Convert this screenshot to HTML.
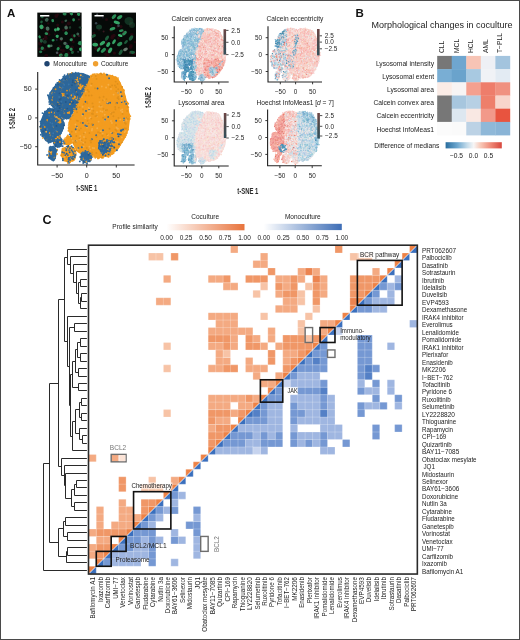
<!DOCTYPE html><html><head><meta charset="utf-8"><style>
html,body{margin:0;padding:0;background:#fff;}body{width:520px;height:640px;overflow:hidden;}
svg{display:block;font-family:"Liberation Sans",sans-serif;filter:blur(0.3px);}
</style></head><body>
<svg width="520" height="640" viewBox="0 0 520 640">
<rect x="0" y="0" width="520" height="640" fill="#fff"/>
<text x="7" y="17" font-size="11.5" font-weight="bold" fill="#111">A</text>
<text x="355.5" y="17.3" font-size="11.5" font-weight="bold" fill="#111">B</text>
<text x="42.5" y="223.8" font-size="12.5" font-weight="bold" fill="#111">C</text>
<rect x="37.3" y="12.6" width="44.3" height="44.3" fill="#060a08"/>
<clipPath id="cp1"><rect x="37.3" y="12.6" width="44.3" height="44.3"/></clipPath><g clip-path="url(#cp1)">
<circle cx="44" cy="49.4" r="1.8" fill="#2a0810" opacity="0.8"/>
<circle cx="49.1" cy="34.6" r="1.4" fill="#2a0810" opacity="0.8"/>
<circle cx="65.9" cy="47" r="1.1" fill="#2a0810" opacity="0.8"/>
<circle cx="39.5" cy="49" r="1.4" fill="#2a0810" opacity="0.8"/>
<circle cx="70.5" cy="13.7" r="1.4" fill="#2a0810" opacity="0.8"/>
<circle cx="68.8" cy="23.3" r="1.9" fill="#2a0810" opacity="0.8"/>
<circle cx="76.4" cy="14.9" r="1" fill="#2a0810" opacity="0.8"/>
<circle cx="61.2" cy="53.3" r="1.4" fill="#2a0810" opacity="0.8"/>
<circle cx="47.5" cy="31.5" r="1" fill="#2a0810" opacity="0.8"/>
<circle cx="47.7" cy="32.1" r="1.5" fill="#2a0810" opacity="0.8"/>
<circle cx="48.2" cy="23.4" r="1.2" fill="#2a0810" opacity="0.8"/>
<circle cx="57.7" cy="25.9" r="1" fill="#2a0810" opacity="0.8"/>
<circle cx="73.7" cy="37.1" r="1.6" fill="#2a0810" opacity="0.8"/>
<circle cx="46.2" cy="55.6" r="1.9" fill="#2a0810" opacity="0.8"/>
<circle cx="43.4" cy="27.7" r="1.7" fill="#2a0810" opacity="0.8"/>
<circle cx="68.4" cy="53.2" r="1.4" fill="#2a0810" opacity="0.8"/>
<circle cx="73.4" cy="42" r="1.3" fill="#2a0810" opacity="0.8"/>
<circle cx="63.2" cy="50.9" r="1.8" fill="#2a0810" opacity="0.8"/>
<circle cx="59.7" cy="38.5" r="1" fill="#2a0810" opacity="0.8"/>
<circle cx="48.6" cy="47.3" r="1.4" fill="#2a0810" opacity="0.8"/>
<circle cx="45.6" cy="36.8" r="1.7" fill="#2a0810" opacity="0.8"/>
<circle cx="66.8" cy="29.4" r="1.4" fill="#2a0810" opacity="0.8"/>
<circle cx="59.8" cy="46.5" r="1.5" fill="#2a0810" opacity="0.8"/>
<circle cx="54.9" cy="34.3" r="1" fill="#2a0810" opacity="0.8"/>
<circle cx="40.1" cy="43.4" r="2" fill="#2a0810" opacity="0.8"/>
<circle cx="63.4" cy="30.2" r="1.2" fill="#2a0810" opacity="0.8"/>
<circle cx="59.5" cy="55.1" r="1.8" fill="#2a0810" opacity="0.8"/>
<circle cx="61.1" cy="50" r="1.2" fill="#2a0810" opacity="0.8"/>
<circle cx="60" cy="53.9" r="1.6" fill="#2a0810" opacity="0.8"/>
<circle cx="57.7" cy="25" r="1.5" fill="#2a0810" opacity="0.8"/>
<circle cx="78.8" cy="13.8" r="1.8" fill="#2a0810" opacity="0.8"/>
<circle cx="73" cy="51.1" r="1.7" fill="#2a0810" opacity="0.8"/>
<circle cx="72.5" cy="35.5" r="1.6" fill="#2a0810" opacity="0.8"/>
<circle cx="56.3" cy="16" r="1.9" fill="#2a0810" opacity="0.8"/>
<circle cx="62.4" cy="22.1" r="1.5" fill="#2a0810" opacity="0.8"/>
<circle cx="58.8" cy="28.7" r="1.3" fill="#2a0810" opacity="0.8"/>
<circle cx="61.1" cy="40" r="1.6" fill="#2a0810" opacity="0.8"/>
<circle cx="57.7" cy="14.8" r="1.2" fill="#2a0810" opacity="0.8"/>
<circle cx="45.8" cy="38.3" r="1.9" fill="#2a0810" opacity="0.8"/>
<circle cx="72.1" cy="47.3" r="1.8" fill="#2a0810" opacity="0.8"/>
<ellipse cx="42.1" cy="16.6" rx="1.6" ry="1.7" fill="#1d5a3a" transform="rotate(117 42.1 16.6)"/>
<ellipse cx="64.6" cy="13.9" rx="2" ry="1.6" fill="#267e4e" transform="rotate(3 64.6 13.9)"/>
<ellipse cx="71.4" cy="13.7" rx="1.8" ry="1.4" fill="#2a9058" transform="rotate(48 71.4 13.7)"/>
<ellipse cx="78.6" cy="14.2" rx="1.6" ry="1.7" fill="#2a9058" transform="rotate(115 78.6 14.2)"/>
<ellipse cx="41.5" cy="21.9" rx="1.5" ry="1.3" fill="#1d5a3a" transform="rotate(111 41.5 21.9)"/>
<ellipse cx="46.7" cy="19.8" rx="2" ry="1.8" fill="#3a5e4e" transform="rotate(140 46.7 19.8)"/>
<ellipse cx="52.7" cy="20.6" rx="1.6" ry="1.4" fill="#2b8c57" transform="rotate(81 52.7 20.6)"/>
<ellipse cx="65.8" cy="20.7" rx="1.4" ry="1.1" fill="#3a5e4e" transform="rotate(152 65.8 20.7)"/>
<ellipse cx="73.6" cy="19.8" rx="1.6" ry="1.4" fill="#2a9058" transform="rotate(81 73.6 19.8)"/>
<ellipse cx="41.5" cy="26.8" rx="2.1" ry="2.3" fill="#36a466" transform="rotate(158 41.5 26.8)"/>
<ellipse cx="47.6" cy="28.6" rx="1.9" ry="2.1" fill="#4a6a5a" transform="rotate(169 47.6 28.6)"/>
<ellipse cx="55.4" cy="29.9" rx="1.6" ry="1.3" fill="#36a466" transform="rotate(63 55.4 29.9)"/>
<ellipse cx="58.1" cy="29.1" rx="1.7" ry="1.7" fill="#3fb271" transform="rotate(23 58.1 29.1)"/>
<ellipse cx="66.1" cy="27.6" rx="1.9" ry="1.8" fill="#4a6a5a" transform="rotate(78 66.1 27.6)"/>
<ellipse cx="70" cy="27.5" rx="1.4" ry="1.2" fill="#1a3a2a" transform="rotate(77 70 27.5)"/>
<ellipse cx="80.2" cy="27.5" rx="1.6" ry="1.2" fill="#1a3a2a" transform="rotate(23 80.2 27.5)"/>
<ellipse cx="39.6" cy="36.9" rx="1.6" ry="1.2" fill="#2a9058" transform="rotate(68 39.6 36.9)"/>
<ellipse cx="46.4" cy="33.6" rx="1.8" ry="1.4" fill="#2b8c57" transform="rotate(2 46.4 33.6)"/>
<ellipse cx="57.2" cy="36.3" rx="1.6" ry="1.6" fill="#36a466" transform="rotate(25 57.2 36.3)"/>
<ellipse cx="66.1" cy="33.2" rx="1.8" ry="1.8" fill="#2b8c57" transform="rotate(44 66.1 33.2)"/>
<ellipse cx="74.4" cy="35.7" rx="1.5" ry="1.2" fill="#267e4e" transform="rotate(78 74.4 35.7)"/>
<ellipse cx="77.8" cy="34" rx="1.5" ry="1.4" fill="#3a5e4e" transform="rotate(32 77.8 34)"/>
<ellipse cx="41.3" cy="40.8" rx="2" ry="1.6" fill="#1d5a3a" transform="rotate(80 41.3 40.8)"/>
<ellipse cx="44.9" cy="41.9" rx="2" ry="1.9" fill="#1a3a2a" transform="rotate(176 44.9 41.9)"/>
<ellipse cx="53.1" cy="40.2" rx="1.5" ry="1.3" fill="#2a9058" transform="rotate(170 53.1 40.2)"/>
<ellipse cx="61.4" cy="38.8" rx="1.6" ry="1.6" fill="#4a6a5a" transform="rotate(110 61.4 38.8)"/>
<ellipse cx="65" cy="43.4" rx="1.8" ry="1.7" fill="#4a6a5a" transform="rotate(2 65 43.4)"/>
<ellipse cx="71.3" cy="39.7" rx="1.7" ry="1.5" fill="#2a9058" transform="rotate(165 71.3 39.7)"/>
<ellipse cx="80.1" cy="43.2" rx="2.1" ry="2.2" fill="#2b8c57" transform="rotate(90 80.1 43.2)"/>
<ellipse cx="42.3" cy="48.3" rx="1.8" ry="1.7" fill="#267e4e" transform="rotate(101 42.3 48.3)"/>
<ellipse cx="49.1" cy="46.1" rx="1.8" ry="1.5" fill="#3fb271" transform="rotate(1 49.1 46.1)"/>
<ellipse cx="51.1" cy="45.8" rx="1.5" ry="1.3" fill="#4a6a5a" transform="rotate(175 51.1 45.8)"/>
<ellipse cx="58.1" cy="48.7" rx="1.8" ry="1.5" fill="#2b8c57" transform="rotate(122 58.1 48.7)"/>
<ellipse cx="67.4" cy="46.8" rx="2.1" ry="2.1" fill="#30995d" transform="rotate(167 67.4 46.8)"/>
<ellipse cx="71.1" cy="49.2" rx="1.6" ry="1.6" fill="#2a9058" transform="rotate(130 71.1 49.2)"/>
<ellipse cx="80.6" cy="49.3" rx="1.9" ry="1.6" fill="#36a466" transform="rotate(79 80.6 49.3)"/>
<ellipse cx="40.7" cy="51.8" rx="1.6" ry="1.4" fill="#24704a" transform="rotate(179 40.7 51.8)"/>
<ellipse cx="60.8" cy="55.3" rx="1.9" ry="1.7" fill="#2a9058" transform="rotate(155 60.8 55.3)"/>
<ellipse cx="66.3" cy="55.1" rx="2.1" ry="2" fill="#267e4e" transform="rotate(109 66.3 55.1)"/>
<ellipse cx="72.4" cy="52.4" rx="1.6" ry="1.5" fill="#1d5a3a" transform="rotate(126 72.4 52.4)"/>
<circle cx="67.1" cy="43.9" r="0.8" fill="#3a2a5a" opacity="0.6"/>
<circle cx="61.3" cy="55.7" r="1" fill="#5a2030" opacity="0.6"/>
<circle cx="72.5" cy="40.2" r="0.8" fill="#5a2030" opacity="0.6"/>
<circle cx="78.9" cy="19.5" r="1.1" fill="#5a2030" opacity="0.6"/>
<circle cx="57.1" cy="52.7" r="1.3" fill="#7a7f8a" opacity="0.6"/>
<circle cx="78.1" cy="51.8" r="0.9" fill="#556b7a" opacity="0.6"/>
<circle cx="56.8" cy="39.9" r="0.9" fill="#3a2a5a" opacity="0.6"/>
<circle cx="43.3" cy="39" r="0.9" fill="#5a2030" opacity="0.6"/>
<circle cx="66.2" cy="25.3" r="0.9" fill="#5a2030" opacity="0.6"/>
<circle cx="78.9" cy="35.9" r="1" fill="#5a2030" opacity="0.6"/>
</g>
<rect x="40.1" y="15" width="9.2" height="1.5" fill="#fff"/>
<rect x="91.7" y="12.6" width="44.3" height="44.3" fill="#060a08"/>
<clipPath id="cp2"><rect x="91.7" y="12.6" width="44.3" height="44.3"/></clipPath><g clip-path="url(#cp2)">
<circle cx="133.1" cy="53.7" r="1.1" fill="#2a0810" opacity="0.8"/>
<circle cx="96.3" cy="48.9" r="1.7" fill="#2a0810" opacity="0.8"/>
<circle cx="121" cy="26.6" r="1.6" fill="#2a0810" opacity="0.8"/>
<circle cx="118.4" cy="38.2" r="1.2" fill="#2a0810" opacity="0.8"/>
<circle cx="110.9" cy="30.2" r="1.7" fill="#2a0810" opacity="0.8"/>
<circle cx="134.8" cy="53.8" r="1.5" fill="#2a0810" opacity="0.8"/>
<circle cx="111.5" cy="24.9" r="1" fill="#2a0810" opacity="0.8"/>
<circle cx="93.9" cy="33.3" r="1.3" fill="#2a0810" opacity="0.8"/>
<circle cx="108.8" cy="51.3" r="1.5" fill="#2a0810" opacity="0.8"/>
<circle cx="116.4" cy="23.6" r="1" fill="#2a0810" opacity="0.8"/>
<circle cx="106.5" cy="19.4" r="1.5" fill="#2a0810" opacity="0.8"/>
<circle cx="134.9" cy="42.1" r="1.2" fill="#2a0810" opacity="0.8"/>
<circle cx="130.5" cy="47.3" r="1.7" fill="#2a0810" opacity="0.8"/>
<circle cx="131" cy="45.9" r="1.8" fill="#2a0810" opacity="0.8"/>
<circle cx="107.7" cy="55.1" r="2" fill="#2a0810" opacity="0.8"/>
<circle cx="99.5" cy="45.5" r="1.7" fill="#2a0810" opacity="0.8"/>
<circle cx="112.2" cy="36" r="1.5" fill="#2a0810" opacity="0.8"/>
<circle cx="131.8" cy="34.8" r="1.8" fill="#2a0810" opacity="0.8"/>
<circle cx="107.7" cy="50.9" r="1.9" fill="#2a0810" opacity="0.8"/>
<circle cx="112.2" cy="37.6" r="1.9" fill="#2a0810" opacity="0.8"/>
<circle cx="123.3" cy="34.2" r="1.2" fill="#2a0810" opacity="0.8"/>
<circle cx="106.4" cy="43.2" r="1.2" fill="#2a0810" opacity="0.8"/>
<circle cx="131.1" cy="24.9" r="1.9" fill="#2a0810" opacity="0.8"/>
<circle cx="105.8" cy="54.1" r="1.7" fill="#2a0810" opacity="0.8"/>
<circle cx="114" cy="35.5" r="1.7" fill="#2a0810" opacity="0.8"/>
<circle cx="117.6" cy="26.8" r="1.2" fill="#2a0810" opacity="0.8"/>
<circle cx="114.4" cy="53.1" r="1.6" fill="#2a0810" opacity="0.8"/>
<circle cx="95.9" cy="48.3" r="1.7" fill="#2a0810" opacity="0.8"/>
<circle cx="131.1" cy="21.7" r="1.7" fill="#2a0810" opacity="0.8"/>
<circle cx="95.2" cy="41.2" r="1.3" fill="#2a0810" opacity="0.8"/>
<ellipse cx="129" cy="21" rx="4.5" ry="4" fill="#1c5236" opacity="0.55"/><ellipse cx="132" cy="25" rx="3" ry="3" fill="#1c5236" opacity="0.5"/>
<ellipse cx="99" cy="27" rx="3" ry="2.5" fill="#17402c" opacity="0.9"/>
<ellipse cx="95.2" cy="44.6" rx="2.9" ry="1.9" fill="#35a466" transform="rotate(6 95.2 44.6)"/>
<ellipse cx="102.4" cy="43.2" rx="3.1" ry="1.7" fill="#35a466" transform="rotate(-34 102.4 43.2)"/>
<ellipse cx="108.2" cy="44.6" rx="2.7" ry="1.7" fill="#35a466" transform="rotate(-56 108.2 44.6)"/>
<ellipse cx="114" cy="41.7" rx="2.7" ry="1.4" fill="#35a466" transform="rotate(-57 114 41.7)"/>
<ellipse cx="98.6" cy="49.4" rx="2.5" ry="1.3" fill="#35a466" transform="rotate(-55 98.6 49.4)"/>
<ellipse cx="103.4" cy="50.4" rx="3.1" ry="1.7" fill="#2a8a55" transform="rotate(-44 103.4 50.4)"/>
<ellipse cx="110.1" cy="50.4" rx="3" ry="1.7" fill="#35a466" transform="rotate(-60 110.1 50.4)"/>
<ellipse cx="119.7" cy="44.1" rx="2.9" ry="1.8" fill="#2a8a55" transform="rotate(-29 119.7 44.1)"/>
<ellipse cx="116.8" cy="22.5" rx="3.2" ry="1.6" fill="#35a466" transform="rotate(18 116.8 22.5)"/>
<ellipse cx="112.5" cy="28.8" rx="3" ry="1.5" fill="#2f9a5e" transform="rotate(-17 112.5 28.8)"/>
<ellipse cx="120.2" cy="35.5" rx="2.4" ry="1.4" fill="#3db070" transform="rotate(17 120.2 35.5)"/>
<ellipse cx="121.2" cy="30.7" rx="2.4" ry="1.3" fill="#2a8a55" transform="rotate(-9 121.2 30.7)"/>
<ellipse cx="119.7" cy="17.2" rx="3" ry="1.7" fill="#2f9a5e" transform="rotate(-32 119.7 17.2)"/>
<ellipse cx="114" cy="16.7" rx="2.9" ry="1.6" fill="#2a8a55" transform="rotate(-47 114 16.7)"/>
<ellipse cx="124.5" cy="33.1" rx="2.8" ry="1.7" fill="#2a8a55" transform="rotate(-44 124.5 33.1)"/>
<ellipse cx="132.2" cy="52.3" rx="2.9" ry="1.6" fill="#1d5a3a" transform="rotate(5 132.2 52.3)"/>
<ellipse cx="125.5" cy="49.4" rx="2.5" ry="1.6" fill="#6a7a70" transform="rotate(-27 125.5 49.4)"/>
<ellipse cx="120.7" cy="52.3" rx="2.9" ry="1.6" fill="#1d5a3a" transform="rotate(-58 120.7 52.3)"/>
<ellipse cx="107" cy="38" rx="2.8" ry="1.5" fill="#1d5a3a" transform="rotate(-53 107 38)"/>
<ellipse cx="126" cy="42" rx="2.4" ry="1.3" fill="#1d5a3a" transform="rotate(-48 126 42)"/>
<ellipse cx="131" cy="38" rx="2.9" ry="1.7" fill="#1d5a3a" transform="rotate(-56 131 38)"/>
<ellipse cx="93.5" cy="36" rx="2.6" ry="1.5" fill="#1d5a3a" transform="rotate(-28 93.5 36)"/>
<circle cx="96.1" cy="23.3" r="1.2" fill="#556b7a" opacity="0.6"/>
<circle cx="103.6" cy="31.5" r="1" fill="#5a2030" opacity="0.6"/>
<circle cx="99.1" cy="29.9" r="0.7" fill="#5a2030" opacity="0.6"/>
<circle cx="102.9" cy="17.8" r="0.7" fill="#3a2a5a" opacity="0.6"/>
<circle cx="97.2" cy="14.6" r="1.1" fill="#7a7f8a" opacity="0.6"/>
<circle cx="105.8" cy="40.7" r="0.7" fill="#3a2a5a" opacity="0.6"/>
<circle cx="123.5" cy="31.9" r="1" fill="#5a2030" opacity="0.6"/>
<circle cx="130" cy="52.9" r="1" fill="#5a2030" opacity="0.6"/>
<circle cx="120.8" cy="33.9" r="0.6" fill="#5a2030" opacity="0.6"/>
<circle cx="118.5" cy="25.8" r="1.3" fill="#556b7a" opacity="0.6"/>
</g>
<rect x="94.5" y="15" width="9.2" height="1.5" fill="#fff"/>
<circle cx="47" cy="63.8" r="2.7" fill="#1f4470"/>
<text x="53.3" y="66.4" font-size="7.2" fill="#222" textLength="33.7" lengthAdjust="spacingAndGlyphs">Monoculture</text>
<circle cx="95.6" cy="63.8" r="2.7" fill="#f0a030"/>
<text x="100.9" y="66.4" font-size="7.2" fill="#222" textLength="27.5" lengthAdjust="spacingAndGlyphs">Coculture</text>
<g opacity="1">
<path d="M90.3 75.9L93.8 74.1L101.5 73.5L110.4 74.7L116.9 77L120.4 82.2L124.6 92L128.1 105.2L130.2 117.9L128.7 129.4L124.6 139.2L118.1 149.6L110.4 155.9L99.7 158.2L91.4 157.1L84.3 155.9L79.6 153.6L76 150.2L73.1 144.4L71.3 137.5L68.3 130.6L68.3 122.5L73.7 112.1L78.4 101.8L83.1 92L86.7 82.2Z" fill="#f39c1f"/>
<path d="M61.8 147.9L68.9 145.5L74.9 147.9L76.6 153.6L74.9 160.5L68.9 162.8L63 161.1L60.7 154.8Z" fill="#f39c1f"/>
<path d="M63 140.9L67.2 135.2L70.7 136.3L72.5 143.2L68.9 145.5L63 144.4Z" fill="#f39c1f"/>
<path d="M70.1 73L77.8 72.4L84.3 73.5L90.3 75.9L87.9 82.2L84.3 92L79.6 100.6L74.9 109.8L70.7 116.2L67.2 119.6L63 118.5L58.3 115L54.1 109.8L50 104.1L48.2 98.9L50 92L54.1 86.2L58.9 81L64.2 76.4Z" fill="#2d679a"/>
<path d="M54.1 109.8L49.4 107.5L44.1 112.1L40.5 120.8L39.9 128.3L41.7 135.2L45.3 140.9L50 143.2L55.3 140.9L60.1 136.3L63 130.6L64.8 123.7L63 119.1Z" fill="#2d679a"/>
<path d="M53 135.8L58.9 134.6L62.4 139.2L61.8 146.7L57.1 147.9L53 143.8Z" fill="#2d679a"/>
<path d="M48.8 146.7L54.1 145.5L57.1 150.2L55.9 158.2L52.4 161.1L48.2 158.2Z" fill="#2d679a"/>
<path d="M80.8 152.5L87.9 150.7L92.6 154.2L91.4 161.1L84.9 163.4L80.2 159.4Z" fill="#2d679a"/>
<path d="M98.5 142.1L104.5 138.6L110.4 140.9L113.9 146.7L110.4 152.5L103.3 154.2L97.9 149.6Z" fill="#2d679a"/>
</g>
<path stroke="#f39c1f" stroke-width="1.9" stroke-linecap="round" fill="none" d="M81.9 113.3h0M126 120.4h0M86.8 109.4h0M80 85.1h0M81.5 137.3h0M69.9 142.4h0M110.6 128.2h0M117.5 127.2h0M90.2 122.9h0M51.7 104.2h0M59.9 137.7h0M118.4 103.9h0M111.6 133h0M67.2 158.3h0M74.9 122h0M93.2 84h0M108.9 77.4h0M122.2 107.9h0M93.9 137.1h0M96 138.7h0M80.8 158.1h0M91.8 151.1h0M103.3 109.3h0M104 73.4h0M83 95.2h0M108.8 80.2h0M108.2 98.3h0M113.7 77.8h0M119.5 108.6h0M96.6 126.5h0M93.1 107.1h0M106.7 126.6h0M80.3 85.2h0M83.8 141.6h0M103.3 118.3h0M96.2 77.3h0M123.4 102.5h0M113.2 77.8h0M121.3 128.3h0M93 134.2h0M116.9 84.4h0M105.9 75.1h0M66.2 148h0M81.2 138.5h0M98.4 121.5h0M97 103.2h0M102.9 144.2h0M95.8 93.3h0M96.8 80.2h0M74 110.5h0M120.7 89.1h0M126.3 121.7h0M106.6 87.5h0M118.4 131h0M90.6 91.5h0M83.5 160.1h0M112 147.6h0M70.2 89.5h0M116.8 99.5h0M127.5 117.6h0M118 111.6h0M118.1 80h0M129.3 114.9h0M93 144.5h0M89.7 116.7h0M130.3 116.3h0M90.9 117.5h0M89.1 124.7h0M115.4 80.5h0M88.4 123h0M74.2 124.4h0M98.3 114.9h0M118.4 106.8h0M118.9 142.6h0M108 89.1h0M123.7 134.1h0M63.3 154.8h0M112.9 151.7h0M102.8 77h0M85.8 93.7h0M85.9 100h0M91.7 149.4h0M81.9 92.9h0M70.3 120.3h0M87 124.5h0M105.5 85.7h0M107.5 126.2h0M121.8 87.7h0M105.9 83.2h0M98.7 126.9h0M94.7 117.2h0M109.2 91.4h0M116.3 127h0M104.8 91.7h0M109.4 125.1h0M71 119.3h0M97.9 106.6h0M100 110.5h0M88.7 127.1h0M104.6 92.7h0M96.2 95.3h0M75.2 156.3h0M90.9 117.3h0M95.1 92.9h0M125.9 126h0M72.8 138.3h0M99.6 111.8h0M64.9 96.4h0M75.5 79.9h0M79.1 121h0M106.3 119.7h0M96.1 153h0M97.9 121.2h0M89.3 152.5h0M81.1 101.3h0M112.9 105.4h0M71.4 139.5h0M103.2 111.2h0M95.3 105.8h0M96.8 154.2h0M91.1 104.8h0M74.1 119.2h0M108.7 85.8h0M114.4 104.6h0M113.7 129.4h0M69.1 113h0M109.2 77.5h0M91.8 119h0M58.2 101.9h0M107.3 99.3h0M71.4 95.2h0M104.8 111h0M113.9 135h0M68.8 125.4h0M71.9 129.5h0M114.3 113.3h0M116.3 112.1h0M89.9 111.3h0M91 89.6h0M109 80.1h0M60.5 92.2h0M88 92.3h0M75.1 132.2h0M85.1 113h0M105.4 98.2h0M124.7 126.2h0M115.2 100.6h0M117.5 90.1h0M116.7 80.8h0M87.8 97.8h0M113.2 125.5h0M78.3 150.1h0M59.1 122.8h0M95.4 78.1h0M93.6 144.2h0M56.2 137.8h0M54.6 93.1h0M67.7 112.8h0M114.1 119h0M113.7 128.4h0M88.2 115.7h0M105.9 107.7h0M69.2 139.8h0M120.8 116.6h0M118 87.3h0M106.3 154.6h0M84.1 119h0M127.8 109.6h0M112.1 124.8h0M115.2 145.2h0M90.4 114.7h0M41 128.4h0M106.1 141.8h0M91.4 121h0M113.5 145.1h0M96.5 136.8h0M73.8 114.9h0M106.8 134.1h0M126.7 111.3h0M106.1 134.1h0M102.1 97.6h0M87.1 104.3h0M110.2 87.5h0M75.4 133.5h0M77.4 98.3h0M100.4 107.4h0M123.3 112.2h0M72.6 117.5h0M52.8 97.5h0M105.5 86.7h0M97.1 144.6h0M93.3 99.7h0M72.4 121.2h0M90.7 139.9h0M115.3 108.1h0M66.4 80.4h0M61.5 109.5h0M116.9 146.1h0M100.9 134.6h0M102.9 94.2h0M58.3 120.3h0M92.9 148.1h0M86.7 139h0M93.4 132.7h0M128.3 107.4h0M83.2 125.7h0M97.1 99.7h0M109.9 94.3h0M77.4 123.2h0M91.8 81.1h0M88.2 114.6h0M107.5 80.5h0M107.3 108h0M109.4 135.3h0M95.3 157.7h0M85.1 128h0M88.3 141.6h0M101.8 83.1h0M91.7 80.8h0M122.1 87.2h0M76 129.9h0M83 145h0M83.6 147.3h0M103.9 77.2h0M59.8 135.8h0M100.9 90.4h0M119.9 108.6h0M126.1 101.8h0M80.6 116h0M95.2 137.7h0M82 93.9h0M85.3 148h0M90.8 103.3h0M112.7 116h0M85.8 85.7h0M102.9 115h0M111.9 149.4h0M96.1 142.1h0M112.3 91.4h0M59.7 118h0M95.6 97.5h0M92.6 81.8h0M57.1 149.8h0M79.3 123.5h0M98 115.3h0M64.4 109.8h0M117.7 89.3h0M74.4 144.4h0M85.4 92.7h0M76.1 135.7h0M110.2 94.8h0M91 141.2h0M73.3 132.1h0M120.9 109.9h0M121.9 119.8h0M59.3 120.2h0M75.3 155.1h0M103.2 130.6h0M56.2 139.9h0M104.9 137.2h0M72.6 150.1h0M111.8 98.1h0M68.6 128h0M90.7 150.4h0M104.8 140.2h0M77.1 127h0M119.2 143.4h0M91.5 88.2h0M102.1 78.1h0M100.6 73.9h0M120.2 142.2h0M98.5 155.9h0M79.7 127.6h0M66.6 148.6h0M77.5 119.9h0M62.4 156h0M71.9 125.1h0M104.4 112.5h0M44.9 126.8h0M93.9 120.5h0M69.6 140.4h0M96.4 75.6h0M96.9 106.3h0M78 125.5h0M122.2 128.5h0M102.8 141.8h0M86.3 104.6h0M91 106.1h0M90.9 86.6h0M104.8 99.9h0M85.1 112.1h0M72.8 137.6h0M107.3 114h0M111 119.7h0M113.2 127.6h0M106 141h0M105.1 133.3h0M117.5 86.5h0M92.9 125.3h0M104.6 106h0M116.8 88.5h0M93.1 75.6h0M103.3 124.3h0M97.8 127.4h0M70 162.2h0M90.2 119h0M75 135.1h0M114.3 85.2h0M98.6 91.4h0M104.9 112.6h0M113.5 151h0M92 151.8h0M96.7 138.4h0M58.7 118.6h0M122.6 135.2h0M84.8 125.6h0M114.9 125.9h0M100 105.1h0M80.1 87.1h0M88.7 88h0M115.5 91.2h0M127.7 127.5h0M92.7 142.1h0M75.5 129.4h0M99.4 88h0M72.6 137.7h0M123.5 135.1h0M108.8 113h0M70.1 123.8h0M77.4 134.7h0M98.7 129.3h0M98.5 145h0M97.2 80.3h0M118.1 105.7h0M103.1 122.5h0M100.7 125.4h0M75.5 142.6h0M94.6 109.6h0M98.8 122.6h0M95.2 107.9h0M107.9 134.5h0M118 102.9h0M120.5 97.9h0M81 113.1h0M120.1 144.9h0M112.4 117.7h0M118.3 91.5h0M89.6 79h0M112.4 149.3h0M120.4 87.2h0M96.8 78.9h0M121.2 97.3h0M97.6 138.6h0M95.7 97.8h0M104.3 121.2h0M51.4 151.9h0M107.5 129.9h0M78.9 88.2h0M75.7 122.1h0M102 121.2h0M109 107.8h0M76.3 138.1h0M101.5 142h0M78.3 151.4h0M122.1 140.4h0M77.5 131.3h0M94.9 113.6h0M74.9 96.6h0M101.4 131.7h0M83.2 130.5h0M82.8 134h0M102.5 107.3h0M107.2 156.4h0M97.5 94.2h0M62.4 88.4h0M107.1 91.1h0M90.3 114.8h0M87.4 137h0M59.9 121.5h0M91.6 122.4h0M129.2 114.4h0M54.1 89h0M109.1 97.1h0M99.6 83.8h0M100.5 81.3h0M108.1 139.7h0M73.9 123.3h0M83.2 130.7h0M89.6 126.4h0M73.6 134.2h0M83.9 141.4h0M107.8 118.3h0M40.4 126.6h0M94.6 75.5h0M73.8 108.5h0M74 136.6h0M96.2 109.4h0M88.6 93.7h0M113.9 124.9h0M119.7 126h0M117.2 133.5h0M112.2 103.2h0M108 125.7h0M112 123.9h0M82 123.6h0M100.7 113h0M68.4 74.2h0M91.1 78.2h0M80.2 128.1h0M102.1 77h0M84.3 100.3h0M76.1 91.4h0M57.3 131.4h0M76.7 110.1h0M118.4 130.7h0M94.3 119.5h0M105 141.7h0M63.3 95.4h0M74.8 97.5h0M79.7 106.7h0M123.3 120h0M86 141.8h0M108.6 153.3h0M69.8 149.8h0M112.7 142.8h0M96.7 151.8h0M109.7 110.3h0M103.3 131h0M105.6 138.9h0M89.7 141.6h0M65.7 140.2h0M51.6 117.5h0M118.2 82.8h0M106.8 114.7h0M101 78.6h0M110.1 139.8h0M60.8 122.5h0M73.8 96.2h0M100.9 156.4h0M118.3 90.8h0M86.6 130.4h0M86.3 144.9h0M105.8 125.8h0M85.1 112.7h0M94.2 98.1h0M94.5 107.2h0M117.3 100.6h0M87.2 110.2h0M110.3 88.6h0M116.4 126.2h0M70.8 130.8h0M87.9 133.3h0M102.4 120.9h0M112.5 113.9h0M73.1 130.6h0M112.7 91.7h0M70.1 90.7h0M74.4 137.2h0M94.7 94.4h0M82.9 88h0M74.6 158.6h0M70.4 77.2h0M121.9 95.8h0M128.1 121.3h0M74.2 153.3h0M89.3 111.5h0M110.6 114.7h0M125.1 117.4h0M93.2 137.6h0M117.9 120.7h0M108.9 126.1h0M86 103.2h0M82.8 146.7h0M96.3 131.2h0M85 105.8h0M68.5 130.7h0M120.6 109.6h0M77.5 114.9h0M83.8 133.4h0M64.3 111.3h0M116.3 89.6h0M63.2 80.7h0M84.6 123.4h0M85.2 118.1h0M115.8 88.4h0M104.6 90.8h0M106.6 88.2h0M113.6 147.7h0M114.6 135.6h0M95.1 79.9h0M120.1 93.2h0M112.8 79.9h0M91.3 76.2h0M98 116.4h0M100.7 93.6h0M104.2 115.7h0M68.5 140.5h0M102.9 76h0M124.2 136.6h0M127.5 107.5h0M70.3 136.7h0M89.8 120.1h0M127 103.7h0M77.8 125.2h0M60.5 119.4h0M78.4 101.2h0M110.2 112.2h0M97.8 76.5h0M87.3 146.4h0M106.6 133.8h0M110 102.8h0M105.4 123.8h0M93 93.5h0M102 105.2h0M84.5 109.5h0M59 82h0M87 125.1h0M105.4 121.5h0M73.6 124.5h0M82.1 134.6h0M97.3 125.7h0M81.8 121h0M120.7 122.7h0M76.9 101.5h0M109.1 135.2h0M106 74.5h0M100.7 102.1h0M80.2 103.6h0M71.4 97.4h0M111.2 139.9h0M96.6 144.3h0M115.7 86.3h0M105.8 92.9h0M109.6 110.1h0M91.4 113.7h0M88.4 118.3h0M76.9 150.4h0M97 121.2h0M92.1 75.3h0M103.1 100h0M115.9 129h0M48.8 155.7h0M113.3 95.4h0M116 82.9h0M104 132.8h0M120.6 142.6h0M84.3 135h0M80.6 88h0M71.1 122.1h0M79.5 88h0M93.9 84.9h0M55.7 138.4h0M102.3 98.4h0M73.2 130.4h0M63.8 152.9h0M118 119.3h0M87.9 134.8h0M121.4 93.6h0M96.1 102.8h0M104.3 117.1h0M77.3 127.5h0M88.4 115.1h0M113.2 81.8h0M67.8 162.9h0M112.9 107h0M108.4 122.2h0M86.1 135.2h0M118.7 116h0M100 153.7h0M91.7 76.9h0M93 111h0M56 120.8h0M58.3 123h0M93.9 104.5h0M100.6 144.4h0M91 155h0M98.8 139.5h0M115.6 97.8h0M70.1 140.5h0M116.4 147.7h0M115.8 140h0M106.2 146.4h0M124.3 101.7h0M97.9 128.6h0M105.3 117.7h0M74.4 114.3h0M93.8 77.6h0M86.7 93h0M91 142.2h0M82.8 85.7h0M97.4 94.7h0M111.2 96.6h0M121.8 128.9h0M118.4 108.2h0M88 128.8h0M86.9 127.3h0M97.3 146.4h0M121.4 109.3h0M76.7 114.6h0M74.5 97.1h0M73.7 98.6h0M109.5 90.9h0M104.2 77.6h0M117.8 92.8h0M108.1 82h0M93.9 81.1h0M91.7 152.5h0M97.7 137.2h0M118.5 147.2h0M91 132.8h0M97.9 158.4h0M105.5 141.6h0M86.2 95.8h0M78.8 134.6h0M76.8 134.8h0M108.7 120h0M77.6 147.6h0M105.9 110.4h0M100.4 74.7h0M115.5 99.7h0M89.9 84h0M73.4 152.3h0M94.6 87.1h0M71.2 152.2h0M101.2 94.4h0M122.3 111.7h0M94.4 83.2h0M98.3 121.4h0M86.2 115.2h0M95.7 100.8h0M86.5 89.1h0M84.6 127.2h0M84 131.6h0M95.9 93.2h0M122.6 119.4h0M121.6 95h0M59.4 122.4h0M126.9 133h0M100.5 120h0M123.6 89.6h0M96.3 121.8h0M127.3 106.8h0M122.9 89.4h0M68.4 148.9h0M108 92.6h0M70.3 124.2h0M116.1 117.2h0M99.1 130.1h0M73.6 148.3h0M94.7 106.5h0M112.4 107.7h0M76.6 104.4h0M75.8 125.8h0M71.2 131.6h0M102 85.9h0M125.9 135.4h0M62.2 93.5h0M57.9 137h0M99.2 88.7h0M113.3 108h0M95.3 132.8h0M78 149h0M110.5 104.5h0M89.1 126.6h0M88 96.8h0M103.9 111.9h0M113.1 86.7h0M79.5 121.3h0M92.4 137.7h0M111 132.5h0M117.2 88.9h0M46.6 139.2h0M110.9 108.1h0M100.1 125.5h0M88.6 145.1h0M83 139.9h0M102.7 153.5h0M87.7 109.7h0M116.8 128.2h0M105.9 90.7h0M80.2 121.5h0M82.9 130.2h0M81.6 99.8h0M104.8 134h0M92.9 149.6h0M72.7 160.7h0M73.5 134.8h0M57 154h0M111.3 96.5h0M71.5 120h0M115.6 77.3h0M113.5 153.2h0M115.3 100.1h0M119.2 117.2h0M127.2 108.6h0M62.4 95.7h0M70 142.8h0M77.6 112.2h0M75.2 111.7h0M102.6 132.3h0M86.4 127.5h0M67.8 136.4h0M85.5 131.6h0M112.5 85.1h0M121.6 95.7h0M103.3 121.1h0M88.5 110.3h0M87 88.2h0M109 106.4h0M94.8 79.5h0M54.1 112.7h0M52.8 92.3h0M83.9 96.1h0M108.6 83.2h0M111.8 138.5h0M125.2 115.4h0M70.8 154.4h0M49.4 133h0M79.5 107.9h0M82.7 102.4h0M95.4 131.5h0M112.9 81.5h0M63 154.6h0M105.6 119.9h0M109.3 93.4h0M86.7 139.6h0M89.1 101.9h0M69.9 104h0M118.3 87.3h0M107.7 86.6h0M102.3 101.9h0M103.4 128.7h0M99.6 157.2h0M122.8 96.2h0M113.2 120.2h0M60.4 121h0M103 112.2h0M77 141.1h0M125.1 100.4h0M94.9 96.3h0M96.6 128.9h0M102 78.7h0M101.4 107.4h0M96.3 104.6h0M118.5 108.1h0M117.2 105.8h0M122.5 126.6h0M76.7 138.2h0M103.8 155.1h0M87.4 138.9h0M89.9 158.8h0M115.1 92h0M104.6 109.3h0M98.4 107.4h0M87.4 139h0M106.3 115.9h0M116.6 118.2h0M104.6 98.2h0M93.6 125.9h0M87.3 138.2h0M95.7 106.1h0M85.7 125h0M104.5 141.6h0M90.7 159.5h0M80.7 106.8h0M100.4 156.7h0M78.9 87.8h0M91.3 114.2h0M105.3 76.6h0M57.3 117.5h0M118.9 81.4h0M95.6 120.3h0M51.1 151.7h0M93.9 103.6h0M113.6 86.8h0M102 88.4h0M117.3 86.2h0M113 143.4h0M110.7 118.9h0M127 116.9h0M115.8 94.5h0M119.6 121.5h0M113.2 111.8h0M78 150.6h0M79.2 151.9h0M115.8 106.4h0M119.6 113h0M117.4 109.6h0M100 105.7h0M78.4 83.8h0M125.8 108.6h0M92.1 124.7h0M123.9 95.1h0M102 80.2h0M92.8 138.8h0M100.6 136h0M95.2 142.2h0M96.9 109.4h0M69.4 128.5h0M92.7 140.6h0M99.8 83.8h0M80.5 84.3h0M90.8 115.8h0M95.5 112.4h0M90.2 142.2h0M98.6 107.8h0M98.2 119.5h0M82.1 100.2h0M97.2 113.1h0M72.7 124.6h0M108.5 97.4h0M106.9 106.3h0M112.1 123h0M108.7 108.5h0M98.3 112.6h0M105.5 124.1h0M128.3 118.4h0M70.9 149.1h0M123.7 122.8h0M98 122.3h0M83.3 112.4h0M111.9 107.3h0M93.5 137.4h0M90.2 81.8h0M85 135.9h0M80.1 125.6h0M94.2 138.5h0M96.8 120h0M113.1 89.3h0M90.4 132.5h0M80 98.4h0M62.6 83h0M82.1 125.8h0M115.8 137.7h0M122.8 101.7h0M126.3 119.1h0M57.3 116.8h0M114.4 137.5h0M94.4 156.2h0M86.4 98.4h0M95.2 93.6h0M86.5 148h0M56.1 138.8h0M110.8 121.6h0M52 100.3h0M80.9 112.4h0M104.4 84.7h0M112.1 154h0M81.2 87.8h0M127.3 121.4h0M110.2 118.9h0M98.7 78.6h0M103.8 135h0M87.7 132.8h0M87.3 150.6h0M94.6 123h0M103.2 124.8h0M112.4 112.6h0M96.5 152.9h0M85.9 89.1h0M96.6 115.2h0M95.2 121.3h0M98.8 112.3h0M99.7 126.3h0M117.5 114.8h0M103.6 111.8h0M62.8 154.5h0M96.8 112.4h0M96.7 125h0M104.1 82.5h0M82.7 123.4h0M97.2 94.5h0M81.4 122.8h0M99.7 134.4h0M115.8 126.1h0M90.7 115.4h0M127.3 102.4h0M116 86.9h0M85.4 86.8h0M52.4 139.9h0M93.6 97.4h0M95.8 75.2h0M125.9 119.4h0M98.1 84.5h0M82.3 121.6h0M89 94.7h0M77.2 79.7h0M97.4 103.1h0M102.2 148.4h0M75.5 127.6h0M69.6 130h0M118 78.1h0M126.6 125.5h0M73.1 132.6h0M77.7 118.4h0M118.3 105.5h0M70.4 140.5h0M89.8 102.1h0M85.8 99.5h0M101.9 154h0M67.6 146.5h0M83.9 134.7h0M112.6 115.6h0M87.3 128.5h0M90.8 96.6h0M95.3 119.3h0M80.7 101.3h0M83.1 137.3h0M112.5 115.2h0M121 113.4h0M127.6 113.7h0M78.4 114.5h0M96.3 96.3h0M74.5 128.2h0M81.9 139.3h0M121 117.4h0M103 157.7h0M101.4 78.4h0M96.4 118.5h0M113.2 115.3h0M116.2 103.3h0M81.6 148h0M78.9 121.5h0M125.1 104.5h0M82.3 94.7h0M109.2 108.4h0M97.2 104.2h0M118.6 104.3h0M116.7 84.2h0M108 103.3h0M98.2 90.4h0M92.9 74.4h0M97.1 74.1h0M90.8 96.4h0M100.5 124.8h0M90.7 134.3h0M108.8 86.5h0M95.4 115.4h0M88.2 136h0M84.1 130h0M94.2 102.1h0M106.4 88.6h0M90 78.7h0M73.3 139.9h0M96.4 151.7h0M100.1 127.8h0M89 132h0M83.2 103.5h0M71.4 101.7h0M110.9 116.6h0M111.2 105.3h0M80.4 137.5h0M93.7 126.4h0M103.5 129.5h0M97.5 144.8h0M89.7 144h0M92.9 135.1h0M116.1 123.6h0M98.5 155h0M90.9 104.2h0M96.4 142.6h0M120.1 89.6h0M118.5 144.6h0M96.7 106.1h0M73.4 134.6h0M85.1 142.6h0M85 88.8h0M111 132.1h0M108.3 131.7h0M114.7 109.9h0M124.9 96.4h0M104.1 95.3h0M103.7 78.5h0M94.8 103.4h0M90.2 113.8h0M68.3 97.5h0M96.2 106.4h0M86.4 116.6h0M79.5 87.9h0M101.6 89.1h0M115.7 78.2h0M59.5 118.4h0M93.4 80.8h0M97 94.3h0M124 90.7h0M97.4 94.7h0M92.9 133.5h0M103.3 88.7h0M89.1 89.2h0M110.1 95.1h0M70.3 118h0M113 111.8h0M106.9 155.6h0M77.1 132.5h0M54.6 157.8h0M99.5 75h0M95.4 105.8h0M105.8 153.6h0M98.2 152.3h0M89.8 104.1h0M126 133.5h0M107.6 130.5h0M76.6 85.5h0M81.1 86.6h0M104.8 155.2h0M118.2 100.7h0M86.4 84.6h0M116.3 84.2h0M70.9 124.9h0M106.4 131.2h0M97.1 143h0M113.1 95.5h0M84.5 115.1h0M66.8 155.5h0M79.2 110.2h0M91.3 94.1h0M62.6 94.1h0M88.9 148.3h0M114.7 80.6h0M113.7 96.6h0M92.2 127.9h0M112.3 75.7h0M112.6 97.9h0M70.7 122.3h0M105.7 98.3h0M97.7 81.1h0M108.5 156.9h0M76.7 117.2h0M73.7 141h0M98.8 124.3h0M104.8 106.5h0M84.9 116.5h0M76.9 79.5h0M113.1 134.9h0M70.7 122.8h0M105.2 131.5h0M107.7 129.9h0M97.9 155.1h0M69.3 112.1h0M96.7 122.2h0M120 137.7h0M61.8 154h0M95.7 83.8h0M117 139.9h0M126.5 103.5h0M100.1 105.8h0M113.6 135.8h0M108.4 108.3h0M73.9 137.8h0M105 120.5h0M59.9 98.8h0M112.6 101.8h0M71 120.6h0M107.9 76.3h0M110.2 89.6h0M105.1 125.9h0M105.8 119.2h0M125.7 122.8h0M114.1 103.7h0M113.8 95.1h0M87.4 94.4h0M115.3 115.6h0M102.1 83.7h0M115.4 144.8h0M118.4 91.8h0M104.6 112.2h0M124.1 123h0M77.2 144.1h0M106.7 76.2h0M108.6 131.5h0M111 100.8h0M78.5 120.1h0M91 98.8h0M76 115.8h0M116.7 101.2h0M86.8 105.3h0M103.3 104.7h0M79.9 100.1h0M110.2 144.4h0M73.4 139.7h0M129.7 119h0M112.3 83.1h0M75.3 121.4h0M88.6 148.2h0M87.7 126.2h0M101.1 107.7h0M96.2 116.3h0M94.3 138.6h0M120.3 112.4h0M95 76.5h0M80.4 130.2h0M107.8 112.2h0M89.2 78.2h0M117.8 87h0M96.5 116.3h0M80.6 86.8h0M93.8 125.3h0M108.7 124.5h0M104.4 117.5h0M97.8 77.3h0M123.5 118.5h0M75.2 97h0M102 155.5h0M87 138.6h0M67.3 139.3h0M118.7 103.6h0M99.5 92.5h0M95.8 112.8h0M89.6 117h0M96.3 91.5h0M99.3 152.7h0M84.5 119.8h0M63.1 105.5h0M79.8 111.1h0M80.6 85.8h0M73.4 114.7h0M74.7 135.2h0M82.9 120.5h0M107.8 121h0M50.1 135.3h0M78 125.3h0M58.9 83.4h0M68.5 112.8h0M96.3 152.8h0M79.5 151.1h0M102.1 129.5h0M117.6 118.1h0M118.3 92.8h0M77.9 97h0M88.7 153h0M85.8 135.4h0M87.2 128h0M109.6 102.1h0M78.9 118.1h0M95.3 109.6h0M108.8 95h0M93 115.6h0M113 136h0M124.2 104.8h0M99 150.1h0M105.9 82.9h0M95.5 82.4h0M90.5 115.9h0M77.7 110h0M124.4 108.7h0M108.4 120.9h0M121.9 93.4h0M87.6 135.6h0M98.7 158.2h0M87.3 124.2h0M95.7 137h0M89.4 122.5h0M125.6 111.8h0M90.3 130.7h0M81.9 139.4h0M68.3 139.7h0M90.4 136.1h0M106.9 136.1h0M103.3 139.6h0M98.9 130.3h0M89.9 103.7h0M117.7 140.4h0M92.5 110.5h0M95.3 115.2h0M101.3 139.2h0M109.6 153.4h0M113.7 149.8h0M89 147.1h0M118.9 114.2h0M122.9 97.6h0M111.4 112.6h0M107.9 152.7h0M111.8 129.3h0M80.7 152.1h0M123.7 130.7h0M101.5 120.8h0M81.8 143.3h0M94.5 94.3h0M109 127h0M91 135.9h0M101.3 124.6h0M112 137h0M71.9 140.5h0M95.8 130.7h0M102.2 97.4h0M86.7 138.2h0M77.1 77.8h0M124.1 122.5h0M114.6 113.3h0M100 128.5h0M101.3 82.9h0M110.3 119.6h0M109.2 149.7h0M82.6 86.1h0M71.3 130.3h0M105.4 110.4h0M66.6 149.1h0M97.3 143.5h0M90.6 119.1h0M120.7 124.9h0M69.8 129.2h0M107.6 131.7h0M112 90.5h0M69.5 143.4h0M89.6 152.5h0M67.8 135.4h0M82.9 76.8h0M107.8 123.4h0M109.7 95.8h0M86.7 95.8h0M109 89.9h0M91.2 78.5h0M90.4 113.4h0M116.8 84.6h0M88.1 125.8h0M92.5 156.3h0M73.8 125.5h0M127.6 112.3h0M60.8 122.5h0M72.1 117.5h0M125.6 105.9h0M89 115.6h0M102.5 129.5h0M115.1 100.6h0M103.9 82.1h0M118 130.5h0M83.8 91.2h0M54.8 116.2h0M125.2 112.6h0M85.9 117.7h0M97.5 97h0M102.8 89.6h0M117.5 124.2h0M115.9 140.3h0M112.9 128.3h0M91.7 101.1h0M85.5 160.7h0M98 150.5h0M64.4 113.3h0M92.5 150.3h0M53.5 105.3h0M60.2 87h0M93.9 146.6h0M52 93.5h0M115.7 105.1h0M116.7 84.5h0M69.2 143.3h0M110.1 110.8h0M113.4 105.7h0M83.8 94.4h0M98.4 139.4h0M98.8 95.9h0M118.7 121.3h0M91.5 103.4h0M55.6 115.8h0M98.1 83.6h0M64 149.3h0M62.6 117.7h0M88 147.5h0M99 110.6h0M96.3 154.7h0M87.2 138.1h0M103.8 103h0M104.3 141h0M71.9 73h0M67.7 139.8h0M90 159h0M115.6 119.3h0M123.2 135.3h0M88.6 106h0M116.1 96.8h0M54.6 130.5h0M71.2 139.4h0M82.5 116.8h0M61.9 89.2h0M109.8 104.9h0M110.5 82.8h0M73 99.1h0M94.3 74.1h0M103.5 156.3h0M118.2 81h0M85.9 129.9h0M120.9 138.8h0M125.3 131.3h0M77.1 112.7h0M99.8 98.2h0M74.9 128.7h0M81.5 112.7h0M117.1 86.5h0M81.8 119.7h0M57.3 136.9h0M89.1 140.1h0M79.3 122.7h0M83.5 121.9h0M105.2 110.4h0M83.7 123.3h0M99.6 74.2h0M94.7 145.8h0M97.2 119.5h0M124.9 119.8h0M107.5 117.4h0M86.5 134.3h0M86.8 161.1h0M75.2 153.2h0M122 122.6h0M107.4 78.1h0M104.4 113.3h0M127 129.6h0M77.4 130.1h0M87.4 101.3h0M103.8 96h0M114.5 141.8h0M97.3 88.2h0M111 84.3h0M103.1 129.9h0M119.3 114.2h0M88.5 144.5h0M90.7 141h0M85.7 111.8h0M99.5 94.2h0M114.3 90.8h0M86.6 111.8h0M108.3 109.6h0M46.6 121.5h0M58.3 120.6h0M101.1 135.6h0M76.4 117.1h0M100.9 112.3h0M79.7 125.6h0M87.6 136.6h0M110.1 98.5h0M122.3 101.2h0M100.3 113.4h0M106.6 112.7h0M114.7 149.7h0M83.3 105.8h0M107.9 97.6h0M98.7 107.7h0M83.4 122.2h0M95.5 131.8h0M113.1 113.4h0M78.6 116.6h0M104.5 84.5h0M114.4 97.6h0M83.6 93.3h0M72.3 118.4h0M63.6 150.8h0M94 153.4h0M84 134h0M110.9 126.5h0M70.2 147.1h0M94.6 122.9h0M122.2 104.6h0M127.8 109.1h0M86.6 123.5h0M57.1 137.3h0M74.4 139.8h0M105 125.1h0M95.2 109.3h0M105.8 77.3h0M91.8 98.8h0M116 114.4h0M122.3 120.8h0M103.9 111.4h0M90.9 143.9h0M64.3 139.4h0M114.3 102.6h0M102.5 95.5h0M99.6 98.1h0M113.1 82.5h0M115.3 86.3h0M116.7 146.9h0M72.8 142h0M106.8 142.8h0M108.8 107h0M91.2 114.6h0M89.1 100.4h0M117.9 125.1h0M85.4 106.2h0M121.1 98.1h0M93.2 114.5h0M97.2 156.4h0M110.2 155.8h0M84.9 91.4h0M112.4 135.7h0M97 113.6h0M84.7 109h0M109.9 104.2h0M86.7 117.9h0M114 79.3h0M75.1 128.4h0M97.5 100.8h0M86.7 120.8h0M97.5 157.1h0M93.5 99.1h0M98.2 114.7h0M114.8 85h0M109.2 126h0M88.5 133.9h0M98 90h0M121.3 87.3h0M73.2 157.7h0M115.3 146.9h0M83.9 109.4h0M116.7 148.6h0M91.7 139.5h0M113.5 122.3h0M107.2 121.5h0M95.3 140.9h0M128.2 103.7h0M113.4 128.6h0M93.2 96.1h0M88.2 94.1h0M53.1 126.8h0M99.4 99.8h0M103.8 97.5h0M96.3 150h0M89.8 137.3h0M110.4 105.5h0M101.2 76.5h0M117.5 110.3h0M82 114.7h0M70.5 122.2h0M119.9 83.2h0M111.8 93.8h0M112.2 143.9h0M101.9 98h0M125.1 137.1h0M120.5 122.8h0M83.6 117.8h0M75.4 120.4h0M128 129.5h0M111.5 90.3h0M93 155.3h0M101.8 110.2h0M85 93.5h0M98.4 80.4h0M87.7 120.8h0M125.6 128.7h0M94.4 75.1h0M92 109.7h0M93.9 80.3h0M88.8 113.4h0M80.9 133.7h0M75.3 143.2h0M117.9 125.6h0M75.1 129h0M127 117.1h0M80.2 109.3h0M119.5 105.1h0M86 112.2h0M88.1 120.9h0M80.2 101.4h0M121.2 139.9h0M72.8 119.8h0M84.7 131.4h0M51.6 112.3h0M116.2 128.3h0M110.8 115.8h0M113 89.1h0M111.3 151.2h0M99.2 80.9h0M88.8 133.4h0M110.8 99.9h0M81 87.6h0M77.3 103.5h0M64.1 150.6h0M90.5 148.7h0M70 74.4h0"/>
<path stroke="#2d679a" stroke-width="1.9" stroke-linecap="round" fill="none" d="M55.6 116.5h0M97.6 88.5h0M48.2 136h0M89.9 158.6h0M56 141.7h0M41.5 122.4h0M85.5 101.7h0M48 133.3h0M50.1 140.4h0M58.5 95.2h0M49.3 125.6h0M69 81.4h0M57.8 127.1h0M60.1 140.1h0M47.8 110.3h0M60.7 107.8h0M55.6 150.5h0M62.4 99.6h0M63 88.2h0M55.8 97.7h0M55.9 129.2h0M73 80.9h0M53.3 160.5h0M46.9 112.3h0M71.6 99.8h0M76.8 89h0M66.5 100.8h0M81.7 81.5h0M57.2 124.4h0M52.5 117h0M58.2 126.7h0M68.3 85.5h0M53.1 159.9h0M105.5 147.5h0M51.2 122.1h0M99.1 145.4h0M68.8 79h0M47 122.3h0M52.4 150h0M59.5 115.4h0M77.5 89.1h0M51.6 123.1h0M57.1 106.1h0M73.2 106.8h0M47.9 95.3h0M50.6 117.4h0M67.9 77.6h0M59.7 96.6h0M76 99.1h0M56.7 145.6h0M56.4 122.2h0M63.5 77.1h0M62.5 127.4h0M61.7 80.7h0M55.2 119.2h0M55.4 118.8h0M54.2 93.7h0M86.9 76.5h0M92.8 124.7h0M109.4 147.7h0M62.8 123.4h0M89.5 157.5h0M58.6 132.1h0M108.9 144.3h0M45.8 135.8h0M66.3 150.3h0M73.6 153.4h0M62.1 130.6h0M56 93h0M52.3 94.3h0M100.1 141.2h0M73 147.6h0M44.5 135.2h0M50.9 103.4h0M46.1 120.5h0M56.4 142.8h0M61.4 96.2h0M100 141h0M75 90.7h0M54.3 149.4h0M63.8 114.7h0M53.1 93h0M47.1 139h0M46.5 135.4h0M72.6 99.9h0M48.2 128.1h0M82.8 74.5h0M116.9 103h0M76.9 102.9h0M52.8 155.7h0M54.2 152.5h0M70.5 102h0M49.1 129.1h0M53.9 91.7h0M47.6 141h0M70.5 78h0M91.1 157.9h0M76.4 109.3h0M52.1 127.8h0M101 150.9h0M70 160h0M50.4 122.6h0M78 89.6h0M60.4 92.8h0M50.1 114.6h0M68.7 158h0M67.7 117h0M66.9 77.6h0M104.8 151.3h0M81.7 156.9h0M104.6 146.3h0M55.9 143.1h0M73.1 102.2h0M66.1 103.7h0M87.9 160.5h0M63.8 89.4h0M46.4 137.6h0M110.4 141.2h0M65.1 112.9h0M75 76.7h0M80.8 91.8h0M60.8 109.9h0M64.1 89.4h0M112.4 141.8h0M53.2 134.8h0M43 133.6h0M56.1 139.9h0M55.4 100.4h0M45.5 126h0M81.6 94.6h0M60.7 142h0M81.6 77.5h0M71 98h0M75.5 84.4h0M74.4 91.8h0M59.8 133.1h0M56.7 113.8h0M54.7 144.9h0M119 144.3h0M75 78.6h0M70.8 90.9h0M86.7 159.1h0M107 102.7h0M65.3 98.2h0M59 100.3h0M45.6 128.2h0M54.9 101.2h0M54.3 109.9h0M75.7 129.2h0M44.6 118.6h0M42.2 132.4h0M62.6 100.4h0M58.6 120.4h0M72.9 109.3h0M52.2 116.2h0M56.9 143.4h0M72.4 82h0M53.8 107h0M61.6 140.8h0M70 148.2h0M49 97.8h0M61.7 115.7h0M70.3 92.5h0M50.7 128.4h0M100.8 142.3h0M66 95.3h0M55.3 154h0M84.3 154.3h0M57.3 82.9h0M45.3 113.1h0M63.3 76.8h0M106.9 148.2h0M50.7 156.5h0M73.4 93.7h0M68.5 116.4h0M77.5 89.3h0M103.7 139.3h0M73.1 104.3h0M48.2 132.4h0M107.4 143.5h0M102.6 147h0M50 151.1h0M58.5 82.8h0M69.3 93h0M80.3 74h0M59 125.9h0M106.2 148.2h0M64.7 101.2h0M56.9 129h0M86 110.9h0M86.3 161.3h0M77 82.5h0M62.5 88.3h0M63.9 105.2h0M46.5 113h0M62.5 89.2h0M73.6 153.9h0M50.5 146.7h0M75.3 84.4h0M58.4 101.4h0M69.7 134.4h0M56.6 150.8h0M53.3 105.3h0M86.8 76.7h0M71.4 99h0M61 109.4h0M64.8 83.8h0M66.3 84.5h0M81.6 157.9h0M67.9 100.1h0M46.1 121.5h0M77.7 102.3h0M58.6 128.4h0M51.9 127.1h0M55.1 102.6h0M50.4 121.7h0M41.3 131.2h0M67.1 115.8h0M50.5 111h0M51.7 154.4h0M111.9 139.9h0M76.5 107.5h0M53 114.1h0M42.8 125.4h0M46.4 138.5h0M85.9 78.5h0M44.1 114h0M68.8 118.4h0M65.1 101.5h0M69.7 87.6h0M49.8 134.9h0M59.3 124.9h0M55.2 109.7h0M53.9 131.5h0M91.9 139.2h0M59.3 114.2h0M66.8 83.9h0M64.5 116.9h0M73.3 89.9h0M89 157.1h0M83.9 157.9h0M52 135.9h0M63.3 109.3h0M60.1 81.8h0M56.2 150.1h0M62 119.7h0M60.1 102.4h0M63.2 115.6h0M63.8 82.6h0M56.8 141.3h0M62 143.8h0M75.1 151.1h0M53.7 97.6h0M51.8 101.2h0M64 76.8h0M71.5 158.2h0M67.9 146.8h0M50.4 115.2h0M67.3 93.3h0M56.3 95.2h0M60.3 89.6h0M66.9 146.8h0M106.5 141.6h0M72.4 111.9h0M86.2 77.4h0M47.5 117.5h0M80.2 157h0M113.7 142.4h0M66.7 86.7h0M57 144h0M70.5 89.7h0M126.2 103.9h0M120.8 134.6h0M55.2 99h0M114.6 142.2h0M57.6 104.1h0M70.8 76.7h0M58.9 109.2h0M52.7 113.4h0M65.4 97.5h0M83.7 74.7h0M45.7 138.8h0M51.5 123h0M76 102h0M51.7 159.4h0M46.9 127.1h0M83.7 153.5h0M49.9 136.9h0M64.5 91.3h0M67.3 92.5h0M75.2 80.8h0M59.5 91.5h0M41.1 125.8h0M62.7 98.4h0M112 132.9h0M107 74.7h0M64.1 111h0M54.7 104.5h0M68.4 88.8h0M46.2 135h0M89.7 161.4h0M75.1 101.9h0M63.9 119.1h0M59.1 98.9h0M55.3 130h0M61.1 130.5h0M60.1 97.4h0M89.2 109.6h0M65.7 111.6h0M68 108.8h0M47.7 141.3h0M52.2 127.7h0M80.4 92.8h0M121.7 102.1h0M70.8 75.4h0M84.2 76.3h0M44.7 119.2h0M71.6 150.3h0M55.9 117.2h0M57.3 95h0M53 148.9h0M49.8 137.1h0M54.5 148h0M83.4 160.9h0M56.5 126.3h0M74.3 106.8h0M69.7 108.8h0M56.9 121.3h0M103.1 150.1h0M57.2 106.1h0M43.5 120.5h0M55 158.2h0M87.5 152h0M65.7 92.3h0M63.3 106.1h0M76.1 78h0M101.8 150.2h0M52.9 124.8h0M50.9 150.4h0M52.6 90.7h0M66.9 78.1h0M58.7 104.3h0M43 117.7h0M53.2 112.3h0M62.7 112.7h0M82.6 152.6h0M51.4 97h0M74.4 103.8h0M74.6 104h0M52.3 105.1h0M59.6 83.5h0M51.1 156.2h0M40.5 121.6h0M42.5 124.5h0M72.7 73.1h0M73.3 78h0M46.7 112.1h0M47.1 154.9h0M102.4 148.7h0M53.5 87.9h0M59.6 79.9h0M123.9 121h0M52.3 130.7h0M61.9 103.6h0M43.3 127.9h0M47 125h0M40.9 134.7h0M52.1 109h0M61.1 96.3h0M56.8 134.9h0M113.3 139h0M62.9 160.2h0M83.2 163h0M120.8 130.5h0M108.2 116.9h0M44.7 120.6h0M73.7 75h0M68.1 82.4h0M42.6 119.9h0M50.8 122.7h0M64.3 102.9h0M60.5 141h0M58.6 95.6h0M61.8 141.5h0M59.3 142.1h0M91.2 158.1h0M84.8 80.5h0M61.5 143.1h0M78.9 99.3h0M77.5 90.5h0M57.6 114.9h0M66.6 81.7h0M66.5 118.5h0M70.9 136.2h0M53.8 111.1h0M69 101.8h0M63.1 87.4h0M89 77.6h0M68.9 92.6h0M66.4 80.9h0M71.7 91.9h0M73 76.3h0M69.6 87.5h0M89.6 153.3h0M106.9 140.8h0M73.6 81.2h0M46.6 136.4h0M72.8 156.7h0M89.9 158.2h0M63.1 126.9h0M103.4 143.5h0M65.5 112.2h0M54.5 96.7h0M51.6 105.1h0M51.8 135.4h0M51.9 118h0M83.4 77.3h0M79.6 83.4h0M64.6 106.6h0M53 111.4h0M45.7 120.4h0M46.6 124.7h0M79.8 161.4h0M51.2 156.8h0M54.8 137.2h0M62.8 158.8h0M61.9 105.5h0M64.8 107.9h0M67.9 93.6h0M62.1 83.3h0M71.5 74.4h0M106.4 142.5h0M41.2 129.8h0M50.3 122.8h0M67.3 110.9h0M56.5 90.9h0M58.7 95.9h0M75.5 154.9h0M55.4 116.6h0M105.5 146.7h0M54.9 130h0M81 82.3h0M50.8 113.7h0M68.1 76.4h0M54.5 142.7h0M64.4 97.3h0M63.2 81.9h0M85.5 85.3h0M69.6 117.3h0M61.5 129.6h0M111.8 141h0M52.4 116.4h0M57.6 110.6h0M64.6 75.2h0M75.5 91.5h0M107 140.4h0M76 141.3h0M48.2 117.9h0M61 92.3h0M109.8 141.9h0M57.2 114.9h0M100.9 141.1h0M112 138.3h0M46 137.2h0M48.8 128.9h0M67.1 101h0M78.7 76.6h0M65.6 111.9h0M72.1 109.6h0M51.8 141h0M65.9 80.9h0M71.2 85.3h0M54.2 126.5h0M78.2 73.3h0M53.6 102.7h0M61.5 106.2h0M77.8 74.4h0M67.7 74.2h0M69.4 95.9h0M109.8 149.9h0M76.1 85.9h0M55.7 104h0M42.8 136.1h0M59.4 116.8h0M105.6 149.2h0M86.9 126.2h0M56.8 116.3h0M49.6 95.2h0M46.7 131h0M108.6 154.3h0M105.3 144.9h0M56.4 134.5h0M54.3 95.7h0M92 157.1h0M82.9 122.9h0M121.1 131h0M109.9 148.9h0M59.8 137.4h0M67.2 87h0M81.2 159.8h0M44.9 111.6h0M66 106.8h0M57.2 107.2h0M55.2 154.4h0M69.2 158h0M89.5 154.5h0M52.6 156.1h0M72.7 151.7h0M46.1 124.1h0M72.3 76.7h0M86.8 157.9h0M51.5 116.9h0M56 137h0M81.8 73.8h0M56.5 146.1h0M68.5 108.5h0M41.1 121.6h0M73.1 93.7h0M55.4 124.3h0M48.6 96.8h0M63 117.5h0M58.8 117h0M57.9 107.2h0M74.7 100.6h0M83.9 153.8h0M65.2 155.1h0M57.5 140.1h0M52.9 156h0M50.2 116.6h0M57.4 120.4h0M59.9 109.3h0M47.8 134.6h0M47.2 111.4h0M62.8 115.7h0M58 144.6h0M63.8 125.3h0M57.9 134.3h0M58.9 134.7h0M55.9 84.5h0M49.3 124.5h0M60.2 139.4h0M42.5 113.1h0M84.3 84.2h0M75.7 84.6h0M55.4 132.2h0M68.5 159.2h0M63.8 91.7h0M50.1 129.8h0M68.7 88h0M45.1 111.6h0M82.3 75.5h0M57 126.8h0M66.4 117.5h0M47.9 113.9h0M71.8 76.1h0M54.3 159.8h0M46.8 113h0M58.2 105.1h0M120.9 92.1h0M75.7 72.7h0M48.3 132.6h0M60.5 104.9h0M73.8 77.4h0M83 88.3h0M57.7 130.5h0M108 144.9h0M87 163.7h0M87.1 161.5h0M52.9 102.6h0M117.8 134.1h0M80.4 82.4h0M59.6 99.8h0M59.5 103.1h0M116.9 150.2h0M54.9 149.7h0M60.4 86.6h0M68.6 109.1h0M53.9 142.3h0M41.9 129.5h0M74.9 84.2h0M46.8 120.3h0M75.6 81.8h0M87.5 75.6h0M56.1 110.2h0M79.9 73.7h0M85.4 150.9h0M74.4 156.2h0M55 100.6h0M43.6 117.7h0M62.2 109.5h0M82.3 93.4h0M49.3 95.6h0M59.1 129.6h0M62.9 79.3h0M103 130.3h0M64.9 110.4h0M99.3 144.5h0M109.1 78.3h0M71.6 146.3h0M116.2 120.7h0M102.5 142.2h0M50.1 98h0M45.6 113.7h0M70 74.6h0M56.8 115h0M49.2 121.1h0M60.8 133.3h0M68.4 161.5h0M48.6 142.7h0M55.2 143.4h0M58.4 111.1h0M63.1 92.3h0M46.6 129.3h0M76.9 126.7h0M68.6 77h0M64 103.7h0M51 141.1h0M73.6 76h0M55.6 112h0M103.6 152.1h0M74.7 157.2h0M41 123.4h0M63.6 123h0M72.3 97h0M77.8 95.4h0M75.6 77.8h0M45.4 119.8h0M71.8 86.4h0M103.6 152.1h0M63.1 81.4h0M55.4 101.7h0M59.3 129.2h0M56.9 105.5h0M69.9 74.9h0M83.2 74.3h0M80.5 75.6h0M70.7 116h0M55.6 97.4h0M47.3 130h0M55.9 93.9h0M46.2 121.6h0M43.6 115.9h0M55.9 135h0M60.4 107.2h0M86.7 158.3h0M51 147.7h0M43.1 118.7h0M67.8 104.4h0M56.7 146h0M52.8 139.7h0M101.6 147.5h0M62.2 91.6h0M54.8 123.9h0M49.6 108.8h0M54.8 150.8h0M108 103.3h0M64.4 101.6h0M55.2 155.2h0M71.9 106h0M63.5 77.4h0M60.5 118h0M58.1 99.9h0M72.3 78.8h0M81.9 147.3h0M53.5 130.9h0M65.5 91.1h0M78.4 148.2h0M103.2 153.4h0M54.5 118.8h0M86.5 154.4h0M58.9 91.7h0M54.3 124.3h0M92 156.9h0M66.1 147.9h0M68.5 100.1h0M118 93h0M59.2 146.5h0M49.2 101.9h0M74.9 90h0M110.1 102.8h0M68.6 90.9h0M54.5 104.4h0M57.7 91.9h0M60.1 97.2h0M77.1 86.1h0M109.5 146h0M70.7 90.8h0M64.1 152.9h0M65.7 88.5h0M83 114.2h0M67.8 85h0M51.1 128.4h0M56.5 86.1h0M83.9 75.5h0M69.4 102.2h0M56.5 146h0M121.6 130.3h0M75.7 102.4h0M56.1 115.7h0M53.2 140.9h0M60.7 94.6h0M62.1 89.2h0M62.4 152.2h0M54.2 143.4h0M69.8 110h0M70.5 115.8h0M58.1 123.6h0M76.4 89.6h0M82.5 78.6h0M53.5 98.5h0M42.4 136.3h0M45.4 111.9h0M50.3 155.5h0M87 157h0M79.9 81.5h0M53.8 137.9h0M60.6 141.9h0M100.7 141.5h0M99.2 142.9h0M104.4 152.3h0M55.1 134.2h0M56.8 114h0M63.1 128.4h0M46.9 136.8h0M49.7 98h0M60.6 112.3h0M71.2 79h0M66.5 148.5h0M85.5 160.8h0M90.9 155.9h0M85.6 75.6h0M79.1 96.2h0M57.8 144.2h0M67.9 155.1h0M54.4 126.8h0M71.9 90.9h0M57.6 106.5h0M100 149.4h0M70.2 108.9h0M107.9 143.7h0M49.5 104.1h0M71.5 106.8h0M123.1 129.5h0M48.7 117.2h0M72.1 112.9h0M47.2 127.9h0M119.4 134.4h0M53 122.9h0M44.6 119.1h0M106.1 146h0M50 155.3h0M109 140.7h0M64.7 90.9h0M69.1 116.3h0M55.8 113.8h0M67.6 79.5h0M69 83.3h0M96.2 135.2h0M57.6 109.5h0M109.2 145.6h0M69.7 152.3h0M78.5 97.2h0M108.7 144h0M60.7 116.4h0M60 104.5h0M59.6 142.1h0M44.5 131.3h0M70.3 93.4h0M59.8 93.9h0M56 128.9h0M46.9 129.1h0M86.8 78.6h0M84.8 155.8h0M61.8 123.4h0M50.3 140.9h0M105.5 155.5h0M58.4 92.5h0M69.1 83.3h0M59.4 140.3h0M63.8 115.9h0M63.1 87.1h0M53.5 110.8h0M66.8 108.6h0M71.3 100h0"/>
<path stroke="#f5ad45" stroke-width="1.9" stroke-linecap="round" fill="none" d="M101.6 106.5h0M123.9 121.4h0M97.1 116.4h0M115.9 141.6h0M83.6 146.6h0M104.8 114.8h0M83.6 134.1h0M102.7 133.6h0M90.3 117.4h0M86.4 161.8h0M88.7 108h0M79.6 139.3h0M77.2 127.5h0M121.9 137.4h0M109.8 147.4h0M124.7 132.1h0M83.3 143h0M82 97.1h0M85.7 91.6h0M88.5 111.1h0M125.6 130.9h0M76.7 140.9h0M68.8 125.5h0M122.3 112.3h0M72.7 140.9h0M113.6 94.6h0M80.8 75.2h0M50.7 152.4h0M91 85.5h0M97 112.3h0M91.9 130.5h0M89.4 146.8h0M107.2 102.5h0M82.6 106.7h0M94.2 148.2h0M87 127.6h0M98.6 121.6h0M90.8 75.6h0M85.2 132.5h0M75.8 131.9h0M89.5 118.3h0M104.8 120.2h0M121.5 100.8h0M99.3 106.5h0M92.1 128.9h0M80.2 136.1h0M75.3 152.8h0M120.8 110.5h0M117.9 128.7h0M96 74.3h0M82.2 115.6h0M111.5 112.6h0M118 93h0M120.2 94.5h0M108.4 84.8h0M101.8 86.5h0M102.3 111.8h0M88.4 122.6h0M100.5 111.1h0M90 110.9h0M126.5 120.2h0M111 88.9h0M56.1 117h0M105.2 110.5h0M121.7 97.8h0M80.3 139h0M90 149.4h0M99.5 102.1h0M107.8 135h0M116.5 92h0M111 121h0M92.7 148h0M81.2 140.9h0M97.2 128.2h0M92.4 76.9h0M100.5 106.6h0M117.8 142.1h0M66.2 147.6h0M75.5 124.5h0M126.9 117.9h0M76.3 99.2h0M121.8 141.7h0M81 140h0M120.3 119.5h0M106.1 87.5h0M77.9 149.3h0M100.9 131.3h0M111 132.6h0M78 81.4h0M103.8 100.1h0M64.3 156.9h0M42.8 138h0M65.3 138.3h0M80.5 89.1h0M122.4 111.8h0M89.2 108.6h0M85.4 118.1h0M111.9 122.9h0M116.6 127.7h0M84 137h0M93.2 156.4h0M122.2 109.4h0M46.2 131.8h0M91.8 108.8h0"/>
<path stroke="#e0901a" stroke-width="1.9" stroke-linecap="round" fill="none" d="M87.3 103.3h0M117.6 98h0M66.6 157.3h0M112 138.9h0M128 119h0M91.7 83.8h0M107.1 109.9h0M105.7 110.3h0M67 90.6h0M99.6 97.5h0M87.8 89.9h0M85.8 95.4h0M96.7 115.8h0M88.6 150h0M58.8 104.6h0M116 125h0M100 133h0M81.7 140.2h0M112 112.6h0M79.2 130.2h0M102.5 135.7h0M124.8 122.8h0M115.4 109.2h0M125.8 123.8h0M115.2 107h0M117.6 83.9h0M80 78.6h0M116.6 130.9h0M106.9 134.2h0M91.9 113.8h0M44.7 126.9h0M75.4 141.7h0M85.2 142.2h0M113.4 116.3h0M127.6 106.9h0M126 128.5h0M114.9 85.5h0M116 103.3h0M127.2 110.9h0M76.4 136h0M80.8 122.7h0M91.7 76.5h0M109.5 128.7h0M95.5 116.1h0M92.7 113.4h0M126.6 117.7h0M92 152.5h0M101.9 157.7h0M113.6 132.6h0M59.6 81.8h0M83.7 104.3h0M96.4 152.9h0M109.1 141.5h0M72.6 115.4h0M121.9 142.1h0M75.4 82.3h0M76.5 107h0M93.2 106.7h0M87.6 120.7h0M122 86.9h0M102.9 100.2h0M77 112.2h0M89.4 133h0M118.7 99h0M101.6 74.2h0M103.6 96.8h0M118.2 89.2h0M70.5 119.3h0M79.4 138.2h0M110.1 87h0M76.8 120.6h0M95.8 76h0M86.8 148h0M96.6 136.7h0M110.4 137.6h0M93 114.1h0M118.8 107.6h0M49.1 112.8h0M116.4 91.7h0M91.1 140.3h0M107.7 149h0M72.6 98.4h0M79.7 107.3h0M91.6 95.4h0M109.9 138.8h0M63.8 93.9h0M108.1 152.9h0M95 88.2h0M91 142.5h0M61.2 155.5h0M59.9 142h0M96.6 78.9h0M83.1 109.5h0M111.2 113.9h0M83.1 158.5h0M104.8 142.2h0M98.1 132.3h0M51.2 153.9h0M118.5 117.9h0M83.8 133.8h0M92.5 103.4h0M113.9 112.2h0M106.5 99.1h0M47.2 120h0M71.8 131.7h0M93.3 110.8h0M88.9 95.5h0M91.8 124.2h0M103.4 108.8h0M115.7 139.2h0M122.6 113.9h0M85.9 138.6h0M88.9 91.7h0M116.1 87.2h0M118.2 96.9h0M103.2 117.8h0M63.8 154.5h0M91.3 118.6h0M73.3 143.1h0M100.9 73.5h0M115.5 129.8h0M54.4 142.6h0M49 151.5h0M88.6 123.3h0M100.8 105.6h0M124.7 128.4h0M116.3 91.4h0M55.6 89.3h0M77.9 121h0M113.8 148.2h0M80.9 128.4h0M76 150.4h0M59.2 138.2h0M90.5 140.6h0M86.9 101.9h0M82.9 144.3h0M112.1 85.5h0M115.7 81.6h0"/>
<path stroke="#24588a" stroke-width="1.9" stroke-linecap="round" fill="none" d="M49.4 157.5h0M114.3 147.5h0M69.9 102.6h0M75.9 90.3h0M67.5 95.5h0M58.5 84.4h0M57.6 142.2h0M58.7 111h0M118.5 136.4h0M56.5 125.9h0M57.5 104.1h0M73.1 102.3h0M68.4 96.5h0M43.3 131.2h0M57.8 105.7h0M83.7 161.8h0M59.5 105.4h0M104.9 142.4h0M57.8 104.5h0M53.4 110h0M103.3 145.8h0M72.9 80.4h0M68.3 145.9h0M50.4 150.2h0M67.3 108.6h0M48 109.1h0M60.8 144h0M73 159h0M62.7 146.1h0M59.7 99.6h0M107.1 148h0M59.5 93.4h0M66.6 153.7h0M50.4 122.8h0M102.9 154.7h0M76.9 102.1h0M72.3 102.9h0M55.5 146.2h0M54 88.9h0M65.3 79.1h0M73 96.1h0M59.6 108h0M121.7 96.2h0M72 85.2h0M60.6 98.9h0M88.5 154.8h0M57.6 111.2h0M72.8 82.2h0M40.2 126.8h0M74.8 83.3h0M60.9 102.9h0M45.4 129.8h0M77.4 94.4h0M64 125.2h0M65.8 102h0M55.8 145.1h0"/>
<path stroke="#3a75a8" stroke-width="1.9" stroke-linecap="round" fill="none" d="M107.3 140h0M63.9 80.2h0M84.9 160.3h0M64.2 84.8h0M87.1 151.9h0M50.3 122.7h0M69.1 162.9h0M47.3 129.2h0M68.8 84.4h0M70.7 97.9h0M53.2 133.2h0M73.2 93.9h0M52.8 136.1h0M124.8 101.5h0M52.7 126.3h0M69.3 97.3h0M83.6 91.4h0M44.1 136.9h0M70.8 157h0M64.5 143.2h0M101.5 152.9h0M62.7 87.5h0M82.6 158.2h0M52.4 93.9h0M82.9 152.5h0M49.9 93.1h0M43.5 125.3h0M52.3 123.5h0M67 93.6h0M118.1 134.3h0M73 95.6h0M85.4 125.5h0M100 148h0M124.1 118.5h0M59.2 97h0M105.1 119.5h0M49.2 115.8h0M69 150.1h0M106.4 145.3h0M56.2 130.6h0M63.5 141.3h0M87.5 160.7h0M103.6 149h0M61.3 101.7h0M55.5 106.9h0M59.9 115.1h0M49.8 95.1h0M76.6 98.4h0M111.6 141.3h0"/>
<path d="M37.7 72V165H134.6" fill="none" stroke="#222" stroke-width="1.1"/>
<path d="M57.1 165v2.5" stroke="#222" stroke-width="0.9"/>
<text x="57.1" y="178.2" font-size="7.1" text-anchor="middle" fill="#222">−50</text>
<path d="M86.7 165v2.5" stroke="#222" stroke-width="0.9"/>
<text x="86.7" y="178.2" font-size="7.1" text-anchor="middle" fill="#222">0</text>
<path d="M116.3 165v2.5" stroke="#222" stroke-width="0.9"/>
<text x="116.3" y="178.2" font-size="7.1" text-anchor="middle" fill="#222">50</text>
<path d="M37.7 89.1h-2.5" stroke="#222" stroke-width="0.9"/>
<text x="31.6" y="91.4" font-size="7.1" text-anchor="end" fill="#222">50</text>
<path d="M37.7 117.9h-2.5" stroke="#222" stroke-width="0.9"/>
<text x="31.6" y="120.2" font-size="7.1" text-anchor="end" fill="#222">0</text>
<path d="M37.7 146.7h-2.5" stroke="#222" stroke-width="0.9"/>
<text x="31.6" y="149" font-size="7.1" text-anchor="end" fill="#222">−50</text>
<text transform="translate(86.85,190.6) scale(0.625,1)" font-size="9.5" font-weight="bold" text-anchor="middle" fill="#2a2a2a">t-SNE 1</text>
<text transform="translate(15.1,118.45) rotate(-90) scale(0.615,1)" font-size="9.5" font-weight="bold" text-anchor="middle" fill="#2a2a2a">t-SNE 2</text>
<path d="M193.3 28.2L197.5 27.9L201.1 28.6L204.3 29.9L203.1 33.6L201.1 39.4L198.5 44.5L195.9 49.9L193.6 53.6L191.7 55.6L189.4 54.9L186.8 52.9L184.5 49.9L182.2 46.5L181.3 43.4L182.2 39.4L184.5 36L187.1 33L190.1 30.3Z" fill="#97c3da"/>
<path d="M184.5 49.9L181.9 48.5L179 51.2L177.1 56.3L176.7 60.7L177.7 64.7L179.7 68.1L182.2 69.5L185.2 68.1L187.8 65.4L189.4 62L190.4 58L189.4 55.3Z" fill="#87bad4"/>
<path d="M183.9 65.1L187.1 64.4L189.1 67.1L188.8 71.5L186.2 72.2L183.9 69.8Z" fill="#5498bb"/>
<path d="M181.6 71.5L184.5 70.8L186.2 73.5L185.5 78.3L183.6 80L181.3 78.3Z" fill="#69a8c8"/>
<path d="M199.2 74.9L203.1 73.9L205.7 75.9L205 80L201.4 81.3L198.8 78.9Z" fill="#8cbdd6"/>
<path d="M204.3 29.9L206.3 28.9L210.5 28.6L215.4 29.2L219 30.6L220.9 33.6L223.2 39.4L225.2 47.2L226.3 54.6L225.5 61.4L223.2 67.1L219.6 73.2L215.4 76.9L209.6 78.3L205 77.6L201.1 76.9L198.5 75.6L196.6 73.5L194.9 70.1L194 66.1L192.3 62L192.3 57.3L195.2 51.2L197.8 45.1L200.5 39.4L202.4 33.6Z" fill="#f5c7bf"/>
<path d="M188.8 72.2L192.7 70.8L195.9 72.2L196.9 75.6L195.9 79.6L192.7 81L189.4 80L188.1 76.2Z" fill="#5c9ec0"/>
<path d="M189.4 68.1L191.7 64.7L193.6 65.4L194.6 69.5L192.7 70.8L189.4 70.1Z" fill="#5b9ec0"/>
<path d="M188.1 56L192.3 56L193 64.7L188.8 65.4Z" fill="#5b9ec0"/>
<path stroke="#f8b8b8" stroke-width="1.3" stroke-linecap="round" fill="none" d="M199.1 50.5h0M202.8 46.1h0M224.7 54.2h0M205.9 34h0M222.1 60.4h0M199.5 66.4h0M221.1 38.3h0M202.5 41.9h0M218.7 43.4h0M220.1 32.4h0M209.3 52.8h0M201.8 43.6h0M215.3 60h0M207.1 40.7h0M214.8 35.8h0M212.9 50.3h0M196.7 60.5h0M214 32.2h0M202.7 39.9h0M212.5 76.2h0M201.2 55.6h0M199.7 42.6h0M215.2 40.7h0M203.6 52.8h0M207.1 77.2h0M201.5 71.4h0M196.5 69.2h0M203.9 74.8h0M196.4 60.7h0M204.5 37.3h0M210 31h0M212 44.4h0M216.3 54.8h0M208.8 60.1h0M211.6 56.8h0M213.5 64.6h0M201.4 68.7h0M221.3 41.7h0M198 66.6h0M201.7 68.8h0M207.2 49.9h0M204.5 30.8h0M215 76.4h0M203.7 66.9h0M210.3 77.8h0M212.5 59.6h0M207.7 48.1h0M214.6 37.8h0M205.1 65.3h0M221.1 39.2h0M205.6 29.6h0M195.4 62.7h0M225.2 47.6h0M197.6 59.3h0M205.4 41.2h0M201.2 49.6h0M212.2 57h0M196.7 60.3h0M197.9 64.1h0M202.1 38.2h0M201.2 60.3h0M209.5 56.3h0M218.3 53.8h0M197.8 66.5h0M207.3 64.2h0M197.8 51.4h0M199 53.4h0M224.7 53.2h0M216.7 33.1h0M220.1 36.5h0M211.5 61.1h0M208.7 77.8h0M222.7 45.3h0M209.9 48.8h0M205.6 59.5h0M207.8 47.4h0M202.3 58.4h0M212.8 29.4h0M207 46h0M225.3 53.8h0M220 56.6h0M197.8 73.7h0M204.3 59.2h0M207 51.3h0M208 65.7h0M222.8 57h0M206.3 40.6h0M211.9 63.9h0M216.5 51.3h0M206.7 53.6h0M217.3 66.5h0M200.2 56h0M196.1 61.3h0M200.9 43.8h0M202 65.5h0M203.6 73.4h0M199.3 45.5h0M223.1 45.8h0M208.1 51.9h0M208.3 76.5h0M207.8 47.6h0M217.6 48.7h0M210.2 37h0M207.7 74.1h0M215.6 52.7h0M218.3 33.3h0M212.6 63h0M211.4 55.4h0M215.6 45.2h0M203.6 72.3h0M201.9 59.8h0M206.5 58.6h0M210.7 62.1h0M209 74.6h0M204.6 58.1h0M214.6 56.2h0M207 66.3h0M204.8 65.8h0M216.8 73.6h0M202.9 66.9h0M197.9 31.8h0M198 33.1h0M215.9 40h0M219.6 35h0M203.7 53.1h0M219.9 57.5h0M217.5 47h0M202.3 66.7h0M218.8 42.2h0M210 42.3h0M221.9 57.5h0M212 51.1h0M197.2 61.6h0M214.3 49.4h0M217.2 73.3h0M217.1 51.2h0M206.9 56.8h0M207.6 49h0M210.5 40.6h0M216.7 33.6h0M218.2 35.4h0M217.8 72.2h0M209.2 52.5h0M201.3 48.8h0M204.2 67.9h0M207.8 67.7h0M206 43h0M215.4 47.7h0M207.8 64.9h0M221.4 35.5h0M222.4 67.1h0M224 61.3h0M205.2 49h0M204.2 56.1h0"/>
<path stroke="#f8b8a8" stroke-width="1.3" stroke-linecap="round" fill="none" d="M223.8 56.1h0M201.7 45.6h0M223.2 55.7h0M211.9 29.1h0M200.6 68.9h0M212.4 50.1h0M218.6 69h0M212.1 53.1h0M203.3 38.5h0M219.6 48.6h0M204.6 53.7h0M206 73.2h0M222.1 37.6h0M204.7 53.6h0M217.9 47.5h0M211 65.2h0M213 42.7h0M224.9 51.2h0M210.2 48.1h0M221.6 49.2h0M205.5 33.4h0M201.6 40.2h0M220.7 48.9h0M220.9 68.6h0M208.8 76.3h0M198 60.1h0M207.7 28.3h0M196.5 68.6h0M201.4 51.1h0M206.7 48.7h0M220.4 36.7h0M197.7 37.6h0M204.6 56.2h0M207 29.5h0M204.9 31.4h0M211.2 30.6h0M206.2 68.4h0M198.6 47.5h0M203.1 62.4h0M219.3 59.3h0M219.8 56.1h0M206.4 72.4h0M207.7 74.8h0M222.2 68.4h0M215.8 45.8h0M211.6 48.2h0M199.7 64.1h0M218.3 67.8h0M195.4 42.8h0M212.1 30.8h0M209.8 29.1h0M219.6 71h0M196.1 64.6h0M207.5 39.9h0M222 40.2h0M224.4 47.3h0M197.5 72.8h0M216 63.4h0M212.5 64.3h0M217.8 30.6h0M200.5 61.6h0M216.7 36h0M222.4 41.3h0M216 66.2h0M217.5 56.8h0M210.6 51.9h0M207.4 62.4h0M208.3 49.2h0M213 52.6h0M209.7 46.7h0M208.2 49.1h0M205.7 68.2h0M201.3 66.2h0M223.2 44.1h0M199 52.5h0M202.1 37.9h0M209.6 50.3h0M219.1 52.7h0M207.3 58.1h0M211.9 32.9h0M201.7 36.6h0M208 34.6h0M203.7 45.1h0M196.4 60.3h0M220.5 53.7h0M214.6 64.3h0M219.4 46.8h0M218.5 40.7h0M208.8 38.4h0M201.5 61.1h0M210.1 60.6h0M203.2 62.9h0M219.5 56.9h0M208.1 68.5h0M218.1 31.7h0M209.2 29.6h0M208.7 31.3h0M214.1 62.4h0M205.7 60.4h0M214.8 76.2h0M213.7 63h0M210.3 47.5h0M197.7 56.6h0M206.3 67.4h0M200 63.8h0M205.9 29.7h0M198.6 60.8h0M214.7 57.1h0M210 61.9h0M198.7 54.4h0M214.1 40.8h0M216.6 64.4h0M209.3 74.5h0M208.9 78.5h0M199.8 66.7h0M197 58.7h0M221.4 42.4h0M215.6 51.1h0M209.8 56.3h0M208.2 69.1h0M214.4 62.1h0M213.8 58.5h0M213.6 37.1h0M224.8 51.1h0M205.6 70.8h0M218.8 39.8h0M219.2 55.7h0M219.3 32.8h0M199.5 55.4h0M214 55.1h0M202.1 64.6h0M198.9 37.4h0M221.1 53h0M221.7 51.2h0M215.3 43.1h0M210.4 52.1h0M198.4 53.6h0M216 57.4h0M221.7 56.6h0M214.4 48.6h0M216.9 35.5h0M220 49.6h0M210.3 44.4h0M199.7 54.7h0M216.7 37.6h0M221.4 68h0M209 32.6h0M204.1 63.6h0M197.7 46.3h0"/>
<path stroke="#f8c8b8" stroke-width="1.3" stroke-linecap="round" fill="none" d="M202.4 49.3h0M209.7 47.6h0M219.9 46.9h0M213.6 29.8h0M208 32.2h0M224.6 56.5h0M204.7 40.1h0M209.7 50.8h0M213 39.9h0M207.7 41.4h0M224.3 58.2h0M196 32.8h0M216.1 52.4h0M216.7 47.6h0M201.5 51.9h0M218.7 45h0M221.3 52.8h0M205.8 43.4h0M205.8 72.4h0M210.4 34.2h0M222.2 37.7h0M199.9 70.1h0M209.7 38.4h0M204.6 46.9h0M213.6 67.1h0M213.3 45.6h0M212.5 51.6h0M201.5 45.9h0M204.4 47.4h0M213.1 63.2h0M212.2 47.5h0M208.6 39.4h0M211.7 52h0M208.4 66.7h0M217.3 42.2h0M207.8 32.7h0M219 45.6h0M217 54.1h0M211.1 48.2h0M218.6 46.2h0M213.6 39.6h0M216.3 47.4h0M214.2 58.9h0M216.6 57.5h0M201.3 69.1h0M205.7 51.3h0M204.2 62h0M203.9 71.3h0M211.2 56.5h0M221.2 42.3h0M203.5 50.8h0M208.5 61.2h0M222 50.1h0M199.2 63.3h0M219.2 37.6h0M216.8 71.4h0M223.6 46.5h0M208.8 55.5h0M215.5 51.8h0M208.3 59.6h0M215.5 67.4h0M196.4 49.5h0M214.4 49.7h0M203.5 54.8h0M198.2 73.8h0M198.7 36.6h0M222.8 44.2h0M219.7 56.3h0M205.5 29.3h0M196.3 52.8h0M214.2 56.1h0M202.1 54.5h0M208 43.9h0M222.5 37.7h0M207.3 47.8h0M202.2 42h0M216.8 36.7h0M211.3 75.7h0M200.5 61.5h0M198.9 43.3h0M205.4 73.9h0M219.6 60.9h0M206.8 28.7h0M211.2 62.7h0M215 47.6h0M214.3 39.7h0M202.3 66.9h0M207.4 41.6h0M203.5 66.1h0M217.3 36.5h0M210.8 37.5h0M216.9 50.9h0M219 47.6h0M211.2 33.1h0M207.2 30.2h0M208.6 34.4h0M209.1 49.1h0M208.8 55h0M216.8 58.1h0M205.7 53.2h0M204.6 50.4h0M215.1 57.4h0M208.3 74.7h0M199.1 57.4h0M204.1 41.4h0M206.8 56.2h0M199.3 56.9h0M210 57.3h0M214.9 35.5h0M202.7 64.8h0M208.7 75.1h0M216.1 57h0M207.3 48.4h0M198.6 36.9h0M201.2 49.7h0M219.1 43.7h0M202.2 36.2h0M201.3 53.1h0M198.4 50h0M215.9 29.8h0M197.6 31.9h0M224.7 46.7h0M217.1 66.2h0M217.5 45.6h0M211 35h0M210.2 47.5h0M202.9 59.7h0M198.9 49.8h0M198.7 35.8h0M196.6 43.4h0M218.4 54.4h0M203.3 38.6h0M206.9 53.2h0M214.8 62.2h0M200.1 36.1h0M204.8 55.9h0M208.8 42.4h0M205.8 45h0M208.8 34.5h0M211.7 45.9h0M200.3 53.8h0M215.3 46.9h0M199 51.2h0M208.9 28.7h0M223.6 61.3h0M221.6 43.8h0M205.1 44.3h0M217.5 45h0M218.2 71.2h0M203.8 45.6h0M201.8 47.6h0M202.4 53.9h0M208.3 43.5h0M206.2 44.4h0M196.4 73.3h0M222.2 36.5h0M219 72.4h0M216.6 57.3h0M224.8 62.2h0M211.2 49.9h0M201 38.9h0M201.1 70.1h0M202.5 50.4h0M216.9 37.2h0"/>
<path stroke="#68a8c8" stroke-width="1.3" stroke-linecap="round" fill="none" d="M185.8 53.1h0M181.9 65h0M203.2 77.8h0M186.1 67.8h0M195.2 56.5h0M188.2 43.6h0M184.9 42.3h0M198 38.4h0M183.5 54.2h0M187.7 59.1h0M186.1 69h0M181.7 41.3h0M186.6 47.4h0M192.6 30.9h0M190 76.3h0M214.7 69.9h0M185.3 39.9h0M188.3 40.4h0M185.7 66.2h0M219.9 64.5h0M193.1 46h0M183.7 42.3h0M193.4 31h0M187.1 47.4h0M203.3 79.5h0M199.2 39.3h0M185.5 73.3h0M216.7 68.6h0M184.4 70.6h0M192.9 61.7h0M184.9 44.9h0M179.7 59.3h0M193 68h0M190.9 36.7h0M194.5 33.3h0M191.8 42.6h0M202.5 74.6h0M182.1 73h0M194.7 58h0M187.1 59.1h0M185.9 62.6h0M189.7 37.5h0M189.1 37.9h0M182.8 71.7h0M193.9 43.2h0M210.5 68h0M187.1 61.4h0M182.3 74.9h0M186.3 51.7h0M189.9 54h0M188.2 57h0M203 78h0M201.4 77.7h0M193.4 38.6h0M183.7 43.1h0M191.3 73.2h0M189.6 50.1h0M189.3 32.3h0M216.8 69.6h0M195.1 58.1h0M185.6 66.1h0M180.1 67.7h0M213.2 71.6h0M183.4 51h0M184 39h0M187.9 51.2h0M199.7 74.8h0M195.9 75.5h0M184.3 46.3h0M179.7 67.4h0M180.7 58.7h0M178.1 64.8h0M217 67.1h0M183.8 40.5h0M194.4 76.1h0M188.5 68.1h0M197.8 37.7h0M180.9 49.7h0M211.4 75.5h0M194.5 39.6h0M188.6 70.1h0M186.3 55.6h0M185 42.3h0M182.9 47.2h0M184.3 50.5h0M189.8 34.2h0M194.7 30.1h0M195.1 58h0M198.8 34.2h0M184.8 68.8h0M187.4 43.5h0M216.4 68.2h0M183 54.7h0M185.9 52.6h0M193.6 42.7h0M198.2 28.8h0M194.8 63.7h0M192.5 71.8h0M211.6 75.8h0M205.8 77h0M191.3 36.4h0M185.8 75.9h0M194.3 40.2h0M187.3 48.2h0M185.3 78.2h0M197.2 35.2h0M200.2 29.3h0M219.3 63.6h0M186.6 36.8h0M177.6 61h0M196 67.1h0M181.6 68.3h0M192.9 31.2h0M184.9 50.9h0M186.1 45.3h0M191.9 53.2h0M188.1 57.3h0M185.9 64.5h0M212.7 70.9h0M185.5 73.7h0M190.6 51.7h0M187.5 36h0M212 67.6h0M192 73h0M194.8 43.1h0M202.6 80.7h0M197.3 45.3h0M188.7 37.4h0M202.1 77h0M187 53.3h0M191.2 72h0M185.1 60.5h0M180.8 61.3h0M213.6 70.4h0M197.1 40.4h0M185.6 52.2h0M192.7 35.8h0M186 50.3h0M185.4 61.1h0M201.6 76.8h0M187.4 67.8h0M189.9 53.7h0M179.6 62.4h0M190 74h0M190.2 60.8h0M188.7 58.7h0M191.1 63.7h0M192.1 63.8h0M191.8 60.8h0M188.4 62h0M190.4 57.4h0M190.5 60.4h0M190.6 63.5h0M190.5 57.9h0M188.4 62.8h0"/>
<path stroke="#f8c8c8" stroke-width="1.3" stroke-linecap="round" fill="none" d="M209 37.8h0M199.6 65.5h0M216.3 66.3h0M205.2 35.3h0M207.3 31.2h0M219.8 35.6h0M207.9 54.6h0M203.8 54.2h0M225.8 53.4h0M217.7 32.2h0M200.5 64.6h0M211.4 31.6h0M212.5 35.6h0M208 58.6h0M218.6 59.6h0M203 60.7h0M198.8 55.8h0M199.4 67.5h0M206.4 46.6h0M198.4 61.5h0M204.5 55.2h0M212.9 43.4h0M204.2 38.8h0M219.8 37.8h0M197.5 74h0M200.8 69.6h0M219.4 36.4h0M225.9 48.9h0M213.2 63.6h0M218.9 48.9h0M213.2 35.8h0M204.1 50.4h0M210.5 41h0M208.5 44h0M219 35.1h0M214 49.2h0M201.6 60h0M198.9 53.1h0M199.7 40.6h0M216.3 52.9h0M207.6 68.8h0M216.2 38h0M207.4 42.5h0M199.2 57.2h0M218.6 38.6h0M214.9 41.9h0M196 77.8h0M215.2 41.9h0M205.4 55.8h0M205.1 36h0M219.6 36.1h0M204.1 55.6h0M221.5 64.2h0M200.7 59.2h0M199.6 35.7h0M203.2 37.4h0M225.6 60h0M210.1 37.6h0M214.2 51.8h0M195.5 69.2h0M207.9 56.8h0M204.2 32.3h0M207.8 32.3h0M207.3 43.1h0M197.6 74.3h0M200.4 62.4h0M204 35.8h0M196.4 50.6h0M220.7 34.9h0M201.6 70.4h0M207 43.9h0M202.7 50.2h0M202.5 63.7h0M216.5 52.1h0M195.9 74.1h0M200.4 49h0M201.6 58.4h0M201.3 55.6h0M211.8 30.2h0M225.5 46.6h0M198.8 44.3h0M211.6 57.3h0M199.8 55.3h0M209.9 45.1h0M218.3 35.7h0M212.8 39.8h0M204.6 52h0M213.5 29.4h0M222.4 45.2h0M198.7 37.8h0M202.3 64.9h0M204.1 52.7h0M220.6 36.2h0M196.8 51h0M202.1 64.2h0M206.3 49.4h0M204.8 61.2h0M206.7 31.4h0M202.3 60.5h0M205.2 32.9h0M214 50.5h0M219.4 44.7h0M204 34.5h0M207.3 36.4h0M222 51.2h0M211.8 41.2h0M215.5 48.2h0M219.6 37.3h0M210.6 35h0M221.3 50.5h0M214.9 46.5h0M203.1 59.1h0M205.1 66.2h0M202.3 70h0M203.8 49.7h0M201.3 62.6h0M203.1 36.2h0M214.9 34h0M212.5 55.5h0M210.9 46.1h0M196.6 68.4h0M220.3 47.4h0M219.4 46.8h0M202.6 67.6h0M211.7 49.9h0M214.2 35.5h0M203 67.8h0M219.8 33h0M207.3 55.2h0M218.7 36h0M215.4 55.2h0M218.7 42h0M204.1 52.9h0M211.2 50.8h0M200.1 43.6h0M214.2 41.9h0M196.4 77.3h0M209.1 56.9h0M216.9 37.7h0M197.1 68.5h0M207.1 57.8h0M225.2 55.7h0M218.2 38.9h0M208.5 40.1h0M218.3 59.6h0M208.3 45.1h0M218.9 46.8h0M199.4 67.2h0M198.8 47.7h0M198.6 53h0M200 66.5h0M217 53.7h0M218.4 46.5h0M209.2 45.5h0M199.2 40.5h0M208.1 46.8h0M204.7 41.6h0M216.3 46.7h0M205 71.4h0M207.3 36.7h0M199.1 36.9h0M210.8 36.6h0M203.4 37.3h0M203.7 45.7h0M224.3 62.5h0M197.2 35.8h0M218.8 34.4h0M202.3 54.2h0M206.7 33.5h0M212.2 57.9h0M223.6 57.6h0M203.6 41.2h0M213 29.2h0M219.2 54.3h0M225.3 54.9h0M196.8 56.5h0M214.5 50.5h0M219.8 37.4h0M207.3 53.9h0M217.3 52.1h0M212.1 53.7h0M201.7 66.1h0M203.5 53.3h0M198.2 74.8h0M224.6 53.7h0M220.2 40.5h0M211.8 33.2h0M207 33.4h0M223.2 49.1h0M204.7 57.4h0M203.3 61.7h0M205.7 50.3h0M219.6 52.6h0M211.2 42.8h0M219.5 42.4h0M210.9 34h0M204.1 73.6h0M204.3 31h0M204 51.6h0M224.3 47.6h0M212.9 33.2h0M200.9 39h0M219.7 46.8h0M205 54.3h0M220 56.5h0M206.4 29.3h0M201.8 61h0M196 61h0M203.7 67.5h0M200.4 52.6h0M210.4 48h0M202.8 65.7h0M208.5 49.5h0M212.3 35.2h0M200.5 39.8h0M200.6 65.8h0M209.6 42.6h0M205.3 53.1h0M220.6 58.8h0M215.1 46.5h0M200.1 49.5h0M213.6 56.1h0M200.6 52.3h0M196.4 56.4h0M208.4 32.8h0M216.3 44.2h0"/>
<path stroke="#a8c8e8" stroke-width="1.3" stroke-linecap="round" fill="none" d="M177.4 56.7h0M182.7 68.2h0M181.1 49.6h0M184.4 55.6h0M203.6 75.1h0M195.5 75h0M182.1 46.9h0M186.3 56.7h0M182.6 57.2h0M190.7 46.7h0M194.6 63.1h0M196.2 35.3h0M187.8 44.2h0M194.3 66.4h0M178 62.8h0M183.8 46.3h0M189.5 37.1h0M187.4 57.5h0M181 67.7h0M201.5 32.2h0M189.5 41.9h0M191.5 34.3h0M183.1 44.8h0M191.8 39.9h0M182.5 78.6h0M200.7 75.9h0M188.2 33.4h0M188.4 47.5h0M212.1 74h0M196.1 31.1h0M184.3 58.4h0M195.5 45.9h0M188 46.4h0M220.9 62.2h0M182.7 62.9h0M191.7 32.2h0M184.3 50.2h0M200.5 32h0M179.7 56.4h0M189.1 47.9h0M192.8 54.6h0M190.8 30.1h0M191 31.6h0M193.6 35.4h0M193.9 68.7h0M197.9 46h0M195.1 41.5h0M203.4 76.5h0M194 30.5h0M189.8 58.9h0M181.1 50.5h0M192.8 50.7h0M180.9 63.2h0M183 75.2h0M192.6 49.3h0M188.2 49.4h0M181.9 41.4h0M179.6 52.5h0M194.6 68.8h0M193.8 41.8h0M189.3 32.4h0M185 40.4h0M188.3 48.3h0M190.6 39.2h0M184.9 59h0M182.1 44.5h0M195.6 38h0M193.1 38.6h0M192.8 45.2h0M193 49.9h0M209.9 68.9h0M185 37.2h0M197.9 41.6h0M197.7 44h0M212.8 69.9h0M193.2 48.8h0M192.9 53.3h0M178.2 62.4h0M190.8 58.8h0M191.6 56.5h0"/>
<path stroke="#e89888" stroke-width="1.3" stroke-linecap="round" fill="none" d="M199.2 34.9h0M215.5 63.2h0M208.9 42h0M220.8 63h0M205.6 70.7h0M204.3 59.2h0M209.9 51.4h0M196.3 63.3h0M213.7 63.1h0M211.5 42.8h0M223.2 51.1h0M206.7 66.5h0M211.8 61.8h0M220.6 69.5h0M222.7 63.9h0M199.3 57.9h0M218.9 62.1h0M216.9 33.3h0M207.9 69.6h0M216.2 64.4h0M223.8 65h0M217.3 74.5h0M222.3 59.8h0M199 37h0M217.5 70.2h0M204.7 68.8h0M215.7 65.9h0M216.9 67.1h0M213.3 50.6h0M214.9 75.2h0M206.7 60.2h0M215.4 61.8h0M202.4 53.2h0M205.7 63.6h0M214 62.2h0M207.9 74.7h0M222.1 68.6h0M218.8 68.1h0M223.2 62.7h0M211.5 43.6h0M218 44.2h0M216.9 60.6h0M208.8 68.4h0M221.4 67.3h0M212.8 51.1h0M214.7 76.7h0M208.4 77h0M205.2 67.5h0M202.7 45.2h0M204.1 66.3h0M205.6 76.5h0M219.5 46.7h0M205.4 49.9h0"/>
<path stroke="#f8d8c8" stroke-width="1.3" stroke-linecap="round" fill="none" d="M218.9 42.8h0M214.3 32.2h0M206.7 47.9h0M208.7 45.7h0M212.7 36.7h0M219 51.1h0M225.9 52.8h0M212 34.3h0M207.5 54.2h0M214.6 39.5h0M203.8 46.8h0M214.6 31.1h0M204 50.6h0M206.4 32.5h0M218.4 55.7h0M216.4 59.3h0M205.4 56.4h0M223.1 58.1h0M195.7 63.1h0M211.5 53.4h0M197.9 55.2h0M207.8 46.8h0M218.7 37.9h0M206.5 30.1h0M204.9 73.7h0M210.6 58.5h0M220 40h0M210.7 56.8h0M197.2 65.3h0M201.9 43.9h0M206.2 55.9h0M224 53.9h0M218.9 43.9h0M206.1 41.1h0M215.5 52.5h0M201.8 46.2h0M208.7 56.8h0M200.5 46.9h0M209 30.3h0M204.8 29.5h0M206.5 34.6h0M202.4 55.7h0M213.8 57.2h0M220.6 53.5h0M199.6 65.2h0M221.9 38.1h0M211.5 50.7h0M219.3 37.2h0M199.5 67.5h0M219.4 61.3h0M214.8 40.9h0M211.2 56.1h0M203.7 45.2h0M197.1 66.7h0M220 40.8h0M218 54.6h0M213 42.6h0M198.6 48.4h0M204.7 34h0M220.6 49.7h0M215.4 54.6h0M203 62.4h0M224.6 55.6h0M221.4 43.5h0M203 61.1h0M201.3 65.8h0M207.7 41.1h0M213.8 46h0M202 37.3h0M208.7 40.8h0M211.2 48.3h0M218.9 73.4h0M223.3 57.2h0M196.8 68.9h0M204.7 43.7h0M199 44.1h0M210.2 50.2h0M207.9 53.6h0M220.9 51.8h0M198.9 35.8h0M221.8 55.2h0M215.7 31h0M207.1 52.9h0M203.9 41.6h0M197.4 43.1h0M201.9 60.8h0M221.8 39.9h0M203.1 58.5h0M200.6 69.5h0M212.5 55.9h0M202.3 42.5h0M205.6 74.3h0M218.6 34.6h0M212.5 50.7h0M209.6 40.8h0M198.1 58.8h0M223.1 46.1h0M224.6 50.4h0M221.2 42.5h0M200.9 39.5h0M195.8 60h0M203.8 40.5h0M222.6 49h0M206.4 29.1h0M199.5 63.1h0"/>
<path stroke="#78a8c8" stroke-width="1.3" stroke-linecap="round" fill="none" d="M192.3 69.1h0M189.3 37.1h0M198.6 78.3h0M211.1 71.6h0M193.4 32.2h0M180.9 58.3h0M195.3 59.3h0M186.2 57.2h0M184.9 40.5h0M213.2 68.7h0M186.4 50.9h0M199.7 28.8h0M188.7 55h0M190.2 49h0M194.6 70h0M186.2 62.7h0M185.7 51.4h0M193.7 63.9h0M197.5 45.7h0M184.2 36.2h0M194.6 38.2h0M201 29.2h0M183.3 58.5h0M177.4 56.2h0M182.9 48.7h0M192.9 47h0M202.9 30.9h0M213.8 67.9h0M180.2 65.4h0M203.7 78.3h0M182.9 64.5h0M177.7 61.6h0M213.7 73.7h0M183.8 44.8h0M186.5 72.3h0M181.2 64.2h0M184.9 35.8h0M192.6 79.5h0M195.7 68.1h0M183.9 46.5h0M187.9 43.4h0M185.1 72.9h0M202 29h0M190.4 31h0M194.6 63h0M211.8 74.4h0M197 41.4h0M205 77.2h0M214.3 69h0M180.8 61.2h0M190.4 38.8h0M190.4 60.1h0M190.4 62.5h0"/>
<path stroke="#5898b8" stroke-width="1.3" stroke-linecap="round" fill="none" d="M190.9 78.4h0M187.7 60.2h0M185.4 61.4h0M184.4 80.3h0M191.2 41.5h0M185.1 70.3h0M189.8 59.7h0M190.5 74.2h0M183.4 73.3h0M192.8 67.9h0M212.7 75h0M187.9 64.5h0M188 67.6h0M194.6 72.7h0M193.2 71.7h0M185.2 75.6h0M186.9 62.7h0M188.6 69.8h0M186 70.2h0M188.3 42.3h0M192.2 79.9h0M193.3 73h0M185.7 60.3h0M193.7 58.9h0M190.3 78.9h0M191.5 65.1h0M186.8 41.6h0M187.8 69.5h0M192.6 60.2h0M184.9 53.7h0M188.6 60.9h0M184.3 67.5h0M187.5 67h0M183.5 76.5h0M185.6 65.7h0M188.4 76.8h0M187.1 68.8h0M185.1 67.3h0M182.8 53.1h0M186.1 64.7h0M188 67.9h0M191.2 76.4h0M191.3 54.5h0M193.8 30h0M185.8 62.6h0M196.1 33.4h0M193.5 61.4h0M192.2 65.5h0M192.2 73.3h0M188.8 39.4h0M201.9 79.7h0M184.8 61.8h0M190.7 77.6h0M191.5 66.5h0M184.5 68.6h0M189.9 75.4h0M191.1 66.5h0M183.1 68.5h0M184.2 68.7h0M190.4 74.1h0M188.3 70.9h0M186.5 66.3h0M184.4 59.9h0M191.3 60.7h0M189.1 62.2h0M189.7 65h0M190.8 62.6h0M189.2 61.6h0M192.5 63.1h0M191.3 63.3h0M192.6 63.1h0"/>
<path stroke="#e89898" stroke-width="1.3" stroke-linecap="round" fill="none" d="M215.3 59.4h0M206.1 74.8h0M211.9 63.8h0M216.6 61.2h0M202.2 38.9h0M209.9 65.7h0M204.1 68.4h0M221.2 61.4h0M212 56h0M214 61.7h0M224.2 60.8h0M222.1 67.5h0M211.6 61.6h0M210 77.8h0M208.9 66.7h0M208.9 61h0M205.4 74.1h0M214.4 40.1h0M199.6 46.6h0M205.2 52.2h0M223.3 40.5h0M218.4 66.7h0M202.4 44.1h0M215.8 76.1h0M211.7 58.4h0M219.5 32.1h0M212.1 77.5h0M214.8 48.8h0M201.2 46.2h0M208.8 69.4h0M212.9 43.1h0M219.2 66.3h0M211 46.7h0M196.6 57.8h0M222.3 46.4h0M211.5 61.6h0M218.9 66.7h0M199.7 72h0M215 34.5h0M214.3 31h0M204.5 69.7h0M218.7 59.5h0M216.3 65.2h0M204.2 64.4h0M196.3 70.2h0"/>
<path stroke="#f8a898" stroke-width="1.3" stroke-linecap="round" fill="none" d="M219.3 60.3h0M207 65.7h0M205.9 64.1h0M208.3 39.7h0M217.6 72.5h0M222.6 64.5h0M218.9 59.2h0M210.1 62.6h0M208.3 56.9h0M206.7 58.8h0M217.6 61.5h0M218.3 45.3h0M216.7 70.2h0M207.6 66.1h0M218 48.5h0M214.8 64.7h0M218.4 62.6h0M217.4 36h0M217.2 73.2h0M218.4 39.8h0M209 60.4h0M217.1 73h0M223.7 47.7h0M199.7 64.6h0M209.6 35h0M219.2 62.8h0M214.5 61h0M207.5 74.8h0M216.5 63.3h0M223.4 54.1h0M200.2 46.6h0M204.7 30.4h0M209.8 39.2h0M214.3 65.7h0M218.4 34.1h0M221.2 69.4h0M209.4 75.7h0M215.3 41.6h0M221 60.7h0M203.7 60.8h0M204.9 62.7h0M209.4 78.2h0M201.7 41.7h0M221.9 55.1h0M224.1 63.1h0M198.9 56h0M215.4 49.3h0M220.6 53.4h0M196.3 49.6h0M216.3 51.2h0M203.7 49.3h0M212 76.8h0M210 76.3h0M219.2 49.7h0M224.4 49.2h0M206.2 68h0M207.1 66.5h0M199.1 58.7h0M204.4 63h0M206.3 76.7h0M204.7 53.2h0M218.5 36.2h0M208 71h0M220.4 69.9h0M214 77.2h0M204.9 40.9h0M217 64.2h0M208.5 76.2h0M213.7 49h0M215.3 39.2h0M219.5 68.4h0M213.8 62.1h0M215.7 34.9h0M221.7 52h0M213.6 65.3h0M209.7 61.7h0M217.5 61.6h0M207.1 40.5h0M209.6 60.7h0M211.2 37.9h0M208.4 72.9h0M222 64.3h0M203.6 69.6h0M222.6 60.4h0M204.2 48.9h0M200.9 47h0M217.6 43.3h0M205.7 75.8h0M197.5 55.8h0M217.6 72.1h0M217.9 61.5h0M206.1 75.8h0M220.5 60.9h0M216.2 54.2h0M215.9 75h0"/>
<path stroke="#58a8c8" stroke-width="1.3" stroke-linecap="round" fill="none" d="M180.5 62.6h0M191.4 33h0M178.4 59.5h0M190.6 72.6h0M196.4 34.5h0M180 51.2h0M216.5 67.7h0M192.6 67.4h0M194.4 47.7h0M213.2 72.7h0M187.9 77.1h0M191.8 67.9h0"/>
<path stroke="#e8e8e8" stroke-width="1.3" stroke-linecap="round" fill="none" d="M181.9 78.3h0M213.8 29.9h0M219.3 33.1h0M191.6 39.9h0M207.6 56.2h0M196.8 51.8h0M181.1 77h0M193.4 69.1h0M223.4 55.1h0M183 53.6h0M189.5 55.3h0M195.1 35.5h0M186.3 59.8h0M197.5 54.8h0M208.7 31.7h0M220.6 47h0M211.9 75.4h0M201.1 51.9h0"/>
<path stroke="#5898c8" stroke-width="1.3" stroke-linecap="round" fill="none" d="M217.4 72.4h0M190.7 71.7h0M183.6 76.5h0M181.9 61.3h0M185.3 67.6h0M195.7 38.1h0M192.6 62.4h0M183.9 64.1h0M184.1 72.4h0M185.2 78.1h0M187.3 65.7h0M190.8 32.4h0M201 75.7h0M184.6 59.3h0M186.6 49.4h0M199.3 28.7h0M178.9 53.2h0M210.6 72.4h0M190 69.7h0M184.3 65.7h0M188.9 63.8h0M188.2 65.7h0M190 64.7h0M188.4 61.6h0M191.3 61.5h0M189.6 63.9h0"/>
<path stroke="#f8d8d8" stroke-width="1.3" stroke-linecap="round" fill="none" d="M204.7 57h0M221 48.1h0M219.9 50h0M214.6 49h0M217.4 31.8h0M204.4 54.5h0M202.7 39.9h0M202.3 58.6h0M214.3 59.6h0M211.6 39.8h0M211.2 51h0M223.2 57.5h0M202.9 42.7h0M203.1 53.4h0M212.4 47.6h0M203.8 52.8h0M202.3 46.2h0M197.2 43.9h0M202.7 67.4h0M200.5 58.7h0M205.4 31.6h0M213.5 32.4h0M203.3 68.2h0M206 32.1h0M223.6 45h0M202.2 34.9h0M196.7 65.1h0M221.8 56.6h0M196.3 61.3h0M196.7 64h0M202.3 50.2h0M221 43.1h0M199.4 52.2h0M216.4 54.7h0M197.8 57.1h0M217.6 34.6h0M206.9 52.3h0M199.9 62.2h0M203.9 51.8h0M209.9 32.6h0M215.1 55h0M202.3 40.2h0M210.1 51.7h0M198 61.3h0M223.9 56.7h0M215.6 49.6h0M207.5 51.7h0M201.4 51h0M212.6 43.7h0M225.3 56.7h0M212.3 37.1h0M207.3 31.4h0M211.9 57h0M213.1 29.3h0M216.6 41.3h0M204.7 49h0M210.4 43.5h0M211.6 54h0M217.3 47.9h0M211.2 43.5h0M222.3 45h0M218 42.4h0M218.7 71.6h0M208.5 47.8h0M219.4 43.3h0M202.3 39.7h0M200 35.7h0M219 49.1h0M221.9 49.6h0M214.6 34.4h0M211.5 28.9h0M206.5 34.6h0M201 61.9h0M209.2 38.1h0M216.9 48.8h0M209.9 59.6h0M223 56.5h0M213 38.7h0M219 44.8h0M206.9 31.5h0M201.5 41.3h0M197.9 49.2h0M213.3 35.7h0M222.4 42.1h0M207.5 47h0M218.2 39h0M197.2 73.4h0M198.6 35.2h0M203.2 56.5h0M203 72h0M213.9 48.9h0M212.1 57.6h0M225.8 55.1h0M198.2 44.4h0M202.1 71.7h0M211.8 35.8h0M198.5 36.6h0M224.7 56.4h0M210.2 31.3h0M202.9 73.5h0M206.4 57.2h0M209.4 58.9h0M215.9 37h0M224.1 44.5h0M197.5 31.7h0M224.3 59.1h0M216.8 53.7h0M216.5 53.3h0M224.5 52.2h0M210.4 30.7h0M207.7 55.1h0M202.4 59.3h0M206 29.3h0M206.6 44.6h0M214.4 37.9h0M203.2 31.4h0M203.5 69.7h0M201.6 69.3h0M211.9 41.4h0M206.4 45.7h0M216.9 50.5h0M197.6 62.7h0M206.9 48.1h0M200 67.8h0M204.6 71.8h0M216.3 42.9h0M208.9 58h0M216 45.1h0M218.8 53.1h0M219.6 40.7h0M212.5 51.4h0M197.2 53.2h0M218.4 44.3h0M201.3 46.6h0M205.6 46.3h0M204.1 30.9h0M214.2 58.8h0M211 77.1h0M210 40.3h0M204.9 50.7h0M197.6 59.3h0M201.8 65.1h0M206.4 49.7h0M206 52.2h0M204.2 46.1h0M220.5 55.4h0M213.2 35.9h0M218 37h0M199.5 74.8h0M214.5 59.6h0M204.6 64.7h0M217.5 52.5h0M213.3 53.7h0M216 41.9h0M202.3 54.3h0M209.1 42.9h0M213.7 45.7h0M198.3 72.9h0M202.8 72h0M209.5 50.4h0M196.3 51.2h0M198.3 56.5h0M207.5 55h0M223.5 55.7h0M204 57.7h0M203.3 44.6h0M212 42.2h0M215.8 34.6h0M204.4 68h0M196.3 54.6h0M214.7 42.1h0M200.6 57.4h0M218.3 39.8h0M213.3 58.7h0M212.8 30.1h0M206.5 52.8h0M199.6 61.1h0M216.7 31.7h0M209.4 52.1h0M208.7 38.4h0M224.1 46.6h0M210.1 44.4h0M211.7 42.3h0M210.2 30.8h0M216.6 41.1h0M202.9 56.7h0M206.9 32.2h0M198.6 49.5h0M199.2 44.5h0M201.3 62.4h0"/>
<path stroke="#98c8d8" stroke-width="1.3" stroke-linecap="round" fill="none" d="M186.2 41.7h0M193 45.2h0M192.5 35.9h0M196.6 39h0M185.7 47.8h0M197.1 44.3h0M190.9 42.1h0M194.9 66.4h0M195.1 55.3h0M180.2 65.6h0M195.3 60.9h0M179.3 65h0M216.3 71.9h0M185.8 40.6h0M195.1 38h0M180.6 67.5h0M184.6 39.5h0M181.2 66.3h0M190.3 51.6h0M194.7 46.2h0M216.3 72.6h0M179.7 59.9h0M198.9 40.9h0M195.6 31.4h0M179.2 60.3h0M186 55.9h0M194.7 50h0M212.5 68h0M193.3 40.1h0M210.3 68.9h0M195.4 67.3h0M190.4 30.7h0M194.8 40.3h0M190.6 46.8h0M199.1 29.3h0M180.8 61.8h0M191.9 53.9h0M184.4 52.1h0M194.7 58h0M176.2 59.7h0M192.7 54.4h0M190.8 44.1h0M195.8 41.7h0M195.8 66.5h0M195.6 77.9h0M186.8 33.3h0M189.7 30.1h0M185.8 41.3h0M187.2 38.5h0M181.3 54.6h0M185.7 43.2h0M194 52.8h0M188.3 55.9h0M189.9 42h0M193.5 42.7h0M177.1 58.6h0M194.9 39.9h0M194.4 62.2h0M200.4 28.9h0M192.6 67h0M195.6 42.9h0M193.3 48.2h0M186.8 48.2h0M191.4 39.3h0M187.2 46.6h0M193 41.5h0M179.1 53.7h0M183.4 51.8h0M195.8 46.4h0M187.7 33.4h0M200.9 39.3h0M194.8 55.7h0M201.1 80.5h0M179.3 56h0M184.9 50.9h0M191.7 32.9h0M182.2 57.5h0M186.1 56.9h0M197.1 43.4h0M192.8 45.3h0M188.9 36.8h0M193 39.2h0M195.8 29.6h0M192.4 36h0M203.2 76.2h0M194.3 78.6h0M182 77.3h0M190.3 47.7h0M183.7 40.3h0M194.2 72.4h0M180.6 51.5h0M180.1 65.4h0M191.4 51.1h0M187 39.4h0M188.5 47.9h0M192.3 29.3h0M192.7 42h0M182 58.2h0M184.8 38.3h0M190.6 33.2h0M189.7 40.9h0M187.1 48.6h0M195.1 64.6h0M177.3 57h0M182 42.4h0M186.7 53.6h0M192.3 42.2h0M188.5 55.1h0M189.9 53.7h0M194 58.4h0M201.2 33.4h0M189.4 39.9h0M193.9 58h0M180.4 52.3h0M191.1 39.5h0M195.7 28.3h0M194.9 32.1h0M214.2 70.1h0M202.5 81.2h0M203.5 79.6h0M185.8 50.4h0M201.7 74.8h0M186 44.4h0M194.8 52.8h0M196.2 65.4h0M187 34.5h0M202.6 75.5h0M187 41.7h0M214 74.1h0M182.4 53.2h0M204.3 77.5h0M194.6 66.8h0M187.5 37.7h0M185.1 46.4h0M197 35.9h0M181.9 74.3h0M191 37.6h0M191.6 35.3h0M182.5 60.9h0M186.2 53.3h0M182.4 40.3h0M196.3 37.8h0M182.6 76.3h0M199.2 34h0M202.5 79.8h0M186.4 47.3h0M197.6 42.3h0M191 56.3h0M190.4 57.8h0"/>
<path stroke="#88b8d8" stroke-width="1.3" stroke-linecap="round" fill="none" d="M183.2 46.6h0M181.7 58.9h0M188.8 49.1h0M180.9 52h0M194.5 43.9h0M191.8 44.9h0M212.8 71.7h0M183.7 57.3h0M209.5 70.1h0M187 35.3h0M194.1 55.9h0M187.4 62.5h0M187.1 45.9h0M183.6 41.3h0M186.3 69.9h0M189.4 33.1h0M190.1 52.7h0M177.4 61h0M212.3 68.5h0M194.3 54.1h0M180.9 68.8h0M191.7 53.5h0M191.6 30.8h0M194.7 45h0M215.3 68.6h0M201.6 80.5h0M190 38h0M178.3 63.6h0M193.9 43.3h0M187.4 56.2h0M202.5 78.5h0M183.8 50.2h0M179.3 53.9h0M177.4 62.4h0M184.1 47.5h0M181.6 43.1h0M182.6 61.6h0M191.2 41.4h0M201.2 74.7h0M187.9 55h0M186.7 34.5h0M179.3 51h0M192.5 54h0M211.3 71.4h0M192.2 40h0M190.4 44.5h0M203 80.1h0M194.8 76.4h0M190.5 33.8h0M191 34.7h0M199 78.5h0M191.1 43.9h0M191.5 37.4h0M191.9 29h0M187.2 58.9h0M200.8 80.1h0M196.2 39.6h0M184.6 49.7h0M212.1 68.3h0M195.9 42.3h0M182.7 55.4h0M215.9 67.1h0M189.1 56.1h0M189.7 53.1h0M189.5 34.4h0M195.8 62.2h0M200.5 36.2h0M202.1 30.7h0M199.2 76.8h0M217.6 68.9h0M191.3 35.4h0M186.6 49.4h0M184 51.7h0M180 66.6h0M189.7 38.5h0M191.7 37.6h0M181 65.4h0M203.6 79.9h0M193.4 57.8h0M192.3 49h0M185.5 72.3h0M200.8 79.5h0M211.9 70.9h0M213 69.5h0M177.9 57h0M194.9 75.2h0M194.8 33h0M187.4 57.2h0M195.1 72.1h0M195.5 58.7h0M194.5 62.1h0M189.6 39.7h0M194.7 55.6h0M182.6 72.9h0M178.9 60.7h0M194.4 79.7h0M179 66.2h0M188.8 42.1h0M205.3 77h0M201.3 33.1h0M192.9 77.9h0M185.6 52.6h0M189.9 36.4h0M183.7 54.7h0M179.7 58.7h0M191 39.8h0M182.3 57.6h0M187.5 41.7h0M213.2 73.2h0M182.7 52h0M189.6 43.2h0M213.7 68.1h0M210.4 68.5h0M194.6 50.2h0M211.4 71.8h0M215.4 72.7h0M185.1 45.9h0M212.9 70h0M184.8 41.9h0M202.6 77.3h0M196.8 43.9h0M200.4 75.6h0M193.6 54.4h0M185.8 56.1h0M179.1 52.1h0M185.8 62.8h0M190.5 39.1h0M193.5 58.4h0M187.3 47.8h0M194 55.5h0M210 72.7h0M185.7 53.5h0M192.7 51.2h0M190 46h0M195.4 32.8h0M186.2 46.9h0M193.4 30.1h0M183.3 67h0M189.9 75.5h0M190.3 30.8h0M187.5 54.6h0M189.9 54.6h0M193.4 29.5h0M192.5 43.5h0M194.4 69.1h0M188.1 45.7h0M186.4 38.7h0M186.7 58.6h0M184.1 42.8h0M212.1 74.5h0M180.7 65.7h0M202.6 30h0M182.8 45.8h0M182 54.9h0M220.3 65h0M184.2 57.3h0M181.6 76.1h0M194.8 78.6h0M191.8 31.9h0M188.9 47h0M192.5 34.8h0M194 29.3h0M189.1 62.6h0M191.5 58.3h0M189.6 58.7h0M189.1 58.7h0M189.1 58.3h0"/>
<path stroke="#4898b8" stroke-width="1.3" stroke-linecap="round" fill="none" d="M186.7 67.1h0M185.2 72.7h0M184.3 79.2h0M183.7 74h0M184.1 39.2h0M192 77.9h0M185.2 69.2h0M188.9 75.9h0M186.4 69.2h0M185.3 73h0M184.4 63h0M187.8 62h0M189.5 75.5h0M184.5 59.6h0M193.1 72.4h0M189.1 60.2h0M184.7 66.3h0M189.6 79.1h0M188.3 71.6h0M192.7 78.9h0M184.4 78.9h0M184.7 68.9h0M186.2 60.3h0M191 72.6h0M193.4 71.9h0M188.5 64.1h0M191 73.6h0M192.6 70h0M185.6 62.4h0M186.4 76.7h0M192.8 69.7h0M189.9 71.5h0M187.2 71.5h0M189 74.9h0M193 71.9h0M188.7 69.1h0M185.9 70.3h0M189.7 62.9h0M191.1 64.4h0M189.2 63.2h0M189.9 58.2h0M190 62.1h0M191.7 63.8h0M189.6 64.9h0M191.1 62.5h0M190 62.3h0"/>
<path stroke="#b8d8e8" stroke-width="1.3" stroke-linecap="round" fill="none" d="M192 32.9h0M186.3 57.5h0M191.8 38.3h0M188.5 52.7h0M197.1 37.9h0M182.6 53.5h0M199.7 39.9h0M201.8 80.8h0M194.8 76.2h0M195 66h0M202.9 30h0M214.7 70.6h0M189.8 58.6h0M196.3 45.1h0M194.6 56.3h0M196.6 49.4h0M197.9 37.5h0M182.4 52.4h0M189.3 37.4h0M187.2 49.7h0M184.8 43.4h0M210.8 69.4h0M182.6 77.9h0M196.7 37.6h0M212.6 68.3h0M186.5 47h0M178.9 59.3h0M179.9 52.2h0M195.5 63.8h0M194.9 64.6h0M181.9 64.3h0M183.1 64.9h0M193.7 38.4h0M220.4 64.9h0M196.8 46.2h0M179.6 60.6h0M182.8 65.4h0M195.9 32.4h0M196.6 45.3h0M188.2 39.3h0M193.6 28.6h0M186.9 46.7h0M178.4 57.9h0M181 51.6h0M184.6 36.6h0M182.8 62.1h0M194.7 64h0M195.6 29.5h0M178.4 56h0M191.9 48.3h0M198.4 35.1h0M182.2 55.2h0M214.1 72.9h0M214.6 69.2h0M198 29.4h0M182 39.8h0M185.4 54.1h0M181.9 40.6h0M180.9 61.4h0M178.9 58.9h0M221.1 62.9h0M214.8 72.7h0M199.2 79.3h0M190.1 48.5h0M194.6 73.8h0M179.3 57.9h0M184.6 58.5h0M203.5 76.5h0M186.1 49.9h0M182.2 57.4h0M192.5 37h0M179.8 50.2h0M195.5 65.9h0M187.2 43.4h0M199.7 34h0M219.4 64.8h0M216.2 69.8h0M190.5 50.3h0M180.7 56.8h0M181.6 44.1h0M192.8 29.3h0M187.4 51h0M211 66.8h0M184 58.9h0M184.4 47.4h0M182.8 41h0M187 43.8h0M187.1 39h0M202.9 79.5h0M192.5 39.1h0M215.5 71.5h0M200.4 30h0M222.4 62.4h0M178.3 66.4h0M194.5 52.5h0M214.8 70.9h0M189.4 59.1h0M188.4 57.7h0M182.8 67.4h0M195.5 61.3h0M189.8 55.5h0"/>
<path stroke="#3888a8" stroke-width="1.3" stroke-linecap="round" fill="none" d="M187.3 67.6h0M189.9 61.4h0M183.7 65.1h0M185.4 66.9h0M188.7 67.8h0M194 80.1h0M193.2 80.3h0M184.7 62.7h0M191.3 68.2h0M185.9 69.1h0M191.6 71.6h0M193.5 72.2h0M189.4 70h0M184.2 62.1h0M186.5 67.5h0M191.3 75.3h0M185.3 64.5h0M186.9 64.7h0M192.5 80.6h0M186.9 61h0M184.8 61.1h0M185.9 72h0M187.7 68.6h0M185.6 64.6h0M188.7 60h0M193.3 74.7h0M191.5 61.3h0M190.4 60.7h0M188.8 64.1h0"/>
<path stroke="#78b8c8" stroke-width="1.3" stroke-linecap="round" fill="none" d="M191.2 77.2h0M195.1 33.3h0M194.9 47.3h0M195.3 72.7h0M181.3 60h0M210.5 73.5h0M187.8 40.2h0M212.7 71.1h0M195.4 31.1h0M194.2 58.3h0M195.6 66.2h0M213.1 71.2h0M188.1 49.9h0M194.3 48.9h0M190 48.9h0M193.8 31.2h0M190 54.9h0M211.8 69.4h0M179.3 55.3h0M182.2 65.9h0M185.3 76.1h0M198.7 78.9h0M213.1 69.4h0M183.9 43.8h0M197.7 30.8h0M193 45.1h0M187.6 42.9h0M182.9 61.1h0M212.5 69.6h0M187.4 45.8h0M179.9 56.1h0M195.2 41h0M195.7 77h0M210.1 70.8h0M181.8 56.7h0M195.9 30.8h0M177.6 58.7h0M185.2 43h0M191 44.9h0M194.9 47.2h0M212.4 72.5h0M187.9 42.3h0M185.8 56h0M193.8 54h0M180.6 51.3h0M210.3 68.1h0M204.1 77.9h0M194.2 68.1h0M215.2 67.4h0M203.4 31.4h0M182.5 51.3h0M191.3 48.5h0M194 44.6h0M189.7 55.5h0"/>
<path stroke="#e88878" stroke-width="1.3" stroke-linecap="round" fill="none" d="M207.6 66.6h0M216.8 74.6h0M207.6 75.4h0M218.6 71.9h0M218.1 60.2h0M214.3 66.8h0M215.2 59.1h0M223.1 65.8h0M218.6 60.8h0M211.7 63.2h0M207.7 66.6h0M207 51.3h0M220.2 66.3h0M209.1 62.3h0M215.8 65.7h0M205.2 76.8h0M219.8 61.8h0M217.8 69.4h0M211.6 62.2h0M207.7 73.1h0"/>
<path stroke="#f8e8e8" stroke-width="1.3" stroke-linecap="round" fill="none" d="M211.6 49.9h0M201 41.5h0M216.8 31.1h0M199.3 35.1h0M200.3 72h0M225 55h0M209 53.4h0M203.5 57.7h0M209.3 47.3h0M212.6 56.1h0M199.2 44.9h0M219.2 51h0M215.3 36.7h0M197.5 58h0M198.6 32.2h0M208.6 52.1h0M221.8 51.2h0M209.7 47.7h0M207 50.5h0M197.8 63.3h0M225.8 53h0M209.6 31.8h0M220.4 38.6h0M202.6 60.8h0M201.8 62.8h0M211.9 53.2h0M202.5 58.8h0M200.3 64.9h0M206.1 47.7h0M223.2 44.6h0M220.3 39.8h0M197.2 71.6h0M208.9 55.8h0M207.3 55.1h0M215 36.9h0M211 31.7h0M219.7 39.7h0M203.7 77.8h0M211.2 36.4h0M220.9 51.4h0M199.1 35h0M207.6 51.6h0M213 48.7h0M210.9 50.9h0M216.4 49.6h0M211.1 50.9h0M199.3 58.3h0M197.7 55.2h0M197.7 56.8h0M208.2 29.3h0M197.9 66h0M220.5 37.5h0M222 42h0M203.9 52.4h0M207.8 39.7h0M217.2 41.2h0M207.2 56.4h0M213.8 30h0M213.9 42.7h0M218.9 56h0M201.7 55.9h0M197.1 50.7h0M202.6 65.1h0M197.3 73.4h0M215.7 54.7h0M221.1 59.5h0M223.3 50.8h0M205.5 44.2h0M210.5 28.7h0M215.8 46.7h0M200.8 56.4h0M196.8 75.5h0M217.7 38.9h0M210.5 50.9h0M201.4 55.6h0M200.7 66.6h0M203 51.2h0M219.5 59.6h0M219.2 32.3h0M199.2 36.8h0"/>
<path stroke="#f8a8a8" stroke-width="1.3" stroke-linecap="round" fill="none" d="M214.1 43.2h0M208.8 60.8h0M213.4 60.4h0M211.9 54.5h0M222.8 45.4h0M203.7 72.9h0M215.2 38h0M197.8 68h0M217.3 52h0M220.8 66.2h0M222.9 59.6h0M216.8 58.4h0M206.7 70.1h0M223 62.9h0M218.8 70.3h0M218.3 49.1h0M208.5 71h0M205.4 66.9h0M205.6 62.9h0M196.2 62.5h0M214.2 64.9h0M211.7 30.2h0M205.5 51.7h0M224.4 61.9h0M210.5 29.3h0M214.6 52.6h0M216.6 59.9h0M205.2 58.6h0M211.5 58.8h0M220.7 70.6h0M214.8 48.5h0M210.7 62.4h0M214 77h0M214 43.1h0M206.6 53.3h0M204.9 75h0M217.1 38.8h0M199.7 71.3h0M219 37.3h0M211.2 37.9h0M202.7 55.1h0M203.2 71.1h0M213.7 63.9h0M221.8 56.6h0M198.8 45.9h0M211.8 44h0M205.7 47.5h0M215.5 32.4h0M213 54.9h0M208 40.9h0M208.6 71h0M208.4 66.7h0M210.3 41.5h0M209.6 61.5h0M198.6 56.4h0M224.2 49.1h0M213.7 54.7h0M207.2 62.7h0M209.1 64.8h0M207.6 68h0M200.2 51.5h0M208.1 56h0M198.7 59.5h0M209.5 64.5h0M206.1 42.2h0M207.3 29.7h0M204 67.3h0M210.7 76.8h0M221.3 51.7h0M204.6 41.2h0M215.5 66.7h0M212 61.2h0M206 64.8h0M204.5 45.8h0M214.3 62.2h0M207.9 62.7h0M212.7 55.6h0M217.5 41h0M208.1 39.4h0M211.3 49.8h0M205 54.3h0M223.8 50.9h0M210 67.6h0M214.8 75.9h0M203.8 70.4h0M209.5 57.8h0M211.9 50.5h0M214.8 51h0M208.7 76.9h0M222.6 62.6h0M218.5 62.1h0M218.9 35.3h0M200.6 50.7h0M213.5 51.6h0M207.5 63.7h0M203.3 57.7h0M218.5 52.9h0M208.8 77.5h0M216.7 70.5h0M224.9 54h0M215.9 35h0"/>
<path stroke="#a8c8d8" stroke-width="1.3" stroke-linecap="round" fill="none" d="M199.1 32.1h0M204.4 77.7h0M186.5 58.3h0M192.4 51.2h0M195.4 52.1h0M204.5 77.3h0M212 67.4h0M182.8 53.8h0M189.3 54.4h0M181.2 63.4h0M186.7 33.4h0M202.3 30.1h0M182.3 55.6h0M183.3 50.6h0M193.1 73.4h0M193.8 62.7h0M182.6 53h0M193 65.9h0M214.4 68.2h0M193.9 75.2h0M189.8 48.7h0M211.4 73h0M182.9 77.4h0M194.7 31.4h0M211.6 69.8h0M189.8 34.8h0M196.3 40.3h0M194.7 45.9h0M180.5 51.2h0M194.5 66.8h0M183.1 56.9h0M200.2 38h0M189.6 47.4h0M182.4 68.2h0M180.7 61.3h0M194.9 55.6h0M180 57.2h0M182.6 71.4h0M194.8 31.8h0M185.6 52.8h0M202.6 76.1h0M185.9 36.2h0M187.7 52.6h0M180.3 56.2h0M182.5 43.2h0M187.7 50.8h0M178 56.1h0M213.6 69.4h0M187.6 53.9h0M216.1 67.8h0M189.2 56.4h0"/>
<path stroke="#f8e8d8" stroke-width="1.3" stroke-linecap="round" fill="none" d="M209 57.5h0M202.9 48.8h0M200.6 72.1h0M196.3 61.6h0M220.2 47.7h0M207.9 41.1h0M202.4 66.2h0M224.4 50.5h0M198.6 56.5h0M220.6 59.6h0M213.8 52.4h0M197.5 52.2h0M203.3 56h0M197.1 33.3h0M208.1 45.8h0M197 56.1h0M208.6 51.5h0M203.3 41.4h0M219.7 34.9h0M216.6 53.4h0M211.6 31.8h0M221.1 42h0M206.8 33.2h0M222.9 38.4h0M216.4 41h0M205.2 30.9h0M196.2 42.4h0M215.3 45.8h0M198.8 66.8h0M223.3 56.8h0M203.4 59.2h0M199.9 40.4h0M220 57.9h0"/>
<path stroke="#a8d8e8" stroke-width="1.3" stroke-linecap="round" fill="none" d="M195.8 50.6h0M189.3 32h0M178.8 56.3h0M187.8 42.1h0M193.1 39.5h0M192.2 58.4h0M191 42.7h0M213.6 71.7h0M195.8 42.5h0M182.6 76.9h0M191.5 50.9h0M185.5 56.3h0M194 66.4h0M188.4 38.9h0M178.9 66h0M189.4 39.1h0M195 58.9h0M185.4 54.2h0M185.7 47.4h0M199.7 30.3h0M195.9 68.2h0M192.3 49.1h0M180.5 61.7h0M190.9 59.2h0"/>
<path stroke="#78b8d8" stroke-width="1.3" stroke-linecap="round" fill="none" d="M200.9 80h0M194.2 38.4h0M209.7 68.2h0M180.2 65.3h0M189 50.1h0M180.1 55.8h0M194 78.7h0M187.9 42.6h0M198.4 39.7h0M209.8 70h0M185.9 57.3h0M182.8 43h0M197.6 46.5h0M187 69h0M212 69.2h0M194 77.2h0M191.3 50.4h0M193.3 29.6h0M190.5 34.6h0M186.5 54.3h0M191.5 45.5h0M187.5 55h0M214.2 75.3h0M200 28.3h0M180.7 51.3h0M182.4 65.2h0M196 77.3h0M194.5 61.7h0M196.4 31.6h0M179.8 56h0M199.2 29.4h0M179.1 55.3h0M187.2 46.8h0M195.2 55.4h0M222.3 61.4h0M187.7 40.4h0M190.1 44.9h0M190.6 58.2h0"/>
<path stroke="#c8d8e8" stroke-width="1.3" stroke-linecap="round" fill="none" d="M182.6 57.8h0M188.6 41.3h0M193.1 56.5h0M193 51.8h0M209.2 68.2h0M194.9 44.1h0M199.3 77.2h0M199.7 30.4h0M189.7 45.5h0M181.7 56.3h0M195.1 64.6h0M195.5 46.7h0M209.1 69.8h0M195.8 35h0M182.3 75.7h0M184.8 46.3h0M177.8 62.5h0M197.6 48.4h0M188.1 45h0M195.3 74.6h0M212.9 68.9h0M185.4 46.1h0M192.8 30.9h0M184.2 47.8h0M205.2 76.4h0M185.5 53.8h0M186.6 42.1h0M191.5 31.7h0M194.4 28.2h0M188.1 32.2h0M187.9 42.4h0M190.1 45.1h0M195.4 31.6h0M190.1 51.7h0M201.8 35.9h0M186.7 50.6h0M181.6 60.6h0M193.6 61.9h0M196.6 36.5h0M212.3 75.5h0M201.5 79h0M195.9 35.6h0M179.4 54.1h0M194.1 33.1h0M180.4 61.8h0M176.9 59.6h0M194.5 36.4h0M182.2 49.5h0M185.4 55.7h0M178.5 65.5h0M193.5 31.6h0M193.7 57.5h0M213 75.9h0M187 39.2h0M194.5 56h0M189.8 37.1h0M184 50.8h0M191.7 58h0"/>
<path stroke="#e86868" stroke-width="1.3" stroke-linecap="round" fill="none" d="M219.5 69.5h0"/>
<path stroke="#d8e8e8" stroke-width="1.3" stroke-linecap="round" fill="none" d="M189.7 32.4h0M194.6 42.8h0M224.8 48.2h0M213.9 70.6h0M198.2 28.5h0M187.2 45.7h0M194 50.6h0M190.5 50.1h0M187 57.5h0M214.2 38.9h0M203 74h0M210.3 73.4h0M204.3 78.8h0M190.6 48h0M184.9 38.8h0M185.4 53.9h0M199.9 72.6h0M186.4 49.3h0M208.7 32.9h0M222.9 55h0M202.1 66.3h0M214.9 72.8h0M211.3 74.6h0M191.8 47h0M194.6 38.3h0M193.2 40.5h0M190.4 56.8h0"/>
<path stroke="#98b8d8" stroke-width="1.3" stroke-linecap="round" fill="none" d="M185 54.3h0M191.3 34.3h0M193.3 43.2h0M188.8 43.2h0M195.2 45.6h0M182 76.1h0M182.6 74.4h0M191.3 55.3h0M183.5 74.3h0M199.9 77.8h0M188 46.7h0M199.8 39.5h0M211.5 69.3h0M200.7 29.8h0M201.7 78.7h0M188 41.3h0M209.9 72.4h0"/>
<path stroke="#e88888" stroke-width="1.3" stroke-linecap="round" fill="none" d="M208.5 75.9h0M208.6 66.3h0M216 68.9h0M218.5 64.4h0M205.3 68.6h0M204.2 64h0M213.2 77.1h0M219.8 67.6h0M203.6 47.2h0M206.8 70.5h0M201.6 56.8h0"/>
<path stroke="#e87878" stroke-width="1.3" stroke-linecap="round" fill="none" d="M217.2 65.1h0M197.4 58.9h0M205.7 69.5h0M217.7 71.6h0M200.8 58.8h0M216.1 59.6h0"/>
<path stroke="#4888b8" stroke-width="1.3" stroke-linecap="round" fill="none" d="M192.7 59.3h0M185.4 59.2h0M184.7 74.5h0M184.1 60.6h0M192.7 78.3h0M185.8 74.1h0M183.1 59.4h0M185.1 61.9h0M184.1 59.9h0M186.1 64.1h0M188.4 68.2h0M189.8 75.6h0M189.4 76h0M183.9 67.4h0M185 70.7h0M190.1 75.9h0M183.8 76.9h0M186.6 71.2h0M184.9 69h0M193.1 66.7h0M186.4 70.8h0M185.6 65.8h0M186.9 64.8h0M190.9 67.8h0M192.5 76.3h0M192 62.2h0M192.4 61.2h0M191.9 62.9h0M189.2 63.9h0M189.8 65.2h0"/>
<path stroke="#e87868" stroke-width="1.3" stroke-linecap="round" fill="none" d="M219.8 70.6h0M214 67.2h0M204.1 63.1h0M208.1 60.2h0M212.5 77.7h0M214.9 59.9h0M204.7 72.4h0"/>
<path stroke="#f89898" stroke-width="1.3" stroke-linecap="round" fill="none" d="M204.6 60h0M217.5 58.5h0M222 39.8h0M205 68.3h0M216 42.1h0M221.2 39.3h0M200.4 55.8h0M208.3 62.2h0M208 36.9h0M209.9 64.5h0"/>
<path stroke="#d8d8e8" stroke-width="1.3" stroke-linecap="round" fill="none" d="M188.3 33.2h0M191.9 48.6h0M189.2 58.8h0M200.3 30.2h0"/>
<path d="M174.2 26.2V82H228.7" fill="none" stroke="#222" stroke-width="1.1"/>
<path d="M186.5 82v2.3" stroke="#222" stroke-width="0.9"/>
<text x="186.5" y="94.1" font-size="6.4" text-anchor="middle" fill="#222">−50</text>
<path d="M201.8 82v2.3" stroke="#222" stroke-width="0.9"/>
<text x="201.8" y="94.1" font-size="6.4" text-anchor="middle" fill="#222">0</text>
<path d="M218.8 82v2.3" stroke="#222" stroke-width="0.9"/>
<text x="218.8" y="94.1" font-size="6.4" text-anchor="middle" fill="#222">50</text>
<path d="M174.2 37.7h-2.3" stroke="#222" stroke-width="0.9"/>
<text x="168.3" y="40" font-size="6.4" text-anchor="end" fill="#222">50</text>
<path d="M174.2 54.6h-2.3" stroke="#222" stroke-width="0.9"/>
<text x="168.3" y="56.9" font-size="6.4" text-anchor="end" fill="#222">0</text>
<path d="M174.2 71.5h-2.3" stroke="#222" stroke-width="0.9"/>
<text x="168.3" y="73.8" font-size="6.4" text-anchor="end" fill="#222">−50</text>
<text x="201.4" y="20.8" font-size="6.6" text-anchor="middle" fill="#222">Calcein convex area</text>
<defs><linearGradient id="cb0" x1="0" x2="0" y1="0" y2="1"><stop offset="0" stop-color="#6e4646"/><stop offset="0.5" stop-color="#4a4a4a"/><stop offset="1" stop-color="#34505c"/></linearGradient></defs>
<rect x="223.5" y="29.2" width="2.6" height="25.4" fill="url(#cb0)"/>
<path d="M226.1 30.4h2.4" stroke="#222" stroke-width="0.8"/>
<text x="231.3" y="32.7" font-size="6.4" fill="#222">2.5</text>
<path d="M226.1 42.3h2.4" stroke="#222" stroke-width="0.8"/>
<text x="231.3" y="44.6" font-size="6.4" fill="#222">0.0</text>
<path d="M226.1 54.6h2.4" stroke="#222" stroke-width="0.8"/>
<text x="231.3" y="56.9" font-size="6.4" fill="#222">−2.5</text>
<path d="M287.1 28.2L291.3 27.9L294.9 28.6L298.1 29.9L296.8 33.6L294.9 39.4L292.3 44.5L289.7 49.9L287.4 53.6L285.5 55.6L283.2 54.9L280.6 52.9L278.3 49.9L276.1 46.5L275.1 43.4L276.1 39.4L278.3 36L280.9 33L283.8 30.3Z" fill="#f4e2e0"/>
<path d="M278.3 49.9L275.7 48.5L272.8 51.2L270.8 56.3L270.5 60.7L271.5 64.7L273.4 68.1L276.1 69.5L279 68.1L281.6 65.4L283.2 62L284.2 58L283.2 55.3Z" fill="#ecebed"/>
<path d="M277.7 65.1L280.9 64.4L282.9 67.1L282.6 71.5L279.9 72.2L277.7 69.8Z" fill="#f3eae9"/>
<path d="M275.4 71.5L278.3 70.8L279.9 73.5L279.3 78.3L277.3 80L275.1 78.3Z" fill="#e0e6eb"/>
<path d="M292.9 74.9L296.8 73.9L299.4 75.9L298.8 80L295.2 81.3L292.6 78.9Z" fill="#f6cdc7"/>
<path d="M298.1 29.9L300.1 28.9L304.3 28.6L309.2 29.2L312.8 30.6L314.7 33.6L317 39.4L318.9 47.2L320.1 54.6L319.3 61.4L317 67.1L313.4 73.2L309.2 76.9L303.3 78.3L298.8 77.6L294.9 76.9L292.3 75.6L290.3 73.5L288.7 70.1L287.8 66.1L286.1 62L286.1 57.3L289.1 51.2L291.6 45.1L294.2 39.4L296.2 33.6Z" fill="#f6d0ca"/>
<path d="M282.6 72.2L286.4 70.8L289.7 72.2L290.7 75.6L289.7 79.6L286.4 81L283.2 80L281.9 76.2Z" fill="#f4e6e4"/>
<path d="M283.2 68.1L285.5 64.7L287.4 65.4L288.4 69.5L286.4 70.8L283.2 70.1Z" fill="#f4e3e1"/>
<path d="M281.9 56L286.1 56L286.8 64.7L282.6 65.4Z" fill="#cfdfe9"/>
<path stroke="#f8d8d8" stroke-width="1.3" stroke-linecap="round" fill="none" d="M293.5 50.6h0M317.5 55.9h0M303.7 47.5h0M280.5 68.6h0M313.5 42.8h0M311 72.5h0M282 42.9h0M288.1 32.5h0M305.4 49.5h0M306.9 60h0M295.3 68.8h0M305.4 53.9h0M292.7 33.2h0M301.9 57h0M294.6 71.9h0M301.3 39.9h0M303.9 70.4h0M302.8 43.1h0M294.9 80.1h0M287.4 38.4h0M297.2 72.7h0M313.7 47.9h0M290.7 44.2h0M305.9 35.5h0M314.9 37.6h0M304.5 63.3h0M289 65.9h0M306.7 56.2h0M301.9 56.6h0M299.3 58.5h0M310.7 53h0M310.7 48.2h0M288.5 66.4h0M300.4 46.6h0M299 55.6h0M315.5 66h0M297.8 49.8h0M295.1 52.1h0M290.8 73.3h0M300.6 69.3h0M311.7 55.5h0M296.9 53.8h0M310.2 58.6h0M312.7 69.8h0M289.1 43.9h0M293.5 28.8h0M312.2 45.8h0M298.5 56.5h0M303.7 47.7h0M288.5 54.2h0M311.7 48.3h0M312.7 71.7h0M304 40.9h0M299 72.3h0M299.5 63.5h0M308.4 40.5h0M312.8 34.6h0M304.4 33.8h0M312.9 62h0M306.5 70.8h0M315.7 49.4h0M285.2 46.1h0M310.6 53.4h0M293.2 39.7h0M300.7 42.3h0M283.5 50.1h0M288.6 69.6h0M293.6 40.5h0M309.2 41.2h0M293.5 31.2h0M290 34.8h0M281.6 62.6h0M277.9 70.3h0M279.3 67.1h0M286 58.2h0M306 67.9h0M299.9 37.1h0M290.9 59.5h0M314.9 60.2h0M287.4 33.1h0M296.1 75h0M304.4 68.7h0M310.9 35.5h0M316 64.5h0M273.7 51.2h0M306 67.7h0M299.6 68.8h0M316 63.9h0M303.1 60.8h0M301.3 33.1h0M300.6 50.8h0M302.5 57.5h0M290.4 33.8h0M310.9 55.3h0M315.2 36h0M276.4 71.7h0M315 41.9h0M279.8 44.4h0M282 49.6h0M291.2 73.9h0M300.2 51.6h0M281.1 61.5h0M307.3 39.4h0M298.4 56.5h0M297.7 59.9h0M289.3 64.2h0M308.9 55.2h0M281.7 59h0M305.1 30.8h0M306.5 68.9h0M297.1 67.6h0M318.3 53.3h0M299.5 62.3h0M296.7 72h0M297.2 63h0M301.2 48.2h0M283.6 52.6h0M310.4 38.8h0M289.4 65.6h0M300.5 41.3h0M294.9 36.4h0M287.5 30.7h0M288.2 79.1h0M297.5 50.8h0M317 53.7h0M294 48.5h0M315.2 49.8h0M299.9 73.6h0M311.3 65.2h0M317.7 46h0M314.5 39.1h0M302.3 55.4h0M297.9 55.6h0M288.4 52.3h0M294.6 29.3h0M306 57.7h0M305.1 48.2h0M276.4 78.2h0M289.4 32.1h0M287.2 43h0M291.6 74.1h0M299.8 29.7h0M293.1 37.2h0M304.9 43.5h0M283.5 75.5h0M305.4 54.6h0M314.8 36.2h0M290.7 52.2h0M296.5 64.4h0M302.7 67.5h0M311.4 41.8h0M290 52.7h0M309 42.4h0M295.6 60.3h0M289 42.8h0M309.2 39h0M306.6 31.7h0M299.5 32.7h0M303.1 28.5h0M306.3 68.7h0M291.2 72h0M304.5 28.4h0M301.4 44.6h0M296.3 37.5h0M305 73.8h0M289.6 32.5h0M315.5 54.9h0M317.7 63.3h0M316.4 38.2h0M289.1 72.6h0M283.4 39.9h0M287.9 28.4h0M274.8 51.1h0M309.3 46.2h0M276.9 72.6h0M294 61.1h0M306.7 63.9h0M280.5 64.6h0M313 43.9h0M287.6 69.7h0M295 79.9h0M315.2 41.9h0M297.7 50.2h0M271.8 55.3h0M281.5 68.7h0M313.5 36.3h0M294.9 32.9h0M305.4 45.4h0M316.6 44.4h0M314.2 47.8h0M313 47.3h0M313.5 39.4h0M285.1 54.8h0M296.2 67.1h0M311.7 54.8h0M297.9 79h0M303.7 76.8h0M297 78.5h0M279.4 41.6h0M277 51h0M311.9 40.9h0M293.6 78.1h0M314.8 51.7h0M298.5 58.8h0M316.5 40.8h0M284.5 47.9h0M302.9 64.3h0M306.9 68.7h0M304.3 50.6h0M293.6 44.3h0M302.1 52.1h0M309.2 65.8h0M305.6 73.1h0M317 56.8h0M310.9 49.4h0M298.2 34.2h0M292.7 58.8h0M299.2 52.5h0M314.4 49.3h0M316.4 43.9h0M280 54.2h0M296.4 61.5h0M290.2 39h0M296.8 73.8h0M307.6 68h0M300.7 57.4h0M313.2 52.9h0M293.1 57.6h0M302.1 39.7h0M317.1 44.8h0M312.7 36.7h0M300.2 42.7h0M301.3 46.1h0M291.8 28.1h0M314.8 43.2h0M312.7 47.4h0M288.1 68.5h0M287.1 41.9h0M295 64.9h0M296.3 61.3h0M290.8 36.1h0M275.7 57.4h0M298 41.2h0M271.9 65.2h0M315.1 51.9h0M312.5 46.1h0M279.5 54.5h0M292.6 57.4h0M294.2 40.7h0M308.7 48.7h0M272.4 58.7h0M309 66.8h0M312.1 40.6h0M273.9 50.3h0M294.4 61.2h0M307.7 37.7h0M296.9 63.4h0M309.3 75.6h0M297.1 69.7h0M312.9 56.1h0M294.4 68.9h0M308.9 63h0M305.5 31.3h0M315.6 38.1h0M277.9 77.1h0M302.1 74.4h0M317.9 63.4h0M294.1 49.2h0M312.5 44.1h0M312.6 35h0M302.7 69.2h0M298 40.7h0M310.3 41.9h0M298.8 60.6h0M310.4 29.9h0M309.8 42.6h0M294.2 29.7h0M301.9 33.7h0M291.4 32.3h0M301 56.6h0M313.1 66.8h0M290.5 27.9h0M304.3 47.1h0M289.7 66.6h0M296.6 80.6h0M288.1 56.3h0M309.2 39h0M306 55.9h0M303.9 47.3h0M313.1 63.5h0M309.9 45.4h0M273.9 55.8h0M305.1 46.9h0M319.7 54.2h0M292.6 39.5h0M301.1 53.5h0M300.4 67.3h0M292.3 61.1h0M297.5 31.5h0M314.1 36.5h0M285.6 67.5h0M302.3 39.4h0M288.2 72.1h0M312 55.9h0M273.5 52.1h0M286.9 29.4h0M299.4 50.1h0M290.5 43.6h0M296.2 60.7h0M298 58.3h0M309 46.1h0M292.4 54.4h0M300.6 49.6h0M276.1 68.8h0M299.2 52.6h0M305.6 34.1h0M290.7 50.5h0M301.1 66.1h0M316.2 55.1h0M312.8 67.6h0M316 51.7h0M303.8 61.8h0M297.5 46.7h0M299.3 50.3h0M303.5 67.1h0M289.4 30.5h0M303.3 62.9h0M300.5 41.3h0M298.4 64.7h0M289.5 77h0M314 42.1h0M309.5 55.1h0M276.3 52.8h0M305.8 44.4h0M304.9 75.2h0M309.2 39.9h0M317.4 47.1h0M297.1 53.2h0M312 44.4h0M318.1 50.2h0M296 54h0M276 50.2h0M301.8 73.3h0M284.2 52.1h0M288.8 46.7h0M298.4 54.6h0M284.3 69.4h0M305.6 68.3h0M312.5 39.6h0M304.2 29h0M316.5 63.7h0M305.8 72.6h0M310.1 47.4h0M308.5 71.4h0M290.3 60.6h0M287.5 38.4h0M293.8 55.6h0M297.8 67.7h0M292.4 56.7h0M296.5 64.7h0M294.4 52.7h0M276.4 60.8h0M277.8 68.7h0M298.2 68.2h0M278.6 69h0M274.4 56h0M293.3 31.7h0M309 43.7h0M307.6 42.3h0M301.1 62.3h0M281.1 68h0M300.9 57.2h0M315.9 46h0M312.4 39.8h0M280.4 52.1h0M306.1 30.9h0M299 77.2h0M310.5 33.7h0M311.1 71.3h0M306.8 68.9h0M315.3 42.8h0M308.8 76.9h0M302.7 51.5h0M311.4 35.6h0M301.8 37.9h0M311.6 71.4h0M310.4 57.3h0M305.3 41.6h0M300.4 77.4h0M281.8 47h0M287.2 41.2h0M297.6 55.6h0M276.3 67.9h0M292.5 49.3h0M313.9 47.5h0M292.9 44.3h0M285.5 48.9h0M284 45.7h0M303.1 32.3h0M297 64h0M309.5 44.2h0M292.9 36.9h0M284.8 62.6h0M285.2 63.6h0M285 62.9h0M284.1 62.8h0"/>
<path stroke="#88b8d8" stroke-width="1.3" stroke-linecap="round" fill="none" d="M295.9 49.5h0M276.5 67.8h0M277.3 79.5h0M297.2 40h0M295.6 35.6h0M289.8 66h0M297 38h0M279.5 74.5h0M291.7 62.8h0M297.1 40.7h0M293.2 58.3h0M292.4 61.5h0M282.3 54.8h0M285.7 71.3h0M290.2 62.7h0M291.6 59.3h0M279.5 60.1h0M277.3 51.5h0M288.9 59.1h0M274.2 66.8h0M287.9 67.5h0M280.3 71h0M295.4 52.7h0M285.4 76.9h0M280 59.4h0M274.1 52.3h0M275.3 51.7h0M291.1 59.5h0M288 67.6h0M287.1 61.7h0M285.7 65.5h0M289.3 55.2h0M273.9 56.9h0M286.1 73.2h0M283.8 76.2h0M293.8 47.5h0M288.1 54.9h0M294.3 50.1h0M293.9 52.8h0M288.3 56.3h0M285.8 55.4h0M284.5 62.3h0"/>
<path stroke="#b8d8e8" stroke-width="1.3" stroke-linecap="round" fill="none" d="M279.1 54h0M283.2 36.8h0M274.6 57.6h0M280 70.8h0M277.2 60.2h0M281.4 50.1h0M286.6 39.6h0M305.6 59.1h0M274.8 63.4h0M273.4 56.7h0M276.6 64h0M289.1 62.1h0M281.8 38.1h0M286.1 66.7h0M283.3 38h0M286.2 49h0M287.1 73.2h0M282.4 51.5h0M292.2 55.9h0M271.9 64.4h0M276.3 63.7h0M277 67.5h0M279.5 71.3h0M280.4 49.7h0M284.8 54h0M279.3 62h0M285.4 72.3h0M284.2 50.7h0M280.4 51.5h0M288.2 61.3h0M281 61.2h0M281.8 56.9h0M286 38.5h0M273.2 66.5h0M287.1 53.7h0M278.4 65.6h0M289.7 67.4h0M278 57h0M283.5 39h0M281.9 39.6h0M281.5 57.8h0M284.1 61.2h0M282.4 60.9h0M285.1 63.9h0M284.6 58h0M284.7 55.9h0M285.7 64h0M283.9 58.8h0"/>
<path stroke="#f8c8c8" stroke-width="1.3" stroke-linecap="round" fill="none" d="M302.7 38.4h0M317.4 55.4h0M309.9 64h0M315 48.2h0M300.8 66h0M299.3 74.5h0M316.6 45.4h0M311.3 31.3h0M306.3 29.9h0M306.4 50.8h0M289.2 50h0M320.1 52.8h0M289.4 57.9h0M280.4 47.1h0M313.2 68.9h0M307.7 37.6h0M283.1 76.5h0M293.3 39.9h0M305.5 34.3h0M302.4 58.8h0M287.8 56.1h0M302.7 47.4h0M301.8 41.2h0M297.3 48.7h0M297.4 30.4h0M301.3 74.7h0M293.2 67.3h0M310.9 47.4h0M311.6 61.8h0M304.7 64.5h0M317.1 57.2h0M307.2 43.3h0M316.8 59.3h0M312.1 45h0M289.5 72.8h0M283.2 33.1h0M294.9 69.6h0M310.9 60.7h0M289.6 37.7h0M306.3 48.3h0M286.1 67.6h0M313.6 37.1h0M274.6 66.2h0M307.1 76.9h0M294.6 56.2h0M313.6 65.4h0M279.5 59.6h0M289.8 63.6h0M291.1 43.4h0M287.9 55.7h0M297.8 50.9h0M298 77h0M303.8 64.3h0M291.6 56.9h0M297.4 53h0M300.3 78.1h0M276.9 52.1h0M289.8 62.3h0M292.6 77.5h0M292.7 52.4h0M297.6 80.1h0M300.6 66.3h0M293.2 40.5h0M300.9 68.5h0M310.8 38.3h0M295.9 79.9h0M289.5 38.6h0M314.7 70.1h0M306.6 67.5h0M295.9 78.8h0M314.2 69.1h0M304.7 31.7h0M302.8 76.9h0M288.8 50.8h0M302.1 47.9h0M305.4 68.6h0M286.2 42h0M305.8 67.9h0M298.8 58.5h0M302.2 59.6h0M297.9 55.6h0M298.2 73.5h0M284.6 29.9h0M288.1 40.6h0M310.5 41.4h0M318.2 59.4h0M287.3 58.4h0M303.2 70.2h0M300.8 48.7h0M313.8 45.8h0M310.5 53.5h0M282.6 37.8h0M288.6 76h0M318.5 48.4h0M307.9 61.3h0M291 56.6h0M296.2 29.9h0M292.9 78.6h0M291.4 65.5h0M290.9 45.3h0M295.8 65.5h0M302.9 35.1h0M318.9 50.5h0M289 58.4h0M300 28.4h0M311.1 58.1h0M314.7 59.7h0M299 31h0M308.1 58.5h0M294.2 79.8h0M300.5 55.6h0M309.5 75.9h0M307.8 52.8h0M304 32h0M288.9 42h0M295.5 77.5h0M286.4 43.2h0M278.7 73.2h0M279.1 68.8h0M307 44.9h0M289.7 74.6h0M288.1 38.7h0M289.7 77.9h0M295.7 30.7h0M296.1 61.3h0M295.6 63.2h0M306.4 37.2h0M279.9 45.7h0M297 55.4h0M318.7 46.7h0M282.1 55.3h0M309.6 46.7h0M299.4 40.7h0M293.8 75.3h0M296.1 59h0M303.8 44.7h0M309.7 67.1h0M290.6 49h0M296.8 54.6h0M301 55.7h0M312.7 60.2h0M289.4 46.1h0M310.9 47.6h0M305.1 44.4h0M274.1 68h0M294.7 29.8h0M293.4 35.6h0M280.2 46.4h0M277.1 59.5h0M298.4 63.5h0M302.9 77.7h0M313.1 44h0M285.5 39.5h0M277.9 58.8h0M316.3 40.5h0M301 55.1h0M290 46.2h0M300.5 64.1h0M271.4 58h0M288.8 31.2h0M310.4 36.5h0M313.5 37.6h0M304.5 75.6h0M312.7 60.3h0M282.9 45.3h0M292.9 56.2h0M287.9 79.8h0M309.4 41.1h0M295.7 63.3h0M297.3 36.7h0M308.9 48.6h0M300.7 31.9h0M307.2 33.7h0M296.9 45.5h0M316.8 41.7h0M304.6 51.8h0M312.1 39.1h0M308.3 34.9h0M278.2 51.1h0M286.8 45.3h0M306.7 43h0M297 67h0M289.5 31.6h0M273.4 65.7h0M307.1 30.1h0M277.1 54.4h0M304.7 37.7h0M312.6 36.2h0M310.9 70h0M309.1 55.6h0M313.3 47.9h0M301.5 49.2h0M292.5 34.9h0M297.6 53.5h0M298.3 68.8h0M302.1 55.2h0M320.5 55.2h0M292.7 34.2h0M295.8 66.5h0M311.1 37.5h0M298.2 51h0M294.9 76.2h0M318.4 55.7h0M310.5 68.4h0M291.1 68.6h0M318.7 55h0M296.5 38.2h0M301 52.9h0M279.8 53.7h0M302.5 50.3h0M310 37.4h0M303.6 63.8h0M298.9 53h0M310.1 65.8h0M307 50.5h0M287.6 35.6h0M304.9 72.4h0M291.8 55.2h0M310.1 54.2h0M279.1 46.7h0M292.9 44.7h0M305.3 76.3h0M292.1 53h0M289.8 59.8h0M293.9 67.6h0M300.9 54.7h0M317.4 45.9h0M273.8 61.9h0M279.3 64.5h0M304.3 57.6h0M288.9 41h0M300.1 44.6h0M284.2 49h0M302.2 75.1h0M294.3 46.7h0M310.2 53.9h0M298.7 72.2h0M299.9 59.4h0M300.6 36.9h0M301.9 71.1h0M302 76.7h0M293.9 28.6h0M314.7 37.1h0M301.1 47.2h0M295.2 37.9h0M278.6 58.3h0M317.2 41.8h0M292.3 37.7h0M281.2 68.6h0M312.8 31.4h0M305 37.1h0M283.9 53.1h0M298.2 45.1h0M310.6 41.6h0M292.5 51h0M311 63.9h0M310 45.2h0M313.5 63.9h0M318.2 58.1h0M313.9 73.2h0M312.1 71.2h0M289.9 35.2h0M309.5 34.4h0M303.9 49.2h0M300 45.7h0M292.9 36.3h0M290 42.5h0M290.8 58.4h0M302.6 75.2h0M301.4 74.8h0M315.8 69.3h0M305.6 50.4h0M300.3 33.7h0M295.9 65.1h0M302.4 77.6h0M297.4 58.1h0M292.9 66.6h0M296.5 67.3h0M287.3 30.6h0M310.5 73.9h0M291.1 73h0M317 62.9h0M308.1 60.2h0M310.2 65h0M290.4 31.5h0M316.4 57h0M288.3 42h0M303.2 61.4h0M306.2 50.1h0M279.7 45.1h0M309.9 42h0M318.8 51.6h0M276.9 72.2h0M294.8 38.7h0M313.4 58h0M307.5 69.9h0M304.3 72.5h0M301.6 67.5h0M299.5 45.8h0M297.1 72.1h0M302.1 76.9h0M296.8 75.1h0M287.8 28.3h0M298 77.9h0M313.3 56h0M309.8 46.1h0M312.6 42.5h0M287.7 66.7h0M300.3 29.8h0M313.8 33.1h0M290.5 50.7h0M303.1 42.1h0M294.9 56.7h0M303.6 29h0M301.6 36.9h0M315.6 62.3h0M304.8 61.8h0M314.4 52.2h0M290.8 55h0M307.3 51.8h0M292.3 53.4h0M306.3 36h0M303.8 69.4h0M294.5 65.8h0M306.7 74.6h0M299 43.9h0M313 52.7h0M296.4 29.9h0M311.9 44.8h0M286.1 75.8h0M303.3 72.9h0M307.5 69.1h0M310.6 66.3h0M302.3 43.8h0M316 61.7h0M299.8 44.1h0M313.4 64.1h0M312.9 72.8h0M298.1 67.7h0M311.2 61.4h0M299.8 42.6h0M304.2 43.5h0M300.9 73.6h0M304.2 30.6h0M301.9 64.5h0M316.1 67.4h0M314.3 57.5h0M302.4 32.5h0M300.5 29.5h0M296.4 52.2h0M307.2 76.2h0M297.9 56.2h0M309.9 53.3h0M299.1 50.3h0M287.9 29.8h0M285.8 62.1h0M282.9 61.7h0M284.2 61.4h0M283.8 55.6h0"/>
<path stroke="#f8d8c8" stroke-width="1.3" stroke-linecap="round" fill="none" d="M275 65.3h0M314 60.6h0M300.5 65.2h0M274 52.4h0M307.9 43.2h0M286.5 45.5h0M313.3 34.9h0M298.3 39.5h0M311 72.3h0M318.6 54.3h0M290.1 37.8h0M305.1 64h0M288.2 47.3h0M312 59.3h0M309.2 59.4h0M306.1 40.4h0M318.9 58.8h0M297.2 74.8h0M292.6 46h0M308.3 35.5h0M310.1 70.3h0M308.3 31.3h0M288.7 75.4h0M310.8 52.1h0M313.1 50.4h0M308.1 32.1h0M300.4 32.1h0M304.2 69h0M301.7 65.3h0M304.6 43.1h0M296.1 46.1h0M298.2 67.4h0M294.4 58.9h0M301.7 43.7h0M292.3 32.4h0M307.9 48.7h0M291 37.5h0M284.3 51.5h0M305.7 53.1h0M299.6 33.5h0M292.7 57.7h0M294.9 40h0M282 68.5h0M310.1 42h0M297.7 74.3h0M301.6 29.4h0M276.1 61.3h0M289.3 64.9h0M302.7 67.4h0M290.7 37.7h0M303 38.1h0M308.1 52h0M298.1 32.4h0M302.2 66.5h0M284.4 33.9h0M304 68h0M312.5 34.9h0M293.4 64.5h0M276.4 51h0M319.9 52.9h0M296.2 32.3h0M286.2 54.5h0M310.3 46.2h0M310.3 57.7h0M308.6 61h0M278.4 62.6h0M299.3 67.5h0M289.4 42.8h0M285.6 34.8h0M307.3 67.2h0M304.1 77.5h0M312.4 44h0M289 75.1h0M276.7 52.8h0M298.8 66.1h0M293.8 71.9h0M307 68.6h0M312.2 37.7h0M295.5 58.9h0M301.4 31.6h0M305.9 56.8h0M306.1 56.9h0M291.4 44.3h0M307 28.9h0M281.9 40.1h0M302 69.1h0M306.9 39.5h0M307.4 30.3h0M315.4 69.7h0M297.7 49.5h0M300.4 34.3h0M296.3 64.2h0M301.5 44.8h0M296.5 55.9h0M300.2 47.1h0M302.6 48h0M306.9 71.6h0M294.2 80h0M301.9 70.7h0M315.9 49.5h0M291.9 64h0M287.6 74.7h0M295.1 60.2h0M294 62.4h0M303.4 55.8h0M286.7 58.6h0M290.7 46.1h0M310 48.6h0M309.8 64h0M299.7 73.4h0M304.7 63.3h0M295.5 61h0M314.8 62.3h0M308.7 53.2h0M308.5 39.8h0M296.6 66.8h0M305.2 31.3h0M292.1 37.3h0M285.8 32.8h0M287.5 39.3h0M297.2 75.8h0M307.5 68.4h0M293.1 37.8h0M318.5 54.1h0M291.9 74.5h0M318.5 50.1h0M283.1 78.9h0M301.7 51.4h0M302.1 56.6h0M300.2 66.6h0M299.7 40.3h0M310.2 75.8h0M304.8 64.4h0M282.6 75.7h0M291 30.1h0M278.3 59.8h0M294.6 66.3h0M292.1 47.7h0M298.7 41.8h0M301.6 47.2h0M313.4 35h0M305.6 69.5h0M298.5 64.2h0M309.9 46.5h0M288.5 73.7h0M313.8 70h0M288.9 40.3h0M305.2 41.6h0M298.4 52.9h0M287.9 58.6h0M275.7 57.3h0M309.5 52.1h0M307.3 63h0M289.1 31h0M293.9 38.3h0M306.1 55.2h0M311.4 45.9h0M312 52.9h0M316.6 57.4h0M307.5 30.5h0M313.7 68.1h0M296.8 59.3h0M294.2 63.6h0M302.9 72h0M302 39.2h0M283 46.5h0M292.6 50.1h0M285.9 51.4h0M313.1 54.5h0M310.7 64.7h0M315.7 47.1h0M318.1 50.4h0M293.5 67.1h0M286.1 66.9h0M297.6 71.4h0M283.6 46.4h0M310.6 61.8h0M294.2 69.6h0M305.5 42.7h0M309.6 62.9h0M306.3 54h0M284.8 73h0M290.8 31h0M298.5 55.7h0M308.3 62.4h0M294.5 30.3h0M299.6 74.4h0M309.2 50.9h0M283.7 72.6h0M304.8 45.6h0M291.7 36.2h0M312.9 35.2h0M300.7 70.6h0M289.8 75.3h0M306.1 51.2h0M298.1 57.4h0M305.8 41.3h0M308.8 49.3h0M292.4 59h0M290.5 37.3h0M311.6 43.1h0M292.5 34h0M299.7 75.7h0M310.1 59.3h0M295.3 79.7h0M303.5 42.6h0M279.2 59.9h0M301.9 77.8h0M287.4 48.8h0M297.8 64.4h0M287.5 57.5h0M310.4 40.8h0M309.2 71.5h0M299.5 76.1h0M295.4 76.1h0M294.1 70.3h0M310 67.9h0M316.1 67.4h0M291.3 45.9h0M283.4 74h0M282.3 62.8h0"/>
<path stroke="#f8b8a8" stroke-width="1.3" stroke-linecap="round" fill="none" d="M297.3 78h0M313.8 46.6h0M319.5 54.9h0M306.6 71.8h0M311.9 32.9h0M279.5 47.4h0M302.4 53.1h0M313.5 58.3h0M287.7 56.3h0M300.9 54.1h0M307.7 39.4h0M303.8 50.8h0M298.3 53.9h0M305.1 51h0M302.4 75.7h0M298.1 46.9h0M310.5 70.6h0M317.9 51.3h0M316.2 51.3h0M285.4 32.3h0M308.7 68.8h0M289.4 31.3h0M310.3 73h0M310.2 68.7h0M298.5 68.5h0M286.5 60.8h0M307.1 45.5h0M292.4 60.2h0M288 58h0M306.8 63.2h0M304.6 72.3h0M313.9 46.9h0M304.5 58.6h0M276.3 75.9h0M287.7 42.8h0M307.5 48.9h0M289.3 42.4h0M290.8 48.2h0M307.8 67.4h0M278.3 49.3h0M316.6 56.5h0M298.7 51.3h0M310.3 69.4h0M288.6 38.4h0M297.1 50.1h0M294.8 47.4h0M291.2 52h0M303.4 39.4h0M309.7 51.2h0M290.3 45.9h0M290 32.6h0M305.5 44h0M311.9 34.4h0M285 51.4h0M315.8 40.3h0M316.7 44.5h0M297.7 61.4h0M286.5 49.1h0M305.4 41.5h0M312.8 53.7h0M303.3 59.6h0M289.5 64.1h0M313.2 60.8h0M310.9 74.9h0M290.7 51.2h0M304.5 55.9h0M288.9 29.7h0M301.7 41.2h0M301.7 62.3h0M280.1 53.2h0M288.5 65.9h0M282 69.3h0M299.8 46.7h0M312.7 49h0M305.6 58.4h0M304.4 31.3h0M287.5 61.5h0M282.3 48.3h0M290.5 28.7h0M301.3 56h0M306 72.8h0M304.4 31.4h0M293.5 73h0M308 64.9h0M298.9 77h0M293.2 78.5h0M305.7 61.7h0M288.5 64.5h0M311.7 49h0M300.3 45.5h0M279 77.6h0M277.3 58.2h0M297.1 77h0M307.6 62.1h0M294.9 34.4h0M302.1 58.1h0M310.6 65.7h0M302.2 60.9h0M312.9 54.6h0M297.2 72.7h0M307.9 51.5h0M300.8 53.1h0M308.3 31.2h0M307 42.9h0M296.3 75.4h0M315.8 39.4h0M298.3 66h0M293.5 75h0M312 51.7h0M306.5 55.8h0M302.2 42.7h0M303.9 50.6h0M296.3 67.1h0M305.7 50h0M294.2 29.9h0M304.7 47.6h0M303.7 41.4h0M280.3 57.7h0M303.3 48.7h0M294 57.5h0M295.4 55.6h0M291.1 43.6h0M299.2 52.8h0M298 45.6h0M310 31.8h0M308.7 59.6h0M315.4 36.9h0M314 49h0M315.8 49h0M308.1 69h0M301 32.3h0M284.8 64.2h0M285.3 60.8h0M283.7 55.9h0"/>
<path stroke="#d86858" stroke-width="1.3" stroke-linecap="round" fill="none" d="M271.3 55.7h0M285.4 80.5h0"/>
<path stroke="#f8c8b8" stroke-width="1.3" stroke-linecap="round" fill="none" d="M292.1 36.3h0M309.4 66.5h0M298.3 57h0M305.3 28.2h0M292 38.2h0M299.6 47.9h0M293.1 35.8h0M302 31.6h0M315.3 60.6h0M312.8 68.5h0M305.9 53.1h0M290.8 38.8h0M302 32h0M315.1 38.1h0M318.5 56.1h0M307.3 36.9h0M313.3 32.8h0M297.3 54h0M297.1 58.8h0M316.1 64.2h0M298.1 77.2h0M288.8 55.8h0M291.9 61.3h0M297.6 38.2h0M309.6 71.7h0M318.7 50h0M289.5 52h0M312.6 49h0M299.8 43.9h0M296.6 67.3h0M319.1 48.8h0M308.8 64.3h0M296.6 60.3h0M315.8 36.6h0M294 70.4h0M307.2 64.7h0M304.3 38.3h0M283.3 38.2h0M287.7 43.3h0M315.6 56.4h0M284.3 73.2h0M309.4 55.3h0M311 60.3h0M306.5 47.1h0M311 73.6h0M311.4 60h0M292.9 35.6h0M290.7 61.3h0M288.6 65.5h0M307.6 70.5h0M289.7 34.7h0M302.1 33.1h0M281.2 47h0M292.5 36.8h0M288.8 49h0M300.8 49.8h0M312.8 63.7h0M303.6 52h0M300.4 53.2h0M290.6 49.7h0M287.7 73.2h0M299.2 74.9h0M276.8 65.5h0M304 56.4h0M313.2 55.8h0M309.8 60h0M301.7 61.3h0M288.3 50.9h0M312.7 37.6h0M314.6 64.6h0M319.2 47.8h0M292.6 43.9h0M303.6 30.2h0M288.8 57.5h0M299.2 51.8h0M310.6 64.1h0M294.9 64.4h0M287.5 58.1h0M316.9 44.1h0M305.5 69.9h0M292 60.3h0M303.1 75.8h0M313.2 70.9h0M299 60.7h0M299.3 68.4h0M290.4 42.4h0M299.3 74.4h0M301.7 66.8h0M308.2 56.2h0M301.2 36.8h0M314.8 51.6h0M296.4 54h0M318.5 48h0M308.3 40.9h0M293.8 75.1h0M299.4 66.1h0M297.4 50h0M293 44.4h0M311.2 31.6h0M314.2 53.9h0M310.1 66.6h0M318 53.3h0M292.7 48.4h0M300.9 62.6h0M302.8 77.7h0M304.9 48.3h0M305.1 75.9h0M296.9 66.9h0M306.1 48.8h0M302.1 48.6h0M296.3 31.1h0M304.6 75.7h0M299.3 58.8h0M279.7 55.8h0M311.2 35.5h0M287.6 78.9h0M292.3 33.9h0M310.2 50.4h0M305.1 32.2h0M298.9 68h0M310.5 57.8h0M300.9 67.2h0M274.1 51.7h0M309.7 57.4h0M309.7 54.6h0M310 68.4h0M303 58.9h0M305.3 51.3h0M301.2 52.3h0M302.1 35.4h0M290.2 32h0M307.8 72.6h0M304.5 76.9h0M309.7 53.5h0M301.4 41.7h0M313.6 53.9h0M303.4 44.9h0M308.1 46h0M302.7 38h0M301.1 52.4h0M303.9 60.3h0M287.2 44.4h0M273.8 58.8h0M296.6 77.7h0M301.1 68h0M298.7 68.6h0M310.4 62.2h0M295.3 54.2h0M302.4 40.8h0M303.1 29.3h0M288.9 35.2h0M306.9 76.5h0M307.4 62.2h0M297.6 71.5h0M307.2 42.7h0M289.6 68.4h0M278.7 79h0M305.4 48.1h0M314.4 67.3h0M300.3 33.6h0M302 63h0M308 70.1h0M306.8 30.3h0M299.9 30.9h0M293 33.8h0M298.6 44h0M312.8 43.8h0M290.1 33.6h0M309.8 70.3h0M289.7 77.8h0M290.7 56.7h0M300.3 30.1h0M311.1 51.5h0M304.8 61.2h0M304 76.4h0M292.6 35.6h0M288.4 53.1h0M303.9 60.7h0M291.5 43.1h0M296.2 64.6h0M282.9 64h0M308 42.1h0M288.8 32.9h0M278.3 69.2h0M308.1 56.2h0M298.4 57.4h0M307.3 65.3h0M291.1 58.9h0M315.4 42.4h0M308.6 50.7h0M312.1 36.1h0M304.1 55.6h0M304.2 33.9h0M293.3 29.9h0M313.5 35.7h0M278.2 58.5h0M312.7 46.4h0M288.5 30.7h0M294.3 40.9h0M303.2 42h0M291.7 72.7h0M299 77.9h0M288.9 42.8h0M305.7 76.9h0M294.3 58.7h0M308.1 30h0M316.8 61.2h0M304.1 64.8h0M304.7 51.8h0M273.8 51.4h0M294 40.4h0M303.8 67.7h0M287.8 32.1h0M306.3 59h0M298 70.2h0M312.7 59.2h0M295.6 54.9h0M295.4 57.5h0M290.8 73.2h0M295.4 65.7h0M291.1 40.1h0M308.5 47.4h0M315 34.8h0M289.6 56.1h0M271.6 62.3h0M304.5 49.4h0M299 49h0M310.4 35.3h0M297.1 50.1h0M312.9 33.3h0M278.1 51.1h0M283 57.3h0M282.5 61.2h0"/>
<path stroke="#78a8c8" stroke-width="1.3" stroke-linecap="round" fill="none" d="M297.3 46.8h0M281 59.4h0M284.7 42.1h0M272.6 59h0M273.9 67.4h0M280.4 49.8h0M282.9 42.7h0M285.4 31.4h0M276.7 43.7h0M287.8 55.6h0M296.2 42.5h0M280.7 57h0M273.5 64.9h0M293.1 67h0M298 37.5h0M281 36h0M271.6 61.5h0M295.8 51.7h0M292.9 61.4h0M283.3 58.5h0"/>
<path stroke="#68a8c8" stroke-width="1.3" stroke-linecap="round" fill="none" d="M295.6 44.8h0M293.2 66.3h0M275 62.8h0M276.7 73.5h0M296.3 41.8h0M286.4 31.5h0M282.4 41.2h0M283.3 32.2h0M281.6 45.1h0M278.2 73.2h0M296.2 38.1h0M277.7 40.1h0M287.7 30.4h0M282 50.3h0M285.5 30.6h0M272.3 64h0M290.7 55.6h0M283.6 44.7h0M290.4 68.1h0M295.6 45.8h0M279.7 62.1h0M271.8 62.5h0M278.2 47.3h0M271.1 62h0M280.7 57h0M289 65.4h0M294.9 43.6h0M277.6 44.2h0M286.6 62.2h0M284.9 35.5h0M284.3 43h0M276.6 58.7h0M295.3 49.8h0M284.4 51h0M285.2 37.4h0M295.6 39.4h0M278.6 41.7h0M280.7 48.1h0M277.1 48.8h0M272.5 55.2h0M290 66.5h0M277 65.2h0M283.1 47.9h0M277.6 40.6h0M276.2 58.2h0M295 35.4h0M292.7 51.8h0M293.4 57.7h0M285.1 51.6h0M280.2 40.1h0M277.4 67.8h0M275.3 39.6h0M286.4 43.3h0M281.6 43.1h0M278.9 35.1h0M282.9 40.2h0M295.6 53.8h0M280.7 47.6h0M289.1 62.3h0M279.2 54h0M285.9 47.1h0M283.5 39h0M282.2 36.3h0M276.6 40.7h0M284.4 31.1h0M286.8 70.1h0M276.4 45h0M293.8 54.2h0M293.5 50.7h0M285.5 35h0M296.7 44h0M275.8 40.9h0M275.9 77.1h0M281.3 69.9h0M295.3 47.8h0M281.7 39h0M283.3 55.8h0M285.1 57.5h0"/>
<path stroke="#a8c8d8" stroke-width="1.3" stroke-linecap="round" fill="none" d="M286 68.9h0M279.5 73.1h0M284.7 42.4h0M289.5 66.3h0M277 76.2h0M282.9 33.6h0M270.5 56.3h0M283.7 45.7h0M286.1 48.6h0M289.6 58h0M283.4 34.3h0M283.2 40.8h0M283.1 59.5h0M283.4 50h0M275.4 64.5h0M284.4 62.7h0"/>
<path stroke="#f8e8e8" stroke-width="1.3" stroke-linecap="round" fill="none" d="M284.6 77.5h0M280.9 66.8h0M281.2 59.5h0M285.1 77.7h0M274.2 49.7h0M282.4 49.6h0M307.6 30.4h0M285.3 44.4h0M301.7 54.9h0M302.9 45.7h0M276.8 56.9h0M281.2 52.5h0M312.8 50.5h0M279.8 69h0M310.4 74.8h0M300.9 40.2h0M308 68.7h0M281.1 63.3h0M289.1 41.1h0M311.2 65h0M282.5 61.7h0M317.7 58.4h0M275.3 60.8h0M290.4 49.6h0M286.9 78.7h0M306.9 31.9h0M281.9 41.3h0M298.6 31.2h0M293.7 72.3h0M281.8 64.5h0M298.9 46.3h0M281.8 54.4h0M312.3 38.9h0M272.4 59.6h0M289.5 77.8h0M305.9 62.3h0M290.1 31.8h0M319 61.6h0M314.6 68.7h0M282.1 76.8h0M306.6 51.8h0M290.5 61.9h0M273.8 60.5h0M273 54.5h0M314.9 50.7h0M295.2 50.5h0M286.9 71.4h0M312.4 37.4h0M300.1 29.8h0M306 51.4h0M288.9 67.5h0M312.8 39.4h0M288.9 46.6h0M280.9 60h0M283.6 37.2h0M313.9 70.9h0M287.8 64.2h0M300.7 43.7h0M293.3 29.9h0M313.6 45.7h0M277.9 59.6h0M307.7 77.4h0M283.4 37h0M273.9 52.9h0M284.7 44.6h0M298.9 30.9h0M289.4 39.1h0M280.6 62.8h0M312.9 61.3h0M292.3 47.6h0M295.7 68.8h0M301.7 75h0M285.6 67.7h0M284.7 54h0M314.2 35h0M310 67.2h0M313.3 38.7h0M297 78.3h0M295.4 70.7h0M300.3 44.1h0M312.9 59.8h0M310.7 62.9h0M315.7 43h0M274.4 54h0M311.1 68.7h0M305.6 38.1h0M311.2 71.8h0M287.9 39h0M302.1 74.2h0M309.9 34.1h0M298.7 29.8h0M305.8 53.5h0M308.3 67.5h0M316.1 67.6h0M277.6 51.8h0M307.2 63.9h0M302.2 59.3h0M308.7 65.4h0M292.8 45.6h0M312.2 36.3h0M278.3 47.6h0M280.7 43.5h0M281 48h0M278.9 66.2h0M313.7 56h0M298.9 30.5h0M300.8 31.2h0M313.9 39.6h0M294.7 42.5h0M308.4 49.9h0M272.1 56.3h0M297 74.4h0M283.7 49.2h0M314.3 38h0M281.8 33.6h0M304.1 73.3h0M296.7 59.4h0M308.7 36.6h0M307.6 39.2h0M272.3 60.5h0M310.6 66.9h0M284.1 78.5h0M287 76.2h0M293.9 46.6h0M286.5 46.8h0M307.8 35.5h0M305.8 61.6h0M311.9 56h0M298.2 78.1h0M283.9 70h0M289.1 29.7h0M298.5 52.4h0M306.1 69.6h0M284.4 51.1h0M284 47.5h0M274.4 58.6h0M292.6 78.7h0M304 46.7h0M285.2 40.3h0M299.4 66.8h0M303.5 34.2h0M307.6 41.9h0M302.7 51.4h0M304 50.8h0M287 29.1h0M292.5 58.7h0M302.3 55.5h0M298 62.6h0M311.9 66.5h0M283 61.9h0M300 77.1h0M284.4 29.9h0M310.1 51.9h0M300.8 56.9h0M294.4 56.1h0M318.4 51.9h0M310.9 52.9h0M306.5 75.8h0M293.9 57.1h0M297 65.2h0M287.7 31h0M277 53.6h0M300.1 64.8h0M290.5 44.1h0M304.3 37.6h0M299.4 63.3h0M276 54h0M309.9 41.5h0M309.6 50.8h0M307.3 76.2h0M302.8 30.8h0M285.8 78.9h0M276.3 60.9h0M312.1 33.1h0M286.2 37.1h0M314.8 39.9h0M282.4 43.5h0M296.4 80h0M306.6 58.3h0M292.5 44.4h0M295.9 59.2h0M313.8 51.7h0M307.6 58.1h0M305.5 53.9h0M303.1 70.5h0M297.6 41.6h0M314.1 39.3h0M284 39.3h0M316.6 49.4h0M312.9 68.3h0M279.2 51.7h0M296.7 66.1h0M291.1 41.5h0M302.3 69h0M288 36.9h0M314.7 60.1h0M286.4 69.8h0M297.5 74.7h0M279.8 47.2h0M308.5 38h0M297.3 31.6h0M307 32.8h0M299.2 71.8h0M312.3 35.1h0M302.4 35.1h0M281.5 39.4h0M278.3 58.7h0M297.6 47h0M277.7 68.2h0M317.1 55.5h0M311.9 69.9h0M290.7 45.3h0M282.2 41.2h0M295 50.3h0M315 51.5h0M298.1 49.5h0M315.4 43.8h0M310.2 51.5h0M295.4 76.9h0M296.9 57.3h0M274.1 66.2h0M306.2 50.8h0M285.1 67.9h0M312.2 35.5h0M288.1 68.2h0M279.9 47.2h0M300.3 52.2h0M301.8 76.9h0M287.3 52.1h0M302.4 52.1h0M273.7 61.5h0M306.4 70.1h0M288.7 77.7h0M308.5 68.1h0M295.9 46.7h0M286.8 53.3h0M297.5 66.2h0M285.7 31.9h0M280.7 52.7h0M317.7 60.3h0M313.6 58.6h0M288.6 61.9h0M318.7 54.5h0M280.7 67.3h0M276.2 51.8h0M313.7 60.5h0M298.6 72.6h0M285 60.4h0M283.3 65.6h0M282.6 64.1h0M283.7 58.2h0M285.1 62.1h0"/>
<path stroke="#f8b8b8" stroke-width="1.3" stroke-linecap="round" fill="none" d="M309.2 59.6h0M289.5 56.7h0M279.9 73.2h0M298.5 35.4h0M308.2 49.9h0M313.7 62.5h0M314.1 43.3h0M303.1 53.3h0M294.7 64.4h0M304.6 32.1h0M298.6 53.2h0M299.2 73.4h0M296.3 58.6h0M305.6 39.9h0M297.1 59.6h0M306.4 49.5h0M290.4 59.8h0M303 68.4h0M290.1 63.2h0M312.7 32.9h0M317.1 63h0M314 53.1h0M270.4 61.3h0M309.4 36.3h0M312.5 48h0M286.9 77.8h0M305.5 30.3h0M317.1 44.8h0M295.2 71.5h0M288.7 45.3h0M314.1 49.2h0M288.6 72.9h0M290.3 68.8h0M273.2 60.6h0M280 55.5h0M298.5 47.6h0M298.8 36h0M305.7 44h0M304.1 47.2h0M307.2 72.3h0M305.3 56.5h0M294.9 68.6h0M315.2 43.2h0M293.7 52.4h0M314.3 39.2h0M311.3 73h0M318 60.5h0M304.5 48.3h0M307.8 42.5h0M295.1 68.9h0M280.4 52.2h0M309.2 49.8h0M305.4 61.8h0M310.4 52.7h0M309.2 51.9h0M278.5 40.8h0M293.6 63.6h0M302.3 56.2h0M293.4 76.6h0M298.7 29.6h0M295.6 55.5h0M317 66.1h0M273.6 66.8h0M315.2 56.8h0M309 49.6h0M288.3 62.2h0M297.4 52.1h0M310.2 32.8h0M292.4 40.2h0M300.9 50h0M316.2 44.7h0M297.7 63.4h0M312.2 68.2h0M313 43.3h0M277.7 72.9h0M313.2 48.7h0M308.3 33.7h0M306.3 71.2h0M313 70.6h0M305.6 73.2h0M289.4 75.7h0M304.7 41.6h0M299.8 34.1h0M302.9 56.2h0M290.5 30.9h0M280 57.5h0M316.7 38.4h0M303 61.2h0M300.2 48.3h0M309.4 48.3h0M288.6 63h0M304.4 35.5h0M317.1 64.9h0M291 72.8h0M309.4 49.1h0M293.6 67h0M316.7 55.9h0M300.9 28.6h0M287.6 77.8h0M315.6 60h0M314.3 40.9h0M307.1 52.3h0M305.3 36.2h0M288.2 77.1h0M300.5 55.2h0M295.2 31.4h0M296.8 71.2h0M303.2 49.1h0M278.8 69.2h0M279.3 50.9h0M306.4 33.4h0M300.8 29.3h0M297.8 67.7h0M288.1 50.3h0M288.7 42.4h0M317.9 58.4h0M288.7 63.4h0M285.7 72.1h0M297.7 73.3h0M295.9 59.2h0M313.7 46.8h0M300.5 30h0M283.7 32.9h0M301.1 28.6h0M309.9 56.6h0M279.4 54.2h0M315.2 42.4h0M300.4 33h0M301.3 40.3h0M287.8 54.6h0M290.1 35.1h0M294.8 78.2h0M284 39.2h0M301.9 76.6h0M319 46.4h0M307.8 48.5h0M304.3 34.3h0M306.5 51h0M296.4 29.4h0M296 74.9h0M300.4 58.5h0M302.8 31.9h0M313.6 46.7h0M295.2 56h0M294.8 55.9h0M308.2 56.3h0M318.3 54.7h0M296.9 62h0M307.3 36.2h0M308.5 76.2h0M306.7 75.3h0M271.3 58.2h0M290.2 32.6h0M301.8 61.8h0M308.2 72.6h0M308 57.3h0M299.1 77.3h0M305.8 61.7h0M305.2 37.7h0M310.5 61.3h0M295.8 79.8h0M288.2 69.1h0M289.7 38.8h0M308.3 34.5h0M295.3 61.8h0M312.2 61.7h0M307.9 54.9h0M296.5 80.3h0M310.4 34.6h0M298.2 69.7h0M316 60.1h0M304.2 51.7h0M318.2 50.8h0M301.4 49.6h0M304.2 40.4h0M311.9 69.9h0M287.8 39.2h0M290.3 60.5h0M281.1 66.5h0M298.6 67.4h0M307.8 56.9h0M286.7 34.8h0M310.3 70.1h0M304.3 43.4h0M291.8 41.7h0M310 38.1h0M289.3 69.8h0M287.8 45h0"/>
<path stroke="#5898b8" stroke-width="1.3" stroke-linecap="round" fill="none" d="M275.3 78.7h0M279.5 42.2h0M298.5 38.7h0M284 31.7h0M296.6 42.4h0M277.8 43.4h0M281.2 56.5h0M279.1 44.8h0M278.2 50h0M287.1 67.9h0M278 47.4h0M275.8 43.1h0M281.3 33.7h0M278.8 46h0M270.6 59.3h0M297.6 35.6h0M284.4 30.1h0M285.2 72.8h0M280.6 69.6h0M277.3 59.9h0M278.1 50.4h0M277.4 39.6h0M282.2 32.1h0M293.1 52.7h0M277.9 40.1h0M281.6 67.9h0M273.7 56.2h0M279.4 39.1h0M294.3 50.8h0M284.2 33.4h0M295.9 37.2h0M297.6 41.3h0M278.9 44.3h0M278.7 41.9h0M282.2 75.6h0M297.1 39.2h0M277.8 47h0M279 76.6h0M282 37.3h0M278.6 43.2h0M272 65.8h0M283.6 36.2h0M286.6 63.3h0M283.6 58.1h0"/>
<path stroke="#4888b8" stroke-width="1.3" stroke-linecap="round" fill="none" d="M279.6 42.2h0M275.8 41.4h0M278.4 54.1h0M286 60.1h0M279.2 40.7h0M280.3 58.8h0M285.8 35h0M277.7 42.3h0M281.5 34.5h0M276.3 46.6h0M283.4 34h0M286.6 60.7h0M281.2 42.8h0M297.6 41.5h0M295.5 42.3h0M281.2 37.9h0M275.8 43.4h0"/>
<path stroke="#5898c8" stroke-width="1.3" stroke-linecap="round" fill="none" d="M276.7 46.6h0M278.3 40.2h0M288.5 61.7h0M276.1 46.1h0M279.7 33.9h0M278.2 36.7h0M279.9 43.6h0M277.8 47.2h0M281.7 43.9h0M275.6 54.2h0M295.8 43.3h0M276 41.9h0M277.2 45.9h0M279.6 44.6h0M280.1 39.2h0M278.9 37.3h0M294.9 39.5h0M295.7 49.6h0M293.8 55h0"/>
<path stroke="#78b8d8" stroke-width="1.3" stroke-linecap="round" fill="none" d="M276.9 58.7h0M284.5 72.2h0M279.6 69.6h0M274.2 68.4h0M294.9 46.3h0M275.9 77.4h0M281.7 41.8h0M285.9 29.4h0M282.8 77.3h0M284.7 75.9h0M292 56.3h0"/>
<path stroke="#d8e8e8" stroke-width="1.3" stroke-linecap="round" fill="none" d="M285.4 34h0M276.8 54.5h0M281 34.7h0M276.6 58.2h0M297.6 57.8h0M284.5 58.2h0M284.5 73.6h0M278.9 68h0M273.6 59.8h0M277.1 53.4h0M275.8 57.3h0M294.9 59.1h0M292.1 28.8h0M307.8 64.3h0M285.1 35.1h0M285.5 53.4h0M291.4 57.6h0M282.4 56.5h0M282.9 69.5h0M278 63.7h0M281.9 61.8h0M308 56.6h0M302.4 61h0M278.6 72.7h0M280.5 66.2h0M310.7 36.3h0M277.9 66.2h0M276.8 54.2h0M284.6 32.9h0M290.7 46.5h0M281.7 66.6h0M309.1 35.6h0M281.2 49.6h0M281.1 68.4h0M286.2 51.1h0M307.7 62.4h0M292.5 74.4h0M273.6 55.9h0M294.3 29.6h0M297.1 59.9h0M279.2 65.4h0M277.2 66.9h0M278.9 55.1h0M279.9 66.6h0M280.5 71.1h0M280.2 55.8h0M286.5 72.4h0M278.7 64.8h0M285.6 63.3h0M282.5 63h0"/>
<path stroke="#e8e8e8" stroke-width="1.3" stroke-linecap="round" fill="none" d="M280.9 67h0M310.6 31.3h0M288.5 44.3h0M285.5 37.7h0M278 56h0M280.3 50.8h0M313.2 37.3h0M273.2 56.4h0M285.8 51.5h0M298 52.5h0M273.8 64.6h0M277.3 76.6h0M287.8 45.8h0M279.8 56.5h0M280.4 47.2h0M299.2 52.1h0M289.3 63.3h0M301.4 40.2h0M278.8 75.8h0M287.2 80.3h0M276.7 77.7h0M286.3 53.8h0M305.5 71.7h0M290.3 68.7h0M283.9 46.2h0M305.8 56.1h0M304.9 57.4h0M316.1 67.5h0M297 51.8h0M310.1 68.9h0M277.8 52.4h0M283.3 41.1h0M287.2 62.4h0M297.1 63.6h0M276.4 65.2h0M271.2 59h0M279.1 62.4h0M287.8 29.3h0M286.6 68h0M290.1 52.9h0M280.1 56.2h0M277.8 78h0M272.1 54.4h0M286 72.7h0M289.8 74.9h0M302.7 37.6h0M278 36.6h0M274.5 58.2h0M281.7 41.9h0M318.3 49h0M306.3 55.7h0M282.8 59.8h0M290.2 73.8h0M292.5 35.3h0M301.2 67.8h0M301.5 65.4h0M288.6 72.4h0M305.8 58h0M307.3 73.4h0M312.6 39h0M313.1 31.5h0M297.3 44.7h0M285 75.6h0M298.2 42.2h0M280.8 49.3h0M281.6 48.8h0M281.4 54.4h0M291.3 55h0M281.3 47.7h0M278.9 73.3h0M289.3 67.1h0M300.5 52.7h0M279.5 53.9h0M314.5 52.5h0M270.8 59.6h0M298.8 51h0M281.9 48.6h0M313.5 62.6h0M272 55.3h0M279.7 71h0M299 44.7h0M284.1 45.6h0M278.5 62.1h0M283.2 55.2h0M284.2 77.6h0M278.3 62h0M314.7 67.5h0M284.3 75.5h0M292.7 37.8h0M278.9 53.6h0M286.7 49.1h0M281.4 46.8h0M285.4 73h0M309.8 57.5h0M315.9 56.3h0M318.4 46.8h0M319 61.6h0M310.5 38h0M282.4 59h0M284 65.2h0M283.9 57.1h0"/>
<path stroke="#f8e8d8" stroke-width="1.3" stroke-linecap="round" fill="none" d="M299.5 33.6h0M298.5 54.6h0M307.9 59.3h0M295.9 80.8h0M289.5 76.1h0M292 55.3h0M306.2 67.8h0M308.2 63.6h0M307 35.5h0M304.3 73.4h0M299.4 32.2h0M303.9 29.1h0M313.2 36.5h0M296.7 80h0M302.5 41.5h0M309.2 37.2h0M283.2 49.2h0M310.2 68.7h0M296.7 71.9h0M286.1 39.9h0M297.5 80.2h0M310.9 41.5h0M305.9 63.1h0M315.2 60.7h0M275.8 66.1h0M288.7 48.2h0M288.6 46h0M291.2 51.2h0M295 42.2h0M310.2 32.1h0M291.1 68h0M291.3 44.1h0M301.5 46.1h0M295.4 58.1h0M306 68.7h0M312.7 33.7h0M301.4 30h0M289.8 77.3h0M308.3 48.5h0M292.5 44h0M311.1 66.3h0M296.5 72.2h0M305.6 35.1h0M319 57.1h0M282.1 39.2h0M312.7 59.2h0M308.7 72.8h0M297.6 77.4h0M291.3 63.2h0M306.8 75.4h0M290.9 36h0M292.3 37.3h0M287.3 30.1h0M311.1 41.4h0M289.1 40.9h0M315.1 55.2h0M296.2 66.1h0M297.8 53.8h0M305.1 69.4h0M303.5 74h0M305.7 67.3h0M304.7 74.3h0M303.5 57.9h0M282.7 58.5h0M274.8 61.1h0M279.1 40.7h0M312.1 67.3h0M292.9 71.9h0M310.9 47.3h0M314.4 56.8h0M305 75.7h0M297.3 78.7h0M290.2 61.5h0M296.5 66.2h0M308 49.1h0M301.2 68.1h0M296.9 39.5h0M296.5 31.5h0M309.5 74.7h0M285.1 61h0M286 61.3h0"/>
<path stroke="#f8a898" stroke-width="1.3" stroke-linecap="round" fill="none" d="M292.4 78.2h0M301.6 61.1h0M299.9 63.9h0M305.4 70.6h0M283.2 60.3h0M303.7 51h0M308.8 70.8h0M273.6 65h0M284 52.3h0M294.4 42.2h0M275.2 60.2h0M307.2 62.6h0M278.2 74.1h0M288.8 46h0M283.2 37.7h0M300.3 55.8h0M287 40.3h0M294.8 75.1h0M304.7 63.3h0M304 33.6h0M282.8 46.4h0M286.6 66.4h0M299.4 48.2h0M313.3 53.1h0M298.7 76.1h0M279.7 54.3h0M292.1 66.4h0M314.5 50.4h0M279.2 75.9h0M300.8 48.1h0M313.2 56.1h0M276.2 77h0M271 61.1h0M307.2 47.4h0M280 67.6h0M314.9 63h0M285.2 36.9h0M271.3 57.2h0M293.9 74.9h0M301.8 47.4h0M278.9 67.2h0M301.2 48.5h0M306.6 69.5h0M287.1 58.6h0M306.4 62.9h0M292.3 29.1h0M293.8 35.4h0M278.8 73.4h0M291.4 56.3h0M292.7 40.7h0M309.3 46.5h0M276.4 54.2h0"/>
<path stroke="#a8d8e8" stroke-width="1.3" stroke-linecap="round" fill="none" d="M279.1 61.8h0M284.9 33.1h0M287.2 49.5h0M282.4 45.2h0M285 66.7h0"/>
<path stroke="#58a8c8" stroke-width="1.3" stroke-linecap="round" fill="none" d="M277.2 79.9h0M293.5 66.4h0M296.6 40.2h0M277.3 40.9h0M277.8 39.4h0M296.1 50.7h0M283.3 36.5h0M283.7 42.5h0M276.3 40.8h0M276 41.7h0M279.2 47h0M279.9 35.8h0M283.6 74.6h0"/>
<path stroke="#4898b8" stroke-width="1.3" stroke-linecap="round" fill="none" d="M294.7 41.6h0M283.7 54.5h0M282.9 41.7h0M274.6 50h0M283.6 37.3h0M296 43.4h0M277.4 44.3h0M281 33.9h0M279.8 43.4h0M280.3 53.7h0M276.1 76.5h0M282 65h0"/>
<path stroke="#f8a8a8" stroke-width="1.3" stroke-linecap="round" fill="none" d="M307.7 32.2h0M314.1 50.3h0M319.5 53.1h0M289.6 32.9h0M311 59.1h0M302.6 71.3h0M308 52.3h0M281.7 56h0M294.7 62.2h0M301.3 51.6h0M306.5 58.2h0M305.3 29.7h0M287.5 30.5h0M315.9 45.4h0M306.4 53.9h0M302 40.6h0M290.7 64.9h0M301 39.4h0M305.6 50.7h0M297 70.7h0M284.5 65.5h0M310.5 51.4h0M282.1 69.3h0M292.5 48.3h0M287.8 29.3h0M292.1 36.9h0M302.2 75.1h0M300.8 58.5h0M318.5 55.7h0M287.7 46.3h0M305.2 77.5h0M309.1 72.3h0M297.6 31.1h0M278 77.5h0M287.9 58.3h0M307.7 77.1h0M314.2 40h0M290.5 68.5h0M278.4 68.5h0M290.6 52.9h0M279.3 50.4h0M298.1 54.4h0M315.1 55.2h0M301 53.9h0M292 32.8h0M286.9 30h0M308 45.2h0M301 54.4h0M311.8 38.4h0M311.7 73.2h0M314.3 58.4h0M283 63.5h0M282.9 62.1h0M283.5 60.1h0"/>
<path stroke="#c8d8e8" stroke-width="1.3" stroke-linecap="round" fill="none" d="M280.2 57.8h0M275.1 65.1h0M285.3 54.3h0M279.6 68.6h0M274.7 65.7h0M271.9 62.7h0M287.2 80.1h0M275.4 73.7h0M286.4 40.9h0M275.6 61.3h0M293.9 61.4h0M286.4 36.8h0M286 30.1h0M274.5 60.5h0M281.9 42.2h0M278.5 56.3h0M273.4 55.1h0M276.9 74h0M272.8 65.9h0M278.5 50.9h0M285.9 33.6h0M286.2 36.5h0M277.4 74.4h0M275.6 51.9h0M278.7 65.8h0M281 48.3h0M279.8 55.8h0M279.9 64h0M278.6 62.4h0M296.1 46.9h0M274.1 61.4h0M281.7 41.4h0M285.6 53.4h0M288.7 59.2h0M279.5 62h0M286.4 44.5h0M280.6 42.7h0M275.8 74.3h0M283.2 74.3h0M281.9 60.7h0M281.4 51.1h0M294.9 62.4h0M285.6 60.8h0M282.7 63h0M285.7 58.7h0M285 63.8h0M284.2 60.2h0M283.8 61.7h0M284.3 58.3h0M282.5 64.3h0"/>
<path stroke="#78b8c8" stroke-width="1.3" stroke-linecap="round" fill="none" d="M286.6 36.4h0M295.8 44.1h0M278 64.2h0M278.7 52.1h0M282.1 68.1h0M294.6 50.9h0M286 39.5h0M295.1 46.7h0M294.2 55.1h0M278.2 64.3h0M290.1 61.2h0M280.6 64h0M274.6 57.1h0M289.3 64.8h0M285.5 81h0M280.9 44.4h0M286.4 45h0M272.9 56.4h0M294.9 39.5h0"/>
<path stroke="#98c8d8" stroke-width="1.3" stroke-linecap="round" fill="none" d="M286.6 31.6h0M281.8 39.3h0M280.9 43.6h0M283.5 53.6h0M290.6 65.1h0M284 50.4h0M293.8 64.6h0M275.6 76.7h0M297.3 34.4h0M286.8 71.7h0M282.6 68.4h0M285.2 50.3h0M279.4 53.4h0M280.9 55.4h0M286.7 78.6h0M292.3 65.7h0M286.1 48.6h0M293 67.8h0M285.3 40.6h0M274.7 63.2h0M284.3 39.8h0M285.3 72.4h0M284.3 37.9h0M280.1 65.2h0M286.3 49.2h0M279.9 51.5h0M279.8 50.6h0M286.2 75.2h0M282.4 68.9h0M286.7 34.6h0M283.8 53.5h0M274.4 62.9h0M284.1 59.4h0M284.9 57.9h0M283.3 64.6h0"/>
<path stroke="#d85858" stroke-width="1.3" stroke-linecap="round" fill="none" d="M284.6 42.3h0"/>
<path stroke="#d8d8e8" stroke-width="1.3" stroke-linecap="round" fill="none" d="M298.9 70.4h0M284.1 36.4h0M283.4 76.3h0M280.7 45.9h0M272.5 53.9h0M315.6 57.3h0M274.6 61.2h0M283.9 59.6h0"/>
<path stroke="#98b8d8" stroke-width="1.3" stroke-linecap="round" fill="none" d="M276.6 53.5h0M292 67.9h0M281.3 72.1h0M282.8 61.9h0"/>
<path stroke="#e88888" stroke-width="1.3" stroke-linecap="round" fill="none" d="M279.4 57h0M279.4 66.3h0M274 51.1h0M276.8 55.7h0M274.6 65.1h0M286.6 41.8h0M286.9 39.8h0M273.8 50.7h0M296.1 78.8h0M281.8 51.9h0"/>
<path stroke="#e89888" stroke-width="1.3" stroke-linecap="round" fill="none" d="M285.8 51.1h0M307.3 43.7h0M276.9 56.9h0M280.1 69.1h0M291.2 64.1h0M284.7 43.5h0M276.3 56.5h0M303.1 77.8h0M292.3 36.8h0M281.3 57.2h0M288.6 55.4h0M276.6 57.4h0M296.6 57.2h0M278.7 62.6h0M303.2 68h0M284.6 45.2h0M279.1 38h0M297.3 47.3h0M282.5 54h0M275.9 56.5h0M317 61.6h0M282.7 64.1h0"/>
<path stroke="#a8c8e8" stroke-width="1.3" stroke-linecap="round" fill="none" d="M282.3 42.3h0M290.4 61h0M285.3 41.5h0M293.2 65.1h0M275.3 76.5h0M276.9 62.3h0M291.3 55.9h0M281.3 41.7h0M275 60.4h0M278.7 76.5h0M274.5 64.7h0M273.9 50.8h0M296.1 35.9h0M275.5 68.1h0M279.6 52.8h0M292.8 63.3h0M285 58.5h0"/>
<path stroke="#3888a8" stroke-width="1.3" stroke-linecap="round" fill="none" d="M279.2 40.3h0M277.8 42.5h0M275.3 75h0M282.6 33.6h0M280.4 33.3h0M282.7 31.8h0M280.9 47.1h0M283.5 71.6h0M283.5 31.1h0M276.1 43.6h0M282.9 32.9h0M272.4 53.6h0M278.1 46.4h0M275.2 45.9h0M279.6 60.5h0M286.7 63.2h0"/>
<path stroke="#e89898" stroke-width="1.3" stroke-linecap="round" fill="none" d="M289.8 45h0M296.8 68.4h0M301.8 52.8h0M318.2 56.7h0M288.5 40h0M303.9 69.8h0M298.8 77.4h0M286.2 54.7h0M278.8 53.8h0M279.2 70.6h0M272.8 51.1h0M280.3 60.9h0M285.3 66.7h0M280 70.7h0"/>
<path stroke="#e88878" stroke-width="1.3" stroke-linecap="round" fill="none" d="M306.5 74.3h0"/>
<path stroke="#e87878" stroke-width="1.3" stroke-linecap="round" fill="none" d="M284 44.6h0M277.4 60h0"/>
<path stroke="#f89898" stroke-width="1.3" stroke-linecap="round" fill="none" d="M294.4 39.6h0M274 61h0"/>
<path stroke="#e86868" stroke-width="1.3" stroke-linecap="round" fill="none" d="M276.3 74.9h0"/>
<path d="M268 26.2V82H322" fill="none" stroke="#222" stroke-width="1.1"/>
<path d="M280.3 82v2.3" stroke="#222" stroke-width="0.9"/>
<text x="280.3" y="94.1" font-size="6.4" text-anchor="middle" fill="#222">−50</text>
<path d="M295.6 82v2.3" stroke="#222" stroke-width="0.9"/>
<text x="295.6" y="94.1" font-size="6.4" text-anchor="middle" fill="#222">0</text>
<path d="M312.6 82v2.3" stroke="#222" stroke-width="0.9"/>
<text x="312.6" y="94.1" font-size="6.4" text-anchor="middle" fill="#222">50</text>
<path d="M268 37.7h-2.3" stroke="#222" stroke-width="0.9"/>
<text x="262.1" y="40" font-size="6.4" text-anchor="end" fill="#222">50</text>
<path d="M268 54.6h-2.3" stroke="#222" stroke-width="0.9"/>
<text x="262.1" y="56.9" font-size="6.4" text-anchor="end" fill="#222">0</text>
<path d="M268 71.5h-2.3" stroke="#222" stroke-width="0.9"/>
<text x="262.1" y="73.8" font-size="6.4" text-anchor="end" fill="#222">−50</text>
<text x="295" y="20.8" font-size="6.6" text-anchor="middle" fill="#222">Calcein eccentricity</text>
<defs><linearGradient id="cb1" x1="0" x2="0" y1="0" y2="1"><stop offset="0" stop-color="#6e4646"/><stop offset="0.5" stop-color="#4a4a4a"/><stop offset="1" stop-color="#34505c"/></linearGradient></defs>
<rect x="317" y="29" width="2.6" height="26.4" fill="url(#cb1)"/>
<path d="M319.6 35.8h2.4" stroke="#222" stroke-width="0.8"/>
<text x="324.8" y="38.1" font-size="6.4" fill="#222">2.5</text>
<path d="M319.6 42.1h2.4" stroke="#222" stroke-width="0.8"/>
<text x="324.8" y="44.4" font-size="6.4" fill="#222">0.0</text>
<path d="M319.6 48.8h2.4" stroke="#222" stroke-width="0.8"/>
<text x="324.8" y="51.1" font-size="6.4" fill="#222">−2.5</text>
<path d="M193.3 111.3L197.5 111L201.1 111.7L204.3 113L203.1 116.7L201.1 122.5L198.5 127.6L195.9 133L193.6 136.7L191.7 138.7L189.4 138L186.8 136L184.5 133L182.2 129.6L181.3 126.5L182.2 122.5L184.5 119.1L187.1 116.1L190.1 113.4Z" fill="#d6e2ea"/>
<path d="M184.5 133L181.9 131.6L179 134.3L177.1 139.4L176.7 143.8L177.7 147.8L179.7 151.2L182.2 152.6L185.2 151.2L187.8 148.5L189.4 145.1L190.4 141.1L189.4 138.4Z" fill="#cddee8"/>
<path d="M183.9 148.2L187.1 147.5L189.1 150.2L188.8 154.6L186.2 155.3L183.9 152.9Z" fill="#88bad4"/>
<path d="M181.6 154.6L184.5 153.9L186.2 156.6L185.5 161.4L183.6 163L181.3 161.4Z" fill="#7cb3d0"/>
<path d="M199.2 158L203.1 157L205.7 159L205 163L201.4 164.4L198.8 162Z" fill="#d0dfe9"/>
<path d="M204.3 113L206.3 112L210.5 111.7L215.4 112.3L219 113.7L220.9 116.7L223.2 122.5L225.2 130.3L226.3 137.7L225.5 144.5L223.2 150.2L219.6 156.3L215.4 160L209.6 161.4L205 160.7L201.1 160L198.5 158.7L196.6 156.6L194.9 153.2L194 149.2L192.3 145.1L192.3 140.4L195.2 134.3L197.8 128.2L200.5 122.5L202.4 116.7Z" fill="#f5dcd9"/>
<path d="M188.8 155.3L192.7 153.9L195.9 155.3L196.9 158.7L195.9 162.7L192.7 164.1L189.4 163L188.1 159.3Z" fill="#94c2d9"/>
<path d="M189.4 151.2L191.7 147.8L193.6 148.5L194.6 152.6L192.7 153.9L189.4 153.2Z" fill="#8fbed7"/>
<path d="M188.1 139.1L192.3 139.1L193 147.8L188.8 148.5Z" fill="#93c1d9"/>
<path stroke="#f8d8c8" stroke-width="1.3" stroke-linecap="round" fill="none" d="M199.6 133.9h0M223.6 139.5h0M202.2 128.4h0M215.1 142.9h0M205.4 140.4h0M225.3 138h0M205.4 157.4h0M214.4 125.9h0M213.5 143.4h0M221.3 143.4h0M209.1 125h0M204 137.1h0M200.9 147.7h0M203.3 141.3h0M195.4 142.7h0M211.8 114.9h0M201.4 127.2h0M205.5 157.2h0M210.3 146.4h0M209.7 133.2h0M212.9 123.4h0M208.1 139.7h0M211.4 133.3h0M208.5 159.3h0M213.5 126.6h0M216.8 148h0M203.5 133.9h0M214 116h0M196.6 145.9h0M222.4 142.7h0M197.6 156.4h0M195.1 154.9h0M217.1 143.5h0M212.9 159.1h0M203.9 134.8h0M205 115.2h0M214 115.7h0M210.4 117.4h0M221.2 132.5h0M202.2 154.6h0M205.5 130.2h0M207 152.2h0M216.5 122.2h0M204.1 152.4h0M221 131.6h0M212.7 150h0M224.4 145.8h0M220.4 152.5h0M210.7 114.3h0M205.7 141.6h0M206.2 113.5h0M220.6 130.4h0M206.8 132.2h0M199.3 135.1h0M221.3 154.7h0M213.9 144.8h0M197.3 139.1h0M208 124.2h0M206.8 112.1h0M220.1 142.8h0M206.8 138.4h0M207.4 158.3h0M219.5 117.6h0M207.9 135h0M205.2 145.8h0M216.1 121.5h0M214.8 142.2h0M208.9 139.7h0M219.5 120.1h0M207.2 114.4h0M223.2 149h0M224.8 131.1h0M215.2 134.4h0M203.5 153.6h0M213.3 112.6h0M196 132.9h0M204.9 134.9h0M212 127h0M217 123.8h0M222 123.1h0M197.5 143.7h0M220.5 119.1h0M196.1 135.8h0M205.2 151.4h0M221.7 132.9h0M204.4 117.6h0M195.7 158.5h0M207.3 120.3h0M201.9 137h0M200.7 145.3h0M220.6 132.6h0M203.5 142.2h0M211.3 133.5h0M198.9 139.6h0M203.5 153.8h0M210.9 159.2h0M219.6 144h0M219.2 143.6h0M218.8 127.4h0M201.8 144.8h0M210.8 139h0M196.7 151.8h0M220.5 130.8h0M212.6 131.6h0M214.9 119.5h0M208.2 131.3h0M212.8 126.5h0M199.5 120.5h0M212.5 112.9h0M207.2 138.3h0M199.9 127.1h0M214.5 131.3h0M207.9 138.9h0M216.3 120.4h0M204.1 146.1h0M206.2 123.8h0M214.9 140.6h0M198.8 119.7h0M197.6 151.9h0M207.1 139.3h0M218.3 142h0M204.8 136.5h0M224.8 127.5h0M207.4 112.2h0M225.2 138.9h0M197.3 138.6h0M219.4 130.3h0M216.8 137.1h0M209.3 128.1h0M215.7 131.9h0M220 130.7h0M215.5 150.1h0M209.2 121.9h0M208.1 112.7h0M215.5 119.2h0M207.6 135.2h0M200.7 144.9h0M206.4 147.7h0M208.4 158.7h0M217.8 131.6h0M207.1 128.5h0M208.4 124.4h0M208.9 111.8h0M219 127.6h0M215.9 135.2h0M218.2 116h0M197.6 115.1h0M217.1 146.7h0M206.8 116.6h0M208.2 146h0M217.3 129.1h0M218.2 136.4h0M210.6 118h0M219.6 137.7h0M215.1 128.6h0M206.6 150.7h0M206.3 142h0M208.6 114.1h0M202.1 149.4h0M220.4 129.8h0M205.5 133.2h0M210.5 144h0M214.5 128.7h0M205.8 135.3h0M196.9 133.8h0M209.4 145.7h0M220.8 138.4h0M222 125.1h0M199.1 158.1h0M214 142.9h0M211.3 125h0M215.7 137.9h0M197.8 116.8h0M220.7 142.8h0M204.8 160.1h0M225.1 134.4h0M210.7 120.7h0M219.3 141.1h0M218.3 150h0M205.3 154.1h0M220 140.3h0M197 133.5h0M218.5 145.3h0M211.4 134.4h0M201.2 134h0M202.8 149.6h0M200.3 140.8h0M203.3 140.7h0M204.4 128.8h0M221.8 125.8h0M206 135.7h0M208.1 160.3h0M199 143.9h0M209.1 127.7h0M215.3 142.7h0M201.4 149.3h0M204.4 150.7h0M202.9 128.7h0M219.7 132.7h0M220.2 117.9h0M200.2 137.8h0M206.6 159.6h0M201.4 145.9h0M216 127.4h0"/>
<path stroke="#f8d8d8" stroke-width="1.3" stroke-linecap="round" fill="none" d="M202.7 132.3h0M195.6 140.2h0M221.8 131.5h0M207.1 148.9h0M207.9 149.7h0M216.3 114.9h0M220.4 133.6h0M207.9 143.7h0M213.3 132.7h0M200.9 151.7h0M207.8 114.6h0M217.6 114.3h0M206.3 147.3h0M219.1 119.1h0M213.1 112.5h0M199.4 150h0M208.2 137.8h0M218.5 151.2h0M208.2 128.6h0M200.9 154.7h0M207.7 123.7h0M208.3 115h0M194.9 133.5h0M220.8 120.8h0M220.5 145.3h0M224.5 137.8h0M219.2 134.3h0M219.4 115.8h0M205.6 153.7h0M217.8 115.7h0M211.4 147h0M209 135.7h0M220.1 130.6h0M214.2 120.4h0M223 147.4h0M216.4 157.7h0M204.1 136.9h0M202.8 140.5h0M214 142h0M212.3 117.5h0M207.1 136.8h0M217.5 142.2h0M211.8 123.1h0M215.9 142.4h0M208.8 130.1h0M208.1 124.3h0M204.3 137.2h0M207.3 122.9h0M196.4 114.7h0M213.2 139.4h0M199.3 128.3h0M216.5 135.5h0M204.3 130h0M218.2 130.8h0M198.2 150.7h0M218.1 143.8h0M198.6 144.8h0M212.7 133.5h0M196.8 143.8h0M217.1 135.3h0M218.8 134h0M213.4 125.5h0M218.5 128.6h0M217.5 141.1h0M206.4 114.6h0M206.3 151.8h0M220.4 136.5h0M219.3 119.8h0M218.6 153h0M203.8 135.9h0M216.4 153.6h0M196.3 135.4h0M224.9 134h0M211.2 125.9h0M223.6 141.9h0M216.5 119.9h0M201.8 121.6h0M222.3 134.5h0M208.7 153.6h0M206 126.5h0M204.7 150.2h0M218 131.8h0M219 154.4h0M209.7 147.7h0M204.3 155.5h0M205.3 146.5h0M200.5 142.2h0M218.7 118.7h0M197.5 141.3h0M203.4 136.4h0M197.6 144.9h0M219.1 145.3h0M200.8 155.3h0M210.4 121.2h0M216.2 136.5h0M211.9 136.1h0M206.8 125.6h0M198.3 140.7h0M208.5 135.6h0M219 122h0M196.6 148.9h0M195.6 160.8h0M215.6 124.5h0M196.4 151.1h0M204.4 157.2h0M205.5 120.1h0M221.2 152.2h0M208.8 160.3h0M198.4 143.4h0M212.4 134.3h0M207.7 112.5h0M197.2 141.8h0M205 119.4h0M201.4 134.4h0M214.9 135.6h0M215.5 138.3h0M216.9 143.6h0M212.7 146.2h0M219.4 119.3h0M212.8 130.6h0M219 121h0M204.5 138.2h0M217.7 118.8h0M206.2 156.9h0M221.4 147.8h0M201.4 142.4h0M217.1 123.7h0M218.3 122.8h0M195.9 144.3h0M209.8 119.2h0M222.7 146.7h0M197.2 147.3h0M209 144.1h0M207.8 115.8h0M202.3 132.9h0M211.7 140.2h0M196.2 151.8h0M207 133.3h0M218.9 128.6h0M221.2 126.1h0M204.2 115.4h0M216.5 156.6h0M220.7 119.4h0M208.1 149.2h0M210.5 139.9h0M198 149.7h0M222.4 151.1h0M206.7 134.9h0M210.2 145.6h0M219 128.6h0M205.1 139.6h0M226.1 136.2h0M209.1 118.4h0M196.5 148.1h0M204.2 143.1h0M195.7 147.7h0M214.5 138.4h0M202.8 123.3h0M216.5 141.7h0M219.4 146.4h0M213.7 141.5h0M215.1 144.2h0M199 140.6h0M205.4 113.9h0M198.1 143.4h0M207.1 136.3h0M195.7 133.3h0M206 150.8h0M195.8 125.6h0M222.8 139.7h0M201.4 152.2h0M214.8 158.8h0M205.3 134.1h0M213.4 150.2h0M203.8 151h0M213.4 135.1h0M195.8 124.1h0M210.4 160.8h0M209.9 161.4h0M220 122h0M202.8 155.1h0M201.8 133.5h0M206.4 127.2h0M202.8 132.8h0M218.8 143h0M211.2 139.5h0M213.9 128.1h0M195.8 145.2h0M195.9 148.8h0M195.2 161.3h0M221.1 124.9h0M224.7 139.9h0M203.9 134.4h0M205.4 148.6h0M202.5 128.6h0M200 154.2h0M207.7 144.5h0M199.9 130.9h0M199.6 147.4h0M206.7 156.1h0M201.9 144.5h0M201 129.3h0M201.5 141.1h0M202.4 146.1h0M217.3 155h0M218 148.4h0M207.9 157.6h0M220.9 122.3h0M196.3 145.5h0M210 122.3h0M211.3 136.8h0M211.5 113.5h0M204 138.7h0M225 129.8h0M197.7 141.9h0M209.2 113.8h0M222.3 150.9h0M214.9 129.9h0M211.4 131h0M202.5 142.3h0M208.1 142.3h0M199.8 138.6h0M198.6 129.1h0M215.6 150.3h0M207.7 152.7h0M218.6 119.2h0M212.1 123.2h0M215.2 132.9h0M212.6 112.4h0M221.6 128.7h0M205.3 113.3h0M217.6 118.2h0M221.2 152.6h0M197.7 119.5h0M204.2 132.7h0M210.7 126.4h0M202.7 148.2h0M211 137.6h0M201.9 138.9h0M202.9 135h0M217.2 131h0M214.5 139.6h0M205.4 113.8h0M207.5 133h0M222.3 127.6h0M205.2 130.8h0M208.4 150.3h0M217.5 124.9h0M218.6 154.6h0M218.1 151.2h0M223.1 127.7h0M201.3 122.4h0M207.9 123.9h0M215.4 125.1h0M221 144.1h0M219.5 131.9h0M203.8 145h0M202.1 143.5h0M196.2 125.8h0M211.9 114.1h0M208.4 148.9h0M198.2 147.6h0M197 148.1h0M214.3 139.6h0M196.8 154.9h0M214.1 133.7h0M219 127.7h0M221.7 134.5h0M206 117.6h0M209.7 139h0M208 127.4h0M200.7 142.8h0M206.8 123.4h0M221.7 138.2h0M222.1 124h0M224.1 146.5h0M209.6 139.1h0M222.5 121.4h0M224.9 131.2h0M214.1 123.1h0M218.7 137.7h0M209.6 145h0M206.9 130.7h0M195.7 142.5h0M195.5 158.1h0M216.6 131.6h0M197.9 156.2h0M215.1 129h0M202.5 125.4h0M205.2 149.2h0M216.2 146.6h0M199.8 150.6h0M203.8 133h0M215.3 119.9h0M223.2 138.6h0M213.1 122.9h0M212.9 146.7h0M215.2 124.4h0M217.7 114.3h0M207 111.8h0M217.6 158.4h0M199 135.7h0M222.3 125.3h0M201.3 124.6h0M214.1 116.5h0M216.2 149.6h0M224.2 136.4h0M197.4 139.6h0M216.9 115.7h0M213.2 138.5h0M214.1 122.6h0M219.8 119.7h0M222.5 125.3h0M217 139.5h0M222.8 127.3h0M207.4 125h0M211.2 114.3h0M208 130h0M220.2 122.5h0M196.4 149.7h0M203.6 150.5h0M217.4 122h0M220.9 124.2h0M218.2 137.4h0M201.8 141.6h0M211.3 119.3h0M210.7 159.6h0M217.9 119.3h0M218.9 119.6h0M215.7 138.7h0M224.7 137.3h0M218.3 124.3h0M220.1 139.7h0M197.4 156.4h0M218.6 131.2h0M221.3 134.4h0M209.1 130h0M198.2 118.5h0M210.6 116h0M209.6 148.2h0M207.1 151.6h0M207.5 113.6h0M205.1 150.9h0M208.1 134.7h0M204.8 151.5h0M207.9 138.5h0M208.4 135.2h0M195.5 141.3h0M213.2 125.4h0M195.9 160.3h0M212.4 131.8h0M209.2 134.1h0M210.1 134h0M222.7 139.7h0M209.1 139h0M216.6 132.2h0M200.7 148.8h0M206.3 149.9h0M198.6 143.1h0M206.6 136.3h0M203.9 134.5h0M218.3 149.8h0M223.6 138.8h0M202.3 155.7h0M216 158.9h0M224.8 140.1h0M211.5 146.4h0M202.9 145h0M211.8 141.8h0M217.1 135h0M208.5 133.5h0M209.4 143h0M219.4 136h0M219.3 122.7h0M207.5 141h0M211.8 116h0M208.4 123.1h0M215.3 120.9h0M209.2 147.6h0M218.3 118.8h0M201.5 120.3h0M208.7 118h0M200.2 139.7h0M196.4 143.3h0M223.3 142.7h0M200.9 148.7h0M204.3 156.4h0M203.7 124.9h0M206.7 139.2h0M201 149.2h0M225 135.4h0M198.3 135.3h0M196 143.9h0M204.6 125h0M220.1 137.1h0M211.2 160.1h0M209.6 114h0M207.4 137.8h0M217 136.2h0M199.9 154.9h0M223.5 128.7h0M214.2 147.7h0M214 128.6h0M218.8 123.2h0M200.7 140.5h0M206.6 113.3h0M205.1 125.4h0M205.1 147.5h0M207 127.9h0M204.4 114.2h0M208.5 157.9h0M200.3 128.7h0M216.1 136.6h0M204.7 155.6h0M206.6 142.5h0M212.4 144.4h0M203.8 129.3h0M207.7 130.1h0M204.8 151.6h0M200.7 152.3h0M216.2 145.7h0M212 123.8h0M211.6 115h0M207.9 131.3h0M210.1 120.4h0M218.2 114h0M222 125.4h0M207.5 123.4h0M205.1 146.9h0M216.2 124.2h0M215.8 134.2h0M213.6 160h0M197.7 146.4h0M207.6 158h0M204.1 128.9h0M223.4 146.6h0M199.3 119.9h0M201 133.3h0M213.8 160h0M199.5 151h0M204.7 124.5h0M203.9 155.5h0M205.3 143.6h0M216.4 112.9h0M213.7 126h0M208.6 116.3h0M213.8 160.3h0M208.8 140.8h0M211.6 130.8h0M212.7 146.2h0M213.8 144.7h0M208.3 159.3h0M224.3 129.7h0M217.1 148.4h0M213.3 131.9h0M195.7 149.7h0M211.8 138.4h0M214.8 121.3h0M212.6 141.3h0M212.5 138.5h0M224 141.3h0M217.6 124.4h0M203.4 124.2h0M218.7 156.1h0M218 154.5h0M219.4 123.6h0M210 130.2h0M212.4 134.9h0M223.7 140.6h0M197.6 152.1h0M213.6 113h0M220.1 151.9h0M214.5 145h0M204 126.6h0M197.2 136.5h0M219.6 127.2h0M198 127.3h0M226 138.8h0M216.4 117.4h0M195.7 159.7h0M202.9 142.5h0M211 132.1h0M220.5 135.5h0M205.8 128.5h0M199.3 144.3h0M215 134.7h0M203.8 115.7h0M199.1 119.2h0M210.9 144.7h0M211.9 137.3h0M222.1 138h0M210 160h0M209.6 122.8h0M196.5 141h0M214.6 114.6h0M207.6 135.2h0M203.7 136.2h0M207.6 122.3h0M209.1 158.5h0M198.8 118.5h0M200.5 139.5h0M213.9 140.4h0M197.8 142.2h0M207 157.6h0M198.7 157.3h0M204.2 124.8h0M224.6 137.7h0M195.9 126.7h0M198.3 137.3h0M216.6 147.9h0M222.7 130.4h0M212 133.8h0M209.2 157.1h0M212.3 116.6h0M207 116.4h0M204.1 137.2h0M222.6 131.4h0M214.8 139.2h0M202.8 148.3h0M203.5 141.3h0M207 149.4h0M222.9 138.4h0M217.7 150.1h0M203.8 144.4h0M199.1 150.8h0M204 148.2h0M206 133.5h0M203.7 122h0M215.6 159h0M216.7 144.7h0M210.3 139.4h0M200.9 152.7h0M195.9 160.5h0M207.1 145.7h0M215.4 145.8h0M223.1 139.4h0M212.9 139h0M211.5 137.1h0M209.3 153.2h0M204.9 138.4h0M213.9 145.1h0M214.1 141.3h0M202.3 124.8h0M214 120.6h0M204.6 114.3h0M224.3 130.6h0M203.5 135.9h0M220.1 145.3h0M200.7 121.7h0M201.8 138h0M204.8 157.4h0M204.6 137.4h0M215.4 134.3h0M199 155.1h0M200.2 124.3h0M208.5 150.7h0M208.9 117.3h0M202.8 155.9h0M210.4 133.8h0M208.4 160.1h0M204 149.4h0M219 122.5h0M218.7 138.5h0M222.4 147.3h0M204.5 130.6h0M215.5 129h0M218.8 126.4h0M215.7 130.4h0M219.6 116h0M202 144.5h0M221.5 150.2h0M209.9 125.8h0M200.8 139.3h0M212.5 133.3h0M200.4 141.9h0M223.6 138.9h0M196.1 158.8h0M222.6 140.7h0M214.5 114.4h0M199.2 120.3h0M210.5 130.8h0M218.1 153h0M215.8 117h0M211.9 145.2h0M203.8 152.8h0M203.9 151.1h0M217.9 121.9h0M210.2 148.2h0M223.3 142.6h0M210.7 134.2h0M198.2 142h0M221.8 126.8h0M200.8 130.8h0M213.9 125.6h0M206.8 146.3h0M217.5 135.2h0M198.3 135.7h0M217.9 126.1h0M201 123.4h0M206.2 158.1h0M200.9 148h0M207.4 140.1h0M224.9 133h0M195.7 150.5h0M212.3 141.7h0M219.1 136.2h0M215.9 140.6h0M204.6 152.9h0M218.4 127.5h0M217.1 117.4h0M217.4 154.7h0M214.8 131.4h0M220 142.2h0M201.3 122.2h0M201.9 132.1h0M215.4 129.3h0M201.2 137.1h0M196.2 143.4h0M201.9 140.1h0M206.2 127h0M203.7 146.9h0M209.1 121.4h0M221.8 120.3h0M218.1 154.2h0M200.6 133h0M218.7 155.8h0M205.3 150.9h0M216.7 140.3h0M213.8 140.2h0M203.5 122.9h0M210.9 125.6h0M203.8 149.4h0M215.5 131.3h0M210.5 113.2h0M207.8 148.5h0M216.7 152.6h0M196.6 139.1h0M224.5 145.4h0M216.8 121.2h0M210.6 132.5h0M201.1 123.7h0M209 115.4h0M203.2 138.9h0M206.4 112.3h0M207 116.1h0M202.4 134.5h0M201 153h0M196.9 152.8h0M216.6 117.6h0M203.9 139.6h0M198.6 127.9h0M219 115.4h0M216.6 120.9h0M203.5 147.3h0M199.1 119.5h0M197.7 129h0M204.9 132.4h0M204.3 156.3h0"/>
<path stroke="#e8e8e8" stroke-width="1.3" stroke-linecap="round" fill="none" d="M185.8 137.7h0M217 155.5h0M187 143.5h0M204.8 118.3h0M197.9 122h0M186.4 140.8h0M210.8 154.2h0M210.3 153.8h0M192.8 114.8h0M186.7 117.9h0M194.8 131.1h0M200 123.2h0M192.6 139.4h0M202.7 163.8h0M185.1 137.3h0M202.8 131.1h0M190.5 125.7h0M203.2 157h0M192.7 142.3h0M186.5 133.7h0M183.6 123.9h0M215.9 155.1h0M192.2 135.1h0M190 116.2h0M180.5 150.6h0M199.9 112.2h0M213.1 146.8h0M195.9 132.1h0M183.6 143.8h0M194.9 128.5h0M189 120.3h0M216.7 155.5h0M188.3 138.1h0M187.7 133.7h0M217 152.1h0M179.7 142.4h0M187.2 138.7h0M207.3 139h0M190.3 119.4h0M211.3 152h0M193.8 115.9h0M213.2 150.8h0M193.8 122.7h0M210.8 142.1h0M208.1 149.9h0M178.9 134.6h0M191.1 113.6h0M214.3 152.8h0M188.1 143h0M196.2 118.3h0M191.3 126.5h0M210 151.3h0M180.8 145h0M182.1 139h0M192.2 136.7h0M216.1 152h0M197.1 130.7h0M213.7 150.8h0M195 141.7h0M179.9 136.2h0M177.3 142.5h0M190.8 127.4h0M212.2 152.5h0M189.5 124.9h0M193.4 156.8h0M191.4 117.4h0M183 138.4h0M202.1 154h0M193.7 126.4h0M188.6 116.4h0M182.7 135.7h0M213.2 120.1h0M185.5 128.9h0M188.1 138.7h0M200.3 158.8h0M189 121.3h0M187.6 122.3h0M195 123.7h0M180.1 148.4h0M187.5 125.9h0M190.9 133.5h0M194.4 144.8h0M205.1 159.1h0M185.5 143.1h0M178.6 139.9h0M189.3 132h0M211.7 156.1h0M184 122.1h0M192.6 124.5h0M194.4 141.4h0M199.9 158.5h0M223.2 148.1h0M181.1 134.9h0M183.6 119.3h0M188.1 115.9h0M178.5 143.8h0M183.1 132.5h0M183.5 123.5h0M191.6 116.4h0M190.2 127.8h0M186.7 124.5h0M194 122.9h0M192 119h0M211.6 152h0M195 160.3h0M191.1 134.5h0M199.7 161.5h0M189.7 117.4h0M189.6 117.2h0M188.2 126.7h0M183 137.2h0M186.4 122.9h0M202.8 124.4h0M190.6 115.5h0M181.8 141.3h0M182.3 123h0M215.7 136.4h0M194.5 128.5h0M185.8 137h0M180.3 144.6h0M210.6 141.2h0M186.6 131.9h0M180.1 141.3h0M183.4 136.6h0M185.3 133.1h0M202.9 159.5h0M186.6 133.2h0M182.2 140.1h0M196.3 118.4h0M190 122.6h0M212.5 152.2h0M199.6 113h0M193.5 113.6h0M181.7 134.3h0M192.5 133.9h0M200.6 120.6h0M202.2 163.7h0M194.4 138.3h0M184.1 129.3h0M199.2 116.8h0M188.2 126.2h0M187.6 128.9h0M195.2 124.1h0M200.2 123.6h0M195.2 136.5h0M182.5 139.9h0M203.9 129.5h0M192.9 114h0M187.3 125h0M177 143.5h0M194.2 125.8h0M215.5 155.7h0M194.6 145.1h0M185.4 130.2h0M193 112.8h0M200.3 112.1h0M180.9 143.9h0M178.9 136.6h0M184.2 130.1h0M187.8 119.1h0M192.4 126.8h0M204.7 161.6h0M211.5 155.8h0M192.3 121.8h0M189.1 127.7h0M186.8 126.1h0M215.3 155.5h0M178.6 149.6h0M181.7 157.5h0M201.8 147.8h0M192.1 128.2h0M186.5 139.8h0M186.6 141.9h0M196.6 120.5h0M200.1 114.3h0M198.4 117.3h0M187.6 134.5h0M192.9 132.3h0M180.9 144.7h0M184.5 139.4h0M190.6 121.9h0M192.5 136.8h0M193.6 140.2h0M214.3 152.3h0M193.8 123.8h0M188 141.1h0M184.5 134.4h0M190.8 127.7h0M189 142.7h0M190.1 142.3h0M189.6 139.8h0"/>
<path stroke="#f8e8e8" stroke-width="1.3" stroke-linecap="round" fill="none" d="M208.5 120.7h0M209.9 131h0M199 118.2h0M203 129.4h0M199.4 149.7h0M222.5 138.7h0M216.4 149.5h0M220 129h0M216.3 146.4h0M213.9 113.9h0M211.7 132.1h0M212.3 111.9h0M200.7 124.6h0M214 115h0M222 128.4h0M211.6 133h0M211.8 136.1h0M224.8 139.4h0M212.6 120.2h0M216.9 155h0M219 126.6h0M209.2 135.7h0M225 136.2h0M204.3 142.1h0M220 152.2h0M196.5 126.7h0M202.1 122.7h0M214.5 121.9h0M198.1 138.5h0M206.6 157.9h0M199.4 150.3h0M216.5 130.5h0M206.7 129.9h0M214.3 119.3h0M213.6 113.7h0M205.6 138.3h0M223.6 140.9h0M221.4 149.2h0M201.9 135.6h0M219.8 120.8h0M218.7 116.2h0M203.1 126.6h0M217.9 138.8h0M222.7 146.3h0M201.1 152.9h0M204 136.5h0M201 139h0M212.9 151.3h0M214 147.2h0M218.9 132.2h0M195.7 146h0M195.9 126.9h0M209.8 130.9h0M183.7 125.9h0M212.6 118.8h0M211 124h0M225.5 131.7h0M215 123.4h0M197.8 115.2h0M214.6 148.2h0M206.3 161.3h0M203.3 151.8h0M205.4 115.1h0M183.2 135.6h0M221.8 119.6h0M211.9 113.1h0M198.9 135.9h0M190.9 134.9h0M202.2 118.6h0M206.2 117.3h0M205.7 134.5h0M200.9 123.1h0M215.2 124.5h0M221.2 139.8h0M220.5 153.5h0M196.6 143.9h0M186.8 127.3h0M222.2 133.8h0M208.7 130.6h0M220.7 144.1h0M196.9 152h0M201.7 129.6h0M204 130.2h0M212.5 127.2h0M208.7 143h0M195.4 148h0M211.1 134.7h0M216.3 157.2h0M188.2 137.8h0M199.1 119.3h0M203.1 120.4h0M214.1 134.3h0M213.7 147.2h0M201.3 151.5h0M217.3 137.6h0M186.1 128.5h0M206.8 126.3h0M225.1 131.6h0M198 119.9h0M224.1 143.7h0M214.5 131.1h0M197.5 145.8h0M195.5 124.8h0M210.5 131.6h0M204.5 135.2h0M213.6 125.6h0M209.2 116h0M197.6 140.2h0M207.1 132.1h0M216.1 129.7h0M216.1 141h0M210.9 134.8h0M203.5 118.9h0M219.7 145.2h0M198.3 130.4h0M186 136h0M211.4 144.4h0M207.4 131.3h0M218.9 126.9h0M216 146.8h0M189.4 115.8h0M216.7 135.2h0M206.5 124.1h0M183.5 125.4h0M215.4 135.5h0M219.5 138.9h0M197.6 135.9h0M204.7 113.4h0M201.1 138.4h0M216.8 116.9h0M204.8 113.7h0M202.6 137.5h0M186.4 133.4h0M198.5 127h0M212.9 140h0M211.9 140.1h0M201.1 132.6h0M196.5 116.4h0M213.2 140.2h0M195.7 141h0M221.2 139.6h0M209.8 128.5h0M216.1 147h0M203.4 137.8h0M195.1 128.8h0M212.1 146.7h0M201 147h0M205.4 131.9h0M223.2 127.3h0M216.3 116h0M202.7 147.8h0M209.4 158.7h0M204.3 146.5h0M204.8 143.1h0M207.9 143.8h0M179.4 137.5h0M206.4 114.9h0M200.5 118.4h0M207.9 154h0M196.2 135.2h0M195.6 126h0M214.5 121.6h0M214.1 117.6h0M205.9 116.1h0M209.9 112.2h0M203 157h0M196.6 114.7h0M187.3 129.9h0M222.5 121.3h0M211.8 125h0M215.3 130.8h0M211.2 118.9h0M198.3 149.4h0M209.2 120.8h0M219.6 120.7h0M210.6 142.4h0M198.7 139.7h0M199.9 127.1h0M188 125h0M220.8 137.3h0M178.9 149h0M188.9 124.9h0M197.2 133.9h0M211.4 146.3h0M201.5 146h0M217.3 118.9h0M204.1 133.1h0M203.6 120.1h0M215 131.4h0M206.6 114.8h0M198.5 132.1h0M200 129.3h0M207.1 144.8h0M202.3 150.3h0M202.8 128.8h0M205.2 161.1h0M213.3 118.8h0M210.8 128h0M209.4 160.4h0M211 131.7h0M212.1 159.3h0M212.9 135.9h0M203.5 113.9h0M205.7 141.8h0M208.5 130.3h0M186.1 138.5h0M220.2 116.9h0M184 138h0M211.2 120.5h0M216.8 152.3h0M216.5 133.7h0M198.3 157.3h0M204.8 142.4h0M205.5 150.5h0M208.1 132.6h0M204.6 136.5h0M203 154.8h0M217 140.7h0M212.6 141.7h0M226.2 138.2h0M194.6 155.8h0M182.2 135.2h0M201 134.4h0M198.9 127.5h0M199.1 135.5h0M202.7 155.8h0M206.4 141.3h0M208.1 158.2h0M207.6 136.7h0M185.5 136h0M211.2 134.7h0M207.4 134.6h0M199.3 141h0M207 126.5h0M213.7 133.4h0M197.4 115.2h0M199.5 150h0M203.7 127.8h0M203 144.8h0M178.4 148.5h0M221.3 134.5h0M199.1 131.2h0M197.4 128.7h0M208.4 124.3h0M202.4 142.4h0M197.9 139.7h0M199.8 123.7h0M218.8 117.7h0M203.1 148.6h0M209.5 143.9h0M204 146h0M216 139.7h0M216.7 130h0M206.7 120.3h0M208 153.8h0M203.9 153.2h0M219 139.9h0M207.1 152.7h0M220.5 153.1h0M202.6 120.1h0M214.1 145.7h0M182.6 125.2h0M193.2 125.8h0M202.7 137.5h0M222.8 121h0M211.4 120.3h0M203.5 120.1h0M209.3 114h0M213.5 145.3h0M217.6 124.1h0M199 134.2h0M195.7 151.4h0M201.4 137.3h0M190.9 123.1h0M207.9 139.4h0M220.8 149.7h0M219.8 149.5h0M205.9 114h0M180.3 138.5h0M197.9 139.4h0M202 130h0M211.7 130h0M197.4 140h0M204 155.6h0M201.7 142.2h0M199.8 147.1h0M206.2 113h0M219.8 119.8h0M196.2 125.8h0M198.9 133h0M202.3 148.5h0M204.6 141.3h0M213.9 124.9h0M220.9 123.1h0M209.1 160.9h0M211.4 150.1h0M219.6 150.5h0M197.4 142.9h0M203.4 155h0M215.5 134.6h0M197.4 156.3h0M218.3 120h0M204.5 147.8h0M210.2 140.9h0M216.3 148.6h0M195.8 116.8h0M197.3 114.7h0M218.1 135.6h0M209.8 144.3h0M219.8 125.3h0M200 118.9h0M212.7 133.1h0M212.4 127.2h0M204.2 157.2h0M219.4 118.4h0M202.5 142.6h0M212.6 116.3h0M208.7 126.1h0M216.8 144.2h0M205.4 126.9h0M184.9 142.2h0M219.4 118h0M189.7 114.1h0M208.9 125h0M197.9 155.9h0M211.7 128.6h0M200.2 137.9h0M214.4 117h0M206.5 113h0M222.7 145h0M185.4 129.9h0M200.9 139.1h0M204 151.2h0M207.1 154h0M201 135.9h0M223.4 144.6h0M210.7 123.5h0M182.4 124.3h0M201.9 134.9h0M214.3 132.5h0M180.9 139.1h0M221.5 133.9h0M214.8 126.4h0M209.7 134.8h0M213.8 134.4h0M212.6 118.4h0M215.7 142.9h0M207.4 132.3h0M213 113.4h0M205.5 126.3h0M222.2 139.7h0M212.4 134.4h0M210.7 124h0M208.7 125.7h0M218 118.3h0M218.2 143h0M205 135.9h0M201.6 130.6h0M216.9 148.3h0M217.3 114.5h0M208.9 160.6h0M217.2 118.8h0M213.5 153h0M200.6 135.7h0M209.5 126.3h0M219.9 140.9h0M222.4 132.1h0M223.9 143.8h0M205.1 132.6h0M199.8 146.4h0M220 141.7h0M223.7 137.4h0M198.8 132.3h0M220.3 130.2h0M203 134.2h0M219.7 143.5h0M208.7 115.7h0M189.9 141.8h0"/>
<path stroke="#c8d8e8" stroke-width="1.3" stroke-linecap="round" fill="none" d="M181.2 148.2h0M203.3 160.7h0M185.9 124h0M182.9 129.4h0M192 116.4h0M189 132.3h0M188.8 126.2h0M195.3 115.9h0M180.3 135h0M187.5 142.6h0M196.5 121.3h0M182.8 139.8h0M201.2 163.1h0M194 121.1h0M187.5 135.8h0M196.2 121h0M182.2 140.9h0M186.2 131.2h0M193.5 138.5h0M189.3 142.6h0M202.8 113.7h0M193.1 134.7h0M187.2 127.9h0M194.3 124.4h0M194.7 158.6h0M194.5 145h0M182.3 128.9h0M195.7 121.4h0M183.8 123.1h0M195.2 127.4h0M177 144.7h0M193.8 129.3h0M185 122.8h0M193.7 137.4h0M193.5 113.5h0M194.7 139.2h0M188.3 133.3h0M183 140.1h0M198.2 120.5h0M187.5 123.9h0M212.5 156.9h0M198.9 160.2h0M212.6 154.2h0M190.5 129.5h0M202.2 162.6h0M183.8 147.5h0M184.7 126.7h0M199.4 124.5h0M195.4 146.7h0M178.6 142.5h0M193.9 126.8h0M187.2 146h0M185 128.6h0M193.9 142h0M179 137.5h0M193.4 150.8h0M189.7 127.8h0M185.9 139.4h0M194.8 133.1h0M184.3 131h0M181.8 126.9h0M210.5 152.2h0M191 124.7h0M201.1 158.1h0M194.6 150.7h0M194.7 123.8h0M212.3 151.1h0M181.2 146.1h0M182.5 157.2h0M186.9 116.2h0M193.2 123.6h0M198 111.5h0M190.6 127.7h0M209.9 152.5h0M179.6 134.9h0M189.3 120.9h0M178.5 146.3h0M193.5 147.5h0M194.2 126.1h0M188 133.3h0M191.4 117.3h0M191.4 118.3h0M199 161.4h0M178.7 141.6h0M201.3 114.8h0M192.3 137.6h0M195.8 122.6h0M192.4 118h0M190.8 137.3h0M215.7 150.1h0M188.2 140.1h0M201.6 160.2h0M193.6 146.1h0M190.9 113.4h0M194 161.3h0M187.6 120.7h0M180.9 137.5h0M198.9 160.9h0M189.1 114.8h0M220.5 147.8h0M185.7 127.1h0M214.2 150.9h0M184.4 135.4h0M189.9 125.3h0M200.6 112.2h0M183.5 141.7h0M191.7 122.3h0M193.8 140.8h0M212.3 153.2h0M185.3 149.9h0M184.1 144.1h0M184.9 139.4h0M209.5 153h0M186.3 137.5h0M183.7 134h0M194.7 131.9h0M183.8 142.9h0M192.7 131.8h0M193.8 158.5h0M178.8 136.8h0M182.9 126h0M195.2 129.5h0M196.2 129.3h0M183.9 130.1h0M194.2 139.1h0M177.4 140.1h0M194 114h0M200.9 122.4h0M210.6 156h0M195.2 163.2h0M181 141.6h0M177.8 147.8h0M194.8 147.8h0M178.9 139h0M178 138.3h0M193.5 129.6h0M191.8 115.9h0M185 133.4h0M211 158.4h0M191 116.3h0M203.2 159.2h0M195.7 115.8h0M188.9 142.7h0M185.2 125.5h0M181.9 129.2h0M200.7 114.7h0M190.2 131.1h0M189.3 131.4h0M191.4 123h0M194.4 112.3h0M213.3 152.6h0M191 133.3h0M212.4 155.7h0M199.5 117.5h0M189.5 125.4h0M184.1 126.8h0M196.7 123.2h0M181.6 138h0M188.4 122.8h0M215.2 152.3h0M180.2 148.1h0M185.7 136.8h0M197.5 113.5h0M194.9 132.9h0M193.4 118.2h0M184.8 143h0M188.5 130.5h0M192.1 112h0M194 151.5h0M212.6 155.6h0M182.3 124.2h0M185.4 120.8h0M212.2 153.2h0M184.7 124.3h0M205.3 160h0M221.4 145.9h0M199.7 161.8h0M180.1 133.9h0M190.1 131.1h0M193.4 127.4h0M183.5 136.8h0M191.4 132.2h0M194.7 147.6h0M185.5 141.9h0M189 137.9h0M200.3 158.5h0M193.8 138.1h0M195.1 118.9h0M187.5 127.2h0M189.3 142.3h0M179.8 133h0M193 140.5h0M190.4 137.3h0M180.4 134.9h0M195.7 111.1h0M188.4 130.1h0M195.4 114.8h0M202.7 162.7h0M192.7 132.8h0M185.1 152h0M216.1 153.1h0M199.4 112.3h0M178.8 137.5h0M188.8 133.3h0M209.3 155.8h0M209.2 153.8h0M180.5 140h0M189.1 129.8h0M194.3 146.3h0M191.7 135.3h0M189.1 122.4h0M180.4 144.9h0M182.8 151.3h0M196.6 124.1h0M197 114.7h0M194.7 118.8h0M186.2 128.5h0M192.5 148.8h0M198.4 113h0M185.9 125.2h0M188.3 140h0M185.2 123.9h0M179.8 140.1h0M178.8 137.7h0M211 156.1h0M181.8 133.7h0M185.5 144.6h0M201.7 162.9h0M190.7 134.8h0M190.8 128.3h0M194.7 130h0M187.4 127.1h0M194.3 114.3h0M185 138.9h0M186.8 121.9h0M185.3 141.3h0M203.4 162.2h0M204.8 161.5h0M194.4 151.9h0M195.2 125.8h0M186.2 121.4h0M190.8 120.7h0M202.3 163.1h0M188.2 123.9h0M192.8 133.1h0M192.7 136.6h0M184.8 126.5h0M178.3 149.4h0M184.8 120.6h0M189 143.5h0M194.5 152.2h0M213.6 152.6h0M213.6 152h0M181.8 129.9h0M222.7 144.3h0M182 137.4h0M181.9 159.9h0M180.5 144.6h0M215.4 151.4h0M197.3 123.7h0M192.2 115.2h0M187.5 137.1h0M177.8 145.3h0M180.9 144.4h0M201.3 159.9h0M193.4 117.2h0M194.7 139.2h0M190.2 136.6h0M189.1 119.2h0M191.1 132.2h0M191.2 143.7h0M191.3 142h0M189.8 142.6h0M189 145.1h0M190.7 141.9h0M190.3 139.6h0M190.2 139.6h0"/>
<path stroke="#a8c8e8" stroke-width="1.3" stroke-linecap="round" fill="none" d="M186.1 151.4h0M190.9 160.8h0M195.1 148.9h0M185.6 152.4h0M182.5 143.5h0M190.6 134.1h0M193.5 113.4h0M182.8 160.1h0M191.2 114.8h0M184.3 147h0M200.3 161h0M191 156.5h0M192.8 152.9h0M193 153.6h0M190.9 156.2h0M187.2 149.5h0M182.7 150.6h0M190.3 157.6h0M189.2 147.4h0"/>
<path stroke="#d8e8e8" stroke-width="1.3" stroke-linecap="round" fill="none" d="M177.9 139.4h0M180.5 146.5h0M182.9 141.9h0M180.7 132.5h0M199.7 116.5h0M193.8 128h0M183.3 137h0M192.3 118.9h0M192 121.2h0M180.7 140.7h0M191.1 124h0M181.6 124.3h0M187 130.2h0M188.7 125.2h0M185.9 139.6h0M189.5 115h0M189.1 115.8h0M184.6 122.9h0M214.5 154.7h0M189.8 141.9h0M215.9 152.7h0M185.2 123h0M209.4 151h0M179.7 148.1h0M179.9 139.7h0M188 125.8h0M185.3 123.5h0M190.2 135.8h0M219.4 148.2h0M182.5 143h0M196.3 128.3h0M185.8 143h0M180.4 151.4h0M204.4 160.8h0M186.5 139.4h0M211.1 156.8h0M190.6 114h0M203.4 161.9h0M181.6 148.7h0M215.2 151.4h0M194.7 128.8h0M189.9 121.3h0M179 147.1h0M190.3 132.3h0M195 152.5h0M196.9 118.7h0M195.6 122.6h0M185.8 134.7h0M196.2 113.9h0M195 156.3h0M192.4 141.2h0M190.9 125.8h0M179.5 142.8h0M177.9 145.6h0M182.8 136.9h0M191.8 125.6h0M202.1 157.6h0M182 140.1h0M189.4 137.3h0M213.5 155.6h0M195.7 129.4h0M194.2 141.5h0M212.2 155h0M202.5 163h0M196.9 117.2h0M189.1 120.4h0M190.9 129.4h0M194.7 159.4h0M187.2 131.2h0M183.9 129.9h0M199.2 112.2h0M179.8 139.9h0M197.1 129h0M183.6 143.2h0M188.8 120.1h0M182.8 133.1h0M187 140.8h0M180.4 150.2h0M195.4 131.7h0M195.2 148.4h0M192.5 119.9h0M181.5 158.5h0M192.6 112.3h0M186.2 142.1h0M200.9 163h0M185 133h0M189.7 133.3h0M193.7 121.8h0M201.2 119.9h0M186.8 116.7h0M193.8 113.7h0M183.5 127.3h0M192 123.3h0M184.6 124.8h0M194.3 133.7h0M201.7 114.2h0M217.4 152.5h0M191.2 118.6h0M216.8 152h0M193.2 149.3h0M180 149.7h0M196.9 129.1h0M179.4 143.1h0M187.7 117.5h0M194.8 115.4h0M197.4 128.3h0M193.8 125.8h0M176.6 142.2h0M189.5 126.2h0M185 130h0M191.4 120.7h0M190.5 138h0M192.4 132h0M180.8 151.3h0M198 122.8h0M193.8 112.6h0M200 112.4h0M182.1 148.9h0M186.1 139.5h0M212.6 154.2h0M212.8 151.8h0M183.5 141.1h0M194.7 116.2h0M183.4 134.2h0M189.1 134h0M195.5 154.4h0M197.3 129.2h0M195.1 146h0M189.4 123.2h0M188.2 117.2h0M180.3 150.3h0M188.4 129.3h0M195 138.4h0M217 150.8h0M221 145h0M195.6 113.6h0M193.9 159.3h0M182.6 140.6h0M181.7 146.5h0M201.3 116h0M187.2 139.8h0M197.3 127.3h0M198.3 121.2h0M186.1 135.6h0M191.3 138.7h0M194.4 148.6h0M191.9 131.6h0M189.9 118.8h0M192.3 122.9h0M195.1 113.4h0M214.1 151.3h0M203.9 162.2h0M180.4 149.1h0M203.1 162.1h0M211.7 152.2h0M194.1 161.3h0M198.4 117.9h0M184.1 133.6h0M180 139.7h0M180.7 142.1h0M199.4 161.6h0M190.7 131.2h0M177.9 144.7h0M185.9 121.3h0M187.3 124.1h0M184.3 136.2h0M192.9 112.6h0M190.1 116.3h0M201.5 118.5h0M192.2 138.3h0M200.9 158.3h0M186.3 138.1h0M181.2 135.1h0M216.3 151.4h0M190.7 112.8h0M213.9 150.9h0M214.1 155.9h0M190.9 135.2h0M214.3 155.7h0M194.9 126.4h0M197.9 111.1h0M195.5 146.8h0M183.7 128.3h0M197.8 112h0M193.5 125.9h0M215.3 156h0M195.7 119.3h0M185.5 129.2h0M211.4 158.6h0M178.4 141.8h0M190.6 116.1h0M215.6 155.9h0M189.5 123.9h0M203.4 160h0M187.5 132.5h0M194.4 157.6h0M194.4 114.1h0M202.3 160.8h0M199.7 111.7h0M194.5 123.8h0M196.8 127.2h0M186.1 139.3h0M181 148.1h0M183.9 140.7h0M180.7 133.6h0M193.7 141.6h0M185.4 118.2h0M201.1 116.9h0M190.2 123.4h0M192.3 120.3h0M193.5 140.9h0M187.2 130.4h0M181.1 146.7h0M214 153h0M219.2 147.6h0M187.2 119.7h0M219.6 147.3h0M196.1 117.7h0M196.2 116.6h0M185.9 133.8h0M181.8 124.2h0M190.3 114h0M190.3 134h0M194.2 154.8h0M211.5 152.5h0M181.5 126.1h0M179.8 135.3h0M185.3 136.3h0M202.2 158.5h0M181.7 151.8h0M194.3 116.5h0M187.5 134h0M189.8 129.5h0M213.7 158.2h0M195.5 113.9h0M211.5 157.6h0M177.4 141.8h0M194.7 152h0M189.3 140.9h0M182.9 135.9h0M180 138.4h0M211.1 158.3h0M189.7 115.8h0M195.7 142.1h0M194.3 138.3h0M187.9 130.6h0M191.1 130.6h0M189.3 121.9h0M183 123.4h0M187.2 137.3h0M189.2 137.2h0M212.3 158.2h0M212.4 151.1h0M193 111.3h0M196 121.6h0M187.9 120.7h0M197 119h0M193.7 121.5h0M191.6 118.1h0M200.8 112.7h0M196.7 128.7h0M188.8 120.8h0M187.7 128.7h0M180.2 133.9h0M202.2 160.9h0M195.1 137.7h0M210.6 151.3h0M209.4 152h0M212.1 157.4h0M186.6 135.5h0M179.6 148.5h0M182 126.9h0M193.6 114.8h0M201.9 163h0M204.6 160.4h0M202.5 112.7h0M198.1 124.6h0M185.5 143.1h0M194.1 121.2h0M197.4 127.3h0M185.6 130.9h0M209.9 156.1h0M193.3 131.9h0M194.3 135.4h0M220.6 148.2h0M194.7 161h0M185.7 134.5h0M185.8 133.9h0M215.3 154.1h0M198 125.2h0M188 130.1h0M188 123.8h0M189.7 142h0M202.7 114h0M213.6 159.2h0M187.4 122.5h0M215.7 151h0M182.2 134.8h0M190.8 141.6h0M193.1 138.6h0M190.7 139.5h0M189.3 139.9h0M190.9 141.3h0M192 140.6h0M190.6 143.6h0M189.1 142.2h0"/>
<path stroke="#f8e8d8" stroke-width="1.3" stroke-linecap="round" fill="none" d="M219.6 126h0M219.8 143.2h0M205.7 117.7h0M199 119.3h0M203.5 121.1h0M203.1 125h0M203.7 155.7h0M219.2 141.7h0M212 119h0M203.6 143.4h0M209.9 134.1h0M195.4 138.8h0M204.9 140.1h0M202.3 129.1h0M218.4 130.7h0M203.4 150.1h0M209 127.1h0M213.7 131.8h0M200.7 153.6h0M196.3 144.6h0M195.1 148.6h0M207.5 122.5h0M217.4 143.1h0M209.6 130.4h0M224.9 142.3h0M206 152.6h0M210.5 141.7h0M208.1 140h0M197 157.1h0M200.6 144.6h0M214.4 159.6h0M214 122.1h0M202.5 148.8h0M200.6 144.8h0M201.7 152.3h0M216.4 132.8h0M211.6 142.3h0M215.2 120.6h0M195 158.5h0M199.9 132.2h0M224 129.5h0M208.5 138.2h0M205.4 124.2h0M214.2 148.5h0M207.7 139h0M198.7 120.2h0M207.8 128.3h0M211.2 126.9h0M196.6 134.8h0M219 125.9h0M213 137.2h0M204.6 157.8h0M210.6 124.7h0M206.9 139.4h0M220.2 121.2h0M206.9 147.3h0M215.7 132.5h0M224.7 131.3h0M211.9 145h0M210.7 135.1h0M207.8 145.5h0M219 131h0M204.5 135.3h0M222.3 124.7h0M209 117.2h0M202.7 139.9h0M209 132.3h0M216 148.7h0M207.1 150.2h0M219.9 132.3h0M223.3 128.3h0M206.4 159.2h0M202.2 127.2h0M215.3 137.8h0M210.2 114.2h0M224.2 138.2h0M217.3 149h0M205 150.2h0M219.2 114.9h0M202 127h0M211.5 160.1h0M219.2 129.5h0M207.5 129.6h0M198.2 148.9h0M214.4 158.5h0M220.9 121.4h0M222.7 125.1h0M198.9 120h0M205.9 115.9h0M207.1 131.5h0M197.6 118.9h0M218.5 117.3h0M215.9 125.5h0M197.6 138.1h0M220.8 122.5h0M210.1 130.4h0M195.2 150.6h0M214.7 141.6h0M214.1 126h0M219.5 137.4h0M201.7 143.6h0M207.5 133.1h0M221.5 134.7h0M204.3 141h0M223.9 133.9h0M200.3 150.1h0M202.6 149.1h0M206.8 135.5h0M210 150.5h0M219.6 135.5h0M223 146.3h0M210.6 116.9h0M211 144.5h0M223.3 133.9h0M208.1 156.6h0M209.9 112.4h0M211.3 160.2h0M196.2 144.3h0M198.7 139.6h0M208.9 111.8h0M203.7 141.1h0M197.2 145.1h0M208.1 119.7h0M220.5 136h0M196.6 137.9h0M217.2 156.3h0M209.4 131.8h0M222.6 129.1h0M215.1 159.6h0M209.5 135h0M196.6 156.1h0M208.8 134.5h0M224.6 129.6h0M210.1 126.8h0M206.7 156.4h0M222.4 149.8h0M205.6 158.6h0M194.7 145h0M222.1 151.4h0M215.2 137.2h0M215.3 158h0"/>
<path stroke="#88b8d8" stroke-width="1.3" stroke-linecap="round" fill="none" d="M192 152.5h0M182.5 151.8h0M187.3 149.7h0M191.6 160.7h0M185.8 144.8h0M190.8 155h0M189.3 144.7h0M184 160.3h0M188.2 150.8h0M184.5 153.6h0M188.5 151.6h0M192.9 163.8h0M186.6 145.3h0M191.4 150.6h0M185.3 156.8h0M186.1 152.5h0M188.5 153.2h0M183.8 155.8h0M186.6 146.8h0M191.5 148.5h0M188.5 150.6h0M189.7 159.4h0M190.2 152.6h0M192.7 143.7h0M188.4 155h0M189.2 158.8h0M187.3 149h0M183.7 160.3h0M184.9 160.6h0M187.8 147.3h0M187.5 151.4h0M192.8 162.6h0M182.7 143.8h0M182.3 158.3h0M188.5 146.7h0M186.5 153.2h0M186.4 149.1h0M184.2 151.2h0M185.1 147.9h0M192.1 158.6h0M193.1 157.3h0M191.5 144.4h0M188.7 146.7h0M189.7 148.4h0M188.5 145.1h0M190.2 145h0"/>
<path stroke="#3888a8" stroke-width="1.3" stroke-linecap="round" fill="none" d="M181.2 161.6h0"/>
<path stroke="#78b8c8" stroke-width="1.3" stroke-linecap="round" fill="none" d="M187.4 150.5h0M186.9 145.6h0M191.3 157.4h0M185.9 156.9h0M185.7 144.9h0M185.6 157.8h0M182.7 160.1h0M182.6 161h0M185.4 159.3h0M185.9 150.1h0M185.2 156.1h0M191.1 151.8h0M191.8 163.8h0M192.3 144.5h0M183 149.7h0M191.3 150.3h0M188.9 151.1h0M192.6 145.9h0M188.5 144.5h0M189.1 147.7h0"/>
<path stroke="#68a8c8" stroke-width="1.3" stroke-linecap="round" fill="none" d="M185.5 156.4h0M183.2 162h0M190.2 159.6h0M186.5 148.8h0M192.7 150.6h0M192.7 161.8h0M185.4 150.6h0M185.6 150.4h0M190.3 155.8h0M188.4 159.5h0M185.4 159.1h0M182.4 154.9h0M187.1 144.9h0M182.3 148.5h0M191 155.7h0M186.2 152.8h0M188.1 144.2h0M189.9 158.8h0M191.8 162h0M193.1 151h0M182.9 157h0M192.5 155.7h0M193.2 154.5h0M182.3 155.6h0M188.4 152.2h0M188.1 152.9h0M184.5 150.3h0M189.4 162.7h0M183.9 150.6h0M193.2 161.9h0M187.4 151.5h0M183.5 160.8h0M187.3 154.7h0M185.3 147.8h0M191.1 159.7h0M188.4 159h0M185.7 145.8h0M191.8 156.6h0M183.2 154.6h0M191.6 156.7h0M189.3 159.3h0M185.2 157.3h0M185.7 160h0M190.1 156h0M190.1 152.6h0M187.2 155.4h0M184.3 144.8h0M190.1 158.2h0M183.2 159.6h0M184 148.5h0M185.9 148.1h0M191.3 155.8h0M189.2 145.8h0M190.8 144.2h0M190.7 147.4h0M189.6 148.7h0M192.1 145.7h0M190.5 144.9h0M188.6 146h0M192.1 146.4h0M189.7 147.3h0M189 148h0M189.9 144.1h0M192.7 145.2h0M191 146.7h0M189.6 147.7h0M191.2 144.8h0"/>
<path stroke="#b8d8e8" stroke-width="1.3" stroke-linecap="round" fill="none" d="M189.6 119h0M185.3 124.8h0M198.8 161.2h0M194.7 127.5h0M213 154.9h0M192.8 114.2h0M213.9 151.2h0M194.8 149.5h0M204.5 160.6h0M180.2 148.4h0M187.7 122.5h0M180.2 147.9h0M184.3 157.9h0M181.6 144.4h0M190.7 116.1h0M192.6 138h0M195.4 113.1h0M199.2 122h0M199.8 114.1h0M193.2 143.5h0M193.4 122.8h0M203.2 161.9h0M212 150h0M180.4 143.7h0M187 117.5h0M192.3 136.1h0M197 120.7h0M211.1 155.4h0M185.3 129h0M177.4 146.2h0M184 119.6h0M184.3 135.6h0M195.2 121.6h0M189.3 138.3h0M188.9 129h0M189.9 136.1h0M213.3 151.6h0M193.6 121.4h0M194.7 135.6h0M190.1 133.3h0M203.1 163.4h0M184 147.7h0M186.8 126.5h0M187.8 131h0M187.9 140h0M186.2 125h0M186.4 129.5h0M185 155.7h0M186.8 131.4h0M191.4 121.8h0M186.9 139.8h0M178.5 141.3h0M181.5 159.4h0M193.5 151.9h0M200.7 163.8h0M185.3 134.3h0M193.6 161.1h0M203.4 161.2h0M192.7 128.8h0M181.4 133.1h0M182.6 140.4h0M185.8 134.4h0M210.2 150.6h0M180.8 144.7h0M211.5 154.8h0M193 145.3h0M187.1 137.6h0M214 158.8h0M195.4 124.4h0M191.8 119.3h0M194.2 151h0M185.7 154.9h0M177.1 140.5h0M186 137.1h0M188.3 138.6h0M189.9 136.2h0M213.4 158.1h0M177.5 144.4h0M202.3 112.5h0M185.9 127.5h0M192.8 112.8h0M187.4 117.6h0M185.3 134.9h0M187.7 143.8h0M200.6 112.7h0M202.2 161.3h0M213.2 153.8h0M190.3 122.4h0M182.4 128.4h0M184.9 129.3h0M190.9 149.6h0M187.5 135.3h0M221.7 145.3h0M185.4 136.9h0M179.1 139h0M183.4 142.3h0M193.3 118.2h0M180.1 145.6h0M194.8 112h0M190.5 146.9h0M190.3 140.1h0M191.1 139.8h0M190.3 140.9h0"/>
<path stroke="#a8c8d8" stroke-width="1.3" stroke-linecap="round" fill="none" d="M183.3 163.2h0M184.7 139.5h0M186.2 151.7h0M192.4 144.4h0M184.9 161.5h0M188 152.8h0M183.6 147.5h0M184.2 123.4h0M192.7 146.9h0"/>
<path stroke="#f8c8c8" stroke-width="1.3" stroke-linecap="round" fill="none" d="M205.3 131.4h0M212.4 137.3h0M208.5 140.2h0M204.5 122.7h0M205.2 138.2h0M209.5 142.6h0M195.5 159.6h0M224.2 141.6h0M206.1 142.2h0M204.2 122.1h0M203.1 122.8h0M212.5 131.5h0M225.5 132.5h0M216.4 142.1h0M200.4 124.9h0M218.1 128.7h0M208.2 148.7h0M202 143h0M223.5 128.2h0M207.1 148.9h0M200 124.5h0M211.8 145h0M210.4 112.8h0M196.8 138.5h0M217.3 137.1h0M220 122.7h0M207.9 115.1h0M221.1 125h0M212 139.7h0M218.1 118h0M225.3 133.8h0M204.6 114.7h0M211.5 113.5h0M202 126.9h0M216.1 152.3h0M209.7 114.3h0M225.1 137.4h0M204.9 158.1h0M203.6 145.4h0M203.6 146.5h0M196.3 156.9h0M224.3 137h0M221.5 133h0M218.5 120.5h0M211.5 120.7h0M213.8 147.2h0M198.8 147.4h0M198.2 156.7h0M207.3 118.2h0M220.3 136.3h0M209.4 131h0M219.4 122.4h0M219.6 154.3h0M205.5 145.7h0M208.7 161h0M201.3 125.4h0M210.7 112.7h0M202 119.8h0M199 148.7h0M217 120h0M200 144.3h0M205 157h0M197 134h0M216.5 134.7h0M222.5 142.9h0M202.5 149.7h0M203.9 149.7h0M198.5 130.6h0M206 129.7h0M218.9 133h0M224.8 132.3h0M198.8 118.1h0M211.1 133.8h0M207.4 149.1h0M204.4 118.2h0M217.6 150.1h0M212 118.9h0M202.5 120.9h0M199 140.7h0M220.7 126.5h0M198.7 128h0M214 120.9h0M204.5 135.7h0M214.2 144.5h0M202.1 119.3h0M208.5 151.1h0M201.4 135.8h0M216.4 125.3h0M208.3 143.1h0M216.1 128.6h0M213.6 113.5h0M208.2 136.6h0M207.5 136.9h0M217.5 135.7h0M218.9 138.7h0M201.1 138.2h0M196 147.7h0M220.5 123.3h0M197 125.7h0M221.4 151.4h0M212.9 148h0M212.8 119.6h0M216.4 157h0M207.2 123.5h0M202.8 149h0M215.5 122.5h0M215.6 125.2h0M204.7 134.4h0M217.3 127.7h0M214.5 129.4h0M219 129.6h0M216.7 130.5h0M205.2 128.7h0M199.4 135.1h0M218.8 119.1h0M213.6 137.6h0M203.3 128.2h0M211.8 124.6h0M204.8 132.8h0M218.4 122.6h0M197.1 138.7h0M218.4 154h0M207.1 150.7h0M217.7 144.9h0M205.5 125.9h0M216.4 124.2h0"/>
<path stroke="#d8d8e8" stroke-width="1.3" stroke-linecap="round" fill="none" d="M191.8 126.7h0M182.6 137.1h0M186.7 141.6h0M210.2 151.7h0M202.7 113.6h0M203.1 160.2h0M213.3 154.3h0M200.6 162.7h0M211.4 157h0M194.6 112h0M191.9 127.8h0M187.4 130.7h0M179.5 134.5h0M186.1 142.5h0M187.6 126.4h0M202.7 157.3h0M193.3 136.7h0M185.3 137.1h0M185.9 136.6h0M202.2 158.9h0M194 150.1h0M185.8 118.4h0M193.6 127.7h0M191.2 144.4h0M191.1 141.9h0"/>
<path stroke="#4898b8" stroke-width="1.3" stroke-linecap="round" fill="none" d="M183.4 156.6h0"/>
<path stroke="#f8c8b8" stroke-width="1.3" stroke-linecap="round" fill="none" d="M226.3 135.2h0M221.9 120.6h0M211.3 148.9h0M213.4 148h0M199.7 147h0M218.7 143.5h0M219.7 139.9h0M214.4 137.5h0M198.5 140.6h0M208 129.2h0M199.9 150.2h0M209.7 145.8h0M207.6 137.5h0M201.3 138.2h0"/>
<path stroke="#78b8d8" stroke-width="1.3" stroke-linecap="round" fill="none" d="M185.8 152.2h0M185.2 146.6h0M182.9 161.3h0M182.1 148.1h0M184.1 150.4h0M185.6 150.7h0"/>
<path stroke="#98c8d8" stroke-width="1.3" stroke-linecap="round" fill="none" d="M185.8 153.9h0M184.1 155.7h0M185.9 151.6h0M193 162.5h0M182.2 160.4h0M182.9 157.8h0M192.6 154.5h0M186.3 148.8h0M187.3 152h0M183.1 157.9h0M190.8 158.7h0M186.2 143.6h0M181.9 148.3h0M186.5 154.6h0M189.2 157.9h0M189.8 157.3h0M187.9 151.7h0M192.8 155.4h0M187.3 153.6h0M185.1 153.8h0M192.2 144.7h0M188.7 145.3h0M189.6 146.7h0M190.3 144h0M192.1 147.2h0"/>
<path stroke="#a8d8e8" stroke-width="1.3" stroke-linecap="round" fill="none" d="M192.5 160.6h0M186.4 129.5h0M184.1 132.9h0M194.2 149.3h0M190.1 161.8h0M190 119.8h0M186 159.5h0"/>
<path stroke="#5898b8" stroke-width="1.3" stroke-linecap="round" fill="none" d="M187.2 148.1h0M184.5 146.1h0M192 154.3h0M188.6 160.3h0M184.6 161.5h0M184.5 152.4h0M193 149.8h0M184.9 148h0M184.4 145.1h0M184.4 151.9h0M188.8 145h0"/>
<path stroke="#f8b8b8" stroke-width="1.3" stroke-linecap="round" fill="none" d="M212.9 128.4h0"/>
<path stroke="#78a8c8" stroke-width="1.3" stroke-linecap="round" fill="none" d="M193.5 155h0M182.1 146.5h0M182.3 161.1h0M184.6 145.3h0M184 152h0M185.1 155h0M186.2 144.9h0M191.8 149.7h0M184.1 151.8h0M182.3 145.1h0M186.3 143.8h0M191 147.3h0M189.9 146.6h0"/>
<path stroke="#4888b8" stroke-width="1.3" stroke-linecap="round" fill="none" d="M193.1 149.6h0"/>
<path stroke="#98b8d8" stroke-width="1.3" stroke-linecap="round" fill="none" d="M185.7 145.4h0M193.4 156.5h0M185.5 148.3h0M190 146.1h0"/>
<path stroke="#58a8c8" stroke-width="1.3" stroke-linecap="round" fill="none" d="M183.4 144.9h0M187 150h0M190.2 145.6h0"/>
<path stroke="#5898c8" stroke-width="1.3" stroke-linecap="round" fill="none" d="M189.1 144.5h0M191.6 158.5h0M190.8 160.9h0"/>
<path d="M174.2 109.2V166H228.7" fill="none" stroke="#222" stroke-width="1.1"/>
<path d="M186.5 166v2.3" stroke="#222" stroke-width="0.9"/>
<text x="186.5" y="178.1" font-size="6.4" text-anchor="middle" fill="#222">−50</text>
<path d="M201.8 166v2.3" stroke="#222" stroke-width="0.9"/>
<text x="201.8" y="178.1" font-size="6.4" text-anchor="middle" fill="#222">0</text>
<path d="M218.8 166v2.3" stroke="#222" stroke-width="0.9"/>
<text x="218.8" y="178.1" font-size="6.4" text-anchor="middle" fill="#222">50</text>
<path d="M174.2 120.8h-2.3" stroke="#222" stroke-width="0.9"/>
<text x="168.3" y="123.1" font-size="6.4" text-anchor="end" fill="#222">50</text>
<path d="M174.2 137.7h-2.3" stroke="#222" stroke-width="0.9"/>
<text x="168.3" y="140" font-size="6.4" text-anchor="end" fill="#222">0</text>
<path d="M174.2 154.6h-2.3" stroke="#222" stroke-width="0.9"/>
<text x="168.3" y="156.9" font-size="6.4" text-anchor="end" fill="#222">−50</text>
<text x="201.4" y="104.8" font-size="6.6" text-anchor="middle" fill="#222">Lysosomal area</text>
<defs><linearGradient id="cb2" x1="0" x2="0" y1="0" y2="1"><stop offset="0" stop-color="#6e4646"/><stop offset="0.5" stop-color="#4a4a4a"/><stop offset="1" stop-color="#34505c"/></linearGradient></defs>
<rect x="223.8" y="113" width="2.6" height="25" fill="url(#cb2)"/>
<path d="M226.4 115h2.4" stroke="#222" stroke-width="0.8"/>
<text x="231.6" y="117.3" font-size="6.4" fill="#222">2.5</text>
<path d="M226.4 126.6h2.4" stroke="#222" stroke-width="0.8"/>
<text x="231.6" y="128.9" font-size="6.4" fill="#222">0.0</text>
<path d="M226.4 138h2.4" stroke="#222" stroke-width="0.8"/>
<text x="231.6" y="140.3" font-size="6.4" fill="#222">−2.5</text>
<path d="M286.7 111.1L290.9 110.8L294.5 111.5L297.8 112.8L296.4 116.5L294.5 122.3L291.9 127.4L289.3 132.8L287 136.5L285.1 138.5L282.8 137.8L280.2 135.8L277.9 132.8L275.7 129.4L274.7 126.3L275.7 122.3L277.9 118.9L280.5 115.9L283.4 113.2Z" fill="#f4bcb4"/>
<path d="M277.9 132.8L275.3 131.4L272.4 134.1L270.4 139.2L270.1 143.6L271.1 147.6L273.1 151L275.7 152.4L278.6 151L281.2 148.3L282.8 144.9L283.8 140.9L282.8 138.2Z" fill="#f1aaa0"/>
<path d="M277.3 148L280.5 147.3L282.5 150L282.2 154.4L279.6 155.1L277.3 152.7Z" fill="#f3b6ad"/>
<path d="M275 154.4L277.9 153.7L279.6 156.4L278.9 161.2L276.9 162.8L274.7 161.2Z" fill="#f1a69c"/>
<path d="M292.6 157.8L296.4 156.8L299.1 158.8L298.4 162.8L294.8 164.2L292.2 161.8Z" fill="#f4ddd9"/>
<path d="M297.8 112.8L299.7 111.8L303.9 111.5L308.8 112.2L312.4 113.5L314.3 116.5L316.6 122.3L318.6 130.1L319.7 137.5L318.9 144.3L316.6 150L313 156.1L308.8 159.8L302.9 161.2L298.4 160.5L294.5 159.8L291.9 158.5L289.9 156.4L288.3 153L287.4 149L285.7 144.9L285.7 140.2L288.7 134.1L291.2 128L293.9 122.3L295.8 116.5Z" fill="#cadde8"/>
<path d="M282.2 155.1L286.1 153.7L289.3 155.1L290.3 158.5L289.3 162.5L286.1 163.9L282.8 162.8L281.5 159.1Z" fill="#f6cdc6"/>
<path d="M282.8 151L285.1 147.6L287 148.3L288 152.4L286.1 153.7L282.8 153Z" fill="#f4e2e0"/>
<path d="M281.5 138.9L285.7 138.9L286.4 147.6L282.2 148.3Z" fill="#f1edee"/>
<path stroke="#f8b8a8" stroke-width="1.3" stroke-linecap="round" fill="none" d="M292.3 134.9h0M291 121.3h0M280.2 141.1h0M284 155.4h0M276.6 156.7h0M284.9 124.9h0M288.7 141.3h0M283.3 142.6h0M286.6 134.8h0M280.7 127.9h0M282.6 135.1h0M274.8 142.9h0M289 135h0M277.5 122.6h0M276.9 126h0M278.8 151.8h0M289.4 128.9h0M295.1 162.1h0M271.8 142.7h0M279.8 134.5h0M289 160.4h0M280.8 127.2h0M296.1 157.6h0M275.3 139.8h0M287.1 122.9h0M278.5 159h0M272.1 134.5h0M284.6 112.6h0M284.8 118h0M289.1 125.5h0M276.6 143.3h0M275.7 133.4h0M283.2 138.4h0M283.6 136.2h0M294.9 138.4h0M280.3 152.6h0M286.9 148.8h0M277.5 134.1h0M288.3 128.9h0M277.3 147.5h0M279.2 145.2h0M279.5 136.9h0M296.1 120.2h0M292.4 149h0M277 134.8h0M289.1 158.4h0M271.9 141.5h0M296.5 141.6h0M293.7 150.9h0M276.5 145.5h0M272.1 148.7h0M290.1 133.2h0M296.9 132.6h0M277.7 122.8h0M281.4 151.9h0M285.2 132h0M282.4 119.5h0M276.8 157h0M277.2 148.4h0M273.6 141.5h0M284.6 133.2h0M281.6 154.6h0M296 154.8h0M276.3 136.6h0M284.5 113.1h0M290.1 122.5h0M292.8 141.3h0M296 141.6h0M278.4 147h0M273.3 133.5h0M280.5 132h0M296.6 114.6h0M287.5 157h0M279.1 148.4h0M292.7 111.3h0M270.8 139.8h0M284.5 158.6h0M274.8 145.5h0M281 129.8h0M280.9 119h0M271 143.5h0M295.4 112.8h0M290.2 140.1h0M280.8 117.9h0M297.5 129.6h0M290.4 142h0M278.4 135.2h0M294 152.7h0M289.8 123.4h0M278.9 145h0M278.9 135.6h0M281.4 123.9h0M294.3 140h0M286.3 132.6h0M294.9 139.5h0M288.3 161h0M277 143.3h0M271.9 145.2h0M294.8 121.7h0M295.3 160h0M283.9 136.9h0M275.5 134.5h0M277.6 133.2h0M291.2 129h0M287.6 112.1h0M283.5 140.5h0"/>
<path stroke="#88b8d8" stroke-width="1.3" stroke-linecap="round" fill="none" d="M317.1 138.5h0M309.9 155.3h0M298.6 117.5h0M307.4 113.6h0M309.9 114h0M313.4 133.6h0M312.3 117.9h0M302 128.6h0M314.1 120.2h0M318.4 138.8h0M313.2 146h0M313.3 115.1h0M318.6 136h0M298.1 137.2h0M315.2 120.9h0M307.4 139h0M307.2 151.7h0M316.5 140.9h0M297.1 133.5h0M316.9 146.3h0M312.9 119.5h0M312.4 131.9h0M316.5 141.1h0M298.6 149.2h0M297.8 160.2h0M304.9 113.5h0M297.5 130.1h0M305.1 141.9h0M301.6 116h0M300.6 126.4h0M307.5 131.6h0M307.3 122h0M318.8 136.1h0M312.1 146.6h0M313.5 117.7h0M307.3 135h0M308.7 149.7h0M309.7 135.7h0M306.7 151.3h0M312 120.9h0M316.1 148.6h0M304.7 130.6h0M307.5 112.1h0M309.6 146.3h0M311.2 117.4h0M299.1 131.3h0M316.6 127.8h0M311.2 124.5h0M306.3 154.1h0M301.6 124.1h0M307.5 117.4h0M306.4 151.9h0M306.9 134h0M314.8 134.6h0M299.5 116.9h0M304.5 156.6h0M316.9 146.2h0M315.9 120.7h0M318.1 131.2h0M299.7 146.4h0M304.9 133.6h0M315.7 124.6h0M316.3 127.2h0M301.5 129.6h0M304.5 119.9h0M318.2 132.5h0M316.5 123.3h0M302.8 147.6h0M302.3 117.2h0M302.5 139.6h0M316.6 137.7h0M309.5 151.7h0M306.3 133h0M317.2 135.1h0M304.6 159.1h0M305.6 153.2h0M308.6 158h0M311.7 113h0M315.3 125.1h0M297 154.6h0M310.1 125.3h0M307.1 126.1h0M301.6 159.5h0M303 130.1h0M310 117.6h0M299.9 150.5h0M304.4 159h0M302.3 158.1h0M299.3 133h0M315.4 130.6h0M306.6 120.2h0M313.4 118.1h0M312.1 118.1h0M311.4 144.8h0M308 113.9h0M310.7 121.4h0M300.6 146.1h0M303.5 150.6h0M315.1 119.2h0M300 126.4h0M314.3 117.3h0M310 123.4h0M313 141.6h0M302.2 115.6h0M282.9 147.6h0"/>
<path stroke="#f8d8d8" stroke-width="1.3" stroke-linecap="round" fill="none" d="M295.3 131.8h0M297.2 161.1h0M296.2 129.7h0M285.6 152h0M280.5 142.2h0M305.8 133.8h0M290 121h0M285.8 115h0M295.8 127.4h0M293.1 122.4h0M296 140.8h0M297.1 143.1h0M303.5 134.2h0M292.3 137.6h0M296.7 113.1h0M288.7 149.5h0M298 161.1h0M288.4 138h0M306.5 126.2h0M296.5 122.5h0M289.8 146.1h0M312.4 128.9h0M288.2 137.5h0M289.6 144.5h0M285.6 137.4h0M292.7 160.7h0M293.3 123.2h0M286.4 140.6h0M292.4 142.9h0M290.4 138.5h0M286.5 150.9h0M288.3 133.2h0M285.7 124.9h0M294.5 133.5h0M288.9 147.7h0M286.1 163.6h0M314.1 125.3h0M292.7 134.8h0M288.4 159h0M287 125.8h0M284.3 126.3h0M291 157.6h0M293.8 145.2h0M293.4 147.4h0M294.4 144.8h0M295.8 123.4h0M290.3 133.3h0M292.2 130.9h0M307.9 159.3h0M296.5 154.2h0M294.6 160.4h0M289.5 156.9h0M288.9 149.2h0M288.7 160.9h0M290.6 135.2h0M293.9 132.1h0M288.6 114.9h0M291.8 129h0M287.1 122.7h0M294 147.4h0M287.1 141h0M295.3 147.7h0M285.1 162.7h0M294.9 143.4h0M290.3 135h0M291.4 154.9h0M296.2 136.8h0M287.7 145.8h0M294.7 163.7h0M292.3 135.2h0M286.8 159.2h0M290.7 137.8h0M293.6 128.8h0M296.7 128.7h0M294.7 115.5h0M304.7 134.6h0M295.2 149.9h0M286 127.8h0M287.3 122.1h0M297.3 161.7h0M272.7 138.8h0M293.3 161.9h0M312.7 132.1h0M287.7 111.4h0M296.5 139.4h0M302.7 131.7h0M287.9 155.5h0M295.4 118.7h0M293.6 138.4h0M296.4 123.7h0M290.5 114.6h0M292.5 149.8h0M285.1 111.9h0M285.9 125.4h0M284.5 158h0M292.9 127.6h0M294 149.4h0M291.7 135.3h0M296.7 146h0M296.8 159.2h0M288.3 147.6h0M291.7 120h0M297.2 120h0M287.3 137.6h0M297.7 159.1h0M291.3 119.9h0M291.6 133.1h0M286.6 139.9h0M288.7 114.5h0M292.9 120.3h0M295.9 129.2h0M288.8 151.2h0M292.3 111.4h0M295.7 157.1h0M295.7 142.1h0M304.7 131.7h0M291.9 143.8h0M304.8 144.4h0M283.6 133.8h0M302.9 123h0M289.1 125.9h0M296.1 158.3h0M295.8 148.3h0M290 156.2h0M288 151.2h0M302.6 143.6h0M284.5 156.5h0M296.4 142.5h0M285.2 156.6h0M295.6 158.6h0M287.2 111.5h0M287.7 150.2h0M288.8 126.1h0M295.5 144.3h0M289.9 119h0M290.6 133.8h0M292.9 139.3h0M277.3 151.7h0M296 163.3h0M293.8 112.7h0M301 120h0M307.4 133.8h0M287.2 155h0M295.4 112.9h0M290.8 126.5h0M297.5 128.4h0M295.5 137.7h0M287.1 131.9h0M290.5 123.7h0M285.3 116h0M291.3 125.3h0M293.2 146.6h0M286.3 117.6h0M292.2 128h0M298 155.1h0M284.9 143.5h0M285.3 138.9h0M286.5 145.5h0"/>
<path stroke="#f8c8c8" stroke-width="1.3" stroke-linecap="round" fill="none" d="M279 136.3h0M280 151.7h0M291.9 118.3h0M293.3 149.4h0M274.7 160.7h0M279.5 124.7h0M304.8 132.5h0M292.7 118.4h0M285.2 120.9h0M289 133.4h0M296.6 124.6h0M297.1 141.4h0M287.7 130h0M286.1 114.6h0M282 124.3h0M291.7 144.1h0M288.3 158h0M296.7 125h0M287.9 127h0M273.8 151.3h0M290.5 140.8h0M294.8 142.9h0M297.1 151.4h0M280.7 130.2h0M278.9 126.8h0M287.5 126.7h0M290.2 151.5h0M294.6 129h0M294.6 157.9h0M288.7 150.5h0M287.9 148.9h0M289.7 152.4h0M296.3 163.2h0M287.5 147.5h0M294.9 152.5h0M299.4 137.2h0M286.2 145.6h0M286.6 121h0M285.8 122.6h0M295.2 114.4h0M287.4 135.4h0M296.4 146.6h0M286.9 112.3h0M286.1 150.1h0M286.1 131.2h0M288.5 158.4h0M287.4 158h0M282.9 134.8h0M287.6 139.1h0M274.9 134h0M291.9 139.1h0M281.5 115.1h0M292 139.5h0M294 143.8h0M286.7 129.7h0M287.1 160.1h0M284.8 137.5h0M297.1 113.7h0M283.9 116.7h0M294.9 141.9h0M285.3 134.1h0M283.7 130.5h0M286.2 143.2h0M293.9 127.1h0M286.3 112h0M292 126.9h0M304 141.3h0M281.3 121.8h0M290.6 113.9h0M287.7 132.8h0M300.3 128.6h0M292.5 111.2h0M287.7 151.2h0M284.8 154.3h0M294.6 148.4h0M290.1 128.8h0M292.9 161.8h0M276.7 160h0M285.2 131.7h0M287.5 122.6h0M286.7 141.2h0M295.5 135.6h0M290.2 117.8h0M276.4 144.1h0M284.8 123h0M296.6 124.3h0M288.8 118.2h0M290 136.1h0M288.7 123.4h0M296.4 155.4h0M293.4 123.3h0M297.8 136.8h0M294.9 138.7h0M291.7 133h0M291.2 141.9h0M285.3 134.6h0M296.1 141.2h0M296.5 121.5h0M297.1 153.7h0M286.3 153h0M278.9 123.9h0M296.9 136.2h0M294.3 122.3h0M287.8 130.5h0M291.1 155.9h0M293 134.1h0M272.5 148.6h0M295.6 148.1h0M296.6 128.2h0M277.2 151.6h0M293.4 129.5h0M291.9 124h0M288 121.6h0M275.4 128.5h0M292.5 132.1h0M285.7 145.1h0M286.3 145h0M284.3 144.8h0"/>
<path stroke="#c8d8e8" stroke-width="1.3" stroke-linecap="round" fill="none" d="M301.6 120.8h0M312.7 126.1h0M286.1 116h0M308.7 147.5h0M301 148h0M313.1 130.8h0M301.9 142.3h0M300.4 136.9h0M308.2 122h0M289.3 115.8h0M301.5 139.1h0M308.5 154.1h0M301.9 158.9h0M310.5 144h0M297.9 121.4h0M310.7 141.2h0M300.1 152.6h0M310.8 138.2h0M306.1 131.2h0M313.4 147.8h0M312.4 152.9h0M312 130.7h0M286.4 113.9h0M298.7 155.3h0M304.2 155.7h0M302 126.8h0M308.7 123.5h0M309.5 135.5h0M310.1 121.3h0M310.1 151.8h0M301.1 135.3h0M308.9 124.6h0M298.4 119.9h0M314 151.5h0M314.9 143h0M304.6 151.6h0M298.2 119.3h0M304 151.3h0M310.9 156.7h0M298.1 156.3h0M317.8 142.3h0M299.4 152.2h0M305 155h0M305.7 154.6h0M301.6 144.2h0M313.9 130.4h0M299.8 131.8h0M307.1 147.8h0M310.5 156.1h0M314 124.5h0M304.7 139.7h0M311.9 118.6h0M297.6 135.1h0M298.5 139.5h0M310.3 140.4h0M309.3 140.5h0M308.1 143.9h0M304.1 134.9h0M309 153h0M301.5 135.1h0M298.9 144.8h0M295.5 153.4h0M308.6 135.7h0M314.9 132.3h0M286.7 113.6h0M308.7 134.3h0M314.7 139.3h0M298.3 134.7h0M299.1 112.1h0M312.8 139h0M302.1 159h0M298.5 151.8h0M308.7 125.1h0M298.1 146.1h0M300.8 119h0M300.8 131.2h0M309.2 130.8h0M302.4 120h0M306.3 122.3h0M298.6 156.7h0M287.7 138.4h0M310 150.4h0M300.9 111.7h0M312.8 127h0M295.5 145.7h0M300 115.2h0M304.4 128.3h0M300.9 124.1h0M292.6 120.1h0M300.6 129.3h0M310.6 119.5h0M311.2 152.8h0M308.6 138.4h0M300.1 150.7h0M306 151.7h0M298.5 151.2h0M309.1 148.2h0M307.6 131.4h0M310.2 131.9h0M300.6 150.1h0M298.3 133.6h0M300 123.8h0M309.7 150.3h0M310 158.6h0M303.2 142h0M300.9 135.3h0M301.2 141.3h0M308.9 120.7h0M303.9 147.8h0M284.2 128h0M302 117.5h0M304.8 154.5h0M297.1 155.5h0M300.3 138.5h0M310.6 135.1h0M294.2 149.3h0M311.8 128.8h0M307.5 147.8h0M307.4 158.8h0M303.1 121.5h0M308.5 155.6h0M297.8 147.2h0M303.2 143.2h0M313.3 153.4h0M298.3 152.4h0M311.4 131.5h0M312.2 126.3h0M301.3 143.3h0M309.8 128.2h0M305.6 141.4h0M304 118.1h0M306.1 134.8h0M298.4 126.6h0M314.2 134.3h0M305.2 136.7h0M313.7 129.5h0M311.6 139h0M307.3 139.9h0M312.8 136.9h0M315.6 151.6h0M298 140.5h0M299.8 132.1h0M308.1 124.1h0M309.6 147.9h0M305.1 133.3h0M300.3 116.5h0M302.4 161h0M298.4 140.7h0M318.7 133.9h0M307.7 142.4h0M302.9 140.9h0M298.1 138.5h0M303.9 158h0M293.6 113.2h0M298.3 127h0M311.9 129.7h0M302.3 150.7h0M301.9 159.7h0M298.5 160.4h0M312 125.1h0M305.3 159.6h0M312.6 115.7h0M303.3 124.9h0M301.1 137h0M297.6 132.2h0M309.7 155.9h0M309.3 142.8h0M295.2 138.1h0M306.4 141.5h0M290.9 138.7h0M309.5 139.3h0M311 128.1h0M302.3 125.5h0M306 152.6h0M313.5 141.2h0M302.1 160.6h0M308 159.5h0M301.7 160h0M306.8 139.4h0M300.3 150.6h0M305.1 125.4h0M298.1 149h0M308.6 130.4h0M312.9 132.5h0M309.8 150.7h0"/>
<path stroke="#f89898" stroke-width="1.3" stroke-linecap="round" fill="none" d="M274.5 147.9h0M276.4 141.5h0M281 116.1h0M283.9 162h0M273.9 132.6h0M281 124.5h0M284.7 115h0M279.3 137.1h0M281.6 138.1h0M279.8 133.1h0M277 140.3h0M279.9 132.4h0M278.8 117.7h0M277.7 151.8h0M283.3 158.4h0M281.3 128.7h0M273.3 145.1h0M284.2 140.3h0"/>
<path stroke="#b8d8e8" stroke-width="1.3" stroke-linecap="round" fill="none" d="M303.2 131.5h0M316.5 138.7h0M314.7 131h0M301.4 149.4h0M314.8 143.8h0M302 139.9h0M306.3 155.4h0M305.9 135.9h0M310.5 155.1h0M317.8 137.2h0M299.6 154h0M307.6 142h0M311.2 141.8h0M304.9 122.3h0M301.6 123.7h0M318 141.4h0M300.2 141h0M299.2 129.7h0M297.4 130.1h0M308.2 153.3h0M304.7 147.7h0M309.4 154.4h0M302.8 151.5h0M297.4 135.9h0M306.5 151.4h0M310.1 154.1h0M301.2 148.1h0M299.8 126.1h0M288.2 138.8h0M298.5 115.1h0M299.3 115.3h0M312.9 145.1h0M305.7 154.6h0M317.3 128.6h0M308.3 150.8h0M297 129.5h0M304.5 135.4h0M298.2 134h0M312.7 121.2h0M306.2 150.7h0M306.3 150.7h0M314.1 152.3h0M304 112.4h0M301.6 112.5h0M306.1 146.7h0M311 142.8h0M310.4 124.4h0M313.2 122.6h0M297.6 115.2h0M302.2 115.3h0M302.4 148.8h0M296.3 148.9h0M288.7 147.5h0M308.1 138.1h0M301 132.8h0M299.3 150h0M298.5 157.9h0M313.4 121.9h0M300.2 127.5h0M301.3 131h0M307.7 127.4h0M310.9 151.7h0M312.3 120.5h0M304.4 120.9h0M311 155h0M314 122.7h0M310.5 151.8h0M318.2 129.5h0M307 147.3h0M309.2 129.4h0M294.1 158.9h0M303.5 128.1h0M309 150.5h0M301.9 151.8h0M301.3 139h0M312.4 143.4h0M304.3 126.8h0M315.6 123.4h0M307.3 139.2h0M298.3 159.3h0M300.2 114.2h0M313.6 122.7h0M302.5 111.7h0M304.5 112h0M300.2 127h0M300.7 123h0M307.6 122.6h0M292.5 157.8h0M302 144.9h0M309.4 145.8h0M312.5 143.4h0M308.1 136.9h0M310.2 119h0M304.5 139.1h0M309.7 149.6h0M315.3 125.7h0M305.4 114.7h0M313.2 121.1h0M305.5 132h0M303.7 158.1h0M304.9 118.4h0M307.2 151.8h0M297.5 161.6h0M305.6 152.8h0M313.4 116.3h0M301 138.7h0M318.6 137h0M302.8 130.1h0M304.6 134.6h0M301 134.9h0M306.5 130.6h0M319.6 138h0M307.1 155.3h0M301.1 138.8h0M310.8 120.1h0M297.3 146.6h0M310.9 149.9h0M318.2 139.8h0M305.1 147.2h0M313 135.9h0M303.7 151.1h0M311.5 141.9h0M310 149h0M317.7 139h0M312.8 114.9h0M295.5 126.6h0M304.1 159.8h0M308.2 155.9h0M297.9 124.3h0M306.5 155.5h0M300 113.7h0M298.3 124.9h0M300.6 134.5h0M295.9 147.8h0M293.5 128.7h0M309.4 136.8h0M299.7 147.5h0M302.1 158.8h0M316.4 124.7h0M305 124.5h0M300.1 128.3h0M298.8 147h0M302 114.5h0M305.6 152.7h0M304.7 130.6h0M314.3 150.2h0M312.8 149.8h0M307.8 153.2h0M309.2 121.2h0M311.4 136h0M312.4 155.7h0M313 147.2h0M306.3 112.7h0M307.7 144.8h0M308.9 153.2h0M313 119.7h0M310.6 134.3h0M308.1 141.1h0M301.5 114.5h0M312.6 150.3h0M314.3 138.6h0M297.4 148.2h0M305.8 137.9h0M308.9 124.9h0M318.6 133.7h0M306.1 116.1h0M302.1 156.3h0M299.4 157.5h0M297.8 160.6h0M312.4 139h0M316.6 144.9h0M313.1 119h0M305 145.1h0M298.1 151.3h0M304.3 133.5h0M308.4 126.5h0M314.8 126.9h0M296.1 161h0M299 158.3h0M300.6 140.4h0M300.7 131.9h0M297.9 160.2h0M307.7 131.9h0M299.2 135.7h0M308 142.9h0M313.1 147.7h0M302.4 120.7h0M311 144h0M309.9 121.5h0M315.1 150.7h0M292.5 120.4h0"/>
<path stroke="#e88878" stroke-width="1.3" stroke-linecap="round" fill="none" d="M270.4 139.1h0M281.3 135.2h0M281.1 122.3h0M281.7 125.2h0M276.4 143.5h0M293.9 153.3h0M278.4 128.5h0M289.4 145h0M284.3 127.8h0M282.5 120.1h0M273.1 151.3h0M280.6 142h0M278.8 156.1h0M284.2 132.6h0M279.7 130.5h0M280 129.2h0M270.6 139.8h0M277.8 119.5h0M281.8 124.7h0M277.9 133.8h0M275.9 160h0M279.2 136.9h0M273.5 140.9h0M277.5 159.5h0M273.7 139.5h0M278.9 135.9h0M283 140.9h0M278.9 137.2h0M284.4 128.8h0M281.3 119.1h0M283.4 155.3h0M284 160.8h0M279.4 135.9h0M275.8 150.8h0M283.7 144.1h0"/>
<path stroke="#f8c8b8" stroke-width="1.3" stroke-linecap="round" fill="none" d="M295.1 128.4h0M280.7 142.9h0M293 160.9h0M279.3 144.3h0M288.8 115.6h0M290.3 121h0M282.7 115h0M284.4 125.4h0M286.3 142.9h0M288.6 155h0M297.2 135.6h0M291.7 115.5h0M285.3 161h0M284.3 129.2h0M283.6 134.7h0M278.1 150.4h0M295.3 123.2h0M292.7 113.2h0M288 155.7h0M288.4 149.2h0M285.8 154.2h0M288.1 123.2h0M289.6 144.5h0M290.3 146.1h0M290.2 139.1h0M277.8 135.4h0M288.2 140.2h0M287.9 147.8h0M279.7 145.2h0M294.8 151.9h0M287.4 156.6h0M288.1 121.7h0M282.7 152.4h0M288 113h0M296.9 138.1h0M290.9 142.2h0M276.4 161.5h0M290 115.7h0M270.7 141.8h0M290.2 132.5h0M296.5 135.3h0M277.2 143.4h0M288.8 116.1h0M277.5 121.8h0M286.3 153.8h0M276.4 159.5h0M296 126.2h0M287.1 152h0M289.6 149.5h0M285.2 115.3h0M283.3 152.1h0M285.8 119h0M288.7 114.7h0M291.7 119h0M282.6 130.3h0M292.3 118.1h0M288.3 140.6h0M277.8 151.9h0M291.9 120.1h0M273.2 148.4h0M274.5 144.5h0M295.4 119.8h0M277.7 150.8h0M289.9 143.1h0M279.1 136.2h0M293.6 139.7h0M288.2 150.5h0M278.7 159.5h0M287 128.2h0M291.4 148.6h0M295.8 120.6h0M273.8 133.3h0M294.9 116.9h0M274.3 135.2h0M295.1 137.1h0M286.5 141.1h0M285 133.6h0M282.7 130h0M290.8 125.6h0M282.6 122.5h0M295.4 149.4h0M287.2 144.7h0M297.1 157.5h0M296.8 114.1h0M296.2 161.5h0M282.7 121.9h0M287.5 114.4h0M296.2 149.3h0M286 126.9h0M288.7 121.1h0M280.9 126.1h0M294.2 141.8h0M290.1 157.6h0M279 119h0M297.6 152.3h0M291.1 142h0M293 113.4h0M296.1 140.7h0M288.6 150.3h0M294.5 122.6h0M289.4 143.5h0M275.6 159.4h0M294 132.7h0M280.5 135.7h0M290.3 139.4h0M284.9 141.1h0"/>
<path stroke="#f8d8c8" stroke-width="1.3" stroke-linecap="round" fill="none" d="M284.4 160.8h0M297.6 136.8h0M295.7 163.2h0M296.9 158.1h0M291 156.6h0M279.8 152.3h0M294.2 152.4h0M285.7 150.5h0M287.2 128.7h0M284.9 115.5h0M295.6 154.2h0M286.9 141.7h0M293.9 141.6h0M275.5 160.3h0M289.7 118h0M290.3 128.2h0M278.6 128.9h0M285.3 136.7h0M295.7 115.1h0M296.9 118.5h0M296.8 132.9h0M297 145.9h0M285.8 144.9h0M284.3 155.4h0M296.3 154.5h0M285.1 122.5h0M292.7 138.5h0M297.8 162.9h0M291.8 118.5h0M281.9 144.7h0M290.9 143.2h0M294.2 112.3h0M279.7 129.5h0M297.2 143.7h0M277.1 141.3h0M285.6 114.1h0M285.5 125.2h0M288.5 154.8h0M291.1 134.6h0M296.5 119.5h0M290.3 151.2h0M306 152h0M283.1 120h0M293.5 134.1h0M296.2 145.1h0M291.5 112.1h0M291.9 130.6h0M312.7 130.2h0M285.1 119.1h0M284.1 132.3h0M290.7 146h0M286.3 119.9h0M289.1 149.6h0M277.8 156.3h0M292.3 118.4h0M289.3 147.4h0M285.7 163.1h0M296.4 143.5h0M285.3 114.6h0M289 113.2h0M289.4 116.2h0M290.9 115.7h0M292.9 155.8h0M292.5 140.1h0M292.9 120.5h0M285.5 132.3h0M277.9 125.9h0M293.5 123.4h0M288 137.9h0M287.1 134.5h0M289.4 152.4h0M288.5 144.4h0M285.4 144.2h0M284.8 141.6h0"/>
<path stroke="#d8e8e8" stroke-width="1.3" stroke-linecap="round" fill="none" d="M309.4 142.3h0M309.2 150h0M298 117.8h0M301.2 142.7h0M307 143.2h0M293.6 149h0M301.5 122.9h0M302.7 124.5h0M297.8 122.6h0M312.8 152.3h0M309.9 157.8h0M298.5 156.5h0M302.4 130.6h0M300.8 158.3h0M309.2 135.5h0M310.5 135.3h0M311 143.1h0M307 146.8h0M297.3 133.8h0M312.1 131.3h0M312.3 153.7h0M302.8 147.7h0M308.4 146.8h0M285.3 113.6h0M300.7 151.7h0M309.1 124.6h0M297.4 151.7h0M313.5 153.4h0M305.2 133.8h0M308.5 135.3h0M298.4 141.4h0M292.3 118.7h0M296.6 119.9h0M306 150.5h0M286.2 123.7h0M294.8 151.5h0M313.5 154.5h0M310 137.6h0M304.6 139h0M303.9 151.1h0M304.2 131.6h0M286.1 137.7h0M299.7 136.1h0M298.8 134.4h0M307.5 150h0M303.4 161.5h0M304.2 139.1h0M313 138.5h0M308.9 142.9h0M301.3 144.4h0M297.6 112.4h0M314 147.4h0M302.9 137.7h0M306 136.5h0M299.2 124.6h0M301.6 142.8h0M315.4 128.2h0M314.7 152.6h0M298.5 112.4h0M297.4 146.1h0M311.8 150.9h0M302.4 148.6h0M313.8 153.4h0M290 147.4h0M284.4 121.6h0M305 124.9h0M310.4 131.7h0M313.3 132.2h0M304.2 156.6h0M298.6 150h0M312.6 143.5h0M303.9 146.6h0M314.5 145.5h0M308.5 130.5h0M293.9 124.1h0M306.5 138.3h0M298.6 160.9h0M301.1 145.4h0M306.3 135.1h0M287.3 160.1h0M312.9 139.4h0M314.3 134.6h0M301.3 147.9h0M299.5 149.9h0M294.9 149.3h0M310.5 149.4h0M309.2 140.1h0M309.4 137.1h0M300 140.8h0M301.8 158.1h0M295.6 119.9h0M300.9 111.8h0M286.5 144.8h0M310.5 136.2h0M315 135.3h0M300.8 124.4h0M312.2 122.9h0M301.2 157.6h0M309.8 129.4h0M300.7 120h0M299.6 115.7h0M305.1 119.7h0M310.1 133.2h0M300.1 130.6h0M301.6 157.9h0M298.6 124.2h0M300.3 116.3h0M302.2 145.5h0M310.5 148.3h0M287 138.5h0M306.1 137.8h0M313.4 123.2h0M313.8 151.4h0M312 126.8h0M304.4 130.1h0M287.5 154.6h0M286.2 112.5h0M292.1 119.1h0M291.6 136.9h0M289.9 133.3h0M307.6 138.9h0M304.8 149.8h0M291 114.8h0M293.5 118.7h0M314.5 142.5h0M307.4 144.6h0M309.1 122.3h0M298.1 134.5h0M304.5 144.5h0M302.4 126.1h0M304.2 155.1h0M307.6 128.7h0M310.7 129.9h0M313.3 139.2h0M304.5 158.6h0M305.1 151.4h0M285.3 121.3h0M307.1 137.6h0M309.4 117.5h0M307.9 132h0M288.8 137h0M291.9 115.9h0M305.8 157.3h0M285 155.6h0M298.4 126.9h0M305.3 133.9h0M304.5 123.8h0M311.9 154.1h0M299.6 135.7h0M308.4 129.3h0M296.8 122.7h0M303.3 127.5h0M307.9 152h0M299.4 158.6h0M300.5 115h0M308.3 136.4h0M309.5 157.6h0M299.2 132.4h0"/>
<path stroke="#e8e8e8" stroke-width="1.3" stroke-linecap="round" fill="none" d="M312.8 143.7h0M298.6 139.7h0M299.1 157.4h0M287.9 127.2h0M299.8 131.2h0M286.3 127.6h0M312 151.8h0M296.8 155.9h0M309.1 141.8h0M303.7 145.7h0M303.6 133.2h0M305.5 122.6h0M305 133.6h0M306.7 126.1h0M299 114.8h0M307.1 146.9h0M303.8 125h0M289 131.9h0M296.1 150.2h0M298.8 146.4h0M293.5 142.2h0M306.6 127.6h0M305.9 127.5h0M309.9 138.5h0M299.2 112.8h0M301.9 149.8h0M290.6 120.7h0M307.9 152.5h0M292.3 161.1h0M292.6 112.6h0M303.7 146h0M307.8 160.6h0M309.8 150.5h0M297.2 142.8h0M307.3 142.1h0M301.4 157.6h0M308.2 132.9h0M284.6 117.1h0M297.3 150.2h0M305.4 141.7h0M310.2 121.9h0M294.2 119.7h0M293.1 154.8h0M294.5 129.3h0M290.4 129.3h0M305.7 139.8h0M291.1 156.6h0M300.2 132.4h0M302.3 149.8h0M298.5 143.6h0M312.4 125.8h0M306.3 137.8h0M286.3 156.3h0M292.9 118.6h0M314.4 144.2h0M293.4 162.4h0M301.3 154.1h0M305.3 154.6h0M294.2 125h0M305.2 156.6h0M298.4 117.7h0M294.7 143.3h0M309.1 131.9h0M292.9 127.7h0M308.8 124.2h0M314.6 136.3h0M310 134.2h0M284.9 116.1h0M302.2 160.2h0M311.1 139h0M306.2 126.2h0M299.5 141.3h0M303 159.3h0M298.1 135.1h0M291.7 116.6h0M291.8 157.2h0M300.7 113.1h0M301.1 132.6h0M298.5 150.6h0M300.6 134.3h0M301.3 138.6h0M307.7 125.1h0M305.9 141.7h0M295.8 156.3h0M307.4 150.3h0M301.6 133.9h0M313.6 137.3h0M301.3 137.9h0M292.9 155.1h0M307.9 132.4h0M308.5 149.8h0M298.1 159.7h0M285.9 161.7h0M309.6 139.9h0M299.7 143h0M305 144.5h0M301.3 153.5h0M301.1 129.8h0M308.8 145.2h0M287.9 118.3h0M317.2 146.3h0M302.8 130.1h0M306.4 131.9h0M305 138.6h0M296.2 163.3h0M284.3 155.1h0M295.2 149.6h0M303.2 153.5h0M288.2 135.5h0M291.4 157.5h0M303.7 143.9h0M297.9 137.4h0M298.9 133.7h0M300.4 136.2h0M308.3 158.6h0M308.7 134.1h0M306.8 158h0M292.8 157.9h0M303.8 139h0M300.3 123.4h0M313.2 145h0M295 137.1h0M310.6 143.8h0M305.8 153.2h0M286.6 152h0M298.6 137.1h0M298.6 129.2h0M305.4 128.7h0M286.5 121.9h0M305.8 124.4h0M303.9 124.2h0M296.7 149.4h0M303.1 134.9h0M302.6 131.9h0M287.5 114.8h0M301.7 156.2h0M307 151.4h0M312.5 156.2h0M286.9 157.5h0M313.7 130.7h0M297.6 138.9h0"/>
<path stroke="#e89888" stroke-width="1.3" stroke-linecap="round" fill="none" d="M273.9 146.5h0M274.8 132.9h0M281.9 126.2h0M283.7 119.4h0M278.8 139.8h0M277.7 138.8h0M272.6 139.5h0M277.6 155.3h0M279.3 142.3h0M289.7 126.3h0M274.8 144.1h0M275.9 139.8h0M289.3 113.3h0M281.9 137.1h0M283.2 132.7h0M273.3 142.4h0M277.9 153.7h0M297 161.1h0M277.9 132.7h0M272.9 137.5h0M279.9 151.9h0M286.8 163.1h0M279.1 157.6h0M275.7 157.9h0M276.6 130h0M281.5 133h0M284.1 117h0M272.2 142.3h0M275.2 147.2h0M275.3 157.9h0M287.3 126.4h0M280.2 116.2h0M276.8 124.9h0M281.2 120.7h0M279.5 129.2h0M274.9 159.8h0M283.4 138.1h0M281 125.4h0M280.8 140.4h0M277.7 156.2h0M272.1 137.3h0M272.9 143h0M282.3 124.4h0M280.7 151.9h0M282.5 143.1h0M278.3 124.9h0M276.1 129.2h0M277.2 138.2h0M282.9 162.4h0M292.6 116.6h0M282 144.7h0M277.3 127.8h0M290.2 151.2h0M279.3 135.4h0M280.2 122.5h0M279.2 154.1h0M278 124.2h0M281.1 131.6h0M282.3 159.4h0M282.6 137.9h0M279.9 130.9h0M279.8 139.6h0M283.6 122.2h0M290.3 138.2h0M277.7 128.8h0M280.9 128.6h0M275.9 124.8h0M275.3 139.8h0M290.1 114.3h0M286.6 144.4h0M295.4 125.1h0M286.9 113.1h0M278.5 148.5h0M276.4 155.3h0M276.6 150h0M283 138h0M280.5 121.8h0M275.2 157.9h0M275.7 143h0M281.5 135.9h0M282.9 158h0M277.9 151.8h0M273.7 138.9h0M280.6 138.7h0M273.2 133.1h0M278.6 120.2h0M280.8 153.7h0M274 144.2h0M274 144.2h0M288 139.1h0M284 127.4h0M282.9 157.1h0M284.2 139.1h0M282.9 138.7h0"/>
<path stroke="#f8a8a8" stroke-width="1.3" stroke-linecap="round" fill="none" d="M275.7 151.2h0M279.9 155.3h0M273.4 134.5h0M293.9 154.8h0M276.5 139h0M273.8 140.2h0M289.4 127.2h0M279.2 153.2h0M286.1 139.3h0M292.6 150h0M287.8 144.7h0M279.6 133.9h0M279 123.2h0M277.2 124.2h0M277.3 122.8h0M293.8 125.4h0M270.2 143.8h0M276.5 158.9h0M276.2 135.6h0M272.4 147.1h0M279.6 150.4h0M285.7 143.9h0M278.1 131.1h0M274.9 125.5h0M280.8 138h0M280.2 117.1h0M287.6 140.8h0M279.9 117.3h0M278.5 145h0M284.3 128.5h0M273.2 139h0M276.4 160.4h0M281.1 140.8h0M272.7 135.9h0M270.3 142.2h0M283.3 124.6h0M289.6 125.5h0M276.6 137.4h0M282 116.3h0M288.7 144.6h0M282.9 113h0M292.8 132h0M274.7 137.8h0M283.1 115.1h0M273.5 149.9h0M272.9 142.8h0M276.3 148.8h0M281.2 122.3h0M273.5 148.6h0M280.8 130.9h0M289.2 135.5h0M288.8 131.5h0M277.3 142.3h0M271.3 139.3h0M276.9 157h0M286.7 141.7h0M290.2 128.6h0M287.7 128.8h0M282.5 122.9h0M296 153.5h0M273.8 141.4h0M277.4 131.7h0M272.1 138.8h0M288.7 112.5h0M276.3 139.8h0M279.9 135.9h0M286.6 122.1h0M273.4 148.4h0M291.7 130.6h0M275.2 140.5h0M273.9 144.2h0M271.9 142.2h0M279.1 155.3h0M280.4 151.7h0M275.5 136.4h0M284 136.5h0M275.9 157.5h0M295.9 143.3h0M273.3 144.3h0M270.5 143.7h0M277.9 141.8h0M278.2 144.8h0M281.1 137h0M278.3 141.4h0M280.4 155.2h0M279.2 121.1h0M279.1 130.3h0M279.5 137.2h0M280.4 140.6h0M272.2 148.8h0M283.5 156.8h0M278.6 147.9h0M280.9 134.2h0M295.2 162.9h0M286.8 151.3h0M275.2 137.7h0M272.1 138.9h0M278.7 134.2h0M296 134.5h0M293.7 152.9h0M280.6 122.1h0M284 143.9h0M282.1 142.2h0M283.6 142.6h0M284 140.9h0M283.9 138.8h0"/>
<path stroke="#f8b8b8" stroke-width="1.3" stroke-linecap="round" fill="none" d="M276.6 129.7h0M285.7 160.8h0M294.6 151.9h0M292.2 115.7h0M282.7 159h0M296.8 132h0M292 150.4h0M273.6 147.5h0M288.4 124.9h0M274 150.4h0M293.1 111.7h0M296.6 129h0M289.1 146.5h0M282.1 132.7h0M282.8 120.3h0M292.2 140.6h0M289.5 148.4h0M288.8 146.2h0M289.4 118.5h0M289.8 113.9h0M284.2 155.5h0M291.5 119.5h0M274.2 145.1h0M280.6 144.1h0M290.5 131h0M278.6 119.4h0M288.6 131.8h0M286.1 112.2h0M296.9 160.9h0M283.5 132.6h0M275.2 135.8h0M277.9 146.3h0M295 141.5h0M287.3 121.3h0M283.6 124.8h0M290.2 127.6h0M280.8 125.5h0M283 158.4h0M289.9 134.7h0M273.4 150.6h0M275.9 148.8h0M277.6 156h0M277.4 133.3h0M279.6 140.1h0M289.9 114.4h0M289.1 129.6h0M297.2 133.2h0M288.5 147.5h0M275.9 145.8h0M279.8 124.1h0M283.7 158.7h0M297.2 150.1h0M288.5 112.4h0M278.6 136.3h0M292.9 141.3h0M292.2 135.9h0M279.1 133.4h0M282.8 158.9h0M277.5 127.4h0M291.6 139.3h0M279 120.3h0M283.4 115.2h0M277.1 137.1h0M297.6 152.7h0M279.1 141.1h0M290.1 127.4h0M278.6 160.5h0M290.6 118.4h0M286.4 161.6h0M285 159.2h0M292.8 112.7h0M284.5 137.9h0M290.7 114.9h0M290.1 116.9h0M279.3 134.3h0M272.8 137.2h0M279.7 143h0M288.4 145.9h0M275 126.5h0M272.9 134.7h0M287.7 116.1h0M278.3 152.3h0M292.7 149.8h0M292.4 150.4h0M287.3 125h0M275.9 135.9h0M273.3 139.2h0M288.5 119.4h0M293.3 112.5h0M273 139.6h0M271.6 137.5h0M285 130.2h0M279.8 153.5h0M284 134.6h0M282.1 128.7h0M284 157.9h0M284.5 118.2h0M294.6 133.9h0M286.5 136.7h0M276.9 148.9h0M293.8 148.3h0M294 135.3h0M286.1 117.8h0M278.9 144.2h0M273.7 144.2h0M296.1 114.5h0M296.2 133.8h0M294.7 145.5h0M284.9 131.8h0M287.4 128h0M283.8 143.2h0"/>
<path stroke="#f8a898" stroke-width="1.3" stroke-linecap="round" fill="none" d="M275.4 141.2h0M288.6 139.8h0M276.9 162.5h0M276.8 161.8h0M280.1 117.5h0M279.1 130.4h0M280.4 152.3h0M274.8 124.7h0M280.6 130.5h0M282.8 114.7h0M277.9 122.9h0M284.2 156.6h0M273.1 147.6h0M279.1 123.4h0M285.7 134.7h0M280.2 139.4h0M291.6 135.4h0M281.5 133.1h0M270.5 145.3h0M283.2 127.9h0M279.6 138.2h0M276.4 144h0M284.5 124.4h0M288.5 129.4h0M274 146.5h0M281.5 142.4h0M282.5 120.4h0M271.6 145.7h0M275.6 154.2h0M280.3 130.6h0M279.6 127.5h0M276 138.7h0M271.3 145.3h0M292 144.4h0M279.4 135.5h0M277.3 148h0M282.3 128.8h0M283.2 116.4h0M276.1 127.3h0M279 124.3h0M296.5 143.6h0M284.7 119h0M278.8 126.5h0M289.2 144.8h0M279.9 132.6h0M282.1 138.4h0M281.2 116.9h0M283.1 121.1h0M284 120.5h0M278.7 149.9h0M295.9 139.1h0M278.7 139.7h0M272.9 138h0M288.6 125.5h0M279.4 143.3h0M283.2 131.1h0M281.2 140.4h0M276.1 125.5h0M292.4 149.3h0M288.1 112.5h0M273.9 159.2h0M272.9 149.4h0M276.1 155.6h0M282.7 129.5h0M271.1 147.9h0M279.4 159h0M295.7 150.3h0M280.4 139.8h0M288.1 149h0M277.7 133.2h0M290.7 156.2h0M277.4 149.6h0M284.6 131.7h0M283.1 116.8h0M296.4 154.6h0M278.5 145h0M275.8 134.9h0M282.2 125.7h0M283.4 116.7h0M274.6 135h0M289.5 143.3h0M288.2 125.4h0M296.6 144.2h0M272.5 148.9h0M280.5 137.4h0M282.7 123.9h0M280.2 153.9h0M282.8 141.9h0M275.3 139.9h0M278.7 145.5h0M272.8 133.1h0M279.5 142.4h0M278 162.1h0M274.3 133.9h0M279 145.8h0M280.9 126.4h0M295.5 164.4h0M281.2 126.1h0M291.1 151.8h0M289.3 125.6h0M275.4 151h0M282.9 116.5h0M286.1 136h0M278.9 125.8h0M273.8 144.1h0M281.7 140.5h0M281.9 130.9h0M275.7 133.1h0M278.8 156.3h0M278 129.2h0M278.3 159.9h0M283.9 113.8h0M281.2 121.9h0M278.2 129.5h0M284.3 120.6h0M281.5 119.9h0M275.6 124.1h0M276.4 160.3h0M273.8 148.4h0M294.3 129.9h0M292.8 143.3h0M283.4 141h0M281 140.6h0M282.9 119.1h0M278.9 153.5h0M284.6 141.4h0M284.9 142.9h0M283.3 140.5h0M283.1 141.6h0M283.5 143.8h0M283 142.2h0"/>
<path stroke="#58a8c8" stroke-width="1.3" stroke-linecap="round" fill="none" d="M280.9 149.1h0M281.2 151.2h0M303.2 120.2h0M279.5 148.9h0M303.5 111.8h0"/>
<path stroke="#a8c8d8" stroke-width="1.3" stroke-linecap="round" fill="none" d="M313.6 129.2h0M305.3 136.8h0M306.8 120.1h0M302.7 135.7h0M310.4 130.8h0M314.6 149.7h0M304.5 126h0M314.8 132.8h0M301.8 142.6h0M306.6 125.6h0M298 115.2h0M303.7 160.6h0M317.2 136.7h0M300.6 155.9h0M302.7 152.9h0M315.1 123.4h0M311.6 137.7h0M308.6 129.1h0M311.1 114.6h0M307.5 122.2h0M297.6 136.2h0M309.3 140.7h0M300.6 135.9h0M312.4 129.8h0M304.6 159.8h0M302.3 112.4h0M304 140.4h0M312.8 139.7h0M297.5 129.9h0M300.8 123.9h0M310.6 124.2h0M309 135h0M298.8 143.1h0M308.1 159.9h0M306.4 146h0M312.4 147.2h0M299 113.3h0M310.8 128.4h0M308.5 128.1h0M300.6 137.2h0M309.2 114.6h0M311.4 150.1h0M309.9 144.2h0M308.7 146.1h0M304.5 117.1h0M311.1 127.5h0M302.9 111.3h0M303.7 148.2h0M306.9 124.8h0M311.3 126.7h0M315.3 144.6h0M297.7 150.8h0M310.9 140.1h0M317.5 129.8h0M304.3 132.7h0M310.1 121.1h0"/>
<path stroke="#4888a8" stroke-width="1.3" stroke-linecap="round" fill="none" d="M281.1 150.3h0"/>
<path stroke="#d86858" stroke-width="1.3" stroke-linecap="round" fill="none" d="M282.1 131.3h0M295.3 121.6h0M275.7 140.2h0"/>
<path stroke="#68a8c8" stroke-width="1.3" stroke-linecap="round" fill="none" d="M318.7 138.1h0M305.1 111.5h0M307.3 120.4h0M298 136.3h0M280.9 145.6h0M307.7 114.8h0M307.3 115.7h0M312.1 116.5h0M309.4 119.4h0M306.4 118.8h0M312.8 117.2h0M307 115.3h0M315.9 119.6h0M305.1 144.7h0M282.4 151.4h0M308.1 120.3h0M304.7 113.7h0M308.3 122.1h0M305.2 114.1h0M315.1 137.5h0M316.8 147.5h0M308 119.7h0M316.4 138.6h0M317.4 135.8h0M306.9 118.8h0M306.1 112.9h0M303.9 115.7h0M316.5 140.2h0M309.7 134h0M317.8 127.8h0M297.8 150.9h0M314.4 126h0M317.1 129.5h0M301.4 129.6h0M307.7 120.8h0M306.8 113.4h0M317.2 140.4h0M300.8 135h0M318.4 137.2h0M313.6 122.7h0M314.8 123h0M315.7 138.2h0M300.6 144.8h0M317.6 130.8h0M304.1 121.5h0M284.7 149.4h0M280.5 151.6h0M316.1 129.2h0M318.2 133h0M309.9 116.7h0M280 148.7h0M317.4 143.2h0M282.4 146.9h0M284.7 147.1h0M285.1 147h0M282.1 145.5h0"/>
<path stroke="#e89898" stroke-width="1.3" stroke-linecap="round" fill="none" d="M278.7 125.3h0M275.8 140.8h0M278.7 137.6h0M283.2 141.3h0M280 141.8h0M276 129.6h0M283.3 115.6h0M277.5 157.3h0M273.8 148.3h0M288.4 152.5h0M276 136.6h0M273.3 134.3h0M284.2 127.7h0M286 119.9h0M288.7 125.2h0M279.3 151.8h0M287.6 125.3h0M278.4 130.1h0M279.4 124.9h0M282.8 117.4h0M278 142.4h0M281.1 131h0M275 123.1h0M276.1 123.8h0M275.3 125.4h0M274.5 147.6h0M281.7 126.1h0M272.2 133.9h0M283 123.1h0M280.3 130.6h0M282.3 158.7h0M275.3 147.9h0M280.1 134.1h0M281.1 124.3h0M283.2 128.8h0M276.3 150.5h0M270.7 141.7h0M272.1 135.8h0M276.2 123h0M297 162.6h0M278.5 143.3h0M281.2 129.4h0M283.3 138.7h0M283.5 141.2h0"/>
<path stroke="#f8e8e8" stroke-width="1.3" stroke-linecap="round" fill="none" d="M294.4 124.7h0M307.9 133h0M285.1 127.7h0M285.8 118.9h0M297.4 121h0M295.2 162.9h0M287.3 122.2h0M295.2 122.7h0M289.3 159.4h0M301.2 123.4h0M288.9 148.4h0M292 127.6h0M309.6 130.3h0M289.9 143.3h0M303 151.3h0M295.2 134.7h0M296.5 136.5h0M314.1 136.2h0M294.5 139.1h0M298.4 138.9h0M289.4 128h0M302.1 153.5h0M286.5 161.3h0M307.2 132h0M291.8 120.4h0M294.5 156.1h0M306.2 156.9h0M297 162.4h0M287.9 128.5h0M295 118.1h0M292.3 122.2h0M300.7 125.1h0M293 124h0M289 121.4h0M286 121.8h0M290.5 141.7h0M290.5 151h0M287.9 115.7h0M307 154.8h0M285.4 136.3h0M291.3 111.8h0M295.4 133.8h0M301.5 140.2h0M290.3 117.5h0M312.8 129.2h0M295.5 113.2h0M291.4 149h0M300 134.2h0M301.3 123.8h0M290 147.7h0M291.5 139.7h0M292.7 140.4h0M294.2 162.7h0M289.8 121.9h0M313 144.1h0M296.7 145.6h0M288.9 158.4h0M287.6 161.9h0M286.3 154.9h0M297.3 133.9h0M295.6 128.9h0M293.2 130.5h0M293.2 146.4h0M287.5 134.6h0M302 138.4h0M292.5 159.2h0M295.3 145.7h0M311.6 147.4h0M301.3 114.7h0M297.3 138.5h0M291.9 126.8h0M287.7 141.3h0M296.6 137.1h0M292.9 120.1h0M285 133.9h0M288.4 145h0M285.8 132.2h0M305.2 126.8h0M291.9 123h0M299.9 130.3h0M295.2 122.9h0M312.5 131.2h0M289.2 125.7h0M291.6 147.8h0M307.9 139.3h0M296.6 157.1h0M302.3 138.2h0M294.5 144.5h0M300.7 138.4h0M285.7 155.4h0M289.2 142h0M288.3 113.8h0M291 156.5h0M293.5 121.5h0M303.5 141.7h0M292.9 144.1h0M305.9 147.1h0M310.5 158h0M291.1 126.9h0M291.5 120.2h0M311.8 122.3h0M312.4 137.3h0M301.2 130.5h0M296.4 159h0M294.7 114.7h0M287.1 161.5h0M311.8 131.2h0M298.5 142h0M284.5 122.2h0M289.9 159.7h0M285.5 137.6h0M294.3 159h0M299.7 159.6h0M302.4 123.1h0M292.6 140.4h0M284.9 134.5h0M287.3 118.4h0M291.8 137.6h0M296.6 127.6h0M289.6 119.5h0M286.9 128.5h0M302.6 128.8h0M293.7 123.5h0M288.2 124.4h0M288.1 113.9h0M296.3 161.4h0M293.9 151.9h0M297.5 135.2h0M293 158.4h0M300.3 131h0M293.4 132.9h0M292.6 150.6h0M296.5 118.6h0M294.3 160.4h0M286.6 112.9h0M293 117.5h0M309.6 124.4h0M286 131.8h0M312.8 137.5h0M291.4 139.2h0M288.9 159.8h0M295.2 141.2h0M301.5 137.1h0M294 146.2h0M300.4 141.6h0M289.6 140.8h0M300.7 122.1h0M295.2 147.4h0M308.2 128.6h0M298.7 135.4h0M313.3 134.3h0M302.8 145.6h0M304.7 157.5h0M289.1 160h0M296.1 149h0M309.5 137.9h0M305.5 133h0M292 113h0M298.9 159.9h0M288.4 142.3h0M311.7 150.3h0M308.6 133.3h0M293.2 124.3h0M302.4 118h0M284.4 155.1h0M288 152.2h0M297.4 129.8h0M309.5 128.9h0M293.1 137.6h0M308.3 129.9h0M289.9 144.1h0M297.6 150.4h0M294.7 140.3h0M305.6 133.1h0M297.3 140.6h0M290.1 144.3h0M285.2 128.3h0M290.2 128.3h0M313.9 135.2h0M294.9 134.4h0M297.9 152.9h0M285.6 158.4h0M294.8 131.3h0M297.7 147.1h0M294.5 149.3h0M299.1 150.7h0M296.1 128.3h0M285.7 136.3h0M300.7 156.7h0M287 140.4h0M310.4 153.5h0M308.7 153.8h0M313.9 140.8h0M292.6 137.1h0M286.7 123.5h0M296.6 139.4h0M299.8 112.5h0M297.6 146.7h0M286.2 146.8h0M284.4 140.8h0"/>
<path stroke="#78b8c8" stroke-width="1.3" stroke-linecap="round" fill="none" d="M306.9 115.1h0M311.1 114.1h0M305.9 113.9h0M312.9 134.2h0M305.3 118.3h0M319.1 132.9h0M318.1 133.3h0M318.1 144.5h0M316.7 150.6h0M306.2 119.7h0M317.7 129.3h0M316.2 151.3h0M301.9 128.3h0M312.1 154h0M318.2 131.6h0M308.1 118.4h0M303.4 114.2h0M304.6 121.2h0M307.5 144.7h0M308.1 120.2h0M316.7 143.5h0M311.8 118.3h0M299.4 126.4h0M315.9 132.3h0M281.9 145.1h0"/>
<path stroke="#98c8d8" stroke-width="1.3" stroke-linecap="round" fill="none" d="M307.6 125.8h0M301.5 114.5h0M316.3 128.9h0M312.4 126.7h0M318.8 135.8h0M305.2 146.9h0M305.4 117.7h0M308.3 118.2h0M310.7 147.4h0M312.2 133.1h0M315.8 133.9h0M319.4 132h0M303.4 121.2h0M301.1 148.4h0M309.9 156h0M313.9 132.5h0M302.2 159.7h0M301.7 130.6h0M310 143.1h0M301.6 123h0M315.5 147.4h0M303.6 141h0M307.4 144.9h0M311.6 129h0M302.2 118.7h0M318 133.5h0M307.6 150.1h0M299.4 111.8h0M310.2 129.4h0M297.4 113.6h0M304.8 144.5h0M302.9 114.4h0M311.9 127.4h0M312.2 142.8h0M309.7 145.9h0M317.8 140.3h0M310.1 116.8h0M303.1 122.3h0M318.8 130.7h0M306.4 139.8h0M293.3 147.8h0M306.5 122.4h0M306.8 113h0M305.5 146.6h0M305 137.4h0M310.4 115.6h0M314 118.8h0M315.9 127.5h0M302.2 143.8h0M302.8 139.1h0M315.6 120.8h0M313.3 120.7h0M304 158.9h0M307.2 116.3h0M300.5 144.7h0M310 115.7h0M305.7 144.5h0M315.6 142.6h0M305 158.8h0M312.6 119h0M310 133.4h0M298 117h0M299.6 135.8h0M305.9 118.6h0M312.7 122.4h0M305.4 116.7h0M311.2 119.4h0M307.3 156.9h0M317.3 141.5h0M298.2 124.7h0M311.1 135.2h0M313 118.2h0M298.8 155.2h0M314.4 120.7h0M307.5 145.6h0M305.6 114.3h0M306.7 159.2h0M306.6 157.6h0M307.6 144.9h0M309.6 126h0M302.5 116.1h0M310.2 147.3h0M306.6 145.2h0M314.5 121.8h0M317.4 141h0M311.6 154.8h0M318.9 138h0M299.2 129h0M300.2 113.6h0M307.9 134.4h0M315.5 138.4h0M298.3 124.7h0M302.6 156.8h0M315.8 131.8h0M297.5 148.5h0M306.8 147.9h0M302.5 145.1h0M303.6 150.1h0M312.1 135.4h0M313 124.7h0M306.7 137.6h0M305.5 127.2h0M316.8 133.6h0M299 154.4h0M302.5 125.1h0M316 147.3h0M314.2 150h0M309 153.7h0M316.7 138.1h0M305.8 119.2h0M312.2 135.4h0M310.8 154.5h0M314.4 125.6h0M311 118.6h0M304.5 113.3h0M299.1 160.1h0M319.2 144.7h0M310.3 118.5h0"/>
<path stroke="#a8c8e8" stroke-width="1.3" stroke-linecap="round" fill="none" d="M299.5 146.9h0M301.4 137.7h0M303.5 153h0M297.4 136.7h0M298.8 138h0M309.6 140.9h0M303.4 130.8h0M299.2 161h0M299 116.3h0M299.1 139.2h0M312 121h0M310 118.9h0M308 134.6h0M300.3 133.2h0M313.8 118.9h0M302.9 116h0M314.1 142h0M318.2 136.2h0M299.5 124.1h0M298.5 147.6h0M298.5 113.4h0M302.6 113.3h0M305.7 139.9h0M311.3 118.4h0M308.2 133h0M313.1 136.2h0M301.7 130.6h0M299.3 116h0M298.4 157.6h0M302.2 161.1h0M311.7 127.3h0M304.4 124.5h0M309.8 119.3h0M304.3 133.8h0M318.2 137.7h0M299.7 139.2h0M304.9 134.3h0M299.5 125.2h0M314.6 145.6h0M299.6 127.8h0M301.5 123.7h0M297.9 128.4h0M305.9 116.1h0M314.7 124.3h0M311.3 119.9h0M316 145.4h0M307 140.8h0M305 155h0M307.7 117.3h0M299.9 112.9h0M305.2 134.8h0M304.2 130.2h0M311 152.4h0M315.3 144.5h0M289.1 120.5h0M302.3 152.1h0M305.9 113.4h0M312.3 142.6h0M302.8 126.6h0M301.9 134.4h0M305.2 152.7h0M301.9 115.5h0M306.3 158.6h0M312.1 115.4h0"/>
<path stroke="#e88888" stroke-width="1.3" stroke-linecap="round" fill="none" d="M277.1 137.4h0M275.7 136.4h0M273.7 148.3h0M280.7 124.2h0M282.4 120.4h0M277.4 147.6h0M280.8 139.4h0M284.4 125.2h0M272.9 143h0M281.7 159.5h0M273.4 142.1h0M282.7 137.1h0M282.9 120.5h0M294.9 126.8h0M282.9 137.1h0M281.9 140h0M282.7 125.9h0M278.3 161.3h0M276.5 129.6h0M278 133.1h0M281.4 152.5h0M280.5 138.4h0M271.2 144.4h0M279.1 121h0M280.1 137.6h0M281.6 126.9h0M274.8 137.1h0M277.3 150.3h0M278.3 130h0M285.3 125.4h0M278.7 149.6h0M282 132.7h0M280.7 143.7h0M280.9 127.1h0M283.7 122.5h0M278.7 138.5h0M275.9 128h0M279.9 154.8h0M281.8 123.7h0M283 141.8h0"/>
<path stroke="#98b8d8" stroke-width="1.3" stroke-linecap="round" fill="none" d="M304.8 153.9h0M311.6 127.8h0M303.9 114.5h0M305.6 150.5h0M307.7 129h0M309.9 112.4h0M314.7 134.2h0M316 139.9h0M308 155.3h0M303.6 133.9h0M311.7 122.8h0"/>
<path stroke="#f8e8d8" stroke-width="1.3" stroke-linecap="round" fill="none" d="M301.7 115h0M297 140.8h0M287.6 137.7h0M305.8 133.2h0M288.8 120.9h0M306.5 148h0M297.1 157.1h0M290.5 143.1h0M305.8 130.3h0M297.6 137.7h0M291.7 146.5h0M277.9 145.6h0M285.9 118h0M294.5 133.7h0M294.5 112h0M295.2 141.7h0M297.4 132.4h0M288 163.2h0M296.7 149.9h0M297 161.7h0M302.2 131h0M276.8 123.7h0M292.4 143h0M312.7 132.6h0M295.2 126.7h0M298.2 135.9h0M289 147h0M294.6 144.5h0M295.1 136.6h0M289.2 151.2h0M289.1 110.7h0M291.6 127h0M297.7 114.7h0M294.7 138.9h0M295.3 162.8h0M297.1 155.1h0M292.2 136.3h0M290.3 156.5h0"/>
<path stroke="#78b8d8" stroke-width="1.3" stroke-linecap="round" fill="none" d="M311.4 115.2h0M302.6 134.9h0M304.2 114.7h0M303.8 117.2h0M315.1 138.6h0M314.8 133.4h0M313.4 119.1h0M316.2 147.4h0M308.1 151.1h0M310.1 123.9h0M315.1 132h0M312.6 121.2h0M301 150.7h0M302.2 134.3h0M316.2 121.3h0M306.9 160.1h0M317.8 129.6h0M306.2 126h0M299.8 153.9h0M310.8 135h0M310 114.6h0M308.1 150.7h0M300.8 147.2h0M298.4 131.6h0M317.8 137.4h0"/>
<path stroke="#d85858" stroke-width="1.3" stroke-linecap="round" fill="none" d="M293.8 147.3h0M282.1 143.6h0"/>
<path stroke="#a8d8e8" stroke-width="1.3" stroke-linecap="round" fill="none" d="M315 146.3h0M312.3 142h0M316.3 142.3h0M305.3 135.2h0M303.7 129.9h0M312 122.3h0M302.2 153.2h0M304.8 139.1h0M318 130.9h0M317.8 143.4h0M301.7 158.2h0M307.4 148.3h0M300.9 117.1h0M311 130.4h0M316.6 127.1h0M305.2 118.8h0M291.4 131.3h0M313.9 123.9h0M307.9 156.3h0M299.7 151.7h0M309.5 124.7h0M302.3 155.4h0M300.6 157.7h0M304.2 125.3h0M312.9 140.7h0M311 154.1h0M304.1 126.3h0"/>
<path stroke="#3888a8" stroke-width="1.3" stroke-linecap="round" fill="none" d="M282.3 144.7h0M280.8 145.9h0M281.2 151.6h0M280.2 150.6h0M279.3 147.1h0M279.7 149h0M279.5 149.3h0M284.3 147.6h0M284 147.7h0M282.6 147.4h0M282.9 145h0M284 146.9h0"/>
<path stroke="#78a8c8" stroke-width="1.3" stroke-linecap="round" fill="none" d="M313.3 120.7h0M310 136.3h0M304.4 113.7h0M316.1 138.9h0M314.3 124.8h0M278.8 147h0M313.5 119.8h0M312.1 130.3h0M311.5 123.9h0M316.1 128h0M303.4 114h0M308.3 119.3h0M311.9 116.2h0M302.1 140.8h0M310.1 156.3h0M309.9 148.8h0M312.3 121.5h0M309.1 148.2h0M316.7 149.1h0"/>
<path stroke="#5898b8" stroke-width="1.3" stroke-linecap="round" fill="none" d="M279.1 148.6h0M284.4 150.4h0M285.7 149h0M284.9 148.1h0M280.5 149.4h0M313.2 117.6h0M286.2 148.8h0M315.6 140.5h0M283.6 150.4h0M282.6 145.3h0M283.4 147.3h0M283.8 145.1h0M282.8 148.1h0M282.2 147.4h0M283.8 146.1h0"/>
<path stroke="#d8d8e8" stroke-width="1.3" stroke-linecap="round" fill="none" d="M306.5 159.1h0M305.7 151.9h0M305 126.8h0M306 153.4h0M303.9 131.6h0M314.2 130.9h0M302.6 152.3h0M301.9 139.3h0M304.8 150.6h0M299.9 149.2h0M302.1 151.7h0M303 135h0M313.2 144.3h0M309.4 127.4h0"/>
<path stroke="#4888b8" stroke-width="1.3" stroke-linecap="round" fill="none" d="M280.9 147.9h0M280.5 147.8h0M285 150.8h0M286.5 149.6h0M280.7 149.7h0M282.4 145.8h0M283.4 146.3h0"/>
<path stroke="#e87878" stroke-width="1.3" stroke-linecap="round" fill="none" d="M278.6 156.2h0M278.4 132.5h0M271.1 138.6h0M279 127.3h0M279.3 131.5h0M283.5 142.9h0"/>
<path stroke="#e87868" stroke-width="1.3" stroke-linecap="round" fill="none" d="M283.7 119.1h0M275.5 156.4h0M283.7 133.4h0M284.1 127.2h0M291.7 161.5h0M283.6 114.7h0M279.1 128.4h0M279.3 129.4h0M288.8 137.7h0M277.8 144.6h0M294.8 135.5h0M274.6 126.6h0M277.3 140.1h0"/>
<path stroke="#4898b8" stroke-width="1.3" stroke-linecap="round" fill="none" d="M281.9 151.5h0M282.6 146.5h0M285.6 149.4h0M282.2 151.8h0M283 145.3h0M285.5 145.6h0M282.4 146.1h0M284.4 147h0M281.5 144.4h0M282.8 148h0M282.5 147.8h0"/>
<path stroke="#5898c8" stroke-width="1.3" stroke-linecap="round" fill="none" d="M303.1 112.6h0M281.1 150.8h0M283.7 152.2h0M317.1 144.4h0M315.1 134.1h0M315.6 139.3h0M281.7 144.6h0M284.8 146h0"/>
<path stroke="#e86868" stroke-width="1.3" stroke-linecap="round" fill="none" d="M273.1 138.9h0M284.2 121.4h0M279.9 133.6h0"/>
<path d="M267.6 109.6V165.8H321.8" fill="none" stroke="#222" stroke-width="1.1"/>
<path d="M279.9 165.8v2.3" stroke="#222" stroke-width="0.9"/>
<text x="279.9" y="177.9" font-size="6.4" text-anchor="middle" fill="#222">−50</text>
<path d="M295.2 165.8v2.3" stroke="#222" stroke-width="0.9"/>
<text x="295.2" y="177.9" font-size="6.4" text-anchor="middle" fill="#222">0</text>
<path d="M312.2 165.8v2.3" stroke="#222" stroke-width="0.9"/>
<text x="312.2" y="177.9" font-size="6.4" text-anchor="middle" fill="#222">50</text>
<path d="M267.6 120.6h-2.3" stroke="#222" stroke-width="0.9"/>
<text x="261.7" y="122.9" font-size="6.4" text-anchor="end" fill="#222">50</text>
<path d="M267.6 137.5h-2.3" stroke="#222" stroke-width="0.9"/>
<text x="261.7" y="139.8" font-size="6.4" text-anchor="end" fill="#222">0</text>
<path d="M267.6 154.4h-2.3" stroke="#222" stroke-width="0.9"/>
<text x="261.7" y="156.7" font-size="6.4" text-anchor="end" fill="#222">−50</text>
<text x="295.2" y="104.8" font-size="6.6" text-anchor="middle" fill="#222">Hoechst InfoMeas1 [<tspan font-style="italic">d</tspan> = 7]</text>
<defs><linearGradient id="cb3" x1="0" x2="0" y1="0" y2="1"><stop offset="0" stop-color="#6e4646"/><stop offset="0.5" stop-color="#4a4a4a"/><stop offset="1" stop-color="#34505c"/></linearGradient></defs>
<rect x="317.3" y="113" width="2.6" height="25.5" fill="url(#cb3)"/>
<path d="M319.9 115.6h2.4" stroke="#222" stroke-width="0.8"/>
<text x="325.1" y="117.9" font-size="6.4" fill="#222">2.5</text>
<path d="M319.9 126.3h2.4" stroke="#222" stroke-width="0.8"/>
<text x="325.1" y="128.6" font-size="6.4" fill="#222">0.0</text>
<path d="M319.9 136h2.4" stroke="#222" stroke-width="0.8"/>
<text x="325.1" y="138.3" font-size="6.4" fill="#222">−2.5</text>
<text transform="translate(247.8,193.5) scale(0.625,1)" font-size="9.5" font-weight="bold" text-anchor="middle" fill="#2a2a2a">t-SNE 1</text>
<text transform="translate(150.5,97.5) rotate(-90) scale(0.615,1)" font-size="9.5" font-weight="bold" text-anchor="middle" fill="#2a2a2a">t-SNE 2</text>
<text x="371.4" y="27.9" font-size="9" fill="#222">Morphological changes in coculture</text>
<rect x="437.2" y="55.9" width="14.84" height="13.5" fill="#777777"/>
<rect x="451.74" y="55.9" width="14.84" height="13.5" fill="#6fa6cf"/>
<rect x="466.28" y="55.9" width="14.84" height="13.5" fill="#f7c4b5"/>
<rect x="480.82" y="55.9" width="14.84" height="13.5" fill="#eef0f5"/>
<rect x="495.36" y="55.9" width="14.84" height="13.5" fill="#a3c4de"/>
<rect x="437.2" y="69.1" width="14.84" height="13.5" fill="#79aed4"/>
<rect x="451.74" y="69.1" width="14.84" height="13.5" fill="#6aa3cc"/>
<rect x="466.28" y="69.1" width="14.84" height="13.5" fill="#a8c9e1"/>
<rect x="480.82" y="69.1" width="14.84" height="13.5" fill="#f0f2f6"/>
<rect x="495.36" y="69.1" width="14.84" height="13.5" fill="#e3ebf3"/>
<rect x="437.2" y="82.3" width="14.84" height="13.5" fill="#fbece6"/>
<rect x="451.74" y="82.3" width="14.84" height="13.5" fill="#f7f4f4"/>
<rect x="466.28" y="82.3" width="14.84" height="13.5" fill="#f4a08f"/>
<rect x="480.82" y="82.3" width="14.84" height="13.5" fill="#ee7d6b"/>
<rect x="495.36" y="82.3" width="14.84" height="13.5" fill="#f09180"/>
<rect x="437.2" y="95.5" width="14.84" height="13.5" fill="#777777"/>
<rect x="451.74" y="95.5" width="14.84" height="13.5" fill="#a7c6de"/>
<rect x="466.28" y="95.5" width="14.84" height="13.5" fill="#b7d0e4"/>
<rect x="480.82" y="95.5" width="14.84" height="13.5" fill="#ee7f6b"/>
<rect x="495.36" y="95.5" width="14.84" height="13.5" fill="#f8d5cb"/>
<rect x="437.2" y="108.7" width="14.84" height="13.5" fill="#777777"/>
<rect x="451.74" y="108.7" width="14.84" height="13.5" fill="#dde7f0"/>
<rect x="466.28" y="108.7" width="14.84" height="13.5" fill="#f9e8e3"/>
<rect x="480.82" y="108.7" width="14.84" height="13.5" fill="#f2998a"/>
<rect x="495.36" y="108.7" width="14.84" height="13.5" fill="#e8543f"/>
<rect x="437.2" y="121.9" width="14.84" height="13.5" fill="#fbfbfb"/>
<rect x="451.74" y="121.9" width="14.84" height="13.5" fill="#fafafa"/>
<rect x="466.28" y="121.9" width="14.84" height="13.5" fill="#bcd2e5"/>
<rect x="480.82" y="121.9" width="14.84" height="13.5" fill="#8fb8d8"/>
<rect x="495.36" y="121.9" width="14.84" height="13.5" fill="#8ab4d6"/>
<text x="434" y="65.5" font-size="6.7" text-anchor="end" fill="#222">Lysosomal intensity</text>
<text x="434" y="78.7" font-size="6.7" text-anchor="end" fill="#222">Lysosomal extent</text>
<text x="434" y="91.9" font-size="6.7" text-anchor="end" fill="#222">Lysosomal area</text>
<text x="434" y="105.1" font-size="6.7" text-anchor="end" fill="#222">Calcein convex area</text>
<text x="434" y="118.3" font-size="6.7" text-anchor="end" fill="#222">Calcein eccentricity</text>
<text x="434" y="131.5" font-size="6.7" text-anchor="end" fill="#222">Hoechst InfoMeas1</text>
<text transform="translate(444.17,53) rotate(-90)" font-size="6.7" fill="#222">CLL</text>
<text transform="translate(458.71,53) rotate(-90)" font-size="6.7" fill="#222">MCL</text>
<text transform="translate(473.25,53) rotate(-90)" font-size="6.7" fill="#222">HCL</text>
<text transform="translate(487.79,53) rotate(-90)" font-size="6.7" fill="#222">AML</text>
<text transform="translate(502.33,53) rotate(-90)" font-size="6.7" fill="#222">T−PLL</text>
<defs><linearGradient id="gd" x1="0" x2="1" y1="0" y2="0"><stop offset="0" stop-color="#296d9e"/><stop offset="0.2" stop-color="#6aa5cd"/><stop offset="0.38" stop-color="#c3dbea"/><stop offset="0.5" stop-color="#f7f6f6"/><stop offset="0.62" stop-color="#f8c9b8"/><stop offset="0.8" stop-color="#ef8a78"/><stop offset="1" stop-color="#d8473d"/></linearGradient></defs>
<text x="374.3" y="148.3" font-size="6.7" fill="#222">Difference of medians</text>
<rect x="445.6" y="142.2" width="56.2" height="6.2" fill="url(#gd)"/>
<text x="456.5" y="158" font-size="6.7" text-anchor="middle" fill="#222">−0.5</text>
<text x="473.5" y="158" font-size="6.7" text-anchor="middle" fill="#222">0.0</text>
<text x="488.5" y="158" font-size="6.7" text-anchor="middle" fill="#222">0.5</text>
<path fill="#f4aa82" d="M230.54 245.5h7.46v7.46h-7.46zM260.38 252.96h7.46v7.46h-7.46zM252.92 260.42h7.46v7.46h-7.46zM260.38 260.42h7.46v7.46h-7.46zM297.68 267.88h7.46v7.46h-7.46zM312.6 267.88h7.46v7.46h-7.46zM372.28 267.88h7.46v7.46h-7.46zM163.4 275.34h7.46v7.46h-7.46zM208.16 275.34h7.46v7.46h-7.46zM215.62 275.34h7.46v7.46h-7.46zM275.3 275.34h7.46v7.46h-7.46zM282.76 275.34h7.46v7.46h-7.46zM297.68 275.34h7.46v7.46h-7.46zM320.06 275.34h7.46v7.46h-7.46zM223.08 282.8h7.46v7.46h-7.46zM230.54 282.8h7.46v7.46h-7.46zM282.76 282.8h7.46v7.46h-7.46zM320.06 282.8h7.46v7.46h-7.46zM275.3 290.26h7.46v7.46h-7.46zM320.06 290.26h7.46v7.46h-7.46zM155.94 297.72h7.46v7.46h-7.46zM163.4 297.72h7.46v7.46h-7.46zM282.76 297.72h7.46v7.46h-7.46zM290.22 297.72h7.46v7.46h-7.46zM275.3 305.18h7.46v7.46h-7.46zM282.76 305.18h7.46v7.46h-7.46zM290.22 305.18h7.46v7.46h-7.46zM208.16 312.64h7.46v7.46h-7.46zM215.62 312.64h7.46v7.46h-7.46zM223.08 312.64h7.46v7.46h-7.46zM230.54 312.64h7.46v7.46h-7.46zM215.62 320.1h7.46v7.46h-7.46zM223.08 320.1h7.46v7.46h-7.46zM230.54 320.1h7.46v7.46h-7.46zM320.06 320.1h7.46v7.46h-7.46zM327.52 320.1h7.46v7.46h-7.46zM208.16 327.56h7.46v7.46h-7.46zM215.62 327.56h7.46v7.46h-7.46zM223.08 327.56h7.46v7.46h-7.46zM230.54 327.56h7.46v7.46h-7.46zM238 327.56h7.46v7.46h-7.46zM245.46 327.56h7.46v7.46h-7.46zM267.84 327.56h7.46v7.46h-7.46zM320.06 327.56h7.46v7.46h-7.46zM230.54 335.02h7.46v7.46h-7.46zM252.92 335.02h7.46v7.46h-7.46zM267.84 335.02h7.46v7.46h-7.46zM208.16 342.48h7.46v7.46h-7.46zM215.62 342.48h7.46v7.46h-7.46zM230.54 342.48h7.46v7.46h-7.46zM260.38 342.48h7.46v7.46h-7.46zM275.3 342.48h7.46v7.46h-7.46zM215.62 349.94h7.46v7.46h-7.46zM282.76 349.94h7.46v7.46h-7.46zM290.22 349.94h7.46v7.46h-7.46zM215.62 357.4h7.46v7.46h-7.46zM223.08 357.4h7.46v7.46h-7.46zM245.46 357.4h7.46v7.46h-7.46zM282.76 357.4h7.46v7.46h-7.46zM208.16 364.86h7.46v7.46h-7.46zM215.62 364.86h7.46v7.46h-7.46zM245.46 364.86h7.46v7.46h-7.46zM252.92 364.86h7.46v7.46h-7.46zM260.38 364.86h7.46v7.46h-7.46zM252.92 372.32h7.46v7.46h-7.46zM275.3 372.32h7.46v7.46h-7.46zM260.38 379.78h7.46v7.46h-7.46zM267.84 379.78h7.46v7.46h-7.46zM208.16 394.7h7.46v7.46h-7.46zM215.62 394.7h7.46v7.46h-7.46zM223.08 394.7h7.46v7.46h-7.46zM230.54 394.7h7.46v7.46h-7.46zM238 394.7h7.46v7.46h-7.46zM252.92 394.7h7.46v7.46h-7.46zM208.16 402.16h7.46v7.46h-7.46zM215.62 402.16h7.46v7.46h-7.46zM223.08 402.16h7.46v7.46h-7.46zM238 402.16h7.46v7.46h-7.46zM245.46 402.16h7.46v7.46h-7.46zM230.54 409.62h7.46v7.46h-7.46zM215.62 417.08h7.46v7.46h-7.46zM223.08 417.08h7.46v7.46h-7.46zM208.16 424.54h7.46v7.46h-7.46zM88.8 454.38h7.46v7.46h-7.46zM111.18 454.38h7.46v7.46h-7.46zM170.86 476.76h7.46v7.46h-7.46zM118.64 499.14h7.46v7.46h-7.46zM96.26 506.6h7.46v7.46h-7.46zM118.64 506.6h7.46v7.46h-7.46zM126.1 506.6h7.46v7.46h-7.46zM96.26 514.06h7.46v7.46h-7.46zM118.64 514.06h7.46v7.46h-7.46zM126.1 514.06h7.46v7.46h-7.46zM133.56 514.06h7.46v7.46h-7.46zM96.26 521.52h7.46v7.46h-7.46zM111.18 521.52h7.46v7.46h-7.46zM118.64 521.52h7.46v7.46h-7.46zM126.1 521.52h7.46v7.46h-7.46zM88.8 528.98h7.46v7.46h-7.46zM96.26 536.44h7.46v7.46h-7.46zM103.72 536.44h7.46v7.46h-7.46zM88.8 543.9h7.46v7.46h-7.46zM88.8 551.36h7.46v7.46h-7.46z"/>
<path fill="#f09767" d="M334.98 245.5h7.46v7.46h-7.46zM170.86 252.96h7.46v7.46h-7.46zM267.84 267.88h7.46v7.46h-7.46zM223.08 275.34h7.46v7.46h-7.46zM245.46 275.34h7.46v7.46h-7.46zM252.92 275.34h7.46v7.46h-7.46zM260.38 275.34h7.46v7.46h-7.46zM290.22 275.34h7.46v7.46h-7.46zM349.9 275.34h7.46v7.46h-7.46zM357.36 275.34h7.46v7.46h-7.46zM364.82 275.34h7.46v7.46h-7.46zM372.28 275.34h7.46v7.46h-7.46zM275.3 282.8h7.46v7.46h-7.46zM290.22 282.8h7.46v7.46h-7.46zM312.6 282.8h7.46v7.46h-7.46zM349.9 282.8h7.46v7.46h-7.46zM357.36 282.8h7.46v7.46h-7.46zM364.82 282.8h7.46v7.46h-7.46zM282.76 290.26h7.46v7.46h-7.46zM290.22 290.26h7.46v7.46h-7.46zM312.6 290.26h7.46v7.46h-7.46zM349.9 290.26h7.46v7.46h-7.46zM357.36 290.26h7.46v7.46h-7.46zM312.6 297.72h7.46v7.46h-7.46zM208.16 335.02h7.46v7.46h-7.46zM215.62 335.02h7.46v7.46h-7.46zM223.08 335.02h7.46v7.46h-7.46zM245.46 335.02h7.46v7.46h-7.46zM282.76 335.02h7.46v7.46h-7.46zM290.22 335.02h7.46v7.46h-7.46zM297.68 335.02h7.46v7.46h-7.46zM312.6 335.02h7.46v7.46h-7.46zM223.08 342.48h7.46v7.46h-7.46zM245.46 342.48h7.46v7.46h-7.46zM252.92 342.48h7.46v7.46h-7.46zM282.76 342.48h7.46v7.46h-7.46zM290.22 342.48h7.46v7.46h-7.46zM297.68 342.48h7.46v7.46h-7.46zM305.14 342.48h7.46v7.46h-7.46zM267.84 349.94h7.46v7.46h-7.46zM297.68 349.94h7.46v7.46h-7.46zM267.84 357.4h7.46v7.46h-7.46zM290.22 357.4h7.46v7.46h-7.46zM223.08 364.86h7.46v7.46h-7.46zM230.54 364.86h7.46v7.46h-7.46zM282.76 364.86h7.46v7.46h-7.46zM245.46 394.7h7.46v7.46h-7.46zM208.16 409.62h7.46v7.46h-7.46zM215.62 409.62h7.46v7.46h-7.46zM223.08 409.62h7.46v7.46h-7.46zM238 409.62h7.46v7.46h-7.46zM208.16 417.08h7.46v7.46h-7.46zM215.62 424.54h7.46v7.46h-7.46zM223.08 424.54h7.46v7.46h-7.46zM208.16 432h7.46v7.46h-7.46zM215.62 432h7.46v7.46h-7.46zM208.16 439.46h7.46v7.46h-7.46zM118.64 476.76h7.46v7.46h-7.46zM118.64 484.22h7.46v7.46h-7.46zM141.02 499.14h7.46v7.46h-7.46zM148.48 499.14h7.46v7.46h-7.46zM141.02 506.6h7.46v7.46h-7.46zM96.26 528.98h7.46v7.46h-7.46zM103.72 528.98h7.46v7.46h-7.46zM111.18 528.98h7.46v7.46h-7.46zM118.64 528.98h7.46v7.46h-7.46zM96.26 543.9h7.46v7.46h-7.46zM103.72 543.9h7.46v7.46h-7.46zM96.26 551.36h7.46v7.46h-7.46z"/>
<path fill="#f7c3a6" d="M148.48 252.96h7.46v7.46h-7.46zM155.94 252.96h7.46v7.46h-7.46zM349.9 252.96h7.46v7.46h-7.46zM357.36 252.96h7.46v7.46h-7.46zM364.82 252.96h7.46v7.46h-7.46zM260.38 282.8h7.46v7.46h-7.46zM305.14 282.8h7.46v7.46h-7.46zM252.92 290.26h7.46v7.46h-7.46zM297.68 290.26h7.46v7.46h-7.46zM297.68 297.72h7.46v7.46h-7.46zM312.6 305.18h7.46v7.46h-7.46zM260.38 312.64h7.46v7.46h-7.46zM305.14 312.64h7.46v7.46h-7.46zM297.68 320.1h7.46v7.46h-7.46zM297.68 327.56h7.46v7.46h-7.46zM305.14 335.02h7.46v7.46h-7.46zM163.4 342.48h7.46v7.46h-7.46zM223.08 349.94h7.46v7.46h-7.46zM163.4 364.86h7.46v7.46h-7.46zM163.4 409.62h7.46v7.46h-7.46zM148.48 476.76h7.46v7.46h-7.46zM141.02 484.22h7.46v7.46h-7.46zM148.48 484.22h7.46v7.46h-7.46zM155.94 484.22h7.46v7.46h-7.46z"/>
<path fill="#ec8450" d="M305.14 267.88h7.46v7.46h-7.46zM312.6 275.34h7.46v7.46h-7.46zM349.9 297.72h7.46v7.46h-7.46z"/>
<path fill="#9fb6e1" d="M394.66 275.34h7.46v7.46h-7.46zM387.2 282.8h7.46v7.46h-7.46zM387.2 290.26h7.46v7.46h-7.46zM372.28 297.72h7.46v7.46h-7.46zM379.74 297.72h7.46v7.46h-7.46zM387.2 297.72h7.46v7.46h-7.46zM372.28 305.18h7.46v7.46h-7.46zM379.74 305.18h7.46v7.46h-7.46zM409.58 320.1h7.46v7.46h-7.46zM387.2 342.48h7.46v7.46h-7.46zM297.68 372.32h7.46v7.46h-7.46zM305.14 372.32h7.46v7.46h-7.46zM312.6 372.32h7.46v7.46h-7.46zM290.22 379.78h7.46v7.46h-7.46zM297.68 379.78h7.46v7.46h-7.46zM305.14 379.78h7.46v7.46h-7.46zM312.6 379.78h7.46v7.46h-7.46zM357.36 379.78h7.46v7.46h-7.46zM387.2 379.78h7.46v7.46h-7.46zM364.82 387.24h7.46v7.46h-7.46zM372.28 387.24h7.46v7.46h-7.46zM387.2 387.24h7.46v7.46h-7.46zM290.22 394.7h7.46v7.46h-7.46zM297.68 394.7h7.46v7.46h-7.46zM305.14 394.7h7.46v7.46h-7.46zM312.6 394.7h7.46v7.46h-7.46zM327.52 394.7h7.46v7.46h-7.46zM267.84 402.16h7.46v7.46h-7.46zM275.3 402.16h7.46v7.46h-7.46zM297.68 402.16h7.46v7.46h-7.46zM305.14 402.16h7.46v7.46h-7.46zM312.6 402.16h7.46v7.46h-7.46zM327.52 402.16h7.46v7.46h-7.46zM364.82 402.16h7.46v7.46h-7.46zM372.28 402.16h7.46v7.46h-7.46zM394.66 402.16h7.46v7.46h-7.46zM267.84 409.62h7.46v7.46h-7.46zM275.3 409.62h7.46v7.46h-7.46zM305.14 409.62h7.46v7.46h-7.46zM312.6 409.62h7.46v7.46h-7.46zM327.52 409.62h7.46v7.46h-7.46zM267.84 417.08h7.46v7.46h-7.46zM275.3 417.08h7.46v7.46h-7.46zM297.68 417.08h7.46v7.46h-7.46zM305.14 417.08h7.46v7.46h-7.46zM312.6 417.08h7.46v7.46h-7.46zM320.06 417.08h7.46v7.46h-7.46zM327.52 417.08h7.46v7.46h-7.46zM238 424.54h7.46v7.46h-7.46zM245.46 424.54h7.46v7.46h-7.46zM252.92 424.54h7.46v7.46h-7.46zM260.38 424.54h7.46v7.46h-7.46zM267.84 424.54h7.46v7.46h-7.46zM275.3 424.54h7.46v7.46h-7.46zM290.22 424.54h7.46v7.46h-7.46zM320.06 424.54h7.46v7.46h-7.46zM327.52 424.54h7.46v7.46h-7.46zM334.98 424.54h7.46v7.46h-7.46zM252.92 432h7.46v7.46h-7.46zM267.84 432h7.46v7.46h-7.46zM297.68 432h7.46v7.46h-7.46zM305.14 432h7.46v7.46h-7.46zM312.6 432h7.46v7.46h-7.46zM327.52 432h7.46v7.46h-7.46zM334.98 432h7.46v7.46h-7.46zM245.46 439.46h7.46v7.46h-7.46zM252.92 439.46h7.46v7.46h-7.46zM297.68 439.46h7.46v7.46h-7.46zM312.6 439.46h7.46v7.46h-7.46zM215.62 446.92h7.46v7.46h-7.46zM223.08 446.92h7.46v7.46h-7.46zM230.54 446.92h7.46v7.46h-7.46zM238 446.92h7.46v7.46h-7.46zM245.46 446.92h7.46v7.46h-7.46zM260.38 446.92h7.46v7.46h-7.46zM320.06 446.92h7.46v7.46h-7.46zM327.52 446.92h7.46v7.46h-7.46zM178.32 491.68h7.46v7.46h-7.46zM170.86 499.14h7.46v7.46h-7.46zM163.4 506.6h7.46v7.46h-7.46zM155.94 514.06h7.46v7.46h-7.46zM193.24 514.06h7.46v7.46h-7.46zM148.48 521.52h7.46v7.46h-7.46zM170.86 528.98h7.46v7.46h-7.46zM141.02 536.44h7.46v7.46h-7.46zM155.94 536.44h7.46v7.46h-7.46zM178.32 536.44h7.46v7.46h-7.46zM193.24 536.44h7.46v7.46h-7.46zM133.56 543.9h7.46v7.46h-7.46zM141.02 543.9h7.46v7.46h-7.46zM193.24 543.9h7.46v7.46h-7.46zM111.18 551.36h7.46v7.46h-7.46zM118.64 551.36h7.46v7.46h-7.46zM126.1 551.36h7.46v7.46h-7.46zM133.56 551.36h7.46v7.46h-7.46zM141.02 551.36h7.46v7.46h-7.46zM193.24 551.36h7.46v7.46h-7.46zM111.18 558.82h7.46v7.46h-7.46zM118.64 558.82h7.46v7.46h-7.46zM126.1 558.82h7.46v7.46h-7.46zM133.56 558.82h7.46v7.46h-7.46zM170.86 558.82h7.46v7.46h-7.46z"/>
<path fill="#7598d3" d="M379.74 282.8h7.46v7.46h-7.46zM394.66 282.8h7.46v7.46h-7.46zM372.28 290.26h7.46v7.46h-7.46zM364.82 297.72h7.46v7.46h-7.46zM357.36 305.18h7.46v7.46h-7.46zM364.82 305.18h7.46v7.46h-7.46zM357.36 335.02h7.46v7.46h-7.46zM364.82 335.02h7.46v7.46h-7.46zM320.06 342.48h7.46v7.46h-7.46zM357.36 342.48h7.46v7.46h-7.46zM364.82 342.48h7.46v7.46h-7.46zM312.6 349.94h7.46v7.46h-7.46zM320.06 349.94h7.46v7.46h-7.46zM357.36 349.94h7.46v7.46h-7.46zM364.82 349.94h7.46v7.46h-7.46zM305.14 357.4h7.46v7.46h-7.46zM320.06 357.4h7.46v7.46h-7.46zM357.36 357.4h7.46v7.46h-7.46zM364.82 357.4h7.46v7.46h-7.46zM297.68 364.86h7.46v7.46h-7.46zM305.14 364.86h7.46v7.46h-7.46zM312.6 364.86h7.46v7.46h-7.46zM320.06 364.86h7.46v7.46h-7.46zM357.36 364.86h7.46v7.46h-7.46zM372.28 364.86h7.46v7.46h-7.46zM290.22 372.32h7.46v7.46h-7.46zM357.36 372.32h7.46v7.46h-7.46zM320.06 379.78h7.46v7.46h-7.46zM372.28 379.78h7.46v7.46h-7.46zM275.3 387.24h7.46v7.46h-7.46zM297.68 387.24h7.46v7.46h-7.46zM305.14 387.24h7.46v7.46h-7.46zM312.6 387.24h7.46v7.46h-7.46zM357.36 387.24h7.46v7.46h-7.46zM267.84 394.7h7.46v7.46h-7.46zM275.3 394.7h7.46v7.46h-7.46zM320.06 394.7h7.46v7.46h-7.46zM372.28 394.7h7.46v7.46h-7.46zM394.66 394.7h7.46v7.46h-7.46zM260.38 402.16h7.46v7.46h-7.46zM290.22 402.16h7.46v7.46h-7.46zM320.06 402.16h7.46v7.46h-7.46zM357.36 402.16h7.46v7.46h-7.46zM379.74 402.16h7.46v7.46h-7.46zM260.38 409.62h7.46v7.46h-7.46zM290.22 409.62h7.46v7.46h-7.46zM297.68 409.62h7.46v7.46h-7.46zM357.36 409.62h7.46v7.46h-7.46zM245.46 417.08h7.46v7.46h-7.46zM252.92 417.08h7.46v7.46h-7.46zM260.38 417.08h7.46v7.46h-7.46zM290.22 417.08h7.46v7.46h-7.46zM372.28 424.54h7.46v7.46h-7.46zM394.66 424.54h7.46v7.46h-7.46zM230.54 432h7.46v7.46h-7.46zM238 432h7.46v7.46h-7.46zM245.46 432h7.46v7.46h-7.46zM260.38 432h7.46v7.46h-7.46zM275.3 432h7.46v7.46h-7.46zM290.22 432h7.46v7.46h-7.46zM320.06 432h7.46v7.46h-7.46zM372.28 432h7.46v7.46h-7.46zM223.08 439.46h7.46v7.46h-7.46zM230.54 439.46h7.46v7.46h-7.46zM238 439.46h7.46v7.46h-7.46zM260.38 439.46h7.46v7.46h-7.46zM267.84 439.46h7.46v7.46h-7.46zM275.3 439.46h7.46v7.46h-7.46zM290.22 439.46h7.46v7.46h-7.46zM305.14 439.46h7.46v7.46h-7.46zM320.06 439.46h7.46v7.46h-7.46zM342.44 439.46h7.46v7.46h-7.46zM170.86 491.68h7.46v7.46h-7.46zM155.94 506.6h7.46v7.46h-7.46zM170.86 506.6h7.46v7.46h-7.46zM193.24 506.6h7.46v7.46h-7.46zM148.48 514.06h7.46v7.46h-7.46zM141.02 521.52h7.46v7.46h-7.46zM185.78 521.52h7.46v7.46h-7.46zM193.24 521.52h7.46v7.46h-7.46zM133.56 528.98h7.46v7.46h-7.46zM141.02 528.98h7.46v7.46h-7.46zM148.48 528.98h7.46v7.46h-7.46zM193.24 528.98h7.46v7.46h-7.46zM126.1 536.44h7.46v7.46h-7.46zM133.56 536.44h7.46v7.46h-7.46zM148.48 536.44h7.46v7.46h-7.46zM170.86 536.44h7.46v7.46h-7.46zM118.64 543.9h7.46v7.46h-7.46zM126.1 543.9h7.46v7.46h-7.46zM148.48 543.9h7.46v7.46h-7.46zM148.48 551.36h7.46v7.46h-7.46zM103.72 558.82h7.46v7.46h-7.46zM148.48 558.82h7.46v7.46h-7.46z"/>
<path fill="#c6d3ee" d="M334.98 327.56h7.46v7.46h-7.46zM282.76 379.78h7.46v7.46h-7.46zM252.92 446.92h7.46v7.46h-7.46z"/>
<path fill="#5480c6" d="M312.6 357.4h7.46v7.46h-7.46zM364.82 364.86h7.46v7.46h-7.46zM364.82 372.32h7.46v7.46h-7.46zM320.06 387.24h7.46v7.46h-7.46zM252.92 409.62h7.46v7.46h-7.46zM320.06 409.62h7.46v7.46h-7.46z"/>
<path fill="#ee8245" d="M409.58 245.5h7.46L409.58 252.96zM402.12 252.96h7.46L402.12 260.42zM394.66 260.42h7.46L394.66 267.88zM387.2 267.88h7.46L387.2 275.34zM379.74 275.34h7.46L379.74 282.8zM372.28 282.8h7.46L372.28 290.26zM364.82 290.26h7.46L364.82 297.72zM357.36 297.72h7.46L357.36 305.18zM349.9 305.18h7.46L349.9 312.64zM342.44 312.64h7.46L342.44 320.1zM334.98 320.1h7.46L334.98 327.56zM327.52 327.56h7.46L327.52 335.02zM320.06 335.02h7.46L320.06 342.48zM312.6 342.48h7.46L312.6 349.94zM305.14 349.94h7.46L305.14 357.4zM297.68 357.4h7.46L297.68 364.86zM290.22 364.86h7.46L290.22 372.32zM282.76 372.32h7.46L282.76 379.78zM275.3 379.78h7.46L275.3 387.24zM267.84 387.24h7.46L267.84 394.7zM260.38 394.7h7.46L260.38 402.16zM252.92 402.16h7.46L252.92 409.62zM245.46 409.62h7.46L245.46 417.08zM238 417.08h7.46L238 424.54zM230.54 424.54h7.46L230.54 432zM223.08 432h7.46L223.08 439.46zM215.62 439.46h7.46L215.62 446.92zM208.16 446.92h7.46L208.16 454.38zM200.7 454.38h7.46L200.7 461.84zM193.24 461.84h7.46L193.24 469.3zM185.78 469.3h7.46L185.78 476.76zM178.32 476.76h7.46L178.32 484.22zM170.86 484.22h7.46L170.86 491.68zM163.4 491.68h7.46L163.4 499.14zM155.94 499.14h7.46L155.94 506.6zM148.48 506.6h7.46L148.48 514.06zM141.02 514.06h7.46L141.02 521.52zM133.56 521.52h7.46L133.56 528.98zM126.1 528.98h7.46L126.1 536.44zM118.64 536.44h7.46L118.64 543.9zM111.18 543.9h7.46L111.18 551.36zM103.72 551.36h7.46L103.72 558.82zM96.26 558.82h7.46L96.26 566.28zM88.8 566.28h7.46L88.8 573.74z"/>
<path fill="#3a6fbd" d="M417.04 245.5L417.04 252.96H409.58zM409.58 252.96L409.58 260.42H402.12zM402.12 260.42L402.12 267.88H394.66zM394.66 267.88L394.66 275.34H387.2zM387.2 275.34L387.2 282.8H379.74zM379.74 282.8L379.74 290.26H372.28zM372.28 290.26L372.28 297.72H364.82zM364.82 297.72L364.82 305.18H357.36zM357.36 305.18L357.36 312.64H349.9zM349.9 312.64L349.9 320.1H342.44zM342.44 320.1L342.44 327.56H334.98zM334.98 327.56L334.98 335.02H327.52zM327.52 335.02L327.52 342.48H320.06zM320.06 342.48L320.06 349.94H312.6zM312.6 349.94L312.6 357.4H305.14zM305.14 357.4L305.14 364.86H297.68zM297.68 364.86L297.68 372.32H290.22zM290.22 372.32L290.22 379.78H282.76zM282.76 379.78L282.76 387.24H275.3zM275.3 387.24L275.3 394.7H267.84zM267.84 394.7L267.84 402.16H260.38zM260.38 402.16L260.38 409.62H252.92zM252.92 409.62L252.92 417.08H245.46zM245.46 417.08L245.46 424.54H238zM238 424.54L238 432H230.54zM230.54 432L230.54 439.46H223.08zM223.08 439.46L223.08 446.92H215.62zM215.62 446.92L215.62 454.38H208.16zM208.16 454.38L208.16 461.84H200.7zM200.7 461.84L200.7 469.3H193.24zM193.24 469.3L193.24 476.76H185.78zM185.78 476.76L185.78 484.22H178.32zM178.32 484.22L178.32 491.68H170.86zM170.86 491.68L170.86 499.14H163.4zM163.4 499.14L163.4 506.6H155.94zM155.94 506.6L155.94 514.06H148.48zM148.48 514.06L148.48 521.52H141.02zM141.02 521.52L141.02 528.98H133.56zM133.56 528.98L133.56 536.44H126.1zM126.1 536.44L126.1 543.9H118.64zM118.64 543.9L118.64 551.36H111.18zM111.18 551.36L111.18 558.82H103.72zM103.72 558.82L103.72 566.28H96.26zM96.26 566.28L96.26 573.74H88.8z"/>
<path d="M96.26 245.5V573.74M88.8 252.96H417.04M103.72 245.5V573.74M88.8 260.42H417.04M111.18 245.5V573.74M88.8 267.88H417.04M118.64 245.5V573.74M88.8 275.34H417.04M126.1 245.5V573.74M88.8 282.8H417.04M133.56 245.5V573.74M88.8 290.26H417.04M141.02 245.5V573.74M88.8 297.72H417.04M148.48 245.5V573.74M88.8 305.18H417.04M155.94 245.5V573.74M88.8 312.64H417.04M163.4 245.5V573.74M88.8 320.1H417.04M170.86 245.5V573.74M88.8 327.56H417.04M178.32 245.5V573.74M88.8 335.02H417.04M185.78 245.5V573.74M88.8 342.48H417.04M193.24 245.5V573.74M88.8 349.94H417.04M200.7 245.5V573.74M88.8 357.4H417.04M208.16 245.5V573.74M88.8 364.86H417.04M215.62 245.5V573.74M88.8 372.32H417.04M223.08 245.5V573.74M88.8 379.78H417.04M230.54 245.5V573.74M88.8 387.24H417.04M238 245.5V573.74M88.8 394.7H417.04M245.46 245.5V573.74M88.8 402.16H417.04M252.92 245.5V573.74M88.8 409.62H417.04M260.38 245.5V573.74M88.8 417.08H417.04M267.84 245.5V573.74M88.8 424.54H417.04M275.3 245.5V573.74M88.8 432H417.04M282.76 245.5V573.74M88.8 439.46H417.04M290.22 245.5V573.74M88.8 446.92H417.04M297.68 245.5V573.74M88.8 454.38H417.04M305.14 245.5V573.74M88.8 461.84H417.04M312.6 245.5V573.74M88.8 469.3H417.04M320.06 245.5V573.74M88.8 476.76H417.04M327.52 245.5V573.74M88.8 484.22H417.04M334.98 245.5V573.74M88.8 491.68H417.04M342.44 245.5V573.74M88.8 499.14H417.04M349.9 245.5V573.74M88.8 506.6H417.04M357.36 245.5V573.74M88.8 514.06H417.04M364.82 245.5V573.74M88.8 521.52H417.04M372.28 245.5V573.74M88.8 528.98H417.04M379.74 245.5V573.74M88.8 536.44H417.04M387.2 245.5V573.74M88.8 543.9H417.04M394.66 245.5V573.74M88.8 551.36H417.04M402.12 245.5V573.74M88.8 558.82H417.04M409.58 245.5V573.74M88.8 566.28H417.04" stroke="#fff" stroke-width="0.45" opacity="0.55" fill="none"/>
<line x1="88.8" y1="573.74" x2="417.04" y2="245.5" stroke="#fff" stroke-width="0.9" opacity="0.75"/>
<rect x="357.36" y="260.42" width="44.76" height="44.76" fill="none" stroke="#111" stroke-width="1.6"/>
<rect x="320.06" y="327.56" width="14.92" height="14.92" fill="none" stroke="#111" stroke-width="1.6"/>
<rect x="260.38" y="379.78" width="22.38" height="22.38" fill="none" stroke="#111" stroke-width="1.6"/>
<rect x="133.56" y="491.68" width="37.3" height="37.3" fill="none" stroke="#111" stroke-width="1.6"/>
<rect x="111.18" y="536.44" width="14.92" height="14.92" fill="none" stroke="#111" stroke-width="1.6"/>
<rect x="96.26" y="551.36" width="14.92" height="14.92" fill="none" stroke="#111" stroke-width="1.6"/>
<rect x="305.14" y="327.56" width="7.46" height="14.92" fill="none" stroke="#6e6e6e" stroke-width="1.4"/>
<rect x="327.52" y="349.94" width="7.46" height="7.46" fill="none" stroke="#6e6e6e" stroke-width="1.4"/>
<rect x="111.18" y="454.38" width="14.92" height="7.46" fill="none" stroke="#6e6e6e" stroke-width="1.4"/>
<rect x="119.34" y="455.08" width="6.06" height="6.06" fill="#fbe3d6"/>
<rect x="200.7" y="536.44" width="7.46" height="14.92" fill="none" stroke="#6e6e6e" stroke-width="1.4"/>
<rect x="88.5" y="245.2" width="328.84" height="328.84" fill="none" stroke="#2a2a2a" stroke-width="1.6"/>
<rect x="358.5" y="250.6" width="43" height="7.6" fill="#fff" opacity="0.85"/>
<text x="360" y="257.3" font-size="6.9" fill="#222" textLength="39.2" lengthAdjust="spacingAndGlyphs">BCR pathway</text>
<text x="340.2" y="332.6" font-size="6.9" fill="#222" textLength="23.9" lengthAdjust="spacingAndGlyphs">Immuno-</text>
<text x="340.2" y="340.1" font-size="6.9" fill="#222" textLength="30.5" lengthAdjust="spacingAndGlyphs">modulatory</text>
<text x="287.5" y="393.3" font-size="6.9" fill="#222" textLength="10.2" lengthAdjust="spacingAndGlyphs">JAK</text>
<rect x="131" y="482.3" width="41.5" height="7" fill="#fff" opacity="0.55"/>
<text x="131.5" y="487.6" font-size="6.9" fill="#222" textLength="40.4" lengthAdjust="spacingAndGlyphs">Chemotherapy</text>
<text x="130" y="547.7" font-size="6.9" fill="#222" textLength="36.7" lengthAdjust="spacingAndGlyphs">BCL2/MCL1</text>
<text x="115.6" y="562.2" font-size="6.9" fill="#222" textLength="33.9" lengthAdjust="spacingAndGlyphs">Proteasome</text>
<text x="109.8" y="450.4" font-size="6.9" fill="#777" textLength="16.4" lengthAdjust="spacingAndGlyphs">BCL2</text>
<text transform="translate(218.9,552) rotate(-90)" font-size="6.9" fill="#777" textLength="15.9" lengthAdjust="spacingAndGlyphs">BCL2</text>
<text x="422" y="252.73" font-size="6.5" fill="#222" textLength="34.1" lengthAdjust="spacingAndGlyphs">PRT062607</text>
<text x="422" y="260.19" font-size="6.5" fill="#222" textLength="29.67" lengthAdjust="spacingAndGlyphs">Palbociclib</text>
<text x="422" y="267.65" font-size="6.5" fill="#222" textLength="25.88" lengthAdjust="spacingAndGlyphs">Dasatinib</text>
<text x="422" y="275.11" font-size="6.5" fill="#222" textLength="33.47" lengthAdjust="spacingAndGlyphs">Sotrastaurin</text>
<text x="422" y="282.57" font-size="6.5" fill="#222" textLength="22.08" lengthAdjust="spacingAndGlyphs">Ibrutinib</text>
<text x="422" y="290.03" font-size="6.5" fill="#222" textLength="24.15" lengthAdjust="spacingAndGlyphs">Idelalisib</text>
<text x="422" y="297.49" font-size="6.5" fill="#222" textLength="25.18" lengthAdjust="spacingAndGlyphs">Duvelisib</text>
<text x="422" y="304.95" font-size="6.5" fill="#222" textLength="26.88" lengthAdjust="spacingAndGlyphs">EVP4593</text>
<text x="422" y="312.41" font-size="6.5" fill="#222" textLength="45.2" lengthAdjust="spacingAndGlyphs">Dexamethasone</text>
<text x="422" y="319.87" font-size="6.5" fill="#222" textLength="41.65" lengthAdjust="spacingAndGlyphs">IRAK4 inhibitor</text>
<text x="422" y="327.33" font-size="6.5" fill="#222" textLength="30.7" lengthAdjust="spacingAndGlyphs">Everolimus</text>
<text x="422" y="334.79" font-size="6.5" fill="#222" textLength="36.93" lengthAdjust="spacingAndGlyphs">Lenalidomide</text>
<text x="422" y="342.25" font-size="6.5" fill="#222" textLength="39.33" lengthAdjust="spacingAndGlyphs">Pomalidomide</text>
<text x="422" y="349.71" font-size="6.5" fill="#222" textLength="41.65" lengthAdjust="spacingAndGlyphs">IRAK1 inhibitor</text>
<text x="422" y="357.17" font-size="6.5" fill="#222" textLength="26.22" lengthAdjust="spacingAndGlyphs">Plerixafor</text>
<text x="422" y="364.63" font-size="6.5" fill="#222" textLength="30.72" lengthAdjust="spacingAndGlyphs">Enasidenib</text>
<text x="422" y="372.09" font-size="6.5" fill="#222" textLength="23.77" lengthAdjust="spacingAndGlyphs">MK2206</text>
<text x="422" y="379.55" font-size="6.5" fill="#222" textLength="30.87" lengthAdjust="spacingAndGlyphs">I−BET−762</text>
<text x="422" y="387.01" font-size="6.5" fill="#222" textLength="28.29" lengthAdjust="spacingAndGlyphs">Tofacitinib</text>
<text x="422" y="394.47" font-size="6.5" fill="#222" textLength="29.92" lengthAdjust="spacingAndGlyphs">Pyridone 6</text>
<text x="422" y="401.93" font-size="6.5" fill="#222" textLength="28.64" lengthAdjust="spacingAndGlyphs">Ruxolitinib</text>
<text x="422" y="409.39" font-size="6.5" fill="#222" textLength="32.43" lengthAdjust="spacingAndGlyphs">Selumetinib</text>
<text x="422" y="416.85" font-size="6.5" fill="#222" textLength="32.9" lengthAdjust="spacingAndGlyphs">LY2228820</text>
<text x="422" y="424.31" font-size="6.5" fill="#222" textLength="34.17" lengthAdjust="spacingAndGlyphs">Thioguanine</text>
<text x="422" y="431.77" font-size="6.5" fill="#222" textLength="31.05" lengthAdjust="spacingAndGlyphs">Rapamycin</text>
<text x="422" y="439.23" font-size="6.5" fill="#222" textLength="24.31" lengthAdjust="spacingAndGlyphs">CPI−169</text>
<text x="422" y="446.69" font-size="6.5" fill="#222" textLength="29.67" lengthAdjust="spacingAndGlyphs">Quizartinib</text>
<text x="422" y="454.15" font-size="6.5" fill="#222" textLength="37.22" lengthAdjust="spacingAndGlyphs">BAY11−7085</text>
<text x="422" y="461.61" font-size="6.5" fill="#222" textLength="54.59" lengthAdjust="spacingAndGlyphs">Obatoclax mesylate</text>
<text x="423.4" y="469.07" font-size="6.5" fill="#222" textLength="11.55" lengthAdjust="spacingAndGlyphs">JQ1</text>
<text x="422" y="476.53" font-size="6.5" fill="#222" textLength="32.09" lengthAdjust="spacingAndGlyphs">Midostaurin</text>
<text x="422" y="483.99" font-size="6.5" fill="#222" textLength="25.88" lengthAdjust="spacingAndGlyphs">Selinexor</text>
<text x="422" y="491.45" font-size="6.5" fill="#222" textLength="37.22" lengthAdjust="spacingAndGlyphs">BAY61−3606</text>
<text x="422" y="498.91" font-size="6.5" fill="#222" textLength="36.23" lengthAdjust="spacingAndGlyphs">Doxorubicine</text>
<text x="422" y="506.37" font-size="6.5" fill="#222" textLength="24.74" lengthAdjust="spacingAndGlyphs">Nutlin 3a</text>
<text x="422" y="513.83" font-size="6.5" fill="#222" textLength="30.02" lengthAdjust="spacingAndGlyphs">Cytarabine</text>
<text x="422" y="521.29" font-size="6.5" fill="#222" textLength="32.78" lengthAdjust="spacingAndGlyphs">Fludarabine</text>
<text x="422" y="528.75" font-size="6.5" fill="#222" textLength="31.75" lengthAdjust="spacingAndGlyphs">Ganetespib</text>
<text x="422" y="536.21" font-size="6.5" fill="#222" textLength="27.95" lengthAdjust="spacingAndGlyphs">Vorinostat</text>
<text x="422" y="543.67" font-size="6.5" fill="#222" textLength="30.71" lengthAdjust="spacingAndGlyphs">Venetoclax</text>
<text x="422" y="551.13" font-size="6.5" fill="#222" textLength="21.72" lengthAdjust="spacingAndGlyphs">UMI−77</text>
<text x="422" y="558.59" font-size="6.5" fill="#222" textLength="31.04" lengthAdjust="spacingAndGlyphs">Carfilzomib</text>
<text x="422" y="566.05" font-size="6.5" fill="#222" textLength="24.84" lengthAdjust="spacingAndGlyphs">Ixazomib</text>
<text x="422" y="573.51" font-size="6.5" fill="#222" textLength="41.3" lengthAdjust="spacingAndGlyphs">Bafilomycin A1</text>
<text transform="translate(95.43,577.1) rotate(-90)" x="-41.3" y="0" font-size="6.5" fill="#222" textLength="41.3" lengthAdjust="spacingAndGlyphs">Bafilomycin A1</text>
<text transform="translate(102.89,577.1) rotate(-90)" x="-24.84" y="0" font-size="6.5" fill="#222" textLength="24.84" lengthAdjust="spacingAndGlyphs">Ixazomib</text>
<text transform="translate(110.35,577.1) rotate(-90)" x="-31.04" y="0" font-size="6.5" fill="#222" textLength="31.04" lengthAdjust="spacingAndGlyphs">Carfilzomib</text>
<text transform="translate(117.81,577.1) rotate(-90)" x="-21.72" y="0" font-size="6.5" fill="#222" textLength="21.72" lengthAdjust="spacingAndGlyphs">UMI−77</text>
<text transform="translate(125.27,577.1) rotate(-90)" x="-30.71" y="0" font-size="6.5" fill="#222" textLength="30.71" lengthAdjust="spacingAndGlyphs">Venetoclax</text>
<text transform="translate(132.73,577.1) rotate(-90)" x="-27.95" y="0" font-size="6.5" fill="#222" textLength="27.95" lengthAdjust="spacingAndGlyphs">Vorinostat</text>
<text transform="translate(140.19,577.1) rotate(-90)" x="-31.75" y="0" font-size="6.5" fill="#222" textLength="31.75" lengthAdjust="spacingAndGlyphs">Ganetespib</text>
<text transform="translate(147.65,577.1) rotate(-90)" x="-32.78" y="0" font-size="6.5" fill="#222" textLength="32.78" lengthAdjust="spacingAndGlyphs">Fludarabine</text>
<text transform="translate(155.11,577.1) rotate(-90)" x="-30.02" y="0" font-size="6.5" fill="#222" textLength="30.02" lengthAdjust="spacingAndGlyphs">Cytarabine</text>
<text transform="translate(162.57,577.1) rotate(-90)" x="-24.74" y="0" font-size="6.5" fill="#222" textLength="24.74" lengthAdjust="spacingAndGlyphs">Nutlin 3a</text>
<text transform="translate(170.03,577.1) rotate(-90)" x="-36.23" y="0" font-size="6.5" fill="#222" textLength="36.23" lengthAdjust="spacingAndGlyphs">Doxorubicine</text>
<text transform="translate(177.49,577.1) rotate(-90)" x="-37.22" y="0" font-size="6.5" fill="#222" textLength="37.22" lengthAdjust="spacingAndGlyphs">BAY61−3606</text>
<text transform="translate(184.95,577.1) rotate(-90)" x="-25.88" y="0" font-size="6.5" fill="#222" textLength="25.88" lengthAdjust="spacingAndGlyphs">Selinexor</text>
<text transform="translate(192.41,577.1) rotate(-90)" x="-32.09" y="0" font-size="6.5" fill="#222" textLength="32.09" lengthAdjust="spacingAndGlyphs">Midostaurin</text>
<text transform="translate(199.87,577.1) rotate(-90)" x="-11.55" y="0" font-size="6.5" fill="#222" textLength="11.55" lengthAdjust="spacingAndGlyphs">JQ1</text>
<text transform="translate(207.33,577.1) rotate(-90)" x="-54.59" y="0" font-size="6.5" fill="#222" textLength="54.59" lengthAdjust="spacingAndGlyphs">Obatoclax mesylate</text>
<text transform="translate(214.79,577.1) rotate(-90)" x="-37.22" y="0" font-size="6.5" fill="#222" textLength="37.22" lengthAdjust="spacingAndGlyphs">BAY11−7085</text>
<text transform="translate(222.25,577.1) rotate(-90)" x="-29.67" y="0" font-size="6.5" fill="#222" textLength="29.67" lengthAdjust="spacingAndGlyphs">Quizartinib</text>
<text transform="translate(229.71,577.1) rotate(-90)" x="-24.31" y="0" font-size="6.5" fill="#222" textLength="24.31" lengthAdjust="spacingAndGlyphs">CPI−169</text>
<text transform="translate(237.17,577.1) rotate(-90)" x="-31.05" y="0" font-size="6.5" fill="#222" textLength="31.05" lengthAdjust="spacingAndGlyphs">Rapamycin</text>
<text transform="translate(244.63,577.1) rotate(-90)" x="-34.17" y="0" font-size="6.5" fill="#222" textLength="34.17" lengthAdjust="spacingAndGlyphs">Thioguanine</text>
<text transform="translate(252.09,577.1) rotate(-90)" x="-32.9" y="0" font-size="6.5" fill="#222" textLength="32.9" lengthAdjust="spacingAndGlyphs">LY2228820</text>
<text transform="translate(259.55,577.1) rotate(-90)" x="-32.43" y="0" font-size="6.5" fill="#222" textLength="32.43" lengthAdjust="spacingAndGlyphs">Selumetinib</text>
<text transform="translate(267.01,577.1) rotate(-90)" x="-28.64" y="0" font-size="6.5" fill="#222" textLength="28.64" lengthAdjust="spacingAndGlyphs">Ruxolitinib</text>
<text transform="translate(274.47,577.1) rotate(-90)" x="-29.92" y="0" font-size="6.5" fill="#222" textLength="29.92" lengthAdjust="spacingAndGlyphs">Pyridone 6</text>
<text transform="translate(281.93,577.1) rotate(-90)" x="-28.29" y="0" font-size="6.5" fill="#222" textLength="28.29" lengthAdjust="spacingAndGlyphs">Tofacitinib</text>
<text transform="translate(289.39,577.1) rotate(-90)" x="-30.87" y="0" font-size="6.5" fill="#222" textLength="30.87" lengthAdjust="spacingAndGlyphs">I−BET−762</text>
<text transform="translate(296.85,577.1) rotate(-90)" x="-23.77" y="0" font-size="6.5" fill="#222" textLength="23.77" lengthAdjust="spacingAndGlyphs">MK2206</text>
<text transform="translate(304.31,577.1) rotate(-90)" x="-30.72" y="0" font-size="6.5" fill="#222" textLength="30.72" lengthAdjust="spacingAndGlyphs">Enasidenib</text>
<text transform="translate(311.77,577.1) rotate(-90)" x="-26.22" y="0" font-size="6.5" fill="#222" textLength="26.22" lengthAdjust="spacingAndGlyphs">Plerixafor</text>
<text transform="translate(319.23,577.1) rotate(-90)" x="-41.65" y="0" font-size="6.5" fill="#222" textLength="41.65" lengthAdjust="spacingAndGlyphs">IRAK1 inhibitor</text>
<text transform="translate(326.69,577.1) rotate(-90)" x="-39.33" y="0" font-size="6.5" fill="#222" textLength="39.33" lengthAdjust="spacingAndGlyphs">Pomalidomide</text>
<text transform="translate(334.15,577.1) rotate(-90)" x="-36.93" y="0" font-size="6.5" fill="#222" textLength="36.93" lengthAdjust="spacingAndGlyphs">Lenalidomide</text>
<text transform="translate(341.61,577.1) rotate(-90)" x="-30.7" y="0" font-size="6.5" fill="#222" textLength="30.7" lengthAdjust="spacingAndGlyphs">Everolimus</text>
<text transform="translate(349.07,577.1) rotate(-90)" x="-41.65" y="0" font-size="6.5" fill="#222" textLength="41.65" lengthAdjust="spacingAndGlyphs">IRAK4 inhibitor</text>
<text transform="translate(356.53,577.1) rotate(-90)" x="-45.2" y="0" font-size="6.5" fill="#222" textLength="45.2" lengthAdjust="spacingAndGlyphs">Dexamethasone</text>
<text transform="translate(363.99,577.1) rotate(-90)" x="-26.88" y="0" font-size="6.5" fill="#222" textLength="26.88" lengthAdjust="spacingAndGlyphs">EVP4593</text>
<text transform="translate(371.45,577.1) rotate(-90)" x="-25.18" y="0" font-size="6.5" fill="#222" textLength="25.18" lengthAdjust="spacingAndGlyphs">Duvelisib</text>
<text transform="translate(378.91,577.1) rotate(-90)" x="-24.15" y="0" font-size="6.5" fill="#222" textLength="24.15" lengthAdjust="spacingAndGlyphs">Idelalisib</text>
<text transform="translate(386.37,577.1) rotate(-90)" x="-22.08" y="0" font-size="6.5" fill="#222" textLength="22.08" lengthAdjust="spacingAndGlyphs">Ibrutinib</text>
<text transform="translate(393.83,577.1) rotate(-90)" x="-33.47" y="0" font-size="6.5" fill="#222" textLength="33.47" lengthAdjust="spacingAndGlyphs">Sotrastaurin</text>
<text transform="translate(401.29,577.1) rotate(-90)" x="-25.88" y="0" font-size="6.5" fill="#222" textLength="25.88" lengthAdjust="spacingAndGlyphs">Dasatinib</text>
<text transform="translate(408.75,577.1) rotate(-90)" x="-29.67" y="0" font-size="6.5" fill="#222" textLength="29.67" lengthAdjust="spacingAndGlyphs">Palbociclib</text>
<text transform="translate(416.21,577.1) rotate(-90)" x="-34.1" y="0" font-size="6.5" fill="#222" textLength="34.1" lengthAdjust="spacingAndGlyphs">PRT062607</text>
<defs><linearGradient id="go" x1="0" x2="1" y1="0" y2="0"><stop offset="0" stop-color="#fff"/><stop offset="1" stop-color="#e8733c"/></linearGradient>
<linearGradient id="gb" x1="0" x2="1" y1="0" y2="0"><stop offset="0" stop-color="#fff"/><stop offset="1" stop-color="#3d6db6"/></linearGradient></defs>
<text x="112.3" y="229.3" font-size="6.5" fill="#222">Profile similarity</text>
<rect x="166.5" y="224" width="78" height="6.3" fill="url(#go)"/>
<rect x="263.8" y="223.8" width="78" height="6.3" fill="url(#gb)"/>
<text x="205.2" y="218.7" font-size="6.5" text-anchor="middle" fill="#222">Coculture</text>
<text x="302.8" y="218.7" font-size="6.5" text-anchor="middle" fill="#222">Monoculture</text>
<text x="166.5" y="239.8" font-size="6.5" text-anchor="middle" fill="#222">0.00</text>
<text x="263.8" y="239.8" font-size="6.5" text-anchor="middle" fill="#222">0.00</text>
<text x="186" y="239.8" font-size="6.5" text-anchor="middle" fill="#222">0.25</text>
<text x="283.3" y="239.8" font-size="6.5" text-anchor="middle" fill="#222">0.25</text>
<text x="205.5" y="239.8" font-size="6.5" text-anchor="middle" fill="#222">0.50</text>
<text x="302.8" y="239.8" font-size="6.5" text-anchor="middle" fill="#222">0.50</text>
<text x="225" y="239.8" font-size="6.5" text-anchor="middle" fill="#222">0.75</text>
<text x="322.3" y="239.8" font-size="6.5" text-anchor="middle" fill="#222">0.75</text>
<text x="244.5" y="239.8" font-size="6.5" text-anchor="middle" fill="#222">1.00</text>
<text x="341.8" y="239.8" font-size="6.5" text-anchor="middle" fill="#222">1.00</text>
<path fill="none" stroke="#2a2a2a" stroke-width="1" d="M86.9 279.5H80.5V286.5H86.9M86.9 293.5H81.5V301.5H86.9M81.3 297.5H80.5V308.5H86.9M80 282.5H78.5V303.5H80M86.9 271.5H76.5V293.5H78.5M86.9 264.5H73.5V282.5H76.5M86.9 256.5H70.5V273.5H73.8M86.9 249.5H67.5V264.5H70.6M86.9 323.5H74.5V331.5H86.9M86.9 338.5H80.5V346.5H86.9M86.9 353.5H80.5V361.5H86.9M80.3 342.5H77.5V357.5H80.3M86.9 368.5H78.5V376.5H86.9M77.9 349.5H75.5V372.5H78.4M86.9 383.5H78.5V390.5H86.9M75.5 361.5H72.5V387.5H78.4M86.9 398.5H81.5V405.5H86.9M86.9 413.5H81.5V420.5H86.9M81.4 402.5H79.5V417.5H81.4M86.9 435.5H82.5V443.5H86.9M86.9 428.5H79.5V439.5H82.5M79.6 409.5H75.5V433.5H79.6M75.5 421.5H72.5V450.5H86.9M72.6 374.5H70.5V436.5H72.4M74.3 327.5H69.5V405.5H70.2M86.9 316.5H67.5V366.5H69.4M67.5 257.5H64.5V341.5H67.3M86.9 480.5H76.5V487.5H86.9M76.2 484.5H74.5V495.5H86.9M86.9 502.5H74.5V510.5H86.9M74.6 489.5H71.5V506.5H74.6M86.9 473.5H65.5V498.5H71.5M86.9 465.5H64.5V485.5H65.4M86.9 458.5H61.5V475.5H64.6M64.4 299.5H58.5V466.5H61.5M86.9 517.5H65.5V525.5H86.9M86.9 532.5H67.5V540.5H86.9M65.4 521.5H63.5V536.5H67.7M86.9 547.5H67.5V555.5H86.9M67.7 551.5H66.5V562.5H86.9M63.8 528.5H58.5V556.5H66.2M58.5 383.5H49.5V542.5H58.5M49.7 463.5H43.5V570.5H86.9"/>
<rect x="0.5" y="0.5" width="519" height="639" fill="none" stroke="#4a4a4a" stroke-width="1"/>
</svg></body></html>
